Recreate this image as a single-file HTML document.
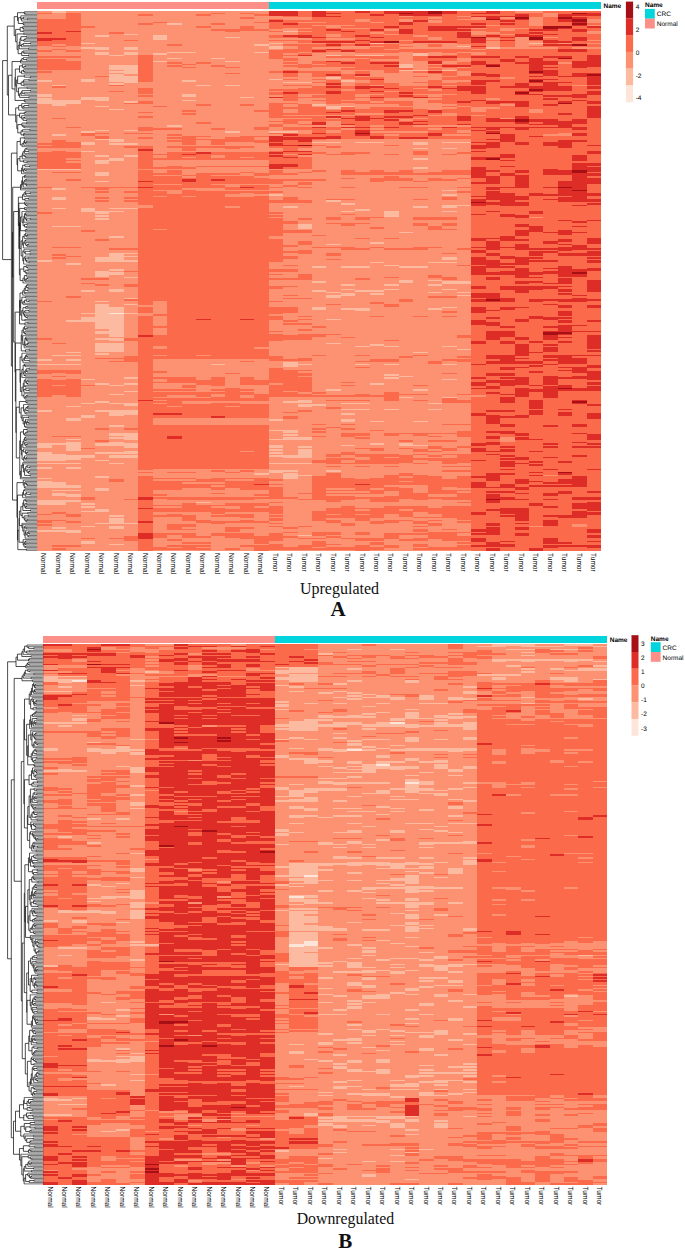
<!DOCTYPE html>
<html lang="en"><head><meta charset="utf-8"><title>Heatmaps: Upregulated / Downregulated</title>
<style>html,body{margin:0;padding:0;background:#fff}svg{display:block}</style></head>
<body>
<svg width="685" height="1250" viewBox="0 0 685 1250" font-family="'Liberation Sans', Arial, sans-serif" shape-rendering="crispEdges">
<rect width="685" height="1250" fill="#fff"/>
<g id="panelA">
<rect x="37.1" y="1.75" width="231.47" height="7" fill="#FD8F89"/><rect x="268.57" y="1.75" width="332.73" height="7" fill="#00D5DD"/>
<rect x="37.1" y="11" width="564.2" height="540" fill="#FC9272"/>
<path fill="#FEE5D9" d="M109.43 312.5h14.47v1.5h-14.47z"/>
<path fill="#FCBBA1" d="M51.57 11h14.47v1.5h-14.47zM167.3 23h14.47v1.5h-14.47zM283.03 30.5h14.47v1.5h-14.47zM123.9 33.5h14.47v1.5h-14.47zM94.97 35h14.47v1.5h-14.47zM152.83 35h14.47v1.5h-14.47zM152.83 36.5h14.47v1.5h-14.47zM225.17 36.5h14.47v1.5h-14.47zM152.83 38h14.47v1.5h-14.47zM80.5 42.5h14.47v1.5h-14.47zM268.57 42.5h14.47v1.5h-14.47zM369.83 42.5h14.47v1.5h-14.47zM528.97 42.5h14.47v1.5h-14.47zM254.1 44h14.47v1.5h-14.47zM268.57 45.5h14.47v1.5h-14.47zM456.63 45.5h14.47v1.5h-14.47zM80.5 47h28.93v1.5h-28.93zM123.9 47h14.47v1.5h-14.47zM268.57 47h14.47v1.5h-14.47zM485.57 47h14.47v1.5h-14.47zM94.97 48.5h14.47v1.5h-14.47zM123.9 48.5h14.47v1.5h-14.47zM94.97 51.5h14.47v1.5h-14.47zM123.9 51.5h14.47v1.5h-14.47zM167.3 51.5h28.93v1.5h-28.93zM254.1 51.5h14.47v1.5h-14.47zM94.97 53h14.47v1.5h-14.47zM123.9 53h14.47v1.5h-14.47zM152.83 53h14.47v1.5h-14.47zM413.23 53h14.47v1.5h-14.47zM109.43 54.5h14.47v1.5h-14.47zM326.43 54.5h14.47v1.5h-14.47zM355.37 54.5h28.93v1.5h-28.93zM413.23 54.5h14.47v1.5h-14.47zM167.3 57.5h14.47v1.5h-14.47zM210.7 57.5h14.47v1.5h-14.47zM152.83 60.5h14.47v1.5h-14.47zM225.17 60.5h14.47v1.5h-14.47zM398.77 63.5h14.47v1.5h-14.47zM109.43 65h28.93v1.5h-28.93zM398.77 65h14.47v1.5h-14.47zM109.43 66.5h28.93v1.5h-28.93zM398.77 66.5h14.47v1.5h-14.47zM109.43 68h28.93v1.5h-28.93zM123.9 69.5h14.47v1.5h-14.47zM398.77 69.5h28.93v1.5h-28.93zM442.17 69.5h14.47v1.5h-14.47zM109.43 71h28.93v1.5h-28.93zM123.9 72.5h14.47v1.5h-14.47zM109.43 74h14.47v1.5h-14.47zM109.43 75.5h28.93v1.5h-28.93zM109.43 77h28.93v1.5h-28.93zM326.43 77h14.47v1.5h-14.47zM80.5 78.5h14.47v1.5h-14.47zM109.43 78.5h28.93v1.5h-28.93zM268.57 78.5h14.47v1.5h-14.47zM37.1 80h14.47v1.5h-14.47zM80.5 80h14.47v1.5h-14.47zM109.43 80h28.93v1.5h-28.93zM181.77 80h14.47v1.5h-14.47zM340.9 80h14.47v1.5h-14.47zM123.9 81.5h14.47v1.5h-14.47zM283.03 81.5h28.93v1.5h-28.93zM109.43 83h14.47v1.5h-14.47zM51.57 84.5h14.47v1.5h-14.47zM196.23 84.5h14.47v1.5h-14.47zM225.17 84.5h14.47v1.5h-14.47zM37.1 93.5h14.47v1.5h-14.47zM181.77 93.5h14.47v1.5h-14.47zM37.1 95h14.47v1.5h-14.47zM181.77 95h14.47v1.5h-14.47zM80.5 96.5h28.93v1.5h-28.93zM239.63 96.5h14.47v1.5h-14.47zM37.1 98h14.47v1.5h-14.47zM80.5 98h28.93v1.5h-28.93zM37.1 99.5h43.4v1.5h-43.4zM94.97 99.5h14.47v1.5h-14.47zM181.77 99.5h14.47v1.5h-14.47zM37.1 101h43.4v1.5h-43.4zM123.9 101h14.47v1.5h-14.47zM37.1 102.5h43.4v1.5h-43.4zM51.57 104h14.47v1.5h-14.47zM311.97 104h14.47v1.5h-14.47zM94.97 105.5h14.47v1.5h-14.47zM326.43 105.5h28.93v1.5h-28.93zM326.43 107h14.47v1.5h-14.47zM109.43 108.5h14.47v1.5h-14.47zM167.3 125h14.47v1.5h-14.47zM94.97 129.5h14.47v1.5h-14.47zM123.9 129.5h14.47v1.5h-14.47zM80.5 131h14.47v1.5h-14.47zM225.17 131h14.47v1.5h-14.47zM268.57 131h28.93v1.5h-28.93zM51.57 134h14.47v1.5h-14.47zM94.97 138.5h28.93v1.5h-28.93zM109.43 140h14.47v1.5h-14.47zM80.5 141.5h14.47v1.5h-14.47zM311.97 141.5h28.93v1.5h-28.93zM355.37 141.5h28.93v1.5h-28.93zM413.23 141.5h14.47v1.5h-14.47zM442.17 141.5h28.93v1.5h-28.93zM80.5 143h14.47v1.5h-14.47zM109.43 143h28.93v1.5h-28.93zM413.23 143h14.47v1.5h-14.47zM413.23 147.5h14.47v1.5h-14.47zM442.17 147.5h14.47v1.5h-14.47zM80.5 150.5h14.47v1.5h-14.47zM94.97 155h14.47v1.5h-14.47zM123.9 155h14.47v1.5h-14.47zM109.43 158h14.47v1.5h-14.47zM413.23 158h14.47v1.5h-14.47zM94.97 159.5h28.93v1.5h-28.93zM94.97 161h14.47v1.5h-14.47zM94.97 162.5h14.47v1.5h-14.47zM413.23 167h14.47v1.5h-14.47zM37.1 168.5h43.4v1.5h-43.4zM94.97 171.5h14.47v1.5h-14.47zM94.97 173h14.47v1.5h-14.47zM94.97 174.5h14.47v1.5h-14.47zM94.97 180.5h14.47v1.5h-14.47zM51.57 188h14.47v1.5h-14.47zM442.17 189.5h14.47v1.5h-14.47zM268.57 194h14.47v1.5h-14.47zM442.17 194h14.47v1.5h-14.47zM51.57 197h14.47v1.5h-14.47zM51.57 198.5h14.47v1.5h-14.47zM326.43 200h14.47v1.5h-14.47zM340.9 203h14.47v1.5h-14.47zM442.17 204.5h28.93v1.5h-28.93zM283.03 206h14.47v1.5h-14.47zM413.23 206h14.47v1.5h-14.47zM442.17 206h14.47v1.5h-14.47zM51.57 207.5h14.47v1.5h-14.47zM80.5 207.5h14.47v1.5h-14.47zM109.43 207.5h28.93v1.5h-28.93zM80.5 209h14.47v1.5h-14.47zM355.37 209h14.47v1.5h-14.47zM80.5 210.5h43.4v1.5h-43.4zM340.9 210.5h14.47v1.5h-14.47zM384.3 210.5h14.47v1.5h-14.47zM442.17 210.5h14.47v1.5h-14.47zM94.97 212h14.47v1.5h-14.47zM384.3 212h14.47v1.5h-14.47zM384.3 213.5h14.47v1.5h-14.47zM94.97 215h14.47v1.5h-14.47zM384.3 215h14.47v1.5h-14.47zM94.97 218h14.47v1.5h-14.47zM297.5 224h14.47v1.5h-14.47zM51.57 225.5h28.93v1.5h-28.93zM297.5 225.5h14.47v1.5h-14.47zM297.5 227h14.47v1.5h-14.47zM398.77 231.5h14.47v1.5h-14.47zM109.43 236h14.47v1.5h-14.47zM369.83 242h14.47v1.5h-14.47zM326.43 243.5h14.47v1.5h-14.47zM109.43 252.5h28.93v1.5h-28.93zM109.43 254h14.47v1.5h-14.47zM109.43 255.5h28.93v1.5h-28.93zM94.97 257h28.93v1.5h-28.93zM442.17 257h14.47v1.5h-14.47zM94.97 258.5h28.93v1.5h-28.93zM442.17 258.5h14.47v1.5h-14.47zM37.1 260h14.47v1.5h-14.47zM94.97 260h43.4v1.5h-43.4zM369.83 261.5h14.47v1.5h-14.47zM427.7 261.5h28.93v1.5h-28.93zM66.03 263h14.47v1.5h-14.47zM384.3 264.5h14.47v1.5h-14.47zM311.97 266h14.47v1.5h-14.47zM340.9 266h28.93v1.5h-28.93zM398.77 266h28.93v1.5h-28.93zM109.43 269h14.47v1.5h-14.47zM94.97 270.5h14.47v1.5h-14.47zM94.97 272h28.93v1.5h-28.93zM94.97 273.5h28.93v1.5h-28.93zM94.97 275h14.47v1.5h-14.47zM123.9 276.5h14.47v1.5h-14.47zM398.77 279.5h14.47v1.5h-14.47zM427.7 279.5h14.47v1.5h-14.47zM311.97 281h14.47v1.5h-14.47zM398.77 281h14.47v1.5h-14.47zM442.17 281h28.93v1.5h-28.93zM442.17 282.5h28.93v1.5h-28.93zM340.9 284h14.47v1.5h-14.47zM384.3 284h14.47v1.5h-14.47zM427.7 284h14.47v1.5h-14.47zM109.43 288.5h14.47v1.5h-14.47zM340.9 288.5h14.47v1.5h-14.47zM384.3 288.5h14.47v1.5h-14.47zM442.17 288.5h14.47v1.5h-14.47zM80.5 290h14.47v1.5h-14.47zM109.43 290h14.47v1.5h-14.47zM311.97 290h14.47v1.5h-14.47zM355.37 290h28.93v1.5h-28.93zM326.43 291.5h14.47v1.5h-14.47zM427.7 291.5h14.47v1.5h-14.47zM456.63 291.5h14.47v1.5h-14.47zM340.9 293h14.47v1.5h-14.47zM369.83 293h14.47v1.5h-14.47zM326.43 294.5h28.93v1.5h-28.93zM456.63 294.5h14.47v1.5h-14.47zM326.43 296h14.47v1.5h-14.47zM123.9 297.5h14.47v1.5h-14.47zM94.97 300.5h14.47v1.5h-14.47zM94.97 303.5h14.47v1.5h-14.47zM123.9 303.5h14.47v1.5h-14.47zM94.97 305h14.47v1.5h-14.47zM94.97 306.5h28.93v1.5h-28.93zM311.97 306.5h14.47v1.5h-14.47zM442.17 306.5h14.47v1.5h-14.47zM94.97 308h28.93v1.5h-28.93zM311.97 308h14.47v1.5h-14.47zM340.9 308h28.93v1.5h-28.93zM427.7 308h14.47v1.5h-14.47zM94.97 309.5h28.93v1.5h-28.93zM355.37 309.5h14.47v1.5h-14.47zM94.97 311h28.93v1.5h-28.93zM80.5 312.5h28.93v1.5h-28.93zM123.9 312.5h14.47v1.5h-14.47zM94.97 314h28.93v1.5h-28.93zM94.97 315.5h28.93v1.5h-28.93zM80.5 317h43.4v1.5h-43.4zM80.5 318.5h43.4v1.5h-43.4zM326.43 318.5h14.47v1.5h-14.47zM66.03 320h57.87v1.5h-57.87zM94.97 321.5h28.93v1.5h-28.93zM94.97 323h28.93v1.5h-28.93zM94.97 324.5h28.93v1.5h-28.93zM94.97 326h28.93v1.5h-28.93zM94.97 327.5h28.93v1.5h-28.93zM109.43 329h14.47v1.5h-14.47zM94.97 330.5h28.93v1.5h-28.93zM94.97 332h28.93v1.5h-28.93zM109.43 333.5h14.47v1.5h-14.47zM109.43 335h14.47v1.5h-14.47zM94.97 338h28.93v1.5h-28.93zM109.43 339.5h14.47v1.5h-14.47zM94.97 342.5h28.93v1.5h-28.93zM326.43 342.5h14.47v1.5h-14.47zM94.97 344h28.93v1.5h-28.93zM369.83 344h14.47v1.5h-14.47zM94.97 345.5h28.93v1.5h-28.93zM355.37 345.5h14.47v1.5h-14.47zM384.3 345.5h14.47v1.5h-14.47zM442.17 345.5h14.47v1.5h-14.47zM94.97 347h28.93v1.5h-28.93zM94.97 348.5h28.93v1.5h-28.93zM456.63 348.5h14.47v1.5h-14.47zM94.97 350h28.93v1.5h-28.93zM66.03 351.5h14.47v1.5h-14.47zM413.23 351.5h14.47v1.5h-14.47zM94.97 353h14.47v1.5h-14.47zM51.57 354.5h28.93v1.5h-28.93zM37.1 359h14.47v1.5h-14.47zM66.03 359h14.47v1.5h-14.47zM283.03 362h14.47v1.5h-14.47zM37.1 363.5h43.4v1.5h-43.4zM210.7 363.5h14.47v1.5h-14.47zM283.03 363.5h28.93v1.5h-28.93zM355.37 363.5h14.47v1.5h-14.47zM384.3 363.5h14.47v1.5h-14.47zM442.17 363.5h14.47v1.5h-14.47zM283.03 365h14.47v1.5h-14.47zM384.3 374h14.47v1.5h-14.47zM398.77 375.5h14.47v1.5h-14.47zM123.9 377h14.47v1.5h-14.47zM384.3 377h14.47v1.5h-14.47zM80.5 378.5h14.47v1.5h-14.47zM442.17 378.5h14.47v1.5h-14.47zM94.97 383h14.47v1.5h-14.47zM123.9 383h14.47v1.5h-14.47zM369.83 383h14.47v1.5h-14.47zM109.43 384.5h14.47v1.5h-14.47zM326.43 389h14.47v1.5h-14.47zM413.23 389h14.47v1.5h-14.47zM123.9 390.5h14.47v1.5h-14.47zM109.43 393.5h14.47v1.5h-14.47zM398.77 396.5h14.47v1.5h-14.47zM442.17 396.5h14.47v1.5h-14.47zM297.5 399.5h14.47v1.5h-14.47zM94.97 401h14.47v1.5h-14.47zM283.03 401h28.93v1.5h-28.93zM80.5 402.5h14.47v1.5h-14.47zM109.43 402.5h28.93v1.5h-28.93zM340.9 402.5h28.93v1.5h-28.93zM427.7 402.5h14.47v1.5h-14.47zM123.9 404h14.47v1.5h-14.47zM297.5 404h28.93v1.5h-28.93zM66.03 405.5h14.47v1.5h-14.47zM297.5 405.5h14.47v1.5h-14.47zM340.9 408.5h28.93v1.5h-28.93zM384.3 408.5h14.47v1.5h-14.47zM427.7 408.5h14.47v1.5h-14.47zM37.1 410h14.47v1.5h-14.47zM94.97 410h43.4v1.5h-43.4zM109.43 411.5h28.93v1.5h-28.93zM109.43 413h28.93v1.5h-28.93zM340.9 413h14.47v1.5h-14.47zM80.5 414.5h14.47v1.5h-14.47zM109.43 414.5h14.47v1.5h-14.47zM80.5 416h14.47v1.5h-14.47zM66.03 417.5h14.47v1.5h-14.47zM66.03 419h14.47v1.5h-14.47zM268.57 419h14.47v1.5h-14.47zM340.9 419h14.47v1.5h-14.47zM340.9 420.5h14.47v1.5h-14.47zM369.83 420.5h14.47v1.5h-14.47zM413.23 420.5h14.47v1.5h-14.47zM109.43 425h14.47v1.5h-14.47zM268.57 429.5h28.93v1.5h-28.93zM283.03 431h14.47v1.5h-14.47zM109.43 432.5h28.93v1.5h-28.93zM109.43 434h28.93v1.5h-28.93zM283.03 434h14.47v1.5h-14.47zM123.9 435.5h14.47v1.5h-14.47zM109.43 437h28.93v1.5h-28.93zM283.03 437h28.93v1.5h-28.93zM66.03 438.5h14.47v1.5h-14.47zM123.9 438.5h14.47v1.5h-14.47zM268.57 438.5h43.4v1.5h-43.4zM66.03 441.5h14.47v1.5h-14.47zM109.43 441.5h14.47v1.5h-14.47zM37.1 443h43.4v1.5h-43.4zM94.97 443h43.4v1.5h-43.4zM369.83 443h14.47v1.5h-14.47zM398.77 443h14.47v1.5h-14.47zM37.1 444.5h14.47v1.5h-14.47zM66.03 444.5h14.47v1.5h-14.47zM94.97 444.5h43.4v1.5h-43.4zM268.57 444.5h14.47v1.5h-14.47zM340.9 444.5h14.47v1.5h-14.47zM398.77 444.5h28.93v1.5h-28.93zM37.1 446h14.47v1.5h-14.47zM66.03 446h14.47v1.5h-14.47zM123.9 446h14.47v1.5h-14.47zM268.57 446h14.47v1.5h-14.47zM297.5 446h14.47v1.5h-14.47zM66.03 447.5h14.47v1.5h-14.47zM66.03 449h14.47v1.5h-14.47zM268.57 449h14.47v1.5h-14.47zM297.5 449h14.47v1.5h-14.47zM123.9 450.5h14.47v1.5h-14.47zM297.5 450.5h14.47v1.5h-14.47zM37.1 452h14.47v1.5h-14.47zM94.97 452h43.4v1.5h-43.4zM268.57 452h14.47v1.5h-14.47zM297.5 452h14.47v1.5h-14.47zM37.1 453.5h28.93v1.5h-28.93zM297.5 453.5h14.47v1.5h-14.47zM37.1 455h57.87v1.5h-57.87zM109.43 455h28.93v1.5h-28.93zM268.57 455h43.4v1.5h-43.4zM37.1 456.5h57.87v1.5h-57.87zM109.43 456.5h28.93v1.5h-28.93zM283.03 456.5h28.93v1.5h-28.93zM37.1 458h43.4v1.5h-43.4zM37.1 459.5h28.93v1.5h-28.93zM94.97 459.5h14.47v1.5h-14.47zM37.1 462.5h43.4v1.5h-43.4zM109.43 462.5h14.47v1.5h-14.47zM268.57 462.5h43.4v1.5h-43.4zM37.1 467h14.47v1.5h-14.47zM66.03 467h14.47v1.5h-14.47zM268.57 470h28.93v1.5h-28.93zM326.43 470h14.47v1.5h-14.47zM268.57 471.5h14.47v1.5h-14.47zM254.1 473h14.47v1.5h-14.47zM283.03 473h14.47v1.5h-14.47zM283.03 474.5h28.93v1.5h-28.93zM94.97 476h14.47v1.5h-14.47zM283.03 476h14.47v1.5h-14.47zM37.1 477.5h14.47v1.5h-14.47zM283.03 477.5h14.47v1.5h-14.47zM37.1 480.5h14.47v1.5h-14.47zM37.1 482h28.93v1.5h-28.93zM37.1 483.5h28.93v1.5h-28.93zM37.1 485h43.4v1.5h-43.4zM37.1 486.5h43.4v1.5h-43.4zM94.97 488h14.47v1.5h-14.47zM51.57 489.5h28.93v1.5h-28.93zM94.97 489.5h14.47v1.5h-14.47zM51.57 492.5h14.47v1.5h-14.47zM51.57 494h28.93v1.5h-28.93zM66.03 495.5h14.47v1.5h-14.47zM37.1 500h43.4v1.5h-43.4zM37.1 501.5h28.93v1.5h-28.93zM196.23 501.5h14.47v1.5h-14.47zM37.1 503h28.93v1.5h-28.93zM80.5 503h14.47v1.5h-14.47zM80.5 506h14.47v1.5h-14.47zM94.97 509h14.47v1.5h-14.47zM80.5 510.5h28.93v1.5h-28.93zM109.43 515h14.47v1.5h-14.47zM109.43 518h14.47v1.5h-14.47zM109.43 519.5h14.47v1.5h-14.47zM109.43 521h14.47v1.5h-14.47zM94.97 522.5h43.4v1.5h-43.4zM80.5 525.5h14.47v1.5h-14.47zM109.43 525.5h14.47v1.5h-14.47zM51.57 527h14.47v1.5h-14.47zM109.43 527h14.47v1.5h-14.47zM37.1 530h43.4v1.5h-43.4zM66.03 531.5h14.47v1.5h-14.47zM297.5 534.5h14.47v1.5h-14.47zM80.5 540.5h14.47v1.5h-14.47zM80.5 542h14.47v1.5h-14.47zM109.43 543.5h14.47v1.5h-14.47z"/>
<path fill="#FB6A4A" d="M297.5 11h14.47v1.5h-14.47zM326.43 11h28.93v1.5h-28.93zM369.83 11h14.47v1.5h-14.47zM456.63 11h28.93v1.5h-28.93zM500.03 11h14.47v1.5h-14.47zM543.43 11h57.87v1.5h-57.87zM37.1 12.5h14.47v1.5h-14.47zM66.03 12.5h14.47v1.5h-14.47zM210.7 12.5h14.47v1.5h-14.47zM239.63 12.5h14.47v1.5h-14.47zM297.5 12.5h14.47v1.5h-14.47zM340.9 12.5h43.4v1.5h-43.4zM456.63 12.5h14.47v1.5h-14.47zM500.03 12.5h43.4v1.5h-43.4zM557.9 12.5h14.47v1.5h-14.47zM66.03 14h14.47v1.5h-14.47zM138.37 14h14.47v1.5h-14.47zM196.23 14h14.47v1.5h-14.47zM254.1 14h14.47v1.5h-14.47zM297.5 14h14.47v1.5h-14.47zM326.43 14h43.4v1.5h-43.4zM384.3 14h14.47v1.5h-14.47zM442.17 14h72.33v1.5h-72.33zM528.97 14h14.47v1.5h-14.47zM66.03 15.5h14.47v1.5h-14.47zM283.03 15.5h28.93v1.5h-28.93zM340.9 15.5h57.87v1.5h-57.87zM413.23 15.5h43.4v1.5h-43.4zM528.97 15.5h14.47v1.5h-14.47zM572.37 15.5h28.93v1.5h-28.93zM66.03 17h14.47v1.5h-14.47zM239.63 17h14.47v1.5h-14.47zM311.97 17h115.73v1.5h-115.73zM442.17 17h28.93v1.5h-28.93zM543.43 17h14.47v1.5h-14.47zM586.83 17h14.47v1.5h-14.47zM37.1 18.5h43.4v1.5h-43.4zM268.57 18.5h14.47v1.5h-14.47zM311.97 18.5h43.4v1.5h-43.4zM369.83 18.5h28.93v1.5h-28.93zM413.23 18.5h43.4v1.5h-43.4zM500.03 18.5h14.47v1.5h-14.47zM543.43 18.5h14.47v1.5h-14.47zM37.1 20h43.4v1.5h-43.4zM283.03 20h72.33v1.5h-72.33zM369.83 20h28.93v1.5h-28.93zM442.17 20h57.87v1.5h-57.87zM514.5 20h14.47v1.5h-14.47zM543.43 20h14.47v1.5h-14.47zM37.1 21.5h43.4v1.5h-43.4zM152.83 21.5h14.47v1.5h-14.47zM254.1 21.5h43.4v1.5h-43.4zM326.43 21.5h43.4v1.5h-43.4zM384.3 21.5h14.47v1.5h-14.47zM413.23 21.5h14.47v1.5h-14.47zM442.17 21.5h86.8v1.5h-86.8zM543.43 21.5h28.93v1.5h-28.93zM37.1 23h43.4v1.5h-43.4zM138.37 23h14.47v1.5h-14.47zM210.7 23h14.47v1.5h-14.47zM268.57 23h14.47v1.5h-14.47zM297.5 23h101.27v1.5h-101.27zM413.23 23h57.87v1.5h-57.87zM485.57 23h14.47v1.5h-14.47zM514.5 23h14.47v1.5h-14.47zM543.43 23h28.93v1.5h-28.93zM586.83 23h14.47v1.5h-14.47zM37.1 24.5h43.4v1.5h-43.4zM268.57 24.5h43.4v1.5h-43.4zM355.37 24.5h130.2v1.5h-130.2zM500.03 24.5h28.93v1.5h-28.93zM543.43 24.5h28.93v1.5h-28.93zM37.1 26h57.87v1.5h-57.87zM196.23 26h14.47v1.5h-14.47zM239.63 26h14.47v1.5h-14.47zM268.57 26h57.87v1.5h-57.87zM340.9 26h43.4v1.5h-43.4zM398.77 26h28.93v1.5h-28.93zM485.57 26h57.87v1.5h-57.87zM572.37 26h14.47v1.5h-14.47zM37.1 27.5h43.4v1.5h-43.4zM239.63 27.5h14.47v1.5h-14.47zM268.57 27.5h14.47v1.5h-14.47zM311.97 27.5h28.93v1.5h-28.93zM369.83 27.5h57.87v1.5h-57.87zM456.63 27.5h14.47v1.5h-14.47zM485.57 27.5h14.47v1.5h-14.47zM528.97 27.5h14.47v1.5h-14.47zM572.37 27.5h28.93v1.5h-28.93zM37.1 29h43.4v1.5h-43.4zM210.7 29h57.87v1.5h-57.87zM297.5 29h28.93v1.5h-28.93zM340.9 29h28.93v1.5h-28.93zM413.23 29h14.47v1.5h-14.47zM471.1 29h28.93v1.5h-28.93zM514.5 29h14.47v1.5h-14.47zM557.9 29h14.47v1.5h-14.47zM586.83 29h14.47v1.5h-14.47zM37.1 30.5h28.93v1.5h-28.93zM225.17 30.5h14.47v1.5h-14.47zM268.57 30.5h14.47v1.5h-14.47zM311.97 30.5h28.93v1.5h-28.93zM355.37 30.5h43.4v1.5h-43.4zM413.23 30.5h57.87v1.5h-57.87zM485.57 30.5h86.8v1.5h-86.8zM51.57 32h28.93v1.5h-28.93zM109.43 32h14.47v1.5h-14.47zM297.5 32h72.33v1.5h-72.33zM384.3 32h14.47v1.5h-14.47zM413.23 32h43.4v1.5h-43.4zM500.03 32h28.93v1.5h-28.93zM543.43 32h43.4v1.5h-43.4zM37.1 33.5h43.4v1.5h-43.4zM297.5 33.5h28.93v1.5h-28.93zM340.9 33.5h43.4v1.5h-43.4zM398.77 33.5h57.87v1.5h-57.87zM485.57 33.5h14.47v1.5h-14.47zM528.97 33.5h14.47v1.5h-14.47zM557.9 33.5h43.4v1.5h-43.4zM37.1 35h43.4v1.5h-43.4zM268.57 35h14.47v1.5h-14.47zM311.97 35h14.47v1.5h-14.47zM340.9 35h14.47v1.5h-14.47zM369.83 35h43.4v1.5h-43.4zM427.7 35h28.93v1.5h-28.93zM471.1 35h14.47v1.5h-14.47zM500.03 35h14.47v1.5h-14.47zM543.43 35h57.87v1.5h-57.87zM37.1 36.5h43.4v1.5h-43.4zM268.57 36.5h28.93v1.5h-28.93zM326.43 36.5h43.4v1.5h-43.4zM384.3 36.5h43.4v1.5h-43.4zM442.17 36.5h14.47v1.5h-14.47zM485.57 36.5h14.47v1.5h-14.47zM557.9 36.5h14.47v1.5h-14.47zM586.83 36.5h14.47v1.5h-14.47zM66.03 38h14.47v1.5h-14.47zM311.97 38h14.47v1.5h-14.47zM355.37 38h72.33v1.5h-72.33zM442.17 38h28.93v1.5h-28.93zM500.03 38h14.47v1.5h-14.47zM543.43 38h28.93v1.5h-28.93zM586.83 38h14.47v1.5h-14.47zM51.57 39.5h28.93v1.5h-28.93zM123.9 39.5h14.47v1.5h-14.47zM268.57 39.5h86.8v1.5h-86.8zM369.83 39.5h28.93v1.5h-28.93zM413.23 39.5h57.87v1.5h-57.87zM485.57 39.5h14.47v1.5h-14.47zM528.97 39.5h14.47v1.5h-14.47zM557.9 39.5h14.47v1.5h-14.47zM37.1 41h43.4v1.5h-43.4zM297.5 41h14.47v1.5h-14.47zM355.37 41h14.47v1.5h-14.47zM398.77 41h14.47v1.5h-14.47zM456.63 41h14.47v1.5h-14.47zM500.03 41h14.47v1.5h-14.47zM572.37 41h28.93v1.5h-28.93zM37.1 42.5h43.4v1.5h-43.4zM326.43 42.5h14.47v1.5h-14.47zM355.37 42.5h14.47v1.5h-14.47zM398.77 42.5h14.47v1.5h-14.47zM456.63 42.5h28.93v1.5h-28.93zM500.03 42.5h14.47v1.5h-14.47zM543.43 42.5h14.47v1.5h-14.47zM572.37 42.5h14.47v1.5h-14.47zM37.1 44h14.47v1.5h-14.47zM66.03 44h14.47v1.5h-14.47zM167.3 44h14.47v1.5h-14.47zM283.03 44h43.4v1.5h-43.4zM340.9 44h14.47v1.5h-14.47zM369.83 44h28.93v1.5h-28.93zM427.7 44h14.47v1.5h-14.47zM471.1 44h14.47v1.5h-14.47zM500.03 44h14.47v1.5h-14.47zM586.83 44h14.47v1.5h-14.47zM51.57 45.5h14.47v1.5h-14.47zM297.5 45.5h43.4v1.5h-43.4zM384.3 45.5h28.93v1.5h-28.93zM427.7 45.5h14.47v1.5h-14.47zM500.03 45.5h14.47v1.5h-14.47zM528.97 45.5h72.33v1.5h-72.33zM297.5 47h14.47v1.5h-14.47zM369.83 47h28.93v1.5h-28.93zM471.1 47h14.47v1.5h-14.47zM557.9 47h14.47v1.5h-14.47zM51.57 48.5h14.47v1.5h-14.47zM283.03 48.5h43.4v1.5h-43.4zM340.9 48.5h43.4v1.5h-43.4zM398.77 48.5h72.33v1.5h-72.33zM485.57 48.5h72.33v1.5h-72.33zM586.83 48.5h14.47v1.5h-14.47zM37.1 50h14.47v1.5h-14.47zM66.03 50h14.47v1.5h-14.47zM268.57 50h43.4v1.5h-43.4zM326.43 50h14.47v1.5h-14.47zM355.37 50h202.53v1.5h-202.53zM586.83 50h14.47v1.5h-14.47zM268.57 51.5h28.93v1.5h-28.93zM311.97 51.5h14.47v1.5h-14.47zM355.37 51.5h43.4v1.5h-43.4zM413.23 51.5h14.47v1.5h-14.47zM442.17 51.5h14.47v1.5h-14.47zM485.57 51.5h115.73v1.5h-115.73zM268.57 53h14.47v1.5h-14.47zM297.5 53h14.47v1.5h-14.47zM456.63 53h14.47v1.5h-14.47zM485.57 53h115.73v1.5h-115.73zM138.37 54.5h14.47v1.5h-14.47zM268.57 54.5h28.93v1.5h-28.93zM442.17 54.5h144.67v1.5h-144.67zM37.1 56h43.4v1.5h-43.4zM138.37 56h14.47v1.5h-14.47zM268.57 56h14.47v1.5h-14.47zM326.43 56h72.33v1.5h-72.33zM413.23 56h14.47v1.5h-14.47zM456.63 56h14.47v1.5h-14.47zM500.03 56h14.47v1.5h-14.47zM528.97 56h14.47v1.5h-14.47zM572.37 56h14.47v1.5h-14.47zM138.37 57.5h14.47v1.5h-14.47zM268.57 57.5h28.93v1.5h-28.93zM369.83 57.5h28.93v1.5h-28.93zM413.23 57.5h43.4v1.5h-43.4zM471.1 57.5h57.87v1.5h-57.87zM543.43 57.5h14.47v1.5h-14.47zM572.37 57.5h14.47v1.5h-14.47zM37.1 59h28.93v1.5h-28.93zM138.37 59h14.47v1.5h-14.47zM283.03 59h14.47v1.5h-14.47zM355.37 59h14.47v1.5h-14.47zM413.23 59h43.4v1.5h-43.4zM471.1 59h28.93v1.5h-28.93zM514.5 59h14.47v1.5h-14.47zM543.43 59h43.4v1.5h-43.4zM37.1 60.5h43.4v1.5h-43.4zM138.37 60.5h14.47v1.5h-14.47zM311.97 60.5h14.47v1.5h-14.47zM340.9 60.5h57.87v1.5h-57.87zM485.57 60.5h14.47v1.5h-14.47zM514.5 60.5h14.47v1.5h-14.47zM557.9 60.5h14.47v1.5h-14.47zM37.1 62h43.4v1.5h-43.4zM138.37 62h14.47v1.5h-14.47zM167.3 62h14.47v1.5h-14.47zM196.23 62h14.47v1.5h-14.47zM283.03 62h14.47v1.5h-14.47zM311.97 62h28.93v1.5h-28.93zM355.37 62h14.47v1.5h-14.47zM456.63 62h14.47v1.5h-14.47zM485.57 62h28.93v1.5h-28.93zM37.1 63.5h43.4v1.5h-43.4zM138.37 63.5h14.47v1.5h-14.47zM181.77 63.5h14.47v1.5h-14.47zM297.5 63.5h14.47v1.5h-14.47zM326.43 63.5h72.33v1.5h-72.33zM442.17 63.5h28.93v1.5h-28.93zM500.03 63.5h28.93v1.5h-28.93zM557.9 63.5h14.47v1.5h-14.47zM37.1 65h43.4v1.5h-43.4zM138.37 65h14.47v1.5h-14.47zM167.3 65h14.47v1.5h-14.47zM210.7 65h14.47v1.5h-14.47zM283.03 65h101.27v1.5h-101.27zM427.7 65h14.47v1.5h-14.47zM471.1 65h14.47v1.5h-14.47zM500.03 65h28.93v1.5h-28.93zM543.43 65h28.93v1.5h-28.93zM37.1 66.5h43.4v1.5h-43.4zM138.37 66.5h14.47v1.5h-14.47zM181.77 66.5h14.47v1.5h-14.47zM225.17 66.5h14.47v1.5h-14.47zM297.5 66.5h14.47v1.5h-14.47zM355.37 66.5h43.4v1.5h-43.4zM442.17 66.5h14.47v1.5h-14.47zM471.1 66.5h57.87v1.5h-57.87zM557.9 66.5h14.47v1.5h-14.47zM586.83 66.5h14.47v1.5h-14.47zM37.1 68h43.4v1.5h-43.4zM138.37 68h14.47v1.5h-14.47zM340.9 68h72.33v1.5h-72.33zM427.7 68h14.47v1.5h-14.47zM456.63 68h72.33v1.5h-72.33zM543.43 68h57.87v1.5h-57.87zM138.37 69.5h14.47v1.5h-14.47zM283.03 69.5h14.47v1.5h-14.47zM384.3 69.5h14.47v1.5h-14.47zM456.63 69.5h72.33v1.5h-72.33zM557.9 69.5h43.4v1.5h-43.4zM37.1 71h14.47v1.5h-14.47zM138.37 71h14.47v1.5h-14.47zM268.57 71h14.47v1.5h-14.47zM297.5 71h43.4v1.5h-43.4zM355.37 71h14.47v1.5h-14.47zM384.3 71h14.47v1.5h-14.47zM413.23 71h14.47v1.5h-14.47zM442.17 71h14.47v1.5h-14.47zM471.1 71h57.87v1.5h-57.87zM557.9 71h43.4v1.5h-43.4zM138.37 72.5h14.47v1.5h-14.47zM225.17 72.5h14.47v1.5h-14.47zM283.03 72.5h14.47v1.5h-14.47zM311.97 72.5h28.93v1.5h-28.93zM355.37 72.5h14.47v1.5h-14.47zM427.7 72.5h28.93v1.5h-28.93zM485.57 72.5h43.4v1.5h-43.4zM557.9 72.5h14.47v1.5h-14.47zM138.37 74h14.47v1.5h-14.47zM283.03 74h14.47v1.5h-14.47zM311.97 74h14.47v1.5h-14.47zM340.9 74h14.47v1.5h-14.47zM442.17 74h14.47v1.5h-14.47zM500.03 74h43.4v1.5h-43.4zM557.9 74h14.47v1.5h-14.47zM94.97 75.5h14.47v1.5h-14.47zM138.37 75.5h14.47v1.5h-14.47zM283.03 75.5h14.47v1.5h-14.47zM311.97 75.5h14.47v1.5h-14.47zM340.9 75.5h14.47v1.5h-14.47zM413.23 75.5h14.47v1.5h-14.47zM456.63 75.5h28.93v1.5h-28.93zM500.03 75.5h28.93v1.5h-28.93zM543.43 75.5h14.47v1.5h-14.47zM138.37 77h14.47v1.5h-14.47zM340.9 77h43.4v1.5h-43.4zM442.17 77h57.87v1.5h-57.87zM514.5 77h72.33v1.5h-72.33zM138.37 78.5h14.47v1.5h-14.47zM283.03 78.5h14.47v1.5h-14.47zM311.97 78.5h14.47v1.5h-14.47zM355.37 78.5h14.47v1.5h-14.47zM442.17 78.5h86.8v1.5h-86.8zM557.9 78.5h28.93v1.5h-28.93zM138.37 80h14.47v1.5h-14.47zM326.43 80h14.47v1.5h-14.47zM369.83 80h14.47v1.5h-14.47zM427.7 80h14.47v1.5h-14.47zM500.03 80h28.93v1.5h-28.93zM543.43 80h43.4v1.5h-43.4zM311.97 81.5h28.93v1.5h-28.93zM369.83 81.5h14.47v1.5h-14.47zM413.23 81.5h28.93v1.5h-28.93zM456.63 81.5h14.47v1.5h-14.47zM485.57 81.5h43.4v1.5h-43.4zM572.37 81.5h14.47v1.5h-14.47zM355.37 83h43.4v1.5h-43.4zM427.7 83h43.4v1.5h-43.4zM485.57 83h28.93v1.5h-28.93zM528.97 83h14.47v1.5h-14.47zM557.9 83h28.93v1.5h-28.93zM109.43 84.5h14.47v1.5h-14.47zM283.03 84.5h28.93v1.5h-28.93zM326.43 84.5h14.47v1.5h-14.47zM355.37 84.5h14.47v1.5h-14.47zM384.3 84.5h14.47v1.5h-14.47zM427.7 84.5h14.47v1.5h-14.47zM456.63 84.5h57.87v1.5h-57.87zM528.97 84.5h14.47v1.5h-14.47zM557.9 84.5h14.47v1.5h-14.47zM586.83 84.5h14.47v1.5h-14.47zM51.57 86h14.47v1.5h-14.47zM311.97 86h14.47v1.5h-14.47zM340.9 86h14.47v1.5h-14.47zM384.3 86h43.4v1.5h-43.4zM442.17 86h14.47v1.5h-14.47zM485.57 86h14.47v1.5h-14.47zM572.37 86h14.47v1.5h-14.47zM138.37 87.5h14.47v1.5h-14.47zM297.5 87.5h57.87v1.5h-57.87zM369.83 87.5h14.47v1.5h-14.47zM398.77 87.5h14.47v1.5h-14.47zM427.7 87.5h14.47v1.5h-14.47zM485.57 87.5h43.4v1.5h-43.4zM572.37 87.5h14.47v1.5h-14.47zM138.37 89h14.47v1.5h-14.47zM268.57 89h72.33v1.5h-72.33zM355.37 89h72.33v1.5h-72.33zM442.17 89h14.47v1.5h-14.47zM485.57 89h43.4v1.5h-43.4zM572.37 89h28.93v1.5h-28.93zM109.43 90.5h14.47v1.5h-14.47zM138.37 90.5h14.47v1.5h-14.47zM283.03 90.5h43.4v1.5h-43.4zM340.9 90.5h28.93v1.5h-28.93zM398.77 90.5h72.33v1.5h-72.33zM485.57 90.5h28.93v1.5h-28.93zM543.43 90.5h43.4v1.5h-43.4zM138.37 92h14.47v1.5h-14.47zM268.57 92h14.47v1.5h-14.47zM297.5 92h28.93v1.5h-28.93zM340.9 92h57.87v1.5h-57.87zM413.23 92h57.87v1.5h-57.87zM485.57 92h28.93v1.5h-28.93zM528.97 92h57.87v1.5h-57.87zM268.57 93.5h28.93v1.5h-28.93zM326.43 93.5h28.93v1.5h-28.93zM384.3 93.5h28.93v1.5h-28.93zM456.63 93.5h57.87v1.5h-57.87zM543.43 93.5h28.93v1.5h-28.93zM138.37 95h14.47v1.5h-14.47zM283.03 95h14.47v1.5h-14.47zM311.97 95h43.4v1.5h-43.4zM369.83 95h28.93v1.5h-28.93zM413.23 95h14.47v1.5h-14.47zM442.17 95h101.27v1.5h-101.27zM586.83 95h14.47v1.5h-14.47zM283.03 96.5h86.8v1.5h-86.8zM384.3 96.5h28.93v1.5h-28.93zM427.7 96.5h144.67v1.5h-144.67zM586.83 96.5h14.47v1.5h-14.47zM283.03 98h14.47v1.5h-14.47zM326.43 98h28.93v1.5h-28.93zM369.83 98h14.47v1.5h-14.47zM442.17 98h43.4v1.5h-43.4zM500.03 98h43.4v1.5h-43.4zM557.9 98h43.4v1.5h-43.4zM283.03 99.5h14.47v1.5h-14.47zM311.97 99.5h28.93v1.5h-28.93zM369.83 99.5h14.47v1.5h-14.47zM427.7 99.5h43.4v1.5h-43.4zM485.57 99.5h86.8v1.5h-86.8zM586.83 99.5h14.47v1.5h-14.47zM138.37 101h14.47v1.5h-14.47zM326.43 101h43.4v1.5h-43.4zM384.3 101h28.93v1.5h-28.93zM427.7 101h28.93v1.5h-28.93zM471.1 101h14.47v1.5h-14.47zM528.97 101h28.93v1.5h-28.93zM572.37 101h14.47v1.5h-14.47zM123.9 102.5h28.93v1.5h-28.93zM268.57 102.5h28.93v1.5h-28.93zM326.43 102.5h14.47v1.5h-14.47zM355.37 102.5h57.87v1.5h-57.87zM442.17 102.5h43.4v1.5h-43.4zM500.03 102.5h14.47v1.5h-14.47zM528.97 102.5h28.93v1.5h-28.93zM572.37 102.5h14.47v1.5h-14.47zM196.23 104h14.47v1.5h-14.47zM239.63 104h14.47v1.5h-14.47zM268.57 104h14.47v1.5h-14.47zM297.5 104h14.47v1.5h-14.47zM398.77 104h14.47v1.5h-14.47zM456.63 104h43.4v1.5h-43.4zM528.97 104h14.47v1.5h-14.47zM557.9 104h43.4v1.5h-43.4zM152.83 105.5h14.47v1.5h-14.47zM268.57 105.5h14.47v1.5h-14.47zM297.5 105.5h14.47v1.5h-14.47zM442.17 105.5h14.47v1.5h-14.47zM471.1 105.5h43.4v1.5h-43.4zM528.97 105.5h57.87v1.5h-57.87zM268.57 107h57.87v1.5h-57.87zM340.9 107h14.47v1.5h-14.47zM369.83 107h43.4v1.5h-43.4zM456.63 107h14.47v1.5h-14.47zM500.03 107h86.8v1.5h-86.8zM268.57 108.5h14.47v1.5h-14.47zM297.5 108.5h28.93v1.5h-28.93zM340.9 108.5h86.8v1.5h-86.8zM442.17 108.5h28.93v1.5h-28.93zM485.57 108.5h43.4v1.5h-43.4zM543.43 108.5h43.4v1.5h-43.4zM181.77 110h14.47v1.5h-14.47zM254.1 110h28.93v1.5h-28.93zM297.5 110h43.4v1.5h-43.4zM355.37 110h28.93v1.5h-28.93zM413.23 110h14.47v1.5h-14.47zM442.17 110h28.93v1.5h-28.93zM485.57 110h43.4v1.5h-43.4zM543.43 110h43.4v1.5h-43.4zM138.37 111.5h14.47v1.5h-14.47zM268.57 111.5h14.47v1.5h-14.47zM297.5 111.5h28.93v1.5h-28.93zM340.9 111.5h43.4v1.5h-43.4zM398.77 111.5h28.93v1.5h-28.93zM442.17 111.5h86.8v1.5h-86.8zM543.43 111.5h43.4v1.5h-43.4zM181.77 113h14.47v1.5h-14.47zM268.57 113h86.8v1.5h-86.8zM384.3 113h57.87v1.5h-57.87zM456.63 113h101.27v1.5h-101.27zM572.37 113h14.47v1.5h-14.47zM268.57 114.5h14.47v1.5h-14.47zM355.37 114.5h57.87v1.5h-57.87zM456.63 114.5h14.47v1.5h-14.47zM485.57 114.5h101.27v1.5h-101.27zM138.37 116h14.47v1.5h-14.47zM268.57 116h57.87v1.5h-57.87zM340.9 116h14.47v1.5h-14.47zM369.83 116h14.47v1.5h-14.47zM413.23 116h43.4v1.5h-43.4zM471.1 116h43.4v1.5h-43.4zM528.97 116h57.87v1.5h-57.87zM51.57 117.5h14.47v1.5h-14.47zM311.97 117.5h14.47v1.5h-14.47zM384.3 117.5h28.93v1.5h-28.93zM427.7 117.5h28.93v1.5h-28.93zM471.1 117.5h14.47v1.5h-14.47zM528.97 117.5h72.33v1.5h-72.33zM283.03 119h72.33v1.5h-72.33zM369.83 119h14.47v1.5h-14.47zM413.23 119h43.4v1.5h-43.4zM471.1 119h14.47v1.5h-14.47zM557.9 119h14.47v1.5h-14.47zM586.83 119h14.47v1.5h-14.47zM268.57 120.5h28.93v1.5h-28.93zM311.97 120.5h14.47v1.5h-14.47zM340.9 120.5h72.33v1.5h-72.33zM427.7 120.5h57.87v1.5h-57.87zM586.83 120.5h14.47v1.5h-14.47zM196.23 122h14.47v1.5h-14.47zM283.03 122h14.47v1.5h-14.47zM340.9 122h57.87v1.5h-57.87zM413.23 122h101.27v1.5h-101.27zM528.97 122h14.47v1.5h-14.47zM586.83 122h14.47v1.5h-14.47zM268.57 123.5h14.47v1.5h-14.47zM297.5 123.5h14.47v1.5h-14.47zM355.37 123.5h43.4v1.5h-43.4zM427.7 123.5h28.93v1.5h-28.93zM471.1 123.5h57.87v1.5h-57.87zM572.37 123.5h28.93v1.5h-28.93zM268.57 125h14.47v1.5h-14.47zM355.37 125h14.47v1.5h-14.47zM384.3 125h28.93v1.5h-28.93zM471.1 125h86.8v1.5h-86.8zM572.37 125h28.93v1.5h-28.93zM66.03 126.5h14.47v1.5h-14.47zM138.37 126.5h14.47v1.5h-14.47zM254.1 126.5h14.47v1.5h-14.47zM283.03 126.5h28.93v1.5h-28.93zM326.43 126.5h14.47v1.5h-14.47zM369.83 126.5h14.47v1.5h-14.47zM398.77 126.5h43.4v1.5h-43.4zM456.63 126.5h14.47v1.5h-14.47zM586.83 126.5h14.47v1.5h-14.47zM138.37 128h43.4v1.5h-43.4zM210.7 128h14.47v1.5h-14.47zM254.1 128h14.47v1.5h-14.47zM283.03 128h57.87v1.5h-57.87zM355.37 128h14.47v1.5h-14.47zM384.3 128h43.4v1.5h-43.4zM442.17 128h43.4v1.5h-43.4zM500.03 128h14.47v1.5h-14.47zM528.97 128h43.4v1.5h-43.4zM586.83 128h14.47v1.5h-14.47zM138.37 129.5h14.47v1.5h-14.47zM311.97 129.5h14.47v1.5h-14.47zM340.9 129.5h14.47v1.5h-14.47zM369.83 129.5h86.8v1.5h-86.8zM485.57 129.5h115.73v1.5h-115.73zM311.97 131h14.47v1.5h-14.47zM340.9 131h14.47v1.5h-14.47zM427.7 131h28.93v1.5h-28.93zM471.1 131h14.47v1.5h-14.47zM500.03 131h101.27v1.5h-101.27zM80.5 132.5h28.93v1.5h-28.93zM123.9 132.5h28.93v1.5h-28.93zM268.57 132.5h28.93v1.5h-28.93zM326.43 132.5h28.93v1.5h-28.93zM369.83 132.5h57.87v1.5h-57.87zM442.17 132.5h43.4v1.5h-43.4zM500.03 132.5h57.87v1.5h-57.87zM586.83 132.5h14.47v1.5h-14.47zM80.5 134h14.47v1.5h-14.47zM167.3 134h14.47v1.5h-14.47zM297.5 134h57.87v1.5h-57.87zM369.83 134h14.47v1.5h-14.47zM398.77 134h28.93v1.5h-28.93zM471.1 134h28.93v1.5h-28.93zM514.5 134h28.93v1.5h-28.93zM586.83 134h14.47v1.5h-14.47zM94.97 135.5h14.47v1.5h-14.47zM181.77 135.5h28.93v1.5h-28.93zM239.63 135.5h28.93v1.5h-28.93zM283.03 135.5h43.4v1.5h-43.4zM340.9 135.5h28.93v1.5h-28.93zM384.3 135.5h115.73v1.5h-115.73zM514.5 135.5h14.47v1.5h-14.47zM543.43 135.5h57.87v1.5h-57.87zM94.97 137h14.47v1.5h-14.47zM138.37 137h14.47v1.5h-14.47zM167.3 137h28.93v1.5h-28.93zM225.17 137h28.93v1.5h-28.93zM340.9 137h28.93v1.5h-28.93zM384.3 137h14.47v1.5h-14.47zM427.7 137h72.33v1.5h-72.33zM514.5 137h86.8v1.5h-86.8zM181.77 138.5h72.33v1.5h-72.33zM311.97 138.5h14.47v1.5h-14.47zM471.1 138.5h14.47v1.5h-14.47zM514.5 138.5h86.8v1.5h-86.8zM51.57 140h14.47v1.5h-14.47zM167.3 140h28.93v1.5h-28.93zM210.7 140h57.87v1.5h-57.87zM283.03 140h14.47v1.5h-14.47zM471.1 140h28.93v1.5h-28.93zM514.5 140h43.4v1.5h-43.4zM586.83 140h14.47v1.5h-14.47zM51.57 141.5h28.93v1.5h-28.93zM181.77 141.5h14.47v1.5h-14.47zM210.7 141.5h14.47v1.5h-14.47zM254.1 141.5h57.87v1.5h-57.87zM500.03 141.5h14.47v1.5h-14.47zM528.97 141.5h14.47v1.5h-14.47zM572.37 141.5h28.93v1.5h-28.93zM37.1 143h43.4v1.5h-43.4zM181.77 143h14.47v1.5h-14.47zM210.7 143h14.47v1.5h-14.47zM283.03 143h28.93v1.5h-28.93zM471.1 143h14.47v1.5h-14.47zM500.03 143h14.47v1.5h-14.47zM528.97 143h14.47v1.5h-14.47zM572.37 143h28.93v1.5h-28.93zM51.57 144.5h28.93v1.5h-28.93zM311.97 144.5h14.47v1.5h-14.47zM384.3 144.5h14.47v1.5h-14.47zM500.03 144.5h43.4v1.5h-43.4zM572.37 144.5h14.47v1.5h-14.47zM37.1 146h43.4v1.5h-43.4zM123.9 146h28.93v1.5h-28.93zM167.3 146h86.8v1.5h-86.8zM268.57 146h43.4v1.5h-43.4zM326.43 146h14.47v1.5h-14.47zM500.03 146h57.87v1.5h-57.87zM572.37 146h28.93v1.5h-28.93zM138.37 147.5h14.47v1.5h-14.47zM181.77 147.5h14.47v1.5h-14.47zM225.17 147.5h14.47v1.5h-14.47zM283.03 147.5h14.47v1.5h-14.47zM485.57 147.5h115.73v1.5h-115.73zM181.77 149h14.47v1.5h-14.47zM283.03 149h14.47v1.5h-14.47zM471.1 149h130.2v1.5h-130.2zM51.57 150.5h14.47v1.5h-14.47zM138.37 150.5h14.47v1.5h-14.47zM268.57 150.5h14.47v1.5h-14.47zM413.23 150.5h14.47v1.5h-14.47zM485.57 150.5h101.27v1.5h-101.27zM37.1 152h43.4v1.5h-43.4zM138.37 152h14.47v1.5h-14.47zM167.3 152h28.93v1.5h-28.93zM210.7 152h57.87v1.5h-57.87zM283.03 152h43.4v1.5h-43.4zM340.9 152h28.93v1.5h-28.93zM413.23 152h14.47v1.5h-14.47zM456.63 152h130.2v1.5h-130.2zM37.1 153.5h43.4v1.5h-43.4zM138.37 153.5h43.4v1.5h-43.4zM196.23 153.5h86.8v1.5h-86.8zM326.43 153.5h28.93v1.5h-28.93zM384.3 153.5h14.47v1.5h-14.47zM413.23 153.5h14.47v1.5h-14.47zM442.17 153.5h14.47v1.5h-14.47zM471.1 153.5h28.93v1.5h-28.93zM514.5 153.5h86.8v1.5h-86.8zM37.1 155h43.4v1.5h-43.4zM138.37 155h14.47v1.5h-14.47zM167.3 155h43.4v1.5h-43.4zM225.17 155h43.4v1.5h-43.4zM283.03 155h14.47v1.5h-14.47zM471.1 155h28.93v1.5h-28.93zM514.5 155h57.87v1.5h-57.87zM586.83 155h14.47v1.5h-14.47zM37.1 156.5h43.4v1.5h-43.4zM138.37 156.5h14.47v1.5h-14.47zM167.3 156.5h14.47v1.5h-14.47zM196.23 156.5h14.47v1.5h-14.47zM225.17 156.5h14.47v1.5h-14.47zM254.1 156.5h28.93v1.5h-28.93zM297.5 156.5h14.47v1.5h-14.47zM514.5 156.5h57.87v1.5h-57.87zM586.83 156.5h14.47v1.5h-14.47zM37.1 158h28.93v1.5h-28.93zM138.37 158h173.6v1.5h-173.6zM500.03 158h72.33v1.5h-72.33zM586.83 158h14.47v1.5h-14.47zM37.1 159.5h43.4v1.5h-43.4zM138.37 159.5h14.47v1.5h-14.47zM268.57 159.5h43.4v1.5h-43.4zM471.1 159.5h28.93v1.5h-28.93zM514.5 159.5h57.87v1.5h-57.87zM586.83 159.5h14.47v1.5h-14.47zM37.1 161h28.93v1.5h-28.93zM138.37 161h14.47v1.5h-14.47zM268.57 161h43.4v1.5h-43.4zM471.1 161h130.2v1.5h-130.2zM37.1 162.5h43.4v1.5h-43.4zM138.37 162.5h14.47v1.5h-14.47zM268.57 162.5h43.4v1.5h-43.4zM471.1 162.5h101.27v1.5h-101.27zM37.1 164h43.4v1.5h-43.4zM138.37 164h14.47v1.5h-14.47zM297.5 164h14.47v1.5h-14.47zM471.1 164h101.27v1.5h-101.27zM37.1 165.5h43.4v1.5h-43.4zM138.37 165.5h14.47v1.5h-14.47zM167.3 165.5h14.47v1.5h-14.47zM196.23 165.5h72.33v1.5h-72.33zM297.5 165.5h14.47v1.5h-14.47zM471.1 165.5h28.93v1.5h-28.93zM514.5 165.5h57.87v1.5h-57.87zM586.83 165.5h14.47v1.5h-14.47zM37.1 167h43.4v1.5h-43.4zM138.37 167h57.87v1.5h-57.87zM283.03 167h28.93v1.5h-28.93zM485.57 167h86.8v1.5h-86.8zM485.57 168.5h57.87v1.5h-57.87zM557.9 168.5h14.47v1.5h-14.47zM138.37 170h14.47v1.5h-14.47zM167.3 170h14.47v1.5h-14.47zM268.57 170h14.47v1.5h-14.47zM311.97 170h14.47v1.5h-14.47zM340.9 170h14.47v1.5h-14.47zM369.83 170h14.47v1.5h-14.47zM398.77 170h14.47v1.5h-14.47zM442.17 170h28.93v1.5h-28.93zM500.03 170h14.47v1.5h-14.47zM528.97 170h14.47v1.5h-14.47zM51.57 171.5h28.93v1.5h-28.93zM138.37 171.5h14.47v1.5h-14.47zM167.3 171.5h14.47v1.5h-14.47zM239.63 171.5h14.47v1.5h-14.47zM268.57 171.5h14.47v1.5h-14.47zM297.5 171.5h14.47v1.5h-14.47zM340.9 171.5h72.33v1.5h-72.33zM427.7 171.5h43.4v1.5h-43.4zM485.57 171.5h28.93v1.5h-28.93zM528.97 171.5h14.47v1.5h-14.47zM586.83 171.5h14.47v1.5h-14.47zM138.37 173h43.4v1.5h-43.4zM196.23 173h43.4v1.5h-43.4zM254.1 173h43.4v1.5h-43.4zM340.9 173h130.2v1.5h-130.2zM485.57 173h14.47v1.5h-14.47zM514.5 173h28.93v1.5h-28.93zM138.37 174.5h14.47v1.5h-14.47zM181.77 174.5h28.93v1.5h-28.93zM254.1 174.5h14.47v1.5h-14.47zM485.57 174.5h14.47v1.5h-14.47zM528.97 174.5h43.4v1.5h-43.4zM138.37 176h43.4v1.5h-43.4zM196.23 176h57.87v1.5h-57.87zM384.3 176h14.47v1.5h-14.47zM500.03 176h14.47v1.5h-14.47zM528.97 176h43.4v1.5h-43.4zM586.83 176h14.47v1.5h-14.47zM138.37 177.5h130.2v1.5h-130.2zM340.9 177.5h14.47v1.5h-14.47zM369.83 177.5h43.4v1.5h-43.4zM427.7 177.5h14.47v1.5h-14.47zM456.63 177.5h28.93v1.5h-28.93zM500.03 177.5h14.47v1.5h-14.47zM528.97 177.5h43.4v1.5h-43.4zM66.03 179h14.47v1.5h-14.47zM138.37 179h43.4v1.5h-43.4zM196.23 179h14.47v1.5h-14.47zM225.17 179h101.27v1.5h-101.27zM369.83 179h43.4v1.5h-43.4zM427.7 179h28.93v1.5h-28.93zM471.1 179h14.47v1.5h-14.47zM500.03 179h14.47v1.5h-14.47zM528.97 179h43.4v1.5h-43.4zM152.83 180.5h28.93v1.5h-28.93zM196.23 180.5h86.8v1.5h-86.8zM369.83 180.5h14.47v1.5h-14.47zM413.23 180.5h14.47v1.5h-14.47zM471.1 180.5h14.47v1.5h-14.47zM500.03 180.5h14.47v1.5h-14.47zM528.97 180.5h28.93v1.5h-28.93zM138.37 182h144.67v1.5h-144.67zM297.5 182h14.47v1.5h-14.47zM500.03 182h14.47v1.5h-14.47zM528.97 182h28.93v1.5h-28.93zM138.37 183.5h14.47v1.5h-14.47zM181.77 183.5h28.93v1.5h-28.93zM297.5 183.5h14.47v1.5h-14.47zM471.1 183.5h43.4v1.5h-43.4zM528.97 183.5h28.93v1.5h-28.93zM586.83 183.5h14.47v1.5h-14.47zM138.37 185h86.8v1.5h-86.8zM239.63 185h28.93v1.5h-28.93zM283.03 185h14.47v1.5h-14.47zM471.1 185h43.4v1.5h-43.4zM528.97 185h28.93v1.5h-28.93zM586.83 185h14.47v1.5h-14.47zM37.1 186.5h14.47v1.5h-14.47zM80.5 186.5h57.87v1.5h-57.87zM152.83 186.5h86.8v1.5h-86.8zM254.1 186.5h28.93v1.5h-28.93zM297.5 186.5h14.47v1.5h-14.47zM340.9 186.5h14.47v1.5h-14.47zM398.77 186.5h28.93v1.5h-28.93zM456.63 186.5h28.93v1.5h-28.93zM528.97 186.5h14.47v1.5h-14.47zM586.83 186.5h14.47v1.5h-14.47zM94.97 188h14.47v1.5h-14.47zM138.37 188h43.4v1.5h-43.4zM225.17 188h43.4v1.5h-43.4zM471.1 188h14.47v1.5h-14.47zM500.03 188h57.87v1.5h-57.87zM586.83 188h14.47v1.5h-14.47zM138.37 189.5h14.47v1.5h-14.47zM181.77 189.5h14.47v1.5h-14.47zM471.1 189.5h86.8v1.5h-86.8zM586.83 189.5h14.47v1.5h-14.47zM94.97 191h14.47v1.5h-14.47zM123.9 191h43.4v1.5h-43.4zM181.77 191h101.27v1.5h-101.27zM456.63 191h28.93v1.5h-28.93zM500.03 191h57.87v1.5h-57.87zM586.83 191h14.47v1.5h-14.47zM138.37 192.5h28.93v1.5h-28.93zM181.77 192.5h57.87v1.5h-57.87zM254.1 192.5h14.47v1.5h-14.47zM471.1 192.5h14.47v1.5h-14.47zM514.5 192.5h14.47v1.5h-14.47zM543.43 192.5h14.47v1.5h-14.47zM138.37 194h86.8v1.5h-86.8zM471.1 194h14.47v1.5h-14.47zM514.5 194h14.47v1.5h-14.47zM138.37 195.5h14.47v1.5h-14.47zM167.3 195.5h14.47v1.5h-14.47zM196.23 195.5h28.93v1.5h-28.93zM254.1 195.5h14.47v1.5h-14.47zM528.97 195.5h43.4v1.5h-43.4zM586.83 195.5h14.47v1.5h-14.47zM94.97 197h14.47v1.5h-14.47zM123.9 197h144.67v1.5h-144.67zM283.03 197h14.47v1.5h-14.47zM442.17 197h14.47v1.5h-14.47zM471.1 197h14.47v1.5h-14.47zM528.97 197h28.93v1.5h-28.93zM586.83 197h14.47v1.5h-14.47zM138.37 198.5h130.2v1.5h-130.2zM283.03 198.5h14.47v1.5h-14.47zM326.43 198.5h28.93v1.5h-28.93zM413.23 198.5h14.47v1.5h-14.47zM442.17 198.5h14.47v1.5h-14.47zM528.97 198.5h14.47v1.5h-14.47zM94.97 200h14.47v1.5h-14.47zM123.9 200h188.07v1.5h-188.07zM485.57 200h14.47v1.5h-14.47zM514.5 200h43.4v1.5h-43.4zM138.37 201.5h173.6v1.5h-173.6zM528.97 201.5h72.33v1.5h-72.33zM138.37 203h130.2v1.5h-130.2zM528.97 203h57.87v1.5h-57.87zM152.83 204.5h115.73v1.5h-115.73zM485.57 204.5h14.47v1.5h-14.47zM528.97 204.5h43.4v1.5h-43.4zM586.83 204.5h14.47v1.5h-14.47zM152.83 206h72.33v1.5h-72.33zM239.63 206h28.93v1.5h-28.93zM471.1 206h130.2v1.5h-130.2zM138.37 207.5h130.2v1.5h-130.2zM471.1 207.5h130.2v1.5h-130.2zM138.37 209h130.2v1.5h-130.2zM471.1 209h130.2v1.5h-130.2zM138.37 210.5h130.2v1.5h-130.2zM471.1 210.5h14.47v1.5h-14.47zM500.03 210.5h28.93v1.5h-28.93zM543.43 210.5h57.87v1.5h-57.87zM37.1 212h14.47v1.5h-14.47zM138.37 212h144.67v1.5h-144.67zM471.1 212h57.87v1.5h-57.87zM543.43 212h57.87v1.5h-57.87zM138.37 213.5h130.2v1.5h-130.2zM340.9 213.5h14.47v1.5h-14.47zM485.57 213.5h14.47v1.5h-14.47zM514.5 213.5h86.8v1.5h-86.8zM138.37 215h144.67v1.5h-144.67zM471.1 215h28.93v1.5h-28.93zM528.97 215h72.33v1.5h-72.33zM138.37 216.5h130.2v1.5h-130.2zM326.43 216.5h14.47v1.5h-14.47zM355.37 216.5h28.93v1.5h-28.93zM413.23 216.5h43.4v1.5h-43.4zM471.1 216.5h43.4v1.5h-43.4zM543.43 216.5h57.87v1.5h-57.87zM138.37 218h144.67v1.5h-144.67zM297.5 218h14.47v1.5h-14.47zM326.43 218h14.47v1.5h-14.47zM355.37 218h14.47v1.5h-14.47zM413.23 218h43.4v1.5h-43.4zM471.1 218h130.2v1.5h-130.2zM138.37 219.5h144.67v1.5h-144.67zM471.1 219.5h86.8v1.5h-86.8zM572.37 219.5h14.47v1.5h-14.47zM138.37 221h159.13v1.5h-159.13zM471.1 221h101.27v1.5h-101.27zM586.83 221h14.47v1.5h-14.47zM138.37 222.5h159.13v1.5h-159.13zM326.43 222.5h43.4v1.5h-43.4zM413.23 222.5h14.47v1.5h-14.47zM442.17 222.5h14.47v1.5h-14.47zM471.1 222.5h130.2v1.5h-130.2zM138.37 224h144.67v1.5h-144.67zM340.9 224h14.47v1.5h-14.47zM413.23 224h14.47v1.5h-14.47zM442.17 224h14.47v1.5h-14.47zM471.1 224h43.4v1.5h-43.4zM528.97 224h72.33v1.5h-72.33zM138.37 225.5h144.67v1.5h-144.67zM427.7 225.5h14.47v1.5h-14.47zM471.1 225.5h43.4v1.5h-43.4zM543.43 225.5h28.93v1.5h-28.93zM586.83 225.5h14.47v1.5h-14.47zM138.37 227h144.67v1.5h-144.67zM369.83 227h14.47v1.5h-14.47zM427.7 227h14.47v1.5h-14.47zM471.1 227h57.87v1.5h-57.87zM543.43 227h57.87v1.5h-57.87zM138.37 228.5h14.47v1.5h-14.47zM167.3 228.5h115.73v1.5h-115.73zM427.7 228.5h28.93v1.5h-28.93zM471.1 228.5h57.87v1.5h-57.87zM543.43 228.5h57.87v1.5h-57.87zM80.5 230h14.47v1.5h-14.47zM138.37 230h173.6v1.5h-173.6zM471.1 230h43.4v1.5h-43.4zM543.43 230h14.47v1.5h-14.47zM572.37 230h28.93v1.5h-28.93zM138.37 231.5h173.6v1.5h-173.6zM471.1 231.5h43.4v1.5h-43.4zM528.97 231.5h14.47v1.5h-14.47zM586.83 231.5h14.47v1.5h-14.47zM138.37 233h144.67v1.5h-144.67zM471.1 233h43.4v1.5h-43.4zM528.97 233h28.93v1.5h-28.93zM572.37 233h28.93v1.5h-28.93zM138.37 234.5h144.67v1.5h-144.67zM311.97 234.5h14.47v1.5h-14.47zM471.1 234.5h43.4v1.5h-43.4zM528.97 234.5h72.33v1.5h-72.33zM138.37 236h130.2v1.5h-130.2zM471.1 236h28.93v1.5h-28.93zM514.5 236h86.8v1.5h-86.8zM138.37 237.5h130.2v1.5h-130.2zM355.37 237.5h14.47v1.5h-14.47zM384.3 237.5h14.47v1.5h-14.47zM514.5 237.5h72.33v1.5h-72.33zM94.97 239h14.47v1.5h-14.47zM138.37 239h144.67v1.5h-144.67zM485.57 239h14.47v1.5h-14.47zM528.97 239h28.93v1.5h-28.93zM572.37 239h14.47v1.5h-14.47zM138.37 240.5h144.67v1.5h-144.67zM297.5 240.5h14.47v1.5h-14.47zM471.1 240.5h14.47v1.5h-14.47zM500.03 240.5h43.4v1.5h-43.4zM572.37 240.5h14.47v1.5h-14.47zM138.37 242h144.67v1.5h-144.67zM297.5 242h14.47v1.5h-14.47zM471.1 242h14.47v1.5h-14.47zM500.03 242h43.4v1.5h-43.4zM557.9 242h28.93v1.5h-28.93zM138.37 243.5h144.67v1.5h-144.67zM297.5 243.5h14.47v1.5h-14.47zM471.1 243.5h14.47v1.5h-14.47zM500.03 243.5h14.47v1.5h-14.47zM528.97 243.5h28.93v1.5h-28.93zM572.37 243.5h28.93v1.5h-28.93zM138.37 245h159.13v1.5h-159.13zM471.1 245h14.47v1.5h-14.47zM500.03 245h14.47v1.5h-14.47zM528.97 245h43.4v1.5h-43.4zM586.83 245h14.47v1.5h-14.47zM51.57 246.5h28.93v1.5h-28.93zM138.37 246.5h144.67v1.5h-144.67zM311.97 246.5h43.4v1.5h-43.4zM369.83 246.5h14.47v1.5h-14.47zM413.23 246.5h28.93v1.5h-28.93zM528.97 246.5h28.93v1.5h-28.93zM586.83 246.5h14.47v1.5h-14.47zM109.43 248h173.6v1.5h-173.6zM340.9 248h28.93v1.5h-28.93zM384.3 248h43.4v1.5h-43.4zM456.63 248h28.93v1.5h-28.93zM500.03 248h14.47v1.5h-14.47zM138.37 249.5h144.67v1.5h-144.67zM297.5 249.5h14.47v1.5h-14.47zM485.57 249.5h72.33v1.5h-72.33zM572.37 249.5h28.93v1.5h-28.93zM138.37 251h173.6v1.5h-173.6zM485.57 251h43.4v1.5h-43.4zM557.9 251h28.93v1.5h-28.93zM138.37 252.5h144.67v1.5h-144.67zM297.5 252.5h14.47v1.5h-14.47zM326.43 252.5h14.47v1.5h-14.47zM442.17 252.5h14.47v1.5h-14.47zM471.1 252.5h14.47v1.5h-14.47zM500.03 252.5h28.93v1.5h-28.93zM543.43 252.5h14.47v1.5h-14.47zM51.57 254h14.47v1.5h-14.47zM138.37 254h144.67v1.5h-144.67zM326.43 254h14.47v1.5h-14.47zM471.1 254h14.47v1.5h-14.47zM500.03 254h28.93v1.5h-28.93zM543.43 254h14.47v1.5h-14.47zM66.03 255.5h14.47v1.5h-14.47zM138.37 255.5h159.13v1.5h-159.13zM471.1 255.5h28.93v1.5h-28.93zM514.5 255.5h86.8v1.5h-86.8zM51.57 257h14.47v1.5h-14.47zM138.37 257h159.13v1.5h-159.13zM485.57 257h14.47v1.5h-14.47zM543.43 257h43.4v1.5h-43.4zM138.37 258.5h144.67v1.5h-144.67zM326.43 258.5h14.47v1.5h-14.47zM485.57 258.5h28.93v1.5h-28.93zM528.97 258.5h72.33v1.5h-72.33zM138.37 260h144.67v1.5h-144.67zM500.03 260h14.47v1.5h-14.47zM557.9 260h28.93v1.5h-28.93zM138.37 261.5h130.2v1.5h-130.2zM500.03 261.5h14.47v1.5h-14.47zM528.97 261.5h57.87v1.5h-57.87zM138.37 263h130.2v1.5h-130.2zM528.97 263h72.33v1.5h-72.33zM138.37 264.5h130.2v1.5h-130.2zM283.03 264.5h14.47v1.5h-14.47zM456.63 264.5h28.93v1.5h-28.93zM500.03 264.5h101.27v1.5h-101.27zM138.37 266h130.2v1.5h-130.2zM514.5 266h43.4v1.5h-43.4zM572.37 266h28.93v1.5h-28.93zM138.37 267.5h130.2v1.5h-130.2zM485.57 267.5h28.93v1.5h-28.93zM528.97 267.5h14.47v1.5h-14.47zM572.37 267.5h14.47v1.5h-14.47zM138.37 269h159.13v1.5h-159.13zM485.57 269h28.93v1.5h-28.93zM528.97 269h28.93v1.5h-28.93zM123.9 270.5h173.6v1.5h-173.6zM485.57 270.5h14.47v1.5h-14.47zM528.97 270.5h14.47v1.5h-14.47zM586.83 270.5h14.47v1.5h-14.47zM138.37 272h130.2v1.5h-130.2zM586.83 272h14.47v1.5h-14.47zM138.37 273.5h144.67v1.5h-144.67zM297.5 273.5h14.47v1.5h-14.47zM543.43 273.5h14.47v1.5h-14.47zM586.83 273.5h14.47v1.5h-14.47zM138.37 275h130.2v1.5h-130.2zM297.5 275h14.47v1.5h-14.47zM427.7 275h14.47v1.5h-14.47zM471.1 275h43.4v1.5h-43.4zM528.97 275h28.93v1.5h-28.93zM586.83 275h14.47v1.5h-14.47zM138.37 276.5h130.2v1.5h-130.2zM297.5 276.5h14.47v1.5h-14.47zM384.3 276.5h14.47v1.5h-14.47zM427.7 276.5h28.93v1.5h-28.93zM471.1 276.5h14.47v1.5h-14.47zM500.03 276.5h14.47v1.5h-14.47zM543.43 276.5h57.87v1.5h-57.87zM80.5 278h28.93v1.5h-28.93zM138.37 278h173.6v1.5h-173.6zM355.37 278h14.47v1.5h-14.47zM442.17 278h14.47v1.5h-14.47zM471.1 278h14.47v1.5h-14.47zM500.03 278h57.87v1.5h-57.87zM572.37 278h28.93v1.5h-28.93zM138.37 279.5h130.2v1.5h-130.2zM471.1 279.5h86.8v1.5h-86.8zM572.37 279.5h14.47v1.5h-14.47zM138.37 281h130.2v1.5h-130.2zM471.1 281h43.4v1.5h-43.4zM543.43 281h14.47v1.5h-14.47zM572.37 281h14.47v1.5h-14.47zM80.5 282.5h14.47v1.5h-14.47zM138.37 282.5h130.2v1.5h-130.2zM471.1 282.5h43.4v1.5h-43.4zM528.97 282.5h14.47v1.5h-14.47zM572.37 282.5h14.47v1.5h-14.47zM94.97 284h14.47v1.5h-14.47zM123.9 284h144.67v1.5h-144.67zM471.1 284h115.73v1.5h-115.73zM123.9 285.5h173.6v1.5h-173.6zM485.57 285.5h14.47v1.5h-14.47zM572.37 285.5h14.47v1.5h-14.47zM138.37 287h144.67v1.5h-144.67zM485.57 287h14.47v1.5h-14.47zM557.9 287h28.93v1.5h-28.93zM138.37 288.5h130.2v1.5h-130.2zM471.1 288.5h28.93v1.5h-28.93zM543.43 288.5h14.47v1.5h-14.47zM572.37 288.5h14.47v1.5h-14.47zM138.37 290h130.2v1.5h-130.2zM471.1 290h43.4v1.5h-43.4zM528.97 290h28.93v1.5h-28.93zM572.37 290h14.47v1.5h-14.47zM138.37 291.5h130.2v1.5h-130.2zM471.1 291.5h43.4v1.5h-43.4zM528.97 291.5h72.33v1.5h-72.33zM138.37 293h130.2v1.5h-130.2zM500.03 293h57.87v1.5h-57.87zM572.37 293h28.93v1.5h-28.93zM138.37 294.5h130.2v1.5h-130.2zM283.03 294.5h14.47v1.5h-14.47zM500.03 294.5h72.33v1.5h-72.33zM586.83 294.5h14.47v1.5h-14.47zM66.03 296h14.47v1.5h-14.47zM138.37 296h130.2v1.5h-130.2zM427.7 296h28.93v1.5h-28.93zM500.03 296h101.27v1.5h-101.27zM138.37 297.5h130.2v1.5h-130.2zM283.03 297.5h28.93v1.5h-28.93zM471.1 297.5h14.47v1.5h-14.47zM514.5 297.5h57.87v1.5h-57.87zM586.83 297.5h14.47v1.5h-14.47zM123.9 299h144.67v1.5h-144.67zM398.77 299h14.47v1.5h-14.47zM514.5 299h14.47v1.5h-14.47zM37.1 300.5h14.47v1.5h-14.47zM138.37 300.5h14.47v1.5h-14.47zM167.3 300.5h115.73v1.5h-115.73zM398.77 300.5h14.47v1.5h-14.47zM514.5 300.5h14.47v1.5h-14.47zM543.43 300.5h14.47v1.5h-14.47zM586.83 300.5h14.47v1.5h-14.47zM138.37 302h14.47v1.5h-14.47zM167.3 302h101.27v1.5h-101.27zM369.83 302h14.47v1.5h-14.47zM471.1 302h130.2v1.5h-130.2zM138.37 303.5h14.47v1.5h-14.47zM167.3 303.5h101.27v1.5h-101.27zM326.43 303.5h14.47v1.5h-14.47zM384.3 303.5h14.47v1.5h-14.47zM471.1 303.5h72.33v1.5h-72.33zM557.9 303.5h43.4v1.5h-43.4zM167.3 305h101.27v1.5h-101.27zM384.3 305h14.47v1.5h-14.47zM471.1 305h86.8v1.5h-86.8zM572.37 305h14.47v1.5h-14.47zM138.37 306.5h14.47v1.5h-14.47zM167.3 306.5h130.2v1.5h-130.2zM485.57 306.5h14.47v1.5h-14.47zM528.97 306.5h28.93v1.5h-28.93zM572.37 306.5h14.47v1.5h-14.47zM138.37 308h14.47v1.5h-14.47zM167.3 308h130.2v1.5h-130.2zM485.57 308h14.47v1.5h-14.47zM514.5 308h86.8v1.5h-86.8zM138.37 309.5h14.47v1.5h-14.47zM167.3 309.5h130.2v1.5h-130.2zM500.03 309.5h101.27v1.5h-101.27zM138.37 311h14.47v1.5h-14.47zM167.3 311h130.2v1.5h-130.2zM442.17 311h14.47v1.5h-14.47zM485.57 311h72.33v1.5h-72.33zM572.37 311h28.93v1.5h-28.93zM167.3 312.5h115.73v1.5h-115.73zM471.1 312.5h86.8v1.5h-86.8zM572.37 312.5h28.93v1.5h-28.93zM152.83 314h115.73v1.5h-115.73zM471.1 314h86.8v1.5h-86.8zM572.37 314h28.93v1.5h-28.93zM138.37 315.5h14.47v1.5h-14.47zM167.3 315.5h115.73v1.5h-115.73zM297.5 315.5h14.47v1.5h-14.47zM369.83 315.5h14.47v1.5h-14.47zM413.23 315.5h14.47v1.5h-14.47zM442.17 315.5h14.47v1.5h-14.47zM471.1 315.5h57.87v1.5h-57.87zM543.43 315.5h57.87v1.5h-57.87zM138.37 317h14.47v1.5h-14.47zM167.3 317h115.73v1.5h-115.73zM471.1 317h14.47v1.5h-14.47zM500.03 317h28.93v1.5h-28.93zM572.37 317h28.93v1.5h-28.93zM138.37 318.5h14.47v1.5h-14.47zM167.3 318.5h28.93v1.5h-28.93zM210.7 318.5h28.93v1.5h-28.93zM254.1 318.5h28.93v1.5h-28.93zM297.5 318.5h14.47v1.5h-14.47zM471.1 318.5h43.4v1.5h-43.4zM528.97 318.5h14.47v1.5h-14.47zM557.9 318.5h43.4v1.5h-43.4zM138.37 320h14.47v1.5h-14.47zM167.3 320h101.27v1.5h-101.27zM283.03 320h14.47v1.5h-14.47zM485.57 320h28.93v1.5h-28.93zM528.97 320h28.93v1.5h-28.93zM572.37 320h14.47v1.5h-14.47zM138.37 321.5h14.47v1.5h-14.47zM167.3 321.5h101.27v1.5h-101.27zM500.03 321.5h57.87v1.5h-57.87zM572.37 321.5h28.93v1.5h-28.93zM138.37 323h14.47v1.5h-14.47zM167.3 323h101.27v1.5h-101.27zM283.03 323h28.93v1.5h-28.93zM500.03 323h101.27v1.5h-101.27zM138.37 324.5h14.47v1.5h-14.47zM167.3 324.5h101.27v1.5h-101.27zM471.1 324.5h14.47v1.5h-14.47zM500.03 324.5h57.87v1.5h-57.87zM586.83 324.5h14.47v1.5h-14.47zM138.37 326h130.2v1.5h-130.2zM311.97 326h14.47v1.5h-14.47zM471.1 326h28.93v1.5h-28.93zM514.5 326h28.93v1.5h-28.93zM572.37 326h28.93v1.5h-28.93zM138.37 327.5h14.47v1.5h-14.47zM167.3 327.5h101.27v1.5h-101.27zM471.1 327.5h86.8v1.5h-86.8zM572.37 327.5h28.93v1.5h-28.93zM138.37 329h14.47v1.5h-14.47zM167.3 329h101.27v1.5h-101.27zM297.5 329h14.47v1.5h-14.47zM471.1 329h86.8v1.5h-86.8zM572.37 329h28.93v1.5h-28.93zM138.37 330.5h14.47v1.5h-14.47zM167.3 330.5h115.73v1.5h-115.73zM471.1 330.5h14.47v1.5h-14.47zM514.5 330.5h28.93v1.5h-28.93zM138.37 332h14.47v1.5h-14.47zM167.3 332h101.27v1.5h-101.27zM471.1 332h14.47v1.5h-14.47zM514.5 332h28.93v1.5h-28.93zM572.37 332h28.93v1.5h-28.93zM138.37 333.5h14.47v1.5h-14.47zM167.3 333.5h115.73v1.5h-115.73zM297.5 333.5h43.4v1.5h-43.4zM471.1 333.5h14.47v1.5h-14.47zM514.5 333.5h28.93v1.5h-28.93zM572.37 333.5h28.93v1.5h-28.93zM152.83 335h173.6v1.5h-173.6zM456.63 335h28.93v1.5h-28.93zM514.5 335h28.93v1.5h-28.93zM557.9 335h28.93v1.5h-28.93zM138.37 336.5h173.6v1.5h-173.6zM340.9 336.5h14.47v1.5h-14.47zM456.63 336.5h28.93v1.5h-28.93zM500.03 336.5h14.47v1.5h-14.47zM528.97 336.5h14.47v1.5h-14.47zM572.37 336.5h14.47v1.5h-14.47zM37.1 338h14.47v1.5h-14.47zM123.9 338h188.07v1.5h-188.07zM471.1 338h14.47v1.5h-14.47zM500.03 338h14.47v1.5h-14.47zM528.97 338h14.47v1.5h-14.47zM557.9 338h28.93v1.5h-28.93zM123.9 339.5h159.13v1.5h-159.13zM384.3 339.5h14.47v1.5h-14.47zM471.1 339.5h115.73v1.5h-115.73zM138.37 341h130.2v1.5h-130.2zM485.57 341h14.47v1.5h-14.47zM514.5 341h14.47v1.5h-14.47zM543.43 341h14.47v1.5h-14.47zM572.37 341h14.47v1.5h-14.47zM51.57 342.5h14.47v1.5h-14.47zM138.37 342.5h130.2v1.5h-130.2zM485.57 342.5h14.47v1.5h-14.47zM514.5 342.5h72.33v1.5h-72.33zM138.37 344h130.2v1.5h-130.2zM471.1 344h43.4v1.5h-43.4zM528.97 344h14.47v1.5h-14.47zM557.9 344h28.93v1.5h-28.93zM138.37 345.5h14.47v1.5h-14.47zM167.3 345.5h101.27v1.5h-101.27zM471.1 345.5h43.4v1.5h-43.4zM528.97 345.5h57.87v1.5h-57.87zM138.37 347h14.47v1.5h-14.47zM167.3 347h86.8v1.5h-86.8zM471.1 347h43.4v1.5h-43.4zM528.97 347h14.47v1.5h-14.47zM557.9 347h28.93v1.5h-28.93zM138.37 348.5h130.2v1.5h-130.2zM471.1 348.5h43.4v1.5h-43.4zM528.97 348.5h14.47v1.5h-14.47zM557.9 348.5h43.4v1.5h-43.4zM138.37 350h130.2v1.5h-130.2zM471.1 350h43.4v1.5h-43.4zM528.97 350h14.47v1.5h-14.47zM557.9 350h28.93v1.5h-28.93zM138.37 351.5h130.2v1.5h-130.2zM471.1 351.5h43.4v1.5h-43.4zM543.43 351.5h57.87v1.5h-57.87zM138.37 353h130.2v1.5h-130.2zM471.1 353h43.4v1.5h-43.4zM528.97 353h72.33v1.5h-72.33zM138.37 354.5h14.47v1.5h-14.47zM167.3 354.5h28.93v1.5h-28.93zM210.7 354.5h57.87v1.5h-57.87zM311.97 354.5h14.47v1.5h-14.47zM355.37 354.5h14.47v1.5h-14.47zM413.23 354.5h14.47v1.5h-14.47zM471.1 354.5h14.47v1.5h-14.47zM528.97 354.5h14.47v1.5h-14.47zM123.9 356h159.13v1.5h-159.13zM398.77 356h14.47v1.5h-14.47zM456.63 356h28.93v1.5h-28.93zM514.5 356h28.93v1.5h-28.93zM572.37 356h28.93v1.5h-28.93zM94.97 357.5h188.07v1.5h-188.07zM297.5 357.5h14.47v1.5h-14.47zM471.1 357.5h14.47v1.5h-14.47zM528.97 357.5h28.93v1.5h-28.93zM586.83 357.5h14.47v1.5h-14.47zM123.9 359h28.93v1.5h-28.93zM268.57 359h43.4v1.5h-43.4zM369.83 359h28.93v1.5h-28.93zM442.17 359h57.87v1.5h-57.87zM514.5 359h28.93v1.5h-28.93zM586.83 359h14.47v1.5h-14.47zM109.43 360.5h43.4v1.5h-43.4zM239.63 360.5h14.47v1.5h-14.47zM355.37 360.5h43.4v1.5h-43.4zM427.7 360.5h14.47v1.5h-14.47zM456.63 360.5h28.93v1.5h-28.93zM543.43 360.5h14.47v1.5h-14.47zM586.83 360.5h14.47v1.5h-14.47zM138.37 362h14.47v1.5h-14.47zM427.7 362h14.47v1.5h-14.47zM471.1 362h14.47v1.5h-14.47zM543.43 362h14.47v1.5h-14.47zM586.83 362h14.47v1.5h-14.47zM138.37 363.5h14.47v1.5h-14.47zM485.57 363.5h57.87v1.5h-57.87zM557.9 363.5h43.4v1.5h-43.4zM138.37 365h14.47v1.5h-14.47zM471.1 365h57.87v1.5h-57.87zM543.43 365h43.4v1.5h-43.4zM138.37 366.5h14.47v1.5h-14.47zM355.37 366.5h14.47v1.5h-14.47zM471.1 366.5h28.93v1.5h-28.93zM528.97 366.5h28.93v1.5h-28.93zM138.37 368h14.47v1.5h-14.47zM268.57 368h14.47v1.5h-14.47zM471.1 368h28.93v1.5h-28.93zM514.5 368h57.87v1.5h-57.87zM586.83 368h14.47v1.5h-14.47zM37.1 369.5h43.4v1.5h-43.4zM138.37 369.5h14.47v1.5h-14.47zM268.57 369.5h43.4v1.5h-43.4zM471.1 369.5h86.8v1.5h-86.8zM586.83 369.5h14.47v1.5h-14.47zM37.1 371h43.4v1.5h-43.4zM138.37 371h28.93v1.5h-28.93zM268.57 371h28.93v1.5h-28.93zM471.1 371h57.87v1.5h-57.87zM543.43 371h28.93v1.5h-28.93zM37.1 372.5h14.47v1.5h-14.47zM66.03 372.5h14.47v1.5h-14.47zM138.37 372.5h14.47v1.5h-14.47zM225.17 372.5h14.47v1.5h-14.47zM268.57 372.5h43.4v1.5h-43.4zM442.17 372.5h14.47v1.5h-14.47zM471.1 372.5h14.47v1.5h-14.47zM514.5 372.5h72.33v1.5h-72.33zM138.37 374h14.47v1.5h-14.47zM268.57 374h43.4v1.5h-43.4zM471.1 374h14.47v1.5h-14.47zM514.5 374h72.33v1.5h-72.33zM51.57 375.5h14.47v1.5h-14.47zM138.37 375.5h14.47v1.5h-14.47zM268.57 375.5h28.93v1.5h-28.93zM471.1 375.5h72.33v1.5h-72.33zM557.9 375.5h14.47v1.5h-14.47zM138.37 377h57.87v1.5h-57.87zM210.7 377h14.47v1.5h-14.47zM239.63 377h14.47v1.5h-14.47zM268.57 377h43.4v1.5h-43.4zM485.57 377h14.47v1.5h-14.47zM528.97 377h14.47v1.5h-14.47zM37.1 378.5h14.47v1.5h-14.47zM66.03 378.5h14.47v1.5h-14.47zM138.37 378.5h14.47v1.5h-14.47zM167.3 378.5h28.93v1.5h-28.93zM210.7 378.5h14.47v1.5h-14.47zM239.63 378.5h14.47v1.5h-14.47zM268.57 378.5h43.4v1.5h-43.4zM471.1 378.5h43.4v1.5h-43.4zM528.97 378.5h14.47v1.5h-14.47zM557.9 378.5h28.93v1.5h-28.93zM37.1 380h43.4v1.5h-43.4zM138.37 380h14.47v1.5h-14.47zM167.3 380h57.87v1.5h-57.87zM239.63 380h72.33v1.5h-72.33zM471.1 380h14.47v1.5h-14.47zM528.97 380h14.47v1.5h-14.47zM557.9 380h43.4v1.5h-43.4zM37.1 381.5h43.4v1.5h-43.4zM138.37 381.5h86.8v1.5h-86.8zM239.63 381.5h72.33v1.5h-72.33zM340.9 381.5h14.47v1.5h-14.47zM528.97 381.5h14.47v1.5h-14.47zM557.9 381.5h28.93v1.5h-28.93zM37.1 383h43.4v1.5h-43.4zM138.37 383h14.47v1.5h-14.47zM196.23 383h28.93v1.5h-28.93zM239.63 383h28.93v1.5h-28.93zM283.03 383h28.93v1.5h-28.93zM485.57 383h14.47v1.5h-14.47zM528.97 383h14.47v1.5h-14.47zM557.9 383h28.93v1.5h-28.93zM37.1 384.5h14.47v1.5h-14.47zM66.03 384.5h28.93v1.5h-28.93zM138.37 384.5h14.47v1.5h-14.47zM181.77 384.5h14.47v1.5h-14.47zM210.7 384.5h14.47v1.5h-14.47zM268.57 384.5h43.4v1.5h-43.4zM340.9 384.5h14.47v1.5h-14.47zM413.23 384.5h14.47v1.5h-14.47zM485.57 384.5h14.47v1.5h-14.47zM514.5 384.5h14.47v1.5h-14.47zM543.43 384.5h14.47v1.5h-14.47zM572.37 384.5h28.93v1.5h-28.93zM37.1 386h43.4v1.5h-43.4zM138.37 386h14.47v1.5h-14.47zM181.77 386h14.47v1.5h-14.47zM268.57 386h43.4v1.5h-43.4zM471.1 386h14.47v1.5h-14.47zM500.03 386h43.4v1.5h-43.4zM572.37 386h14.47v1.5h-14.47zM37.1 387.5h43.4v1.5h-43.4zM138.37 387.5h14.47v1.5h-14.47zM225.17 387.5h14.47v1.5h-14.47zM268.57 387.5h43.4v1.5h-43.4zM500.03 387.5h14.47v1.5h-14.47zM528.97 387.5h14.47v1.5h-14.47zM37.1 389h43.4v1.5h-43.4zM138.37 389h57.87v1.5h-57.87zM210.7 389h43.4v1.5h-43.4zM268.57 389h43.4v1.5h-43.4zM471.1 389h43.4v1.5h-43.4zM37.1 390.5h43.4v1.5h-43.4zM138.37 390.5h14.47v1.5h-14.47zM225.17 390.5h14.47v1.5h-14.47zM268.57 390.5h14.47v1.5h-14.47zM297.5 390.5h14.47v1.5h-14.47zM471.1 390.5h43.4v1.5h-43.4zM557.9 390.5h43.4v1.5h-43.4zM37.1 392h43.4v1.5h-43.4zM138.37 392h115.73v1.5h-115.73zM268.57 392h28.93v1.5h-28.93zM311.97 392h14.47v1.5h-14.47zM384.3 392h14.47v1.5h-14.47zM471.1 392h14.47v1.5h-14.47zM500.03 392h14.47v1.5h-14.47zM528.97 392h14.47v1.5h-14.47zM557.9 392h43.4v1.5h-43.4zM37.1 393.5h43.4v1.5h-43.4zM138.37 393.5h72.33v1.5h-72.33zM225.17 393.5h86.8v1.5h-86.8zM355.37 393.5h14.47v1.5h-14.47zM384.3 393.5h43.4v1.5h-43.4zM456.63 393.5h43.4v1.5h-43.4zM528.97 393.5h14.47v1.5h-14.47zM557.9 393.5h43.4v1.5h-43.4zM37.1 395h14.47v1.5h-14.47zM66.03 395h14.47v1.5h-14.47zM138.37 395h28.93v1.5h-28.93zM196.23 395h14.47v1.5h-14.47zM225.17 395h14.47v1.5h-14.47zM254.1 395h144.67v1.5h-144.67zM485.57 395h28.93v1.5h-28.93zM528.97 395h14.47v1.5h-14.47zM557.9 395h43.4v1.5h-43.4zM138.37 396.5h14.47v1.5h-14.47zM210.7 396.5h28.93v1.5h-28.93zM254.1 396.5h14.47v1.5h-14.47zM384.3 396.5h14.47v1.5h-14.47zM471.1 396.5h28.93v1.5h-28.93zM514.5 396.5h28.93v1.5h-28.93zM557.9 396.5h43.4v1.5h-43.4zM138.37 398h130.2v1.5h-130.2zM384.3 398h14.47v1.5h-14.47zM442.17 398h14.47v1.5h-14.47zM471.1 398h28.93v1.5h-28.93zM514.5 398h86.8v1.5h-86.8zM167.3 399.5h101.27v1.5h-101.27zM326.43 399.5h43.4v1.5h-43.4zM384.3 399.5h14.47v1.5h-14.47zM413.23 399.5h14.47v1.5h-14.47zM442.17 399.5h57.87v1.5h-57.87zM514.5 399.5h14.47v1.5h-14.47zM543.43 399.5h28.93v1.5h-28.93zM586.83 399.5h14.47v1.5h-14.47zM138.37 401h43.4v1.5h-43.4zM442.17 401h57.87v1.5h-57.87zM514.5 401h14.47v1.5h-14.47zM543.43 401h28.93v1.5h-28.93zM586.83 401h14.47v1.5h-14.47zM138.37 402.5h14.47v1.5h-14.47zM167.3 402.5h14.47v1.5h-14.47zM210.7 402.5h28.93v1.5h-28.93zM471.1 402.5h57.87v1.5h-57.87zM543.43 402.5h28.93v1.5h-28.93zM586.83 402.5h14.47v1.5h-14.47zM138.37 404h130.2v1.5h-130.2zM471.1 404h57.87v1.5h-57.87zM543.43 404h43.4v1.5h-43.4zM138.37 405.5h28.93v1.5h-28.93zM181.77 405.5h43.4v1.5h-43.4zM239.63 405.5h28.93v1.5h-28.93zM471.1 405.5h57.87v1.5h-57.87zM543.43 405.5h57.87v1.5h-57.87zM138.37 407h130.2v1.5h-130.2zM326.43 407h14.47v1.5h-14.47zM471.1 407h57.87v1.5h-57.87zM543.43 407h57.87v1.5h-57.87zM138.37 408.5h130.2v1.5h-130.2zM471.1 408.5h86.8v1.5h-86.8zM572.37 408.5h28.93v1.5h-28.93zM138.37 410h130.2v1.5h-130.2zM297.5 410h14.47v1.5h-14.47zM471.1 410h14.47v1.5h-14.47zM514.5 410h14.47v1.5h-14.47zM543.43 410h57.87v1.5h-57.87zM138.37 411.5h130.2v1.5h-130.2zM283.03 411.5h14.47v1.5h-14.47zM471.1 411.5h57.87v1.5h-57.87zM543.43 411.5h14.47v1.5h-14.47zM572.37 411.5h28.93v1.5h-28.93zM138.37 413h14.47v1.5h-14.47zM181.77 413h86.8v1.5h-86.8zM485.57 413h43.4v1.5h-43.4zM543.43 413h14.47v1.5h-14.47zM572.37 413h14.47v1.5h-14.47zM138.37 414.5h130.2v1.5h-130.2zM500.03 414.5h14.47v1.5h-14.47zM528.97 414.5h28.93v1.5h-28.93zM572.37 414.5h14.47v1.5h-14.47zM138.37 416h72.33v1.5h-72.33zM225.17 416h43.4v1.5h-43.4zM283.03 416h14.47v1.5h-14.47zM471.1 416h14.47v1.5h-14.47zM528.97 416h57.87v1.5h-57.87zM138.37 417.5h14.47v1.5h-14.47zM283.03 417.5h14.47v1.5h-14.47zM471.1 417.5h14.47v1.5h-14.47zM500.03 417.5h86.8v1.5h-86.8zM138.37 419h14.47v1.5h-14.47zM471.1 419h14.47v1.5h-14.47zM500.03 419h101.27v1.5h-101.27zM138.37 420.5h14.47v1.5h-14.47zM471.1 420.5h14.47v1.5h-14.47zM500.03 420.5h101.27v1.5h-101.27zM138.37 422h14.47v1.5h-14.47zM471.1 422h14.47v1.5h-14.47zM500.03 422h101.27v1.5h-101.27zM138.37 423.5h14.47v1.5h-14.47zM311.97 423.5h14.47v1.5h-14.47zM340.9 423.5h14.47v1.5h-14.47zM442.17 423.5h57.87v1.5h-57.87zM514.5 423.5h57.87v1.5h-57.87zM586.83 423.5h14.47v1.5h-14.47zM138.37 425h130.2v1.5h-130.2zM471.1 425h28.93v1.5h-28.93zM514.5 425h28.93v1.5h-28.93zM557.9 425h14.47v1.5h-14.47zM586.83 425h14.47v1.5h-14.47zM138.37 426.5h130.2v1.5h-130.2zM326.43 426.5h14.47v1.5h-14.47zM471.1 426.5h130.2v1.5h-130.2zM94.97 428h14.47v1.5h-14.47zM123.9 428h144.67v1.5h-144.67zM311.97 428h14.47v1.5h-14.47zM340.9 428h14.47v1.5h-14.47zM471.1 428h130.2v1.5h-130.2zM138.37 429.5h130.2v1.5h-130.2zM369.83 429.5h14.47v1.5h-14.47zM471.1 429.5h130.2v1.5h-130.2zM138.37 431h130.2v1.5h-130.2zM311.97 431h14.47v1.5h-14.47zM456.63 431h28.93v1.5h-28.93zM514.5 431h86.8v1.5h-86.8zM138.37 432.5h130.2v1.5h-130.2zM340.9 432.5h28.93v1.5h-28.93zM384.3 432.5h115.73v1.5h-115.73zM528.97 432.5h43.4v1.5h-43.4zM586.83 432.5h14.47v1.5h-14.47zM138.37 434h130.2v1.5h-130.2zM340.9 434h28.93v1.5h-28.93zM384.3 434h14.47v1.5h-14.47zM413.23 434h14.47v1.5h-14.47zM456.63 434h57.87v1.5h-57.87zM528.97 434h57.87v1.5h-57.87zM51.57 435.5h28.93v1.5h-28.93zM138.37 435.5h28.93v1.5h-28.93zM181.77 435.5h86.8v1.5h-86.8zM311.97 435.5h14.47v1.5h-14.47zM340.9 435.5h14.47v1.5h-14.47zM427.7 435.5h14.47v1.5h-14.47zM456.63 435.5h28.93v1.5h-28.93zM500.03 435.5h86.8v1.5h-86.8zM138.37 437h28.93v1.5h-28.93zM181.77 437h86.8v1.5h-86.8zM355.37 437h14.47v1.5h-14.47zM471.1 437h14.47v1.5h-14.47zM528.97 437h57.87v1.5h-57.87zM138.37 438.5h130.2v1.5h-130.2zM471.1 438.5h28.93v1.5h-28.93zM543.43 438.5h43.4v1.5h-43.4zM94.97 440h14.47v1.5h-14.47zM138.37 440h130.2v1.5h-130.2zM398.77 440h14.47v1.5h-14.47zM427.7 440h28.93v1.5h-28.93zM471.1 440h28.93v1.5h-28.93zM514.5 440h86.8v1.5h-86.8zM138.37 441.5h130.2v1.5h-130.2zM471.1 441.5h14.47v1.5h-14.47zM500.03 441.5h72.33v1.5h-72.33zM586.83 441.5h14.47v1.5h-14.47zM138.37 443h130.2v1.5h-130.2zM500.03 443h43.4v1.5h-43.4zM557.9 443h28.93v1.5h-28.93zM138.37 444.5h130.2v1.5h-130.2zM485.57 444.5h115.73v1.5h-115.73zM138.37 446h130.2v1.5h-130.2zM427.7 446h14.47v1.5h-14.47zM456.63 446h43.4v1.5h-43.4zM514.5 446h28.93v1.5h-28.93zM557.9 446h14.47v1.5h-14.47zM80.5 447.5h14.47v1.5h-14.47zM138.37 447.5h130.2v1.5h-130.2zM355.37 447.5h28.93v1.5h-28.93zM398.77 447.5h14.47v1.5h-14.47zM427.7 447.5h28.93v1.5h-28.93zM485.57 447.5h115.73v1.5h-115.73zM138.37 449h130.2v1.5h-130.2zM369.83 449h14.47v1.5h-14.47zM413.23 449h14.47v1.5h-14.47zM442.17 449h14.47v1.5h-14.47zM485.57 449h14.47v1.5h-14.47zM514.5 449h86.8v1.5h-86.8zM138.37 450.5h101.27v1.5h-101.27zM254.1 450.5h14.47v1.5h-14.47zM413.23 450.5h28.93v1.5h-28.93zM514.5 450.5h14.47v1.5h-14.47zM543.43 450.5h57.87v1.5h-57.87zM138.37 452h130.2v1.5h-130.2zM340.9 452h14.47v1.5h-14.47zM471.1 452h130.2v1.5h-130.2zM138.37 453.5h130.2v1.5h-130.2zM326.43 453.5h72.33v1.5h-72.33zM413.23 453.5h14.47v1.5h-14.47zM442.17 453.5h43.4v1.5h-43.4zM500.03 453.5h101.27v1.5h-101.27zM138.37 455h130.2v1.5h-130.2zM326.43 455h14.47v1.5h-14.47zM355.37 455h57.87v1.5h-57.87zM427.7 455h14.47v1.5h-14.47zM456.63 455h43.4v1.5h-43.4zM514.5 455h57.87v1.5h-57.87zM586.83 455h14.47v1.5h-14.47zM138.37 456.5h130.2v1.5h-130.2zM369.83 456.5h14.47v1.5h-14.47zM398.77 456.5h14.47v1.5h-14.47zM456.63 456.5h57.87v1.5h-57.87zM528.97 456.5h14.47v1.5h-14.47zM557.9 456.5h43.4v1.5h-43.4zM138.37 458h130.2v1.5h-130.2zM326.43 458h28.93v1.5h-28.93zM369.83 458h130.2v1.5h-130.2zM528.97 458h72.33v1.5h-72.33zM138.37 459.5h130.2v1.5h-130.2zM311.97 459.5h28.93v1.5h-28.93zM355.37 459.5h57.87v1.5h-57.87zM427.7 459.5h43.4v1.5h-43.4zM485.57 459.5h115.73v1.5h-115.73zM138.37 461h130.2v1.5h-130.2zM311.97 461h28.93v1.5h-28.93zM355.37 461h57.87v1.5h-57.87zM442.17 461h57.87v1.5h-57.87zM514.5 461h14.47v1.5h-14.47zM543.43 461h14.47v1.5h-14.47zM572.37 461h28.93v1.5h-28.93zM138.37 462.5h130.2v1.5h-130.2zM326.43 462.5h72.33v1.5h-72.33zM413.23 462.5h14.47v1.5h-14.47zM442.17 462.5h14.47v1.5h-14.47zM471.1 462.5h28.93v1.5h-28.93zM528.97 462.5h72.33v1.5h-72.33zM138.37 464h130.2v1.5h-130.2zM471.1 464h28.93v1.5h-28.93zM514.5 464h14.47v1.5h-14.47zM543.43 464h57.87v1.5h-57.87zM138.37 465.5h130.2v1.5h-130.2zM326.43 465.5h14.47v1.5h-14.47zM355.37 465.5h14.47v1.5h-14.47zM384.3 465.5h14.47v1.5h-14.47zM442.17 465.5h57.87v1.5h-57.87zM514.5 465.5h86.8v1.5h-86.8zM138.37 467h130.2v1.5h-130.2zM471.1 467h130.2v1.5h-130.2zM138.37 468.5h14.47v1.5h-14.47zM471.1 468.5h28.93v1.5h-28.93zM514.5 468.5h28.93v1.5h-28.93zM557.9 468.5h28.93v1.5h-28.93zM210.7 470h14.47v1.5h-14.47zM239.63 470h14.47v1.5h-14.47zM442.17 470h159.13v1.5h-159.13zM138.37 471.5h14.47v1.5h-14.47zM167.3 471.5h28.93v1.5h-28.93zM225.17 471.5h14.47v1.5h-14.47zM471.1 471.5h57.87v1.5h-57.87zM543.43 471.5h14.47v1.5h-14.47zM572.37 471.5h28.93v1.5h-28.93zM326.43 473h14.47v1.5h-14.47zM398.77 473h14.47v1.5h-14.47zM471.1 473h14.47v1.5h-14.47zM514.5 473h43.4v1.5h-43.4zM572.37 473h28.93v1.5h-28.93zM326.43 474.5h14.47v1.5h-14.47zM384.3 474.5h43.4v1.5h-43.4zM471.1 474.5h14.47v1.5h-14.47zM500.03 474.5h28.93v1.5h-28.93zM557.9 474.5h43.4v1.5h-43.4zM138.37 476h14.47v1.5h-14.47zM311.97 476h28.93v1.5h-28.93zM384.3 476h14.47v1.5h-14.47zM413.23 476h28.93v1.5h-28.93zM456.63 476h14.47v1.5h-14.47zM500.03 476h72.33v1.5h-72.33zM586.83 476h14.47v1.5h-14.47zM138.37 477.5h57.87v1.5h-57.87zM210.7 477.5h57.87v1.5h-57.87zM311.97 477.5h43.4v1.5h-43.4zM369.83 477.5h72.33v1.5h-72.33zM456.63 477.5h28.93v1.5h-28.93zM500.03 477.5h72.33v1.5h-72.33zM586.83 477.5h14.47v1.5h-14.47zM109.43 479h14.47v1.5h-14.47zM138.37 479h14.47v1.5h-14.47zM196.23 479h28.93v1.5h-28.93zM254.1 479h28.93v1.5h-28.93zM311.97 479h173.6v1.5h-173.6zM500.03 479h14.47v1.5h-14.47zM528.97 479h28.93v1.5h-28.93zM586.83 479h14.47v1.5h-14.47zM109.43 480.5h14.47v1.5h-14.47zM138.37 480.5h130.2v1.5h-130.2zM311.97 480.5h86.8v1.5h-86.8zM413.23 480.5h101.27v1.5h-101.27zM543.43 480.5h14.47v1.5h-14.47zM586.83 480.5h14.47v1.5h-14.47zM138.37 482h43.4v1.5h-43.4zM225.17 482h43.4v1.5h-43.4zM311.97 482h159.13v1.5h-159.13zM485.57 482h28.93v1.5h-28.93zM528.97 482h14.47v1.5h-14.47zM586.83 482h14.47v1.5h-14.47zM138.37 483.5h115.73v1.5h-115.73zM268.57 483.5h14.47v1.5h-14.47zM311.97 483.5h43.4v1.5h-43.4zM369.83 483.5h101.27v1.5h-101.27zM485.57 483.5h14.47v1.5h-14.47zM514.5 483.5h57.87v1.5h-57.87zM586.83 483.5h14.47v1.5h-14.47zM138.37 485h72.33v1.5h-72.33zM225.17 485h43.4v1.5h-43.4zM311.97 485h72.33v1.5h-72.33zM427.7 485h43.4v1.5h-43.4zM485.57 485h14.47v1.5h-14.47zM514.5 485h14.47v1.5h-14.47zM586.83 485h14.47v1.5h-14.47zM138.37 486.5h144.67v1.5h-144.67zM311.97 486.5h86.8v1.5h-86.8zM427.7 486.5h14.47v1.5h-14.47zM456.63 486.5h14.47v1.5h-14.47zM528.97 486.5h72.33v1.5h-72.33zM138.37 488h43.4v1.5h-43.4zM210.7 488h14.47v1.5h-14.47zM239.63 488h43.4v1.5h-43.4zM311.97 488h14.47v1.5h-14.47zM355.37 488h14.47v1.5h-14.47zM384.3 488h28.93v1.5h-28.93zM427.7 488h14.47v1.5h-14.47zM471.1 488h43.4v1.5h-43.4zM528.97 488h72.33v1.5h-72.33zM138.37 489.5h14.47v1.5h-14.47zM268.57 489.5h14.47v1.5h-14.47zM311.97 489.5h101.27v1.5h-101.27zM427.7 489.5h173.6v1.5h-173.6zM138.37 491h14.47v1.5h-14.47zM268.57 491h14.47v1.5h-14.47zM311.97 491h14.47v1.5h-14.47zM369.83 491h14.47v1.5h-14.47zM398.77 491h14.47v1.5h-14.47zM427.7 491h28.93v1.5h-28.93zM471.1 491h14.47v1.5h-14.47zM514.5 491h43.4v1.5h-43.4zM572.37 491h14.47v1.5h-14.47zM138.37 492.5h14.47v1.5h-14.47zM210.7 492.5h14.47v1.5h-14.47zM268.57 492.5h14.47v1.5h-14.47zM297.5 492.5h86.8v1.5h-86.8zM398.77 492.5h115.73v1.5h-115.73zM528.97 492.5h14.47v1.5h-14.47zM572.37 492.5h28.93v1.5h-28.93zM138.37 494h28.93v1.5h-28.93zM254.1 494h28.93v1.5h-28.93zM311.97 494h14.47v1.5h-14.47zM398.77 494h28.93v1.5h-28.93zM456.63 494h28.93v1.5h-28.93zM500.03 494h43.4v1.5h-43.4zM557.9 494h43.4v1.5h-43.4zM138.37 495.5h14.47v1.5h-14.47zM268.57 495.5h14.47v1.5h-14.47zM311.97 495.5h43.4v1.5h-43.4zM384.3 495.5h43.4v1.5h-43.4zM456.63 495.5h28.93v1.5h-28.93zM500.03 495.5h101.27v1.5h-101.27zM80.5 497h14.47v1.5h-14.47zM152.83 497h144.67v1.5h-144.67zM311.97 497h173.6v1.5h-173.6zM514.5 497h57.87v1.5h-57.87zM80.5 498.5h14.47v1.5h-14.47zM123.9 498.5h14.47v1.5h-14.47zM167.3 498.5h86.8v1.5h-86.8zM297.5 498.5h57.87v1.5h-57.87zM369.83 498.5h28.93v1.5h-28.93zM413.23 498.5h14.47v1.5h-14.47zM442.17 498.5h43.4v1.5h-43.4zM528.97 498.5h14.47v1.5h-14.47zM557.9 498.5h14.47v1.5h-14.47zM138.37 500h14.47v1.5h-14.47zM326.43 500h14.47v1.5h-14.47zM369.83 500h28.93v1.5h-28.93zM471.1 500h14.47v1.5h-14.47zM500.03 500h101.27v1.5h-101.27zM138.37 501.5h14.47v1.5h-14.47zM268.57 501.5h14.47v1.5h-14.47zM456.63 501.5h28.93v1.5h-28.93zM500.03 501.5h86.8v1.5h-86.8zM138.37 503h14.47v1.5h-14.47zM181.77 503h14.47v1.5h-14.47zM225.17 503h43.4v1.5h-43.4zM471.1 503h57.87v1.5h-57.87zM543.43 503h28.93v1.5h-28.93zM138.37 504.5h130.2v1.5h-130.2zM471.1 504.5h57.87v1.5h-57.87zM543.43 504.5h28.93v1.5h-28.93zM138.37 506h14.47v1.5h-14.47zM181.77 506h28.93v1.5h-28.93zM239.63 506h14.47v1.5h-14.47zM268.57 506h14.47v1.5h-14.47zM340.9 506h14.47v1.5h-14.47zM384.3 506h43.4v1.5h-43.4zM442.17 506h101.27v1.5h-101.27zM557.9 506h14.47v1.5h-14.47zM152.83 507.5h72.33v1.5h-72.33zM239.63 507.5h43.4v1.5h-43.4zM326.43 507.5h173.6v1.5h-173.6zM528.97 507.5h43.4v1.5h-43.4zM138.37 509h144.67v1.5h-144.67zM326.43 509h28.93v1.5h-28.93zM369.83 509h28.93v1.5h-28.93zM413.23 509h72.33v1.5h-72.33zM528.97 509h57.87v1.5h-57.87zM138.37 510.5h144.67v1.5h-144.67zM311.97 510.5h188.07v1.5h-188.07zM528.97 510.5h43.4v1.5h-43.4zM586.83 510.5h14.47v1.5h-14.47zM51.57 512h14.47v1.5h-14.47zM138.37 512h14.47v1.5h-14.47zM210.7 512h14.47v1.5h-14.47zM268.57 512h14.47v1.5h-14.47zM311.97 512h101.27v1.5h-101.27zM427.7 512h43.4v1.5h-43.4zM485.57 512h14.47v1.5h-14.47zM528.97 512h43.4v1.5h-43.4zM37.1 513.5h14.47v1.5h-14.47zM66.03 513.5h14.47v1.5h-14.47zM138.37 513.5h14.47v1.5h-14.47zM167.3 513.5h14.47v1.5h-14.47zM225.17 513.5h28.93v1.5h-28.93zM311.97 513.5h14.47v1.5h-14.47zM340.9 513.5h14.47v1.5h-14.47zM369.83 513.5h14.47v1.5h-14.47zM398.77 513.5h14.47v1.5h-14.47zM442.17 513.5h28.93v1.5h-28.93zM485.57 513.5h28.93v1.5h-28.93zM528.97 513.5h43.4v1.5h-43.4zM66.03 515h14.47v1.5h-14.47zM138.37 515h57.87v1.5h-57.87zM210.7 515h43.4v1.5h-43.4zM268.57 515h14.47v1.5h-14.47zM311.97 515h72.33v1.5h-72.33zM398.77 515h14.47v1.5h-14.47zM442.17 515h57.87v1.5h-57.87zM528.97 515h14.47v1.5h-14.47zM586.83 515h14.47v1.5h-14.47zM138.37 516.5h14.47v1.5h-14.47zM181.77 516.5h14.47v1.5h-14.47zM239.63 516.5h14.47v1.5h-14.47zM311.97 516.5h72.33v1.5h-72.33zM413.23 516.5h101.27v1.5h-101.27zM528.97 516.5h28.93v1.5h-28.93zM586.83 516.5h14.47v1.5h-14.47zM138.37 518h14.47v1.5h-14.47zM181.77 518h14.47v1.5h-14.47zM268.57 518h14.47v1.5h-14.47zM311.97 518h14.47v1.5h-14.47zM355.37 518h14.47v1.5h-14.47zM456.63 518h57.87v1.5h-57.87zM528.97 518h72.33v1.5h-72.33zM37.1 519.5h28.93v1.5h-28.93zM138.37 519.5h14.47v1.5h-14.47zM181.77 519.5h28.93v1.5h-28.93zM239.63 519.5h14.47v1.5h-14.47zM268.57 519.5h14.47v1.5h-14.47zM311.97 519.5h28.93v1.5h-28.93zM355.37 519.5h14.47v1.5h-14.47zM384.3 519.5h28.93v1.5h-28.93zM427.7 519.5h14.47v1.5h-14.47zM471.1 519.5h43.4v1.5h-43.4zM528.97 519.5h14.47v1.5h-14.47zM557.9 519.5h43.4v1.5h-43.4zM37.1 521h14.47v1.5h-14.47zM66.03 521h14.47v1.5h-14.47zM196.23 521h72.33v1.5h-72.33zM326.43 521h14.47v1.5h-14.47zM369.83 521h28.93v1.5h-28.93zM413.23 521h14.47v1.5h-14.47zM456.63 521h86.8v1.5h-86.8zM557.9 521h43.4v1.5h-43.4zM138.37 522.5h14.47v1.5h-14.47zM210.7 522.5h14.47v1.5h-14.47zM268.57 522.5h14.47v1.5h-14.47zM340.9 522.5h14.47v1.5h-14.47zM369.83 522.5h14.47v1.5h-14.47zM413.23 522.5h28.93v1.5h-28.93zM471.1 522.5h14.47v1.5h-14.47zM500.03 522.5h14.47v1.5h-14.47zM528.97 522.5h14.47v1.5h-14.47zM557.9 522.5h43.4v1.5h-43.4zM37.1 524h14.47v1.5h-14.47zM138.37 524h14.47v1.5h-14.47zM167.3 524h28.93v1.5h-28.93zM340.9 524h14.47v1.5h-14.47zM427.7 524h14.47v1.5h-14.47zM471.1 524h14.47v1.5h-14.47zM500.03 524h43.4v1.5h-43.4zM557.9 524h14.47v1.5h-14.47zM586.83 524h14.47v1.5h-14.47zM138.37 525.5h14.47v1.5h-14.47zM167.3 525.5h28.93v1.5h-28.93zM268.57 525.5h14.47v1.5h-14.47zM297.5 525.5h14.47v1.5h-14.47zM413.23 525.5h14.47v1.5h-14.47zM471.1 525.5h57.87v1.5h-57.87zM543.43 525.5h28.93v1.5h-28.93zM586.83 525.5h14.47v1.5h-14.47zM138.37 527h14.47v1.5h-14.47zM167.3 527h14.47v1.5h-14.47zM225.17 527h28.93v1.5h-28.93zM283.03 527h14.47v1.5h-14.47zM471.1 527h14.47v1.5h-14.47zM500.03 527h14.47v1.5h-14.47zM528.97 527h72.33v1.5h-72.33zM138.37 528.5h14.47v1.5h-14.47zM167.3 528.5h28.93v1.5h-28.93zM225.17 528.5h14.47v1.5h-14.47zM413.23 528.5h14.47v1.5h-14.47zM442.17 528.5h14.47v1.5h-14.47zM500.03 528.5h14.47v1.5h-14.47zM528.97 528.5h57.87v1.5h-57.87zM138.37 530h14.47v1.5h-14.47zM225.17 530h14.47v1.5h-14.47zM413.23 530h14.47v1.5h-14.47zM500.03 530h86.8v1.5h-86.8zM138.37 531.5h14.47v1.5h-14.47zM283.03 531.5h14.47v1.5h-14.47zM311.97 531.5h28.93v1.5h-28.93zM355.37 531.5h14.47v1.5h-14.47zM427.7 531.5h57.87v1.5h-57.87zM500.03 531.5h86.8v1.5h-86.8zM152.83 533h43.4v1.5h-43.4zM210.7 533h43.4v1.5h-43.4zM268.57 533h14.47v1.5h-14.47zM311.97 533h28.93v1.5h-28.93zM355.37 533h14.47v1.5h-14.47zM384.3 533h72.33v1.5h-72.33zM500.03 533h14.47v1.5h-14.47zM528.97 533h72.33v1.5h-72.33zM152.83 534.5h14.47v1.5h-14.47zM181.77 534.5h14.47v1.5h-14.47zM210.7 534.5h43.4v1.5h-43.4zM268.57 534.5h14.47v1.5h-14.47zM311.97 534.5h14.47v1.5h-14.47zM384.3 534.5h14.47v1.5h-14.47zM427.7 534.5h28.93v1.5h-28.93zM471.1 534.5h43.4v1.5h-43.4zM528.97 534.5h57.87v1.5h-57.87zM123.9 536h14.47v1.5h-14.47zM152.83 536h14.47v1.5h-14.47zM181.77 536h28.93v1.5h-28.93zM225.17 536h72.33v1.5h-72.33zM326.43 536h14.47v1.5h-14.47zM384.3 536h14.47v1.5h-14.47zM427.7 536h159.13v1.5h-159.13zM80.5 537.5h14.47v1.5h-14.47zM109.43 537.5h28.93v1.5h-28.93zM239.63 537.5h43.4v1.5h-43.4zM297.5 537.5h28.93v1.5h-28.93zM340.9 537.5h57.87v1.5h-57.87zM413.23 537.5h57.87v1.5h-57.87zM485.57 537.5h57.87v1.5h-57.87zM557.9 537.5h43.4v1.5h-43.4zM123.9 539h28.93v1.5h-28.93zM167.3 539h14.47v1.5h-14.47zM254.1 539h28.93v1.5h-28.93zM355.37 539h28.93v1.5h-28.93zM398.77 539h28.93v1.5h-28.93zM442.17 539h28.93v1.5h-28.93zM485.57 539h57.87v1.5h-57.87zM557.9 539h43.4v1.5h-43.4zM138.37 540.5h14.47v1.5h-14.47zM254.1 540.5h14.47v1.5h-14.47zM311.97 540.5h14.47v1.5h-14.47zM485.57 540.5h14.47v1.5h-14.47zM514.5 540.5h28.93v1.5h-28.93zM557.9 540.5h28.93v1.5h-28.93zM138.37 542h14.47v1.5h-14.47zM181.77 542h28.93v1.5h-28.93zM254.1 542h14.47v1.5h-14.47zM311.97 542h14.47v1.5h-14.47zM369.83 542h14.47v1.5h-14.47zM456.63 542h28.93v1.5h-28.93zM500.03 542h43.4v1.5h-43.4zM572.37 542h28.93v1.5h-28.93zM138.37 543.5h14.47v1.5h-14.47zM268.57 543.5h14.47v1.5h-14.47zM311.97 543.5h28.93v1.5h-28.93zM369.83 543.5h14.47v1.5h-14.47zM413.23 543.5h14.47v1.5h-14.47zM471.1 543.5h14.47v1.5h-14.47zM514.5 543.5h86.8v1.5h-86.8zM51.57 545h28.93v1.5h-28.93zM138.37 545h14.47v1.5h-14.47zM167.3 545h43.4v1.5h-43.4zM239.63 545h43.4v1.5h-43.4zM297.5 545h28.93v1.5h-28.93zM355.37 545h14.47v1.5h-14.47zM384.3 545h14.47v1.5h-14.47zM413.23 545h14.47v1.5h-14.47zM456.63 545h14.47v1.5h-14.47zM514.5 545h28.93v1.5h-28.93zM138.37 546.5h28.93v1.5h-28.93zM181.77 546.5h14.47v1.5h-14.47zM254.1 546.5h57.87v1.5h-57.87zM326.43 546.5h72.33v1.5h-72.33zM427.7 546.5h115.73v1.5h-115.73zM557.9 546.5h28.93v1.5h-28.93zM51.57 548h14.47v1.5h-14.47zM138.37 548h72.33v1.5h-72.33zM225.17 548h14.47v1.5h-14.47zM254.1 548h130.2v1.5h-130.2zM413.23 548h72.33v1.5h-72.33zM500.03 548h28.93v1.5h-28.93zM543.43 548h57.87v1.5h-57.87zM138.37 549.5h14.47v1.5h-14.47zM254.1 549.5h14.47v1.5h-14.47zM355.37 549.5h14.47v1.5h-14.47zM471.1 549.5h14.47v1.5h-14.47zM500.03 549.5h28.93v1.5h-28.93zM543.43 549.5h57.87v1.5h-57.87z"/>
<path fill="#DE2D26" d="M268.57 11h28.93v1.5h-28.93zM311.97 11h14.47v1.5h-14.47zM355.37 11h14.47v1.5h-14.47zM384.3 11h43.4v1.5h-43.4zM442.17 11h14.47v1.5h-14.47zM485.57 11h14.47v1.5h-14.47zM268.57 12.5h28.93v1.5h-28.93zM311.97 12.5h28.93v1.5h-28.93zM384.3 12.5h14.47v1.5h-14.47zM413.23 12.5h14.47v1.5h-14.47zM442.17 12.5h14.47v1.5h-14.47zM471.1 12.5h28.93v1.5h-28.93zM586.83 12.5h14.47v1.5h-14.47zM268.57 14h28.93v1.5h-28.93zM311.97 14h14.47v1.5h-14.47zM369.83 14h14.47v1.5h-14.47zM398.77 14h43.4v1.5h-43.4zM514.5 14h14.47v1.5h-14.47zM557.9 14h43.4v1.5h-43.4zM311.97 15.5h28.93v1.5h-28.93zM471.1 15.5h57.87v1.5h-57.87zM557.9 15.5h14.47v1.5h-14.47zM485.57 17h14.47v1.5h-14.47zM572.37 17h14.47v1.5h-14.47zM514.5 18.5h14.47v1.5h-14.47zM557.9 18.5h14.47v1.5h-14.47zM268.57 20h14.47v1.5h-14.47zM413.23 20h14.47v1.5h-14.47zM500.03 20h14.47v1.5h-14.47zM557.9 20h14.47v1.5h-14.47zM398.77 21.5h14.47v1.5h-14.47zM572.37 21.5h14.47v1.5h-14.47zM283.03 23h14.47v1.5h-14.47zM398.77 23h14.47v1.5h-14.47zM471.1 23h14.47v1.5h-14.47zM500.03 23h14.47v1.5h-14.47zM572.37 24.5h14.47v1.5h-14.47zM384.3 26h14.47v1.5h-14.47zM427.7 26h57.87v1.5h-57.87zM586.83 26h14.47v1.5h-14.47zM427.7 27.5h28.93v1.5h-28.93zM557.9 27.5h14.47v1.5h-14.47zM326.43 29h14.47v1.5h-14.47zM369.83 29h14.47v1.5h-14.47zM398.77 29h14.47v1.5h-14.47zM427.7 29h43.4v1.5h-43.4zM528.97 29h28.93v1.5h-28.93zM572.37 29h14.47v1.5h-14.47zM66.03 30.5h14.47v1.5h-14.47zM340.9 30.5h14.47v1.5h-14.47zM398.77 30.5h14.47v1.5h-14.47zM572.37 30.5h14.47v1.5h-14.47zM37.1 32h14.47v1.5h-14.47zM398.77 32h14.47v1.5h-14.47zM456.63 32h14.47v1.5h-14.47zM528.97 32h14.47v1.5h-14.47zM456.63 33.5h14.47v1.5h-14.47zM514.5 33.5h14.47v1.5h-14.47zM543.43 33.5h14.47v1.5h-14.47zM283.03 35h28.93v1.5h-28.93zM355.37 35h14.47v1.5h-14.47zM456.63 35h14.47v1.5h-14.47zM485.57 35h14.47v1.5h-14.47zM514.5 35h28.93v1.5h-28.93zM297.5 36.5h28.93v1.5h-28.93zM369.83 36.5h14.47v1.5h-14.47zM456.63 36.5h14.47v1.5h-14.47zM500.03 36.5h14.47v1.5h-14.47zM572.37 36.5h14.47v1.5h-14.47zM37.1 38h28.93v1.5h-28.93zM471.1 38h14.47v1.5h-14.47zM572.37 38h14.47v1.5h-14.47zM37.1 39.5h14.47v1.5h-14.47zM355.37 39.5h14.47v1.5h-14.47zM471.1 39.5h14.47v1.5h-14.47zM500.03 39.5h14.47v1.5h-14.47zM543.43 39.5h14.47v1.5h-14.47zM572.37 39.5h14.47v1.5h-14.47zM311.97 41h43.4v1.5h-43.4zM369.83 41h14.47v1.5h-14.47zM413.23 41h43.4v1.5h-43.4zM471.1 41h14.47v1.5h-14.47zM543.43 41h28.93v1.5h-28.93zM326.43 44h14.47v1.5h-14.47zM355.37 44h14.47v1.5h-14.47zM543.43 44h28.93v1.5h-28.93zM471.1 45.5h14.47v1.5h-14.47zM326.43 48.5h14.47v1.5h-14.47zM557.9 48.5h28.93v1.5h-28.93zM311.97 50h14.47v1.5h-14.47zM340.9 50h14.47v1.5h-14.47zM557.9 50h28.93v1.5h-28.93zM297.5 54.5h14.47v1.5h-14.47zM586.83 54.5h14.47v1.5h-14.47zM427.7 56h28.93v1.5h-28.93zM471.1 56h28.93v1.5h-28.93zM514.5 56h14.47v1.5h-14.47zM543.43 56h28.93v1.5h-28.93zM586.83 56h14.47v1.5h-14.47zM528.97 57.5h14.47v1.5h-14.47zM586.83 57.5h14.47v1.5h-14.47zM500.03 59h14.47v1.5h-14.47zM528.97 59h14.47v1.5h-14.47zM586.83 59h14.47v1.5h-14.47zM326.43 60.5h14.47v1.5h-14.47zM427.7 60.5h14.47v1.5h-14.47zM471.1 60.5h14.47v1.5h-14.47zM500.03 60.5h14.47v1.5h-14.47zM528.97 60.5h28.93v1.5h-28.93zM572.37 60.5h28.93v1.5h-28.93zM340.9 62h14.47v1.5h-14.47zM369.83 62h28.93v1.5h-28.93zM427.7 62h14.47v1.5h-14.47zM471.1 62h14.47v1.5h-14.47zM514.5 62h43.4v1.5h-43.4zM572.37 62h28.93v1.5h-28.93zM471.1 63.5h28.93v1.5h-28.93zM528.97 63.5h28.93v1.5h-28.93zM572.37 63.5h28.93v1.5h-28.93zM384.3 65h14.47v1.5h-14.47zM442.17 65h28.93v1.5h-28.93zM528.97 65h14.47v1.5h-14.47zM572.37 65h28.93v1.5h-28.93zM528.97 66.5h28.93v1.5h-28.93zM572.37 66.5h14.47v1.5h-14.47zM528.97 68h14.47v1.5h-14.47zM528.97 69.5h28.93v1.5h-28.93zM283.03 71h14.47v1.5h-14.47zM427.7 71h14.47v1.5h-14.47zM543.43 71h14.47v1.5h-14.47zM471.1 72.5h14.47v1.5h-14.47zM528.97 72.5h28.93v1.5h-28.93zM572.37 72.5h28.93v1.5h-28.93zM326.43 74h14.47v1.5h-14.47zM355.37 74h14.47v1.5h-14.47zM471.1 74h28.93v1.5h-28.93zM543.43 74h14.47v1.5h-14.47zM572.37 74h14.47v1.5h-14.47zM485.57 75.5h14.47v1.5h-14.47zM528.97 75.5h14.47v1.5h-14.47zM557.9 75.5h43.4v1.5h-43.4zM586.83 77h14.47v1.5h-14.47zM369.83 78.5h14.47v1.5h-14.47zM528.97 78.5h28.93v1.5h-28.93zM586.83 78.5h14.47v1.5h-14.47zM471.1 80h28.93v1.5h-28.93zM586.83 80h14.47v1.5h-14.47zM471.1 81.5h14.47v1.5h-14.47zM528.97 81.5h43.4v1.5h-43.4zM586.83 81.5h14.47v1.5h-14.47zM326.43 83h14.47v1.5h-14.47zM471.1 83h14.47v1.5h-14.47zM514.5 83h14.47v1.5h-14.47zM543.43 83h14.47v1.5h-14.47zM586.83 83h14.47v1.5h-14.47zM514.5 84.5h14.47v1.5h-14.47zM543.43 84.5h14.47v1.5h-14.47zM326.43 86h14.47v1.5h-14.47zM355.37 86h28.93v1.5h-28.93zM427.7 86h14.47v1.5h-14.47zM456.63 86h28.93v1.5h-28.93zM500.03 86h72.33v1.5h-72.33zM586.83 86h14.47v1.5h-14.47zM355.37 87.5h14.47v1.5h-14.47zM384.3 87.5h14.47v1.5h-14.47zM442.17 87.5h43.4v1.5h-43.4zM528.97 87.5h43.4v1.5h-43.4zM586.83 87.5h14.47v1.5h-14.47zM456.63 89h28.93v1.5h-28.93zM543.43 89h28.93v1.5h-28.93zM326.43 90.5h14.47v1.5h-14.47zM369.83 90.5h14.47v1.5h-14.47zM471.1 90.5h14.47v1.5h-14.47zM514.5 90.5h28.93v1.5h-28.93zM586.83 90.5h14.47v1.5h-14.47zM283.03 92h14.47v1.5h-14.47zM326.43 92h14.47v1.5h-14.47zM398.77 92h14.47v1.5h-14.47zM471.1 92h14.47v1.5h-14.47zM586.83 92h14.47v1.5h-14.47zM514.5 93.5h28.93v1.5h-28.93zM572.37 93.5h28.93v1.5h-28.93zM398.77 95h14.47v1.5h-14.47zM543.43 95h43.4v1.5h-43.4zM268.57 96.5h14.47v1.5h-14.47zM369.83 96.5h14.47v1.5h-14.47zM413.23 96.5h14.47v1.5h-14.47zM572.37 96.5h14.47v1.5h-14.47zM543.43 98h14.47v1.5h-14.47zM471.1 99.5h14.47v1.5h-14.47zM572.37 99.5h14.47v1.5h-14.47zM456.63 101h14.47v1.5h-14.47zM485.57 101h43.4v1.5h-43.4zM557.9 101h14.47v1.5h-14.47zM586.83 101h14.47v1.5h-14.47zM485.57 102.5h14.47v1.5h-14.47zM514.5 102.5h14.47v1.5h-14.47zM586.83 102.5h14.47v1.5h-14.47zM514.5 104h14.47v1.5h-14.47zM543.43 104h14.47v1.5h-14.47zM514.5 105.5h14.47v1.5h-14.47zM586.83 105.5h14.47v1.5h-14.47zM586.83 107h14.47v1.5h-14.47zM586.83 108.5h14.47v1.5h-14.47zM340.9 110h14.47v1.5h-14.47zM384.3 110h28.93v1.5h-28.93zM427.7 110h14.47v1.5h-14.47zM586.83 110h14.47v1.5h-14.47zM326.43 111.5h14.47v1.5h-14.47zM384.3 111.5h14.47v1.5h-14.47zM427.7 111.5h14.47v1.5h-14.47zM586.83 111.5h14.47v1.5h-14.47zM557.9 113h14.47v1.5h-14.47zM586.83 113h14.47v1.5h-14.47zM413.23 114.5h14.47v1.5h-14.47zM586.83 114.5h14.47v1.5h-14.47zM326.43 116h14.47v1.5h-14.47zM355.37 116h14.47v1.5h-14.47zM384.3 116h28.93v1.5h-28.93zM456.63 116h14.47v1.5h-14.47zM514.5 116h14.47v1.5h-14.47zM586.83 116h14.47v1.5h-14.47zM340.9 117.5h43.4v1.5h-43.4zM456.63 117.5h14.47v1.5h-14.47zM485.57 117.5h14.47v1.5h-14.47zM514.5 117.5h14.47v1.5h-14.47zM355.37 119h14.47v1.5h-14.47zM384.3 119h14.47v1.5h-14.47zM456.63 119h14.47v1.5h-14.47zM485.57 119h28.93v1.5h-28.93zM528.97 119h28.93v1.5h-28.93zM572.37 119h14.47v1.5h-14.47zM413.23 120.5h14.47v1.5h-14.47zM485.57 120.5h28.93v1.5h-28.93zM528.97 120.5h57.87v1.5h-57.87zM311.97 122h14.47v1.5h-14.47zM398.77 122h14.47v1.5h-14.47zM514.5 122h14.47v1.5h-14.47zM543.43 122h43.4v1.5h-43.4zM311.97 123.5h14.47v1.5h-14.47zM340.9 123.5h14.47v1.5h-14.47zM398.77 123.5h28.93v1.5h-28.93zM456.63 123.5h14.47v1.5h-14.47zM528.97 123.5h43.4v1.5h-43.4zM557.9 125h14.47v1.5h-14.47zM311.97 126.5h14.47v1.5h-14.47zM340.9 126.5h28.93v1.5h-28.93zM384.3 126.5h14.47v1.5h-14.47zM442.17 126.5h14.47v1.5h-14.47zM471.1 126.5h115.73v1.5h-115.73zM485.57 128h14.47v1.5h-14.47zM514.5 128h14.47v1.5h-14.47zM572.37 128h14.47v1.5h-14.47zM355.37 129.5h14.47v1.5h-14.47zM471.1 129.5h14.47v1.5h-14.47zM355.37 131h14.47v1.5h-14.47zM485.57 131h14.47v1.5h-14.47zM311.97 132.5h14.47v1.5h-14.47zM427.7 132.5h14.47v1.5h-14.47zM572.37 132.5h14.47v1.5h-14.47zM283.03 134h14.47v1.5h-14.47zM355.37 134h14.47v1.5h-14.47zM427.7 134h14.47v1.5h-14.47zM500.03 134h14.47v1.5h-14.47zM572.37 134h14.47v1.5h-14.47zM268.57 135.5h14.47v1.5h-14.47zM326.43 135.5h14.47v1.5h-14.47zM369.83 135.5h14.47v1.5h-14.47zM500.03 135.5h14.47v1.5h-14.47zM528.97 135.5h14.47v1.5h-14.47zM268.57 137h72.33v1.5h-72.33zM369.83 137h14.47v1.5h-14.47zM398.77 137h28.93v1.5h-28.93zM500.03 137h14.47v1.5h-14.47zM268.57 138.5h43.4v1.5h-43.4zM485.57 138.5h28.93v1.5h-28.93zM268.57 140h14.47v1.5h-14.47zM297.5 140h14.47v1.5h-14.47zM500.03 140h14.47v1.5h-14.47zM557.9 140h28.93v1.5h-28.93zM471.1 141.5h28.93v1.5h-28.93zM514.5 141.5h14.47v1.5h-14.47zM543.43 141.5h28.93v1.5h-28.93zM268.57 143h14.47v1.5h-14.47zM485.57 143h14.47v1.5h-14.47zM514.5 143h14.47v1.5h-14.47zM543.43 143h28.93v1.5h-28.93zM268.57 144.5h28.93v1.5h-28.93zM471.1 144.5h28.93v1.5h-28.93zM543.43 144.5h28.93v1.5h-28.93zM586.83 144.5h14.47v1.5h-14.47zM471.1 146h28.93v1.5h-28.93zM557.9 146h14.47v1.5h-14.47zM471.1 147.5h14.47v1.5h-14.47zM138.37 149h14.47v1.5h-14.47zM283.03 150.5h28.93v1.5h-28.93zM471.1 150.5h14.47v1.5h-14.47zM586.83 150.5h14.47v1.5h-14.47zM196.23 152h14.47v1.5h-14.47zM268.57 152h14.47v1.5h-14.47zM586.83 152h14.47v1.5h-14.47zM181.77 153.5h14.47v1.5h-14.47zM297.5 153.5h14.47v1.5h-14.47zM500.03 153.5h14.47v1.5h-14.47zM268.57 155h14.47v1.5h-14.47zM500.03 155h14.47v1.5h-14.47zM572.37 155h14.47v1.5h-14.47zM283.03 156.5h14.47v1.5h-14.47zM471.1 156.5h43.4v1.5h-43.4zM572.37 156.5h14.47v1.5h-14.47zM471.1 158h14.47v1.5h-14.47zM572.37 158h14.47v1.5h-14.47zM500.03 159.5h14.47v1.5h-14.47zM572.37 159.5h14.47v1.5h-14.47zM572.37 162.5h28.93v1.5h-28.93zM268.57 164h28.93v1.5h-28.93zM572.37 164h28.93v1.5h-28.93zM268.57 165.5h28.93v1.5h-28.93zM500.03 165.5h14.47v1.5h-14.47zM572.37 165.5h14.47v1.5h-14.47zM268.57 167h14.47v1.5h-14.47zM471.1 167h14.47v1.5h-14.47zM572.37 167h28.93v1.5h-28.93zM471.1 168.5h14.47v1.5h-14.47zM543.43 168.5h14.47v1.5h-14.47zM572.37 168.5h28.93v1.5h-28.93zM471.1 170h28.93v1.5h-28.93zM514.5 170h14.47v1.5h-14.47zM543.43 170h28.93v1.5h-28.93zM586.83 170h14.47v1.5h-14.47zM471.1 171.5h14.47v1.5h-14.47zM514.5 171.5h14.47v1.5h-14.47zM543.43 171.5h28.93v1.5h-28.93zM471.1 173h14.47v1.5h-14.47zM500.03 173h14.47v1.5h-14.47zM543.43 173h57.87v1.5h-57.87zM471.1 174.5h14.47v1.5h-14.47zM500.03 174.5h28.93v1.5h-28.93zM572.37 174.5h28.93v1.5h-28.93zM471.1 176h28.93v1.5h-28.93zM514.5 176h14.47v1.5h-14.47zM572.37 176h14.47v1.5h-14.47zM485.57 177.5h14.47v1.5h-14.47zM514.5 177.5h14.47v1.5h-14.47zM572.37 177.5h28.93v1.5h-28.93zM181.77 179h14.47v1.5h-14.47zM210.7 179h14.47v1.5h-14.47zM485.57 179h14.47v1.5h-14.47zM514.5 179h14.47v1.5h-14.47zM572.37 179h28.93v1.5h-28.93zM138.37 180.5h14.47v1.5h-14.47zM181.77 180.5h14.47v1.5h-14.47zM485.57 180.5h14.47v1.5h-14.47zM514.5 180.5h14.47v1.5h-14.47zM557.9 180.5h43.4v1.5h-43.4zM471.1 182h28.93v1.5h-28.93zM514.5 182h14.47v1.5h-14.47zM557.9 182h43.4v1.5h-43.4zM514.5 183.5h14.47v1.5h-14.47zM557.9 183.5h28.93v1.5h-28.93zM514.5 185h14.47v1.5h-14.47zM557.9 185h28.93v1.5h-28.93zM138.37 186.5h14.47v1.5h-14.47zM239.63 186.5h14.47v1.5h-14.47zM485.57 186.5h43.4v1.5h-43.4zM543.43 186.5h14.47v1.5h-14.47zM572.37 186.5h14.47v1.5h-14.47zM485.57 188h14.47v1.5h-14.47zM557.9 188h28.93v1.5h-28.93zM557.9 189.5h14.47v1.5h-14.47zM485.57 191h14.47v1.5h-14.47zM557.9 191h28.93v1.5h-28.93zM485.57 192.5h28.93v1.5h-28.93zM528.97 192.5h14.47v1.5h-14.47zM557.9 192.5h43.4v1.5h-43.4zM485.57 194h28.93v1.5h-28.93zM528.97 194h72.33v1.5h-72.33zM471.1 195.5h57.87v1.5h-57.87zM572.37 195.5h14.47v1.5h-14.47zM485.57 197h43.4v1.5h-43.4zM557.9 197h28.93v1.5h-28.93zM471.1 198.5h57.87v1.5h-57.87zM543.43 198.5h57.87v1.5h-57.87zM471.1 200h14.47v1.5h-14.47zM500.03 200h14.47v1.5h-14.47zM557.9 200h43.4v1.5h-43.4zM485.57 201.5h43.4v1.5h-43.4zM471.1 203h57.87v1.5h-57.87zM586.83 203h14.47v1.5h-14.47zM471.1 204.5h14.47v1.5h-14.47zM500.03 204.5h28.93v1.5h-28.93zM572.37 204.5h14.47v1.5h-14.47zM485.57 210.5h14.47v1.5h-14.47zM528.97 210.5h14.47v1.5h-14.47zM528.97 212h14.47v1.5h-14.47zM471.1 213.5h14.47v1.5h-14.47zM500.03 213.5h14.47v1.5h-14.47zM500.03 215h28.93v1.5h-28.93zM514.5 216.5h14.47v1.5h-14.47zM557.9 219.5h14.47v1.5h-14.47zM586.83 219.5h14.47v1.5h-14.47zM572.37 221h14.47v1.5h-14.47zM514.5 224h14.47v1.5h-14.47zM514.5 225.5h28.93v1.5h-28.93zM572.37 225.5h14.47v1.5h-14.47zM528.97 227h14.47v1.5h-14.47zM528.97 228.5h14.47v1.5h-14.47zM514.5 230h28.93v1.5h-28.93zM557.9 230h14.47v1.5h-14.47zM514.5 231.5h14.47v1.5h-14.47zM543.43 231.5h43.4v1.5h-43.4zM514.5 233h14.47v1.5h-14.47zM557.9 233h14.47v1.5h-14.47zM514.5 234.5h14.47v1.5h-14.47zM500.03 236h14.47v1.5h-14.47zM471.1 237.5h43.4v1.5h-43.4zM586.83 237.5h14.47v1.5h-14.47zM471.1 239h14.47v1.5h-14.47zM500.03 239h28.93v1.5h-28.93zM557.9 239h14.47v1.5h-14.47zM586.83 239h14.47v1.5h-14.47zM485.57 240.5h14.47v1.5h-14.47zM543.43 240.5h28.93v1.5h-28.93zM586.83 240.5h14.47v1.5h-14.47zM485.57 242h14.47v1.5h-14.47zM543.43 242h14.47v1.5h-14.47zM586.83 242h14.47v1.5h-14.47zM485.57 243.5h14.47v1.5h-14.47zM514.5 243.5h14.47v1.5h-14.47zM557.9 243.5h14.47v1.5h-14.47zM485.57 245h14.47v1.5h-14.47zM514.5 245h14.47v1.5h-14.47zM572.37 245h14.47v1.5h-14.47zM471.1 246.5h57.87v1.5h-57.87zM557.9 246.5h28.93v1.5h-28.93zM485.57 248h14.47v1.5h-14.47zM514.5 248h86.8v1.5h-86.8zM471.1 249.5h14.47v1.5h-14.47zM557.9 249.5h14.47v1.5h-14.47zM471.1 251h14.47v1.5h-14.47zM528.97 251h28.93v1.5h-28.93zM586.83 251h14.47v1.5h-14.47zM485.57 252.5h14.47v1.5h-14.47zM528.97 252.5h14.47v1.5h-14.47zM557.9 252.5h43.4v1.5h-43.4zM485.57 254h14.47v1.5h-14.47zM528.97 254h14.47v1.5h-14.47zM557.9 254h43.4v1.5h-43.4zM500.03 255.5h14.47v1.5h-14.47zM471.1 257h14.47v1.5h-14.47zM500.03 257h43.4v1.5h-43.4zM586.83 257h14.47v1.5h-14.47zM471.1 258.5h14.47v1.5h-14.47zM514.5 258.5h14.47v1.5h-14.47zM471.1 260h28.93v1.5h-28.93zM514.5 260h43.4v1.5h-43.4zM586.83 260h14.47v1.5h-14.47zM471.1 261.5h28.93v1.5h-28.93zM514.5 261.5h14.47v1.5h-14.47zM586.83 261.5h14.47v1.5h-14.47zM471.1 263h57.87v1.5h-57.87zM485.57 264.5h14.47v1.5h-14.47zM471.1 266h43.4v1.5h-43.4zM557.9 266h14.47v1.5h-14.47zM471.1 267.5h14.47v1.5h-14.47zM514.5 267.5h14.47v1.5h-14.47zM543.43 267.5h28.93v1.5h-28.93zM586.83 267.5h14.47v1.5h-14.47zM471.1 269h14.47v1.5h-14.47zM514.5 269h14.47v1.5h-14.47zM557.9 269h43.4v1.5h-43.4zM471.1 270.5h14.47v1.5h-14.47zM500.03 270.5h28.93v1.5h-28.93zM543.43 270.5h43.4v1.5h-43.4zM471.1 272h101.27v1.5h-101.27zM471.1 273.5h72.33v1.5h-72.33zM557.9 273.5h28.93v1.5h-28.93zM514.5 275h14.47v1.5h-14.47zM557.9 275h28.93v1.5h-28.93zM485.57 276.5h14.47v1.5h-14.47zM514.5 276.5h28.93v1.5h-28.93zM485.57 278h14.47v1.5h-14.47zM557.9 278h14.47v1.5h-14.47zM557.9 279.5h14.47v1.5h-14.47zM586.83 279.5h14.47v1.5h-14.47zM514.5 281h28.93v1.5h-28.93zM557.9 281h14.47v1.5h-14.47zM586.83 281h14.47v1.5h-14.47zM514.5 282.5h14.47v1.5h-14.47zM543.43 282.5h28.93v1.5h-28.93zM586.83 282.5h14.47v1.5h-14.47zM586.83 284h14.47v1.5h-14.47zM471.1 285.5h14.47v1.5h-14.47zM500.03 285.5h72.33v1.5h-72.33zM586.83 285.5h14.47v1.5h-14.47zM471.1 287h14.47v1.5h-14.47zM500.03 287h57.87v1.5h-57.87zM586.83 287h14.47v1.5h-14.47zM500.03 288.5h43.4v1.5h-43.4zM557.9 288.5h14.47v1.5h-14.47zM586.83 288.5h14.47v1.5h-14.47zM514.5 290h14.47v1.5h-14.47zM557.9 290h14.47v1.5h-14.47zM586.83 290h14.47v1.5h-14.47zM514.5 291.5h14.47v1.5h-14.47zM471.1 293h28.93v1.5h-28.93zM557.9 293h14.47v1.5h-14.47zM471.1 294.5h28.93v1.5h-28.93zM572.37 294.5h14.47v1.5h-14.47zM471.1 296h28.93v1.5h-28.93zM485.57 297.5h28.93v1.5h-28.93zM572.37 297.5h14.47v1.5h-14.47zM471.1 299h14.47v1.5h-14.47zM500.03 299h14.47v1.5h-14.47zM528.97 299h72.33v1.5h-72.33zM471.1 300.5h43.4v1.5h-43.4zM528.97 300.5h14.47v1.5h-14.47zM557.9 300.5h28.93v1.5h-28.93zM543.43 303.5h14.47v1.5h-14.47zM557.9 305h14.47v1.5h-14.47zM586.83 305h14.47v1.5h-14.47zM471.1 306.5h14.47v1.5h-14.47zM500.03 306.5h28.93v1.5h-28.93zM557.9 306.5h14.47v1.5h-14.47zM586.83 306.5h14.47v1.5h-14.47zM471.1 308h14.47v1.5h-14.47zM500.03 308h14.47v1.5h-14.47zM471.1 309.5h28.93v1.5h-28.93zM471.1 311h14.47v1.5h-14.47zM557.9 311h14.47v1.5h-14.47zM557.9 312.5h14.47v1.5h-14.47zM557.9 314h14.47v1.5h-14.47zM528.97 315.5h14.47v1.5h-14.47zM485.57 317h14.47v1.5h-14.47zM528.97 317h43.4v1.5h-43.4zM196.23 318.5h14.47v1.5h-14.47zM239.63 318.5h14.47v1.5h-14.47zM514.5 318.5h14.47v1.5h-14.47zM543.43 318.5h14.47v1.5h-14.47zM471.1 320h14.47v1.5h-14.47zM514.5 320h14.47v1.5h-14.47zM557.9 320h14.47v1.5h-14.47zM586.83 320h14.47v1.5h-14.47zM471.1 321.5h28.93v1.5h-28.93zM557.9 321.5h14.47v1.5h-14.47zM471.1 323h28.93v1.5h-28.93zM485.57 324.5h14.47v1.5h-14.47zM557.9 324.5h28.93v1.5h-28.93zM500.03 326h14.47v1.5h-14.47zM543.43 326h28.93v1.5h-28.93zM557.9 327.5h14.47v1.5h-14.47zM557.9 329h14.47v1.5h-14.47zM485.57 330.5h28.93v1.5h-28.93zM543.43 330.5h57.87v1.5h-57.87zM485.57 332h28.93v1.5h-28.93zM485.57 333.5h28.93v1.5h-28.93zM557.9 333.5h14.47v1.5h-14.47zM138.37 335h14.47v1.5h-14.47zM485.57 335h28.93v1.5h-28.93zM543.43 335h14.47v1.5h-14.47zM586.83 335h14.47v1.5h-14.47zM485.57 336.5h14.47v1.5h-14.47zM514.5 336.5h14.47v1.5h-14.47zM543.43 336.5h28.93v1.5h-28.93zM586.83 336.5h14.47v1.5h-14.47zM485.57 338h14.47v1.5h-14.47zM514.5 338h14.47v1.5h-14.47zM543.43 338h14.47v1.5h-14.47zM586.83 338h14.47v1.5h-14.47zM586.83 339.5h14.47v1.5h-14.47zM471.1 341h14.47v1.5h-14.47zM500.03 341h14.47v1.5h-14.47zM528.97 341h14.47v1.5h-14.47zM557.9 341h14.47v1.5h-14.47zM586.83 341h14.47v1.5h-14.47zM471.1 342.5h14.47v1.5h-14.47zM500.03 342.5h14.47v1.5h-14.47zM586.83 342.5h14.47v1.5h-14.47zM514.5 344h14.47v1.5h-14.47zM543.43 344h14.47v1.5h-14.47zM586.83 344h14.47v1.5h-14.47zM514.5 345.5h14.47v1.5h-14.47zM586.83 345.5h14.47v1.5h-14.47zM514.5 347h14.47v1.5h-14.47zM543.43 347h14.47v1.5h-14.47zM586.83 347h14.47v1.5h-14.47zM514.5 348.5h14.47v1.5h-14.47zM543.43 348.5h14.47v1.5h-14.47zM514.5 350h14.47v1.5h-14.47zM543.43 350h14.47v1.5h-14.47zM586.83 350h14.47v1.5h-14.47zM514.5 351.5h28.93v1.5h-28.93zM514.5 353h14.47v1.5h-14.47zM485.57 354.5h43.4v1.5h-43.4zM543.43 354.5h57.87v1.5h-57.87zM485.57 356h28.93v1.5h-28.93zM543.43 356h28.93v1.5h-28.93zM485.57 357.5h43.4v1.5h-43.4zM557.9 357.5h28.93v1.5h-28.93zM500.03 359h14.47v1.5h-14.47zM543.43 359h43.4v1.5h-43.4zM485.57 360.5h57.87v1.5h-57.87zM557.9 360.5h28.93v1.5h-28.93zM485.57 362h57.87v1.5h-57.87zM557.9 362h28.93v1.5h-28.93zM471.1 363.5h14.47v1.5h-14.47zM543.43 363.5h14.47v1.5h-14.47zM528.97 365h14.47v1.5h-14.47zM586.83 365h14.47v1.5h-14.47zM500.03 366.5h28.93v1.5h-28.93zM557.9 366.5h43.4v1.5h-43.4zM500.03 368h14.47v1.5h-14.47zM572.37 368h14.47v1.5h-14.47zM557.9 369.5h28.93v1.5h-28.93zM528.97 371h14.47v1.5h-14.47zM572.37 371h28.93v1.5h-28.93zM485.57 372.5h28.93v1.5h-28.93zM586.83 372.5h14.47v1.5h-14.47zM485.57 374h28.93v1.5h-28.93zM586.83 374h14.47v1.5h-14.47zM543.43 375.5h14.47v1.5h-14.47zM572.37 375.5h28.93v1.5h-28.93zM471.1 377h14.47v1.5h-14.47zM500.03 377h28.93v1.5h-28.93zM543.43 377h57.87v1.5h-57.87zM514.5 378.5h14.47v1.5h-14.47zM543.43 378.5h14.47v1.5h-14.47zM586.83 378.5h14.47v1.5h-14.47zM485.57 380h43.4v1.5h-43.4zM543.43 380h14.47v1.5h-14.47zM471.1 381.5h57.87v1.5h-57.87zM543.43 381.5h14.47v1.5h-14.47zM586.83 381.5h14.47v1.5h-14.47zM471.1 383h14.47v1.5h-14.47zM500.03 383h28.93v1.5h-28.93zM543.43 383h14.47v1.5h-14.47zM586.83 383h14.47v1.5h-14.47zM471.1 384.5h14.47v1.5h-14.47zM500.03 384.5h14.47v1.5h-14.47zM528.97 384.5h14.47v1.5h-14.47zM557.9 384.5h14.47v1.5h-14.47zM485.57 386h14.47v1.5h-14.47zM543.43 386h28.93v1.5h-28.93zM586.83 386h14.47v1.5h-14.47zM471.1 387.5h28.93v1.5h-28.93zM514.5 387.5h14.47v1.5h-14.47zM543.43 387.5h14.47v1.5h-14.47zM572.37 387.5h28.93v1.5h-28.93zM514.5 389h86.8v1.5h-86.8zM514.5 390.5h43.4v1.5h-43.4zM485.57 392h14.47v1.5h-14.47zM514.5 392h14.47v1.5h-14.47zM543.43 392h14.47v1.5h-14.47zM500.03 393.5h28.93v1.5h-28.93zM543.43 393.5h14.47v1.5h-14.47zM514.5 395h14.47v1.5h-14.47zM543.43 395h14.47v1.5h-14.47zM500.03 396.5h14.47v1.5h-14.47zM543.43 396.5h14.47v1.5h-14.47zM500.03 398h14.47v1.5h-14.47zM138.37 399.5h14.47v1.5h-14.47zM500.03 399.5h14.47v1.5h-14.47zM528.97 399.5h14.47v1.5h-14.47zM572.37 399.5h14.47v1.5h-14.47zM500.03 401h14.47v1.5h-14.47zM528.97 401h14.47v1.5h-14.47zM528.97 402.5h14.47v1.5h-14.47zM572.37 402.5h14.47v1.5h-14.47zM528.97 404h14.47v1.5h-14.47zM586.83 404h14.47v1.5h-14.47zM528.97 405.5h14.47v1.5h-14.47zM528.97 407h14.47v1.5h-14.47zM557.9 408.5h14.47v1.5h-14.47zM485.57 410h28.93v1.5h-28.93zM528.97 410h14.47v1.5h-14.47zM528.97 411.5h14.47v1.5h-14.47zM557.9 411.5h14.47v1.5h-14.47zM152.83 413h28.93v1.5h-28.93zM471.1 413h14.47v1.5h-14.47zM528.97 413h14.47v1.5h-14.47zM557.9 413h14.47v1.5h-14.47zM586.83 413h14.47v1.5h-14.47zM471.1 414.5h28.93v1.5h-28.93zM514.5 414.5h14.47v1.5h-14.47zM557.9 414.5h14.47v1.5h-14.47zM586.83 414.5h14.47v1.5h-14.47zM210.7 416h14.47v1.5h-14.47zM485.57 416h43.4v1.5h-43.4zM586.83 416h14.47v1.5h-14.47zM485.57 417.5h14.47v1.5h-14.47zM586.83 417.5h14.47v1.5h-14.47zM485.57 419h14.47v1.5h-14.47zM485.57 420.5h14.47v1.5h-14.47zM485.57 422h14.47v1.5h-14.47zM500.03 423.5h14.47v1.5h-14.47zM572.37 423.5h14.47v1.5h-14.47zM500.03 425h14.47v1.5h-14.47zM543.43 425h14.47v1.5h-14.47zM572.37 425h14.47v1.5h-14.47zM485.57 431h28.93v1.5h-28.93zM500.03 432.5h28.93v1.5h-28.93zM572.37 432.5h14.47v1.5h-14.47zM514.5 434h14.47v1.5h-14.47zM586.83 434h14.47v1.5h-14.47zM167.3 435.5h14.47v1.5h-14.47zM485.57 435.5h14.47v1.5h-14.47zM586.83 435.5h14.47v1.5h-14.47zM167.3 437h14.47v1.5h-14.47zM485.57 437h14.47v1.5h-14.47zM514.5 437h14.47v1.5h-14.47zM586.83 437h14.47v1.5h-14.47zM514.5 438.5h28.93v1.5h-28.93zM586.83 438.5h14.47v1.5h-14.47zM485.57 441.5h14.47v1.5h-14.47zM572.37 441.5h14.47v1.5h-14.47zM471.1 443h28.93v1.5h-28.93zM543.43 443h14.47v1.5h-14.47zM586.83 443h14.47v1.5h-14.47zM471.1 444.5h14.47v1.5h-14.47zM500.03 446h14.47v1.5h-14.47zM543.43 446h14.47v1.5h-14.47zM572.37 446h28.93v1.5h-28.93zM471.1 447.5h14.47v1.5h-14.47zM471.1 449h14.47v1.5h-14.47zM500.03 449h14.47v1.5h-14.47zM471.1 450.5h43.4v1.5h-43.4zM528.97 450.5h14.47v1.5h-14.47zM485.57 453.5h14.47v1.5h-14.47zM500.03 455h14.47v1.5h-14.47zM572.37 455h14.47v1.5h-14.47zM514.5 456.5h14.47v1.5h-14.47zM543.43 456.5h14.47v1.5h-14.47zM500.03 458h28.93v1.5h-28.93zM471.1 459.5h14.47v1.5h-14.47zM500.03 461h14.47v1.5h-14.47zM528.97 461h14.47v1.5h-14.47zM557.9 461h14.47v1.5h-14.47zM500.03 462.5h28.93v1.5h-28.93zM500.03 464h14.47v1.5h-14.47zM528.97 464h14.47v1.5h-14.47zM500.03 465.5h14.47v1.5h-14.47zM500.03 468.5h14.47v1.5h-14.47zM543.43 468.5h14.47v1.5h-14.47zM586.83 468.5h14.47v1.5h-14.47zM528.97 471.5h14.47v1.5h-14.47zM485.57 473h28.93v1.5h-28.93zM557.9 473h14.47v1.5h-14.47zM485.57 474.5h14.47v1.5h-14.47zM528.97 474.5h14.47v1.5h-14.47zM471.1 476h28.93v1.5h-28.93zM572.37 476h14.47v1.5h-14.47zM485.57 477.5h14.47v1.5h-14.47zM572.37 477.5h14.47v1.5h-14.47zM485.57 479h14.47v1.5h-14.47zM514.5 479h14.47v1.5h-14.47zM557.9 479h28.93v1.5h-28.93zM514.5 480.5h28.93v1.5h-28.93zM557.9 480.5h28.93v1.5h-28.93zM471.1 482h14.47v1.5h-14.47zM514.5 482h14.47v1.5h-14.47zM543.43 482h43.4v1.5h-43.4zM254.1 483.5h14.47v1.5h-14.47zM355.37 483.5h14.47v1.5h-14.47zM471.1 483.5h14.47v1.5h-14.47zM500.03 483.5h14.47v1.5h-14.47zM572.37 483.5h14.47v1.5h-14.47zM471.1 485h14.47v1.5h-14.47zM500.03 485h14.47v1.5h-14.47zM528.97 485h57.87v1.5h-57.87zM471.1 486.5h57.87v1.5h-57.87zM514.5 488h14.47v1.5h-14.47zM485.57 491h28.93v1.5h-28.93zM557.9 491h14.47v1.5h-14.47zM586.83 491h14.47v1.5h-14.47zM514.5 492.5h14.47v1.5h-14.47zM543.43 492.5h28.93v1.5h-28.93zM485.57 494h14.47v1.5h-14.47zM543.43 494h14.47v1.5h-14.47zM485.57 495.5h14.47v1.5h-14.47zM138.37 497h14.47v1.5h-14.47zM485.57 497h28.93v1.5h-28.93zM572.37 497h28.93v1.5h-28.93zM138.37 498.5h14.47v1.5h-14.47zM500.03 498.5h28.93v1.5h-28.93zM543.43 498.5h14.47v1.5h-14.47zM572.37 498.5h28.93v1.5h-28.93zM485.57 500h14.47v1.5h-14.47zM485.57 501.5h14.47v1.5h-14.47zM586.83 501.5h14.47v1.5h-14.47zM528.97 503h14.47v1.5h-14.47zM572.37 503h28.93v1.5h-28.93zM528.97 504.5h14.47v1.5h-14.47zM572.37 504.5h28.93v1.5h-28.93zM543.43 506h14.47v1.5h-14.47zM572.37 506h28.93v1.5h-28.93zM138.37 507.5h14.47v1.5h-14.47zM500.03 507.5h28.93v1.5h-28.93zM572.37 507.5h28.93v1.5h-28.93zM485.57 509h43.4v1.5h-43.4zM586.83 509h14.47v1.5h-14.47zM500.03 510.5h28.93v1.5h-28.93zM572.37 510.5h14.47v1.5h-14.47zM471.1 512h14.47v1.5h-14.47zM500.03 512h28.93v1.5h-28.93zM572.37 512h28.93v1.5h-28.93zM471.1 513.5h14.47v1.5h-14.47zM514.5 513.5h14.47v1.5h-14.47zM572.37 513.5h28.93v1.5h-28.93zM500.03 515h28.93v1.5h-28.93zM543.43 515h43.4v1.5h-43.4zM514.5 516.5h14.47v1.5h-14.47zM557.9 516.5h28.93v1.5h-28.93zM514.5 518h14.47v1.5h-14.47zM514.5 519.5h14.47v1.5h-14.47zM543.43 519.5h14.47v1.5h-14.47zM138.37 521h14.47v1.5h-14.47zM543.43 521h14.47v1.5h-14.47zM485.57 522.5h14.47v1.5h-14.47zM514.5 522.5h14.47v1.5h-14.47zM543.43 522.5h14.47v1.5h-14.47zM485.57 524h14.47v1.5h-14.47zM543.43 524h14.47v1.5h-14.47zM485.57 527h14.47v1.5h-14.47zM514.5 527h14.47v1.5h-14.47zM471.1 528.5h28.93v1.5h-28.93zM514.5 528.5h14.47v1.5h-14.47zM586.83 528.5h14.47v1.5h-14.47zM471.1 530h28.93v1.5h-28.93zM586.83 530h14.47v1.5h-14.47zM485.57 531.5h14.47v1.5h-14.47zM586.83 531.5h14.47v1.5h-14.47zM138.37 533h14.47v1.5h-14.47zM471.1 533h28.93v1.5h-28.93zM514.5 533h14.47v1.5h-14.47zM138.37 534.5h14.47v1.5h-14.47zM514.5 534.5h14.47v1.5h-14.47zM586.83 534.5h14.47v1.5h-14.47zM138.37 536h14.47v1.5h-14.47zM586.83 536h14.47v1.5h-14.47zM138.37 537.5h14.47v1.5h-14.47zM471.1 537.5h14.47v1.5h-14.47zM543.43 537.5h14.47v1.5h-14.47zM471.1 539h14.47v1.5h-14.47zM543.43 539h14.47v1.5h-14.47zM471.1 540.5h14.47v1.5h-14.47zM500.03 540.5h14.47v1.5h-14.47zM543.43 540.5h14.47v1.5h-14.47zM586.83 540.5h14.47v1.5h-14.47zM485.57 542h14.47v1.5h-14.47zM543.43 542h28.93v1.5h-28.93zM485.57 543.5h28.93v1.5h-28.93zM471.1 545h43.4v1.5h-43.4zM543.43 545h57.87v1.5h-57.87zM543.43 546.5h14.47v1.5h-14.47zM586.83 546.5h14.47v1.5h-14.47zM485.57 548h14.47v1.5h-14.47zM528.97 548h14.47v1.5h-14.47zM485.57 549.5h14.47v1.5h-14.47zM528.97 549.5h14.47v1.5h-14.47z"/>
<path fill="#A50F15" d="M427.7 11h14.47v1.5h-14.47zM398.77 12.5h14.47v1.5h-14.47zM427.7 12.5h14.47v1.5h-14.47zM572.37 12.5h14.47v1.5h-14.47zM514.5 17h14.47v1.5h-14.47zM557.9 17h14.47v1.5h-14.47zM485.57 18.5h14.47v1.5h-14.47zM572.37 18.5h14.47v1.5h-14.47zM572.37 20h14.47v1.5h-14.47zM572.37 23h14.47v1.5h-14.47zM543.43 26h28.93v1.5h-28.93zM543.43 27.5h14.47v1.5h-14.47zM471.1 36.5h14.47v1.5h-14.47zM528.97 36.5h14.47v1.5h-14.47zM528.97 38h14.47v1.5h-14.47zM384.3 41h14.47v1.5h-14.47zM572.37 44h14.47v1.5h-14.47zM557.9 57.5h14.47v1.5h-14.47zM485.57 65h14.47v1.5h-14.47zM528.97 71h14.47v1.5h-14.47zM586.83 74h14.47v1.5h-14.47zM528.97 80h14.47v1.5h-14.47zM528.97 89h14.47v1.5h-14.47zM514.5 92h14.47v1.5h-14.47zM557.9 102.5h14.47v1.5h-14.47zM514.5 119h14.47v1.5h-14.47zM514.5 120.5h14.47v1.5h-14.47zM355.37 132.5h14.47v1.5h-14.47zM485.57 132.5h14.47v1.5h-14.47zM297.5 144.5h14.47v1.5h-14.47zM485.57 158h14.47v1.5h-14.47zM572.37 170h14.47v1.5h-14.47zM572.37 171.5h14.47v1.5h-14.47zM557.9 186.5h14.47v1.5h-14.47zM572.37 189.5h14.47v1.5h-14.47zM471.1 201.5h14.47v1.5h-14.47zM572.37 272h14.47v1.5h-14.47zM485.57 299h14.47v1.5h-14.47zM543.43 332h28.93v1.5h-28.93zM543.43 333.5h14.47v1.5h-14.47zM557.9 387.5h14.47v1.5h-14.47zM572.37 401h14.47v1.5h-14.47zM557.9 471.5h14.47v1.5h-14.47zM485.57 498.5h14.47v1.5h-14.47z"/>
<g fill="none" shape-rendering="geometricPrecision"><path d="M37.1 13.03H24.97M37.1 14.38H24.97M37.1 11.68H24.31M37.1 18.43H27.56M37.1 19.77H27.56M37.1 17.07H23.33M37.1 21.12H21.75M37.1 15.73H20.87M37.1 23.83H23.86M37.1 25.18H23.86M37.1 22.48H23.18M37.1 27.88H23.49M37.1 29.23H23.49M37.1 26.52H22.71M37.1 30.58H23.02M37.1 31.93H23.02M37.1 33.28H23.83M37.1 34.62H23.83M37.1 35.98H26.35M37.1 37.33H26.35M37.1 38.67H25M37.1 40.03H25M37.1 41.38H23.97M37.1 42.73H30.55M37.1 44.08H30.55M37.1 45.43H23.2M37.1 46.78H21.43M37.1 48.12H28.57M37.1 49.48H28.57M37.1 52.18H24.07M37.1 53.53H24.07M37.1 50.83H23.16M37.1 54.88H28.41M37.1 56.23H28.41M37.1 58.93H26.39M37.1 60.28H26.39M37.1 57.58H23.25M37.1 61.62H21.79M37.1 62.98H20.59M37.1 65.68H25.32M37.1 67.03H25.32M37.1 68.38H23.92M37.1 64.33H22.38M37.1 71.08H24.66M37.1 72.43H24.66M37.1 69.72H23.46M37.1 73.78H21.58M37.1 76.48H30.36M37.1 77.83H30.36M37.1 75.12H24.31M37.1 79.18H28.85M37.1 80.53H28.85M37.1 81.88H23.75M37.1 83.23H23.09M37.1 84.58H23.82M37.1 85.93H23.82M37.1 87.28H27.12M37.1 88.62H27.12M37.1 89.98H30.47M37.1 91.33H30.47M37.1 92.68H24.15M37.1 94.03H24.15M37.1 95.38H21.07M37.1 96.73H28.79M37.1 98.08H28.79M37.1 100.78H25.1M37.1 102.12H25.1M37.1 99.43H24.29M37.1 104.83H28.12M37.1 106.18H28.12M37.1 107.53H23.93M37.1 108.88H22.89M37.1 103.48H21.75M37.1 110.23H18.71M37.1 111.58H25.64M37.1 112.93H25.64M37.1 114.28H24.24M37.1 116.98H24.54M37.1 118.33H24.54M37.1 119.68H26.41M37.1 121.03H26.41M37.1 115.62H21.73M37.1 122.38H26.58M37.1 123.73H26.58M37.1 126.43H24.42M37.1 127.78H24.42M37.1 125.08H23.06M37.1 129.12H29.74M37.1 130.48H29.74M37.1 131.82H22.38M37.1 133.18H24.2M37.1 134.53H24.2M37.1 135.88H23.39M37.1 137.23H24.23M37.1 138.57H24.23M37.1 141.28H26.67M37.1 142.62H26.67M37.1 143.98H25.65M37.1 139.93H24.53M37.1 145.33H23.78M37.1 146.68H22.11M37.1 148.03H26.62M37.1 149.38H26.62M37.1 150.73H28.29M37.1 152.08H28.29M37.1 153.43H24.35M37.1 156.12H25.67M37.1 157.48H25.67M37.1 154.78H24.75M37.1 158.83H22.23M37.1 161.53H26.97M37.1 162.88H26.97M37.1 160.18H23.59M37.1 165.58H29.63M37.1 166.93H29.63M37.1 164.23H24.91M37.1 169.62H25.95M37.1 170.98H25.95M37.1 168.28H24.73M37.1 172.33H23.61M37.1 173.68H21.62M37.1 175.03H25.15M37.1 176.38H25.15M37.1 177.73H24.46M37.1 179.08H26.08M37.1 180.43H26.08M37.1 181.78H24.94M37.1 184.48H26.53M37.1 185.83H26.53M37.1 183.12H25.82M37.1 187.18H23.19M37.1 188.53H21.66M37.1 189.88H20.51M37.1 192.58H30.17M37.1 193.93H30.17M37.1 195.28H26.03M37.1 191.23H25.32M37.1 196.62H23.97M37.1 197.98H28.52M37.1 199.33H28.52M37.1 200.68H24.91M37.1 204.73H26.84M37.1 206.08H26.84M37.1 203.38H25.69M37.1 202.03H24.61M37.1 208.78H25.9M37.1 210.12H25.9M37.1 207.43H24.53M37.1 214.18H26.06M37.1 215.53H26.06M37.1 212.83H25.39M37.1 218.23H30.32M37.1 219.58H30.32M37.1 220.93H26.53M37.1 216.88H25.84M37.1 222.28H23.9M37.1 223.62H26.94M37.1 224.98H26.94M37.1 226.33H26.29M37.1 227.68H26.29M37.1 211.48H21.97M37.1 229.03H26.6M37.1 230.38H26.6M37.1 231.73H25.37M37.1 234.43H27.37M37.1 235.78H27.37M37.1 237.13H26.76M37.1 233.08H25.41M37.1 238.48H24.18M37.1 239.83H25.58M37.1 241.18H25.58M37.1 243.88H28.27M37.1 245.23H28.27M37.1 246.58H27.16M37.1 242.53H25.85M37.1 247.93H23.34M37.1 250.63H29.92M37.1 251.98H29.92M37.1 253.33H30.1M37.1 254.68H30.1M37.1 249.28H24.04M37.1 257.38H28.13M37.1 258.73H28.13M37.1 261.43H29M37.1 262.77H29M37.1 260.08H26.62M37.1 256.02H25.01M37.1 264.12H23.65M37.1 266.83H27.56M37.1 268.18H27.56M37.1 265.48H26.21M37.1 269.53H27.88M37.1 270.88H27.88M37.1 272.23H26.34M37.1 273.58H26.34M37.1 274.93H26.11M37.1 276.28H26.11M37.1 277.62H27.57M37.1 278.98H27.57M37.1 280.33H26.27M37.1 281.68H25.16M37.1 283.03H22.98M37.1 284.38H27.19M37.1 285.73H27.19M37.1 287.08H28M37.1 288.43H28M37.1 289.78H27.68M37.1 291.12H27.68M37.1 292.48H25.04M37.1 293.83H25.04M37.1 295.18H22.72M37.1 296.53H25.39M37.1 297.88H25.39M37.1 300.58H28.8M37.1 301.93H28.8M37.1 299.23H26.23M37.1 303.28H24.46M37.1 304.62H23.07M37.1 305.98H27.12M37.1 307.33H27.12M37.1 308.68H25.7M37.1 310.03H28.82M37.1 311.38H28.82M37.1 312.73H24.87M37.1 316.78H27.1M37.1 318.12H27.1M37.1 315.43H25.78M37.1 314.08H24.56M37.1 319.48H24.87M37.1 320.83H24.87M37.1 322.18H27.77M37.1 323.53H27.77M37.1 324.88H24.85M37.1 327.58H27.07M37.1 328.93H27.07M37.1 330.28H25.75M37.1 326.23H24.46M37.1 332.98H25.32M37.1 334.33H25.32M37.1 331.62H24.32M37.1 339.73H27.09M37.1 341.08H27.09M37.1 338.38H26.38M37.1 337.03H25.71M37.1 342.43H28.43M37.1 343.78H28.43M37.1 345.12H27.39M37.1 346.48H25.89M37.1 347.83H24.18M37.1 335.68H22.74M37.1 349.18H29.09M37.1 350.53H29.09M37.1 351.88H25.48M37.1 355.93H27.31M37.1 357.28H27.31M37.1 354.58H26.36M37.1 358.62H25.52M37.1 359.98H29.16M37.1 361.33H29.16M37.1 362.68H23.03M37.1 353.23H21.91M37.1 365.38H25.33M37.1 366.73H25.33M37.1 364.03H24.53M37.1 368.08H29.09M37.1 369.43H29.09M37.1 370.78H26.99M37.1 372.12H26.99M37.1 373.48H25.31M37.1 374.83H25.2M37.1 376.18H25.2M37.1 377.53H21.87M37.1 380.23H27.87M37.1 381.58H27.87M37.1 382.93H27.51M37.1 384.28H27.51M37.1 378.88H25.22M37.1 385.62H25.18M37.1 386.98H25.18M37.1 389.68H28.87M37.1 391.03H28.87M37.1 388.33H25.69M37.1 392.38H23.9M37.1 395.08H27.01M37.1 396.43H27.01M37.1 397.78H26.04M37.1 399.12H25M37.1 393.73H23.95M37.1 401.83H26.88M37.1 403.18H26.88M37.1 400.48H25.93M37.1 405.88H28.08M37.1 407.23H28.08M37.1 408.58H27.37M37.1 409.93H27.95M37.1 411.28H27.95M37.1 412.62H25.86M37.1 413.98H25.86M37.1 404.53H23.57M37.1 416.68H28.38M37.1 418.03H28.38M37.1 422.08H28.68M37.1 423.43H28.68M37.1 420.73H27.39M37.1 424.78H26.61M37.1 419.38H25.52M37.1 426.12H25.67M37.1 427.48H25.67M37.1 415.33H22.11M37.1 428.83H26.86M37.1 430.18H26.86M37.1 431.53H27.11M37.1 432.88H27.11M37.1 434.23H25.84M37.1 435.58H24.78M37.1 436.93H25.5M37.1 438.28H25.5M37.1 439.62H25.89M37.1 440.98H25.89M37.1 443.68H27.09M37.1 445.03H27.09M37.1 446.38H25.98M37.1 442.33H24.94M37.1 447.73H22.83M37.1 451.78H27.43M37.1 453.13H27.43M37.1 454.48H26.48M37.1 450.43H25.46M37.1 449.08H23.33M37.1 457.18H26.54M37.1 458.53H26.54M37.1 459.88H25.89M37.1 455.83H24.56M37.1 461.23H23.69M37.1 466.63H29.75M37.1 467.98H29.75M37.1 465.28H27.14M37.1 470.68H29.57M37.1 472.03H29.57M37.1 473.38H28.53M37.1 469.33H27.13M37.1 474.73H30.11M37.1 476.08H30.11M37.1 463.93H23.43M37.1 462.58H22.75M37.1 477.43H21.34M37.1 478.78H20.36M37.1 484.18H27.27M37.1 485.53H27.27M37.1 482.83H26.47M37.1 481.48H25.25M37.1 486.88H24.91M37.1 488.23H24.91M37.1 480.13H23.25M37.1 489.58H24.35M37.1 490.93H24.35M37.1 493.63H30.17M37.1 494.98H30.17M37.1 492.28H26.46M37.1 496.33H25.26M37.1 497.68H22.64M37.1 500.38H26.4M37.1 501.73H26.4M37.1 499.03H25.27M37.1 503.08H26.26M37.1 504.43H26.26M37.1 505.78H26.6M37.1 507.13H26.6M37.1 508.48H25.62M37.1 509.83H30.47M37.1 511.18H30.47M37.1 512.53H27.69M37.1 513.88H27.69M37.1 515.23H28.22M37.1 516.58H28.22M37.1 519.28H27.43M37.1 520.62H27.43M37.1 521.98H26.24M37.1 517.92H24.98M37.1 527.38H26.27M37.1 528.73H26.27M37.1 526.02H24.95M37.1 532.78H29.2M37.1 534.12H29.2M37.1 531.43H28.19M37.1 535.48H28.56M37.1 536.83H28.56M37.1 530.08H25.78M37.1 538.18H25.12M37.1 524.68H22.79M37.1 523.33H21.97M37.1 540.88H25.63M37.1 542.23H25.63M37.1 543.58H25.74M37.1 544.93H25.74M37.1 546.28H25.49M37.1 547.62H25.49M37.1 539.53H23.18M37.1 548.98H26.3M37.1 550.33H26.3" stroke="#111" stroke-width="0.6"/><path d="M24.97 13.03V14.38M24.31 11.68V13.7H24.97M27.56 18.43V19.77M23.33 17.07V19.1H27.56M23.33 18.09H21.75V21.12M20.87 15.73V19.61H21.75M23.86 23.83V25.18M23.18 22.48V24.5H23.86M20.87 17.67H18.33V23.49H23.18M24.31 12.69H17.53V20.58H18.33M23.49 27.88V29.23M22.71 26.52V28.55H23.49M23.02 30.58V31.93M22.71 27.54H20.17V31.25H23.02M23.83 33.28V34.62M26.35 35.98V37.33M25 38.67V40.03M25 39.35H23.97V41.38M26.35 36.65H20.87V40.36H23.97M30.55 42.73V44.08M30.55 43.4H23.2V45.43M23.2 44.41H21.43V46.78M20.87 38.51H20.04V45.59H21.43M28.57 48.12V49.48M20.04 42.05H19.29V48.8H28.57M24.07 52.18V53.53M23.16 50.83V52.85H24.07M28.41 54.88V56.23M23.16 51.84H21.71V55.55H28.41M19.29 45.42H18.13V53.69H21.71M23.83 33.95H17.09V49.56H18.13M20.17 29.39H15.65V41.75H17.09M17.53 16.63H14.19V35.57H15.65M26.39 58.93V60.28M23.25 57.58V59.6H26.39M23.25 58.59H21.79V61.62M21.79 60.11H20.59V62.98M25.32 65.68V67.03M25.32 66.35H23.92V68.38M22.38 64.33V67.36H23.92M24.66 71.08V72.43M23.46 69.72V71.75H24.66M23.46 70.74H21.58V73.78M22.38 65.84H19.5V72.26H21.58M30.36 76.48V77.83M24.31 75.12V77.15H30.36M28.85 79.18V80.53M28.85 79.85H23.75V81.88M23.75 80.86H23.09V83.23M23.82 84.58V85.93M23.09 82.04H21.19V85.25H23.82M24.31 76.14H17.63V83.65H21.19M27.12 87.28V88.62M30.47 89.98V91.33M24.15 92.68V94.03M30.47 90.65H22.1V93.35H24.15M22.1 92H21.07V95.38M28.79 96.73V98.08M21.07 93.69H19.61V97.4H28.79M27.12 87.95H18.46V95.54H19.61M17.63 79.89H16.66V91.75H18.46M19.5 69.05H15.32V85.82H16.66M25.1 100.78V102.12M24.29 99.43V101.45H25.1M15.32 77.43H15.02V100.44H24.29M20.59 61.54H12.03V88.94H15.02M28.12 104.83V106.18M28.12 105.5H23.93V107.53M23.93 106.51H22.89V108.88M21.75 103.48V107.69H22.89M21.75 105.58H18.71V110.23M25.64 111.58V112.93M25.64 112.25H24.24V114.28M24.54 116.98V118.33M26.41 119.68V121.03M24.54 117.65H23.08V120.35H26.41M21.73 115.62V119H23.08M24.24 113.26H19.6V117.31H21.73M26.58 122.38V123.73M24.42 126.43V127.78M23.06 125.08V127.1H24.42M26.58 123.05H21.98V126.09H23.06M29.74 129.12V130.48M29.74 129.8H22.38V131.82M24.2 133.18V134.53M24.2 133.85H23.39V135.88M22.38 130.81H21.01V134.86H23.39M21.98 124.57H17.75V132.84H21.01M19.6 115.29H16.81V128.7H17.75M18.71 107.9H15.68V122H16.81M12.03 75.24H8.54V114.95H15.68M14.19 26.1H7.3V95.09H8.54M24.23 137.23V138.57M26.67 141.28V142.62M26.67 141.95H25.65V143.98M24.53 139.93V142.96H25.65M24.53 141.44H23.78V145.33M23.78 143.38H22.11V146.68M24.23 137.9H20.37V145.03H22.11M26.62 148.03V149.38M28.29 150.73V152.08M26.62 148.7H25.02V151.4H28.29M25.02 150.05H24.35V153.43M25.67 156.12V157.48M24.75 154.78V156.8H25.67M24.35 151.74H22.97V155.79H24.75M22.97 153.76H22.23V158.83M26.97 161.53V162.88M23.59 160.18V162.2H26.97M22.23 156.29H19.89V161.19H23.59M29.63 165.58V166.93M24.91 164.23V166.25H29.63M25.95 169.62V170.98M24.73 168.28V170.3H25.95M24.73 169.29H23.61V172.33M24.91 165.24H22.63V170.81H23.61M22.63 168.02H21.62V173.68M19.89 158.74H17.61V170.85H21.62M20.37 141.46H17V164.79H17.61M25.15 175.03V176.38M25.15 175.7H24.46V177.73M26.08 179.08V180.43M26.08 179.75H24.94V181.78M26.53 184.48V185.83M25.82 183.12V185.15H26.53M24.94 180.76H24.02V184.14H25.82M24.02 182.45H23.19V187.18M24.46 176.71H22.56V184.81H23.19M22.56 180.76H21.66V188.53M21.66 184.64H20.51V189.88M30.17 192.58V193.93M30.17 193.25H26.03V195.28M25.32 191.23V194.26H26.03M25.32 192.74H23.97V196.62M28.52 197.98V199.33M28.52 198.65H24.91V200.68M23.97 194.68H22.52V199.66H24.91M26.84 204.73V206.08M25.69 203.38V205.4H26.84M24.61 202.03V204.39H25.69M25.9 208.78V210.12M24.53 207.43V209.45H25.9M26.06 214.18V215.53M25.39 212.83V214.85H26.06M30.32 218.23V219.58M30.32 218.9H26.53V220.93M25.84 216.88V219.91H26.53M25.39 213.84H24.52V218.39H25.84M24.52 216.12H23.9V222.28M26.94 223.62V224.98M26.29 226.33V227.68M26.94 224.3H24.56V227H26.29M23.9 219.2H23.09V225.65H24.56M21.97 211.48V222.42H23.09M26.6 229.03V230.38M26.6 229.7H25.37V231.73M21.97 216.95H20.49V230.71H25.37M27.37 234.43V235.78M27.37 235.1H26.76V237.13M25.41 233.08V236.11H26.76M25.41 234.59H24.18V238.48M25.58 239.83V241.18M28.27 243.88V245.23M28.27 244.55H27.16V246.58M25.85 242.53V245.56H27.16M25.58 240.5H24.83V244.04H25.85M24.83 242.27H23.34V247.93M24.18 236.53H22.62V245.1H23.34M29.92 250.63V251.98M30.1 253.33V254.68M29.92 251.3H25.17V254H30.1M24.04 249.28V252.65H25.17M28.13 257.38V258.73M29 261.43V262.77M26.62 260.08V262.1H29M28.13 258.05H25.66V261.09H26.62M25.01 256.02V259.57H25.66M25.01 257.8H23.65V264.12M24.04 250.96H22.8V260.96H23.65M22.62 240.82H21.14V255.96H22.8M20.49 223.83H19.85V248.39H21.14M24.53 208.44H19.63V236.11H19.85M27.56 266.83V268.18M26.21 265.48V267.5H27.56M27.88 269.53V270.88M26.34 272.23V273.58M27.88 270.2H25.23V272.9H26.34M26.21 266.49H23.77V271.55H25.23M26.11 274.93V276.28M27.57 277.62V278.98M27.57 278.3H26.27V280.33M26.27 279.31H25.16V281.68M26.11 275.6H24.4V280.49H25.16M24.4 278.05H22.98V283.03M23.77 269.02H20.13V280.54H22.98M19.63 222.27H19.4V274.78H20.13M24.61 203.21H18.83V248.53H19.4M22.52 197.17H18.38V225.87H18.83M27.19 284.38V285.73M28 287.08V288.43M27.19 285.05H26.54V287.75H28M27.68 289.78V291.12M26.54 286.4H25.3V290.45H27.68M25.04 292.48V293.83M25.3 288.43H24.2V293.15H25.04M24.2 290.79H22.72V295.18M25.39 296.53V297.88M28.8 300.58V301.93M26.23 299.23V301.25H28.8M26.23 300.24H24.46V303.28M24.46 301.76H23.07V304.62M25.39 297.2H21.88V303.19H23.07M27.12 305.98V307.33M27.12 306.65H25.7V308.68M28.82 310.03V311.38M28.82 310.7H24.87V312.73M27.1 316.78V318.12M25.78 315.43V317.45H27.1M24.56 314.08V316.44H25.78M24.87 311.71H23.78V315.26H24.56M25.7 307.66H22.95V313.48H23.78M24.87 319.48V320.83M22.95 310.57H21.76V320.15H24.87M21.88 300.2H20.63V315.36H21.76M22.72 292.98H20.01V307.78H20.63M27.77 322.18V323.53M27.77 322.85H24.85V324.88M20.01 300.38H19.5V323.86H24.85M27.07 327.58V328.93M27.07 328.25H25.75V330.28M24.46 326.23V329.26H25.75M25.32 332.98V334.33M24.32 331.62V333.65H25.32M24.46 327.74H23.3V332.64H24.32M27.09 339.73V341.08M26.38 338.38V340.4H27.09M25.71 337.03V339.39H26.38M28.43 342.43V343.78M28.43 343.1H27.39V345.12M27.39 344.11H25.89V346.48M25.71 338.21H24.88V345.29H25.89M24.88 341.75H24.18V347.83M22.74 335.68V344.79H24.18M23.3 330.19H21.99V340.23H22.74M29.09 349.18V350.53M29.09 349.85H25.48V351.88M21.99 335.21H21.24V350.86H25.48M27.31 355.93V357.28M26.36 354.58V356.6H27.31M26.36 355.59H25.52V358.62M29.16 359.98V361.33M25.52 357.11H24.45V360.65H29.16M24.45 358.88H23.03V362.68M21.91 353.23V360.78H23.03M25.33 365.38V366.73M24.53 364.03V366.05H25.33M29.09 368.08V369.43M26.99 370.78V372.12M29.09 368.75H26.24V371.45H26.99M26.24 370.1H25.31V373.48M25.2 374.83V376.18M25.31 371.79H24.03V375.5H25.2M24.53 365.04H23.13V373.64H24.03M23.13 369.34H21.87V377.53M27.87 380.23V381.58M27.51 382.93V384.28M27.87 380.9H26.4V383.6H27.51M25.22 378.88V382.25H26.4M25.18 385.62V386.98M25.22 380.56H24.12V386.3H25.18M28.87 389.68V391.03M25.69 388.33V390.35H28.87M25.69 389.34H23.9V392.38M24.12 383.43H23.27V390.86H23.9M27.01 395.08V396.43M27.01 395.75H26.04V397.78M26.04 396.76H25V399.12M23.95 393.73V397.94H25M23.27 387.14H21.86V395.83H23.95M21.87 373.43H20.38V391.49H21.86M21.91 357H20.09V382.46H20.38M26.88 401.83V403.18M25.93 400.48V402.5H26.88M28.08 405.88V407.23M28.08 406.55H27.37V408.58M27.95 409.93V411.28M27.37 407.56H25.91V410.6H27.95M25.86 412.62V413.98M25.91 409.08H24.83V413.3H25.86M23.57 404.53V411.19H24.83M28.38 416.68V418.03M28.68 422.08V423.43M27.39 420.73V422.75H28.68M27.39 421.74H26.61V424.78M25.52 419.38V423.26H26.61M25.67 426.12V427.48M25.52 421.32H24.5V426.8H25.67M28.38 417.35H23.22V424.06H24.5M22.11 415.33V420.7H23.22M23.57 407.86H21.09V418.01H22.11M25.93 401.49H19.35V412.94H21.09M26.86 428.83V430.18M27.11 431.53V432.88M27.11 432.2H25.84V434.23M25.84 433.21H24.78V435.58M26.86 429.5H23.51V434.39H24.78M25.5 436.93V438.28M25.89 439.62V440.98M25.5 437.6H24.61V440.3H25.89M27.09 443.68V445.03M27.09 444.35H25.98V446.38M24.94 442.33V445.36H25.98M24.61 438.95H23.97V443.84H24.94M23.97 441.4H22.83V447.73M27.43 451.78V453.13M27.43 452.45H26.48V454.48M25.46 450.43V453.46H26.48M23.33 449.08V451.94H25.46M26.54 457.18V458.53M26.54 457.85H25.89V459.88M24.56 455.83V458.86H25.89M24.56 457.34H23.69V461.23M23.33 450.51H22.07V459.28H23.69M22.83 444.56H21.37V454.9H22.07M23.51 431.95H20.44V449.73H21.37M29.75 466.63V467.98M27.14 465.28V467.3H29.75M29.57 470.68V472.03M29.57 471.35H28.53V473.38M27.13 469.33V472.36H28.53M27.14 466.29H25.82V470.84H27.13M30.11 474.73V476.08M25.82 468.57H24.59V475.4H30.11M23.43 463.93V471.98H24.59M22.75 462.58V467.95H23.43M22.75 465.26H21.34V477.43M21.34 471.34H20.36V478.78M20.44 440.84H19.76V475.06H20.36M19.35 407.21H16.27V457.95H19.76M20.09 369.73H15.88V432.58H16.27M21.24 343.04H15.36V401.16H15.88M19.5 312.12H15.1V372.1H15.36M18.38 211.52H13.67V342.11H15.1M20.51 187.26H12.7V276.81H13.67M27.27 484.18V485.53M26.47 482.83V484.85H27.27M25.25 481.48V483.84H26.47M24.91 486.88V488.23M25.25 482.66H24.28V487.55H24.91M23.25 480.13V485.1H24.28M24.35 489.58V490.93M30.17 493.63V494.98M26.46 492.28V494.3H30.17M26.46 493.29H25.26V496.33M24.35 490.25H23.5V494.81H25.26M23.5 492.53H22.64V497.68M26.4 500.38V501.73M25.27 499.03V501.05H26.4M26.26 503.08V504.43M26.6 505.78V507.13M26.6 506.45H25.62V508.48M26.26 503.75H24.83V507.46H25.62M25.27 500.04H23.68V505.61H24.83M30.47 509.83V511.18M23.68 502.82H22.83V510.5H30.47M27.69 512.53V513.88M28.22 515.23V516.58M27.43 519.28V520.62M27.43 519.95H26.24V521.98M24.98 517.92V520.96H26.24M28.22 515.9H24.08V519.44H24.98M27.69 513.2H22.2V517.67H24.08M22.83 506.66H20.83V515.44H22.2M26.27 527.38V528.73M24.95 526.02V528.05H26.27M29.2 532.78V534.12M28.19 531.43V533.45H29.2M28.56 535.48V536.83M28.19 532.44H27.16V536.15H28.56M25.78 530.08V534.29H27.16M25.78 532.18H25.12V538.18M24.95 527.04H24.05V535.18H25.12M22.79 524.68V531.11H24.05M21.97 523.33V527.89H22.79M20.83 511.05H19.39V525.61H21.97M25.63 540.88V542.23M25.74 543.58V544.93M25.63 541.55H24.93V544.25H25.74M25.49 546.28V547.62M24.93 542.9H24.04V546.95H25.49M23.18 539.53V544.92H24.04M19.39 518.33H19.04V542.23H23.18M26.3 548.98V550.33M19.04 530.28H17.84V549.65H26.3M22.64 495.1H17.47V539.96H17.84M23.25 482.61H16.97V517.53H17.47M12.7 232.04H12.5V500.07H16.97M17 153.13H11.4V366.06H12.5M7.3 60.6H2.6V259.59H11.4" stroke="#111" stroke-width="0.75"/></g>
<g shape-rendering="geometricPrecision" text-rendering="geometricPrecision">
<g font-size="7.4" fill="#000"><text transform="translate(41.23 553) rotate(90) scale(.885 1)">Normal</text><text transform="translate(55.7 553) rotate(90) scale(.885 1)">Normal</text><text transform="translate(70.17 553) rotate(90) scale(.885 1)">Normal</text><text transform="translate(84.63 553) rotate(90) scale(.885 1)">Normal</text><text transform="translate(99.1 553) rotate(90) scale(.885 1)">Normal</text><text transform="translate(113.57 553) rotate(90) scale(.885 1)">Normal</text><text transform="translate(128.03 553) rotate(90) scale(.885 1)">Normal</text><text transform="translate(142.5 553) rotate(90) scale(.885 1)">Normal</text><text transform="translate(156.97 553) rotate(90) scale(.885 1)">Normal</text><text transform="translate(171.43 553) rotate(90) scale(.885 1)">Normal</text><text transform="translate(185.9 553) rotate(90) scale(.885 1)">Normal</text><text transform="translate(200.37 553) rotate(90) scale(.885 1)">Normal</text><text transform="translate(214.83 553) rotate(90) scale(.885 1)">Normal</text><text transform="translate(229.3 553) rotate(90) scale(.885 1)">Normal</text><text transform="translate(243.77 553) rotate(90) scale(.885 1)">Normal</text><text transform="translate(258.23 553) rotate(90) scale(.885 1)">Normal</text><text transform="translate(272.7 553) rotate(90) scale(.885 1)">Tumor</text><text transform="translate(287.17 553) rotate(90) scale(.885 1)">Tumor</text><text transform="translate(301.63 553) rotate(90) scale(.885 1)">Tumor</text><text transform="translate(316.1 553) rotate(90) scale(.885 1)">Tumor</text><text transform="translate(330.57 553) rotate(90) scale(.885 1)">Tumor</text><text transform="translate(345.03 553) rotate(90) scale(.885 1)">Tumor</text><text transform="translate(359.5 553) rotate(90) scale(.885 1)">Tumor</text><text transform="translate(373.97 553) rotate(90) scale(.885 1)">Tumor</text><text transform="translate(388.43 553) rotate(90) scale(.885 1)">Tumor</text><text transform="translate(402.9 553) rotate(90) scale(.885 1)">Tumor</text><text transform="translate(417.37 553) rotate(90) scale(.885 1)">Tumor</text><text transform="translate(431.83 553) rotate(90) scale(.885 1)">Tumor</text><text transform="translate(446.3 553) rotate(90) scale(.885 1)">Tumor</text><text transform="translate(460.77 553) rotate(90) scale(.885 1)">Tumor</text><text transform="translate(475.23 553) rotate(90) scale(.885 1)">Tumor</text><text transform="translate(489.7 553) rotate(90) scale(.885 1)">Tumor</text><text transform="translate(504.17 553) rotate(90) scale(.885 1)">Tumor</text><text transform="translate(518.63 553) rotate(90) scale(.885 1)">Tumor</text><text transform="translate(533.1 553) rotate(90) scale(.885 1)">Tumor</text><text transform="translate(547.57 553) rotate(90) scale(.885 1)">Tumor</text><text transform="translate(562.03 553) rotate(90) scale(.885 1)">Tumor</text><text transform="translate(576.5 553) rotate(90) scale(.885 1)">Tumor</text><text transform="translate(590.97 553) rotate(90) scale(.885 1)">Tumor</text></g>
<text x="603.5" y="8.2" font-size="6.5" font-weight="bold">Name</text>
<rect x="625.9" y="1.6" width="7.2" height="16.82" fill="#A50F15"/><rect x="625.9" y="18.37" width="7.2" height="16.82" fill="#DE2D26"/><rect x="625.9" y="35.13" width="7.2" height="16.82" fill="#FB6A4A"/><rect x="625.9" y="51.9" width="7.2" height="16.82" fill="#FC9272"/><rect x="625.9" y="68.67" width="7.2" height="16.82" fill="#FCBBA1"/><rect x="625.9" y="85.43" width="7.2" height="16.82" fill="#FEE5D9"/><text x="635.7" y="8.5" font-size="6.5">4</text><text x="635.7" y="32.2" font-size="6.5">2</text><text x="635.7" y="54.8" font-size="6.5">0</text><text x="635.7" y="77.8" font-size="6.5">-2</text><text x="635.7" y="100.1" font-size="6.5">-4</text>
<text x="645" y="6.8" font-size="6.5" font-weight="bold">Name</text><rect x="645" y="8.9" width="9.8" height="9.8" fill="#00D5DD"/><rect x="645" y="18.7" width="9.8" height="9.8" fill="#FD8F89"/><text x="656.8" y="16" font-size="6.5">CRC</text><text x="656.8" y="25.8" font-size="6.5">Normal</text>
</g></g>
<g id="panelB">
<rect x="43.4" y="635.5" width="231.38" height="7" fill="#FD8F89"/><rect x="274.78" y="635.5" width="332.62" height="7" fill="#00D5DD"/>
<rect x="43.4" y="644.3" width="564" height="540.3" fill="#FC9272"/>
<path fill="#FEE5D9" d="M72.32 680.32h14.46v1.5h-14.46zM390.48 722.34h14.46v1.5h-14.46zM347.09 749.36h14.46v1.5h-14.46zM376.02 764.37h14.46v1.5h-14.46zM404.94 782.38h14.46v1.5h-14.46zM303.71 875.43h14.46v1.5h-14.46zM289.25 896.44h14.46v1.5h-14.46zM303.71 941.46h14.46v1.5h-14.46zM303.71 942.97h14.46v1.5h-14.46zM289.25 944.47h28.92v1.5h-28.92zM289.25 945.97h14.46v1.5h-14.46z"/>
<path fill="#FCBBA1" d="M491.71 644.3h43.38v1.5h-43.38zM564.02 644.3h28.92v1.5h-28.92zM477.25 645.8h28.92v1.5h-28.92zM520.63 645.8h43.38v1.5h-43.38zM592.94 645.8h14.46v1.5h-14.46zM347.09 648.8h14.46v1.5h-14.46zM390.48 648.8h14.46v1.5h-14.46zM506.17 648.8h28.92v1.5h-28.92zM549.55 648.8h28.92v1.5h-28.92zM520.63 651.8h14.46v1.5h-14.46zM318.17 653.3h14.46v1.5h-14.46zM520.63 654.81h14.46v1.5h-14.46zM491.71 659.31h101.23v1.5h-101.23zM491.71 660.81h14.46v1.5h-14.46zM520.63 660.81h14.46v1.5h-14.46zM564.02 660.81h14.46v1.5h-14.46zM592.94 660.81h14.46v1.5h-14.46zM506.17 665.31h14.46v1.5h-14.46zM592.94 665.31h14.46v1.5h-14.46zM274.78 666.81h43.38v1.5h-43.38zM289.25 668.31h28.92v1.5h-28.92zM347.09 668.31h14.46v1.5h-14.46zM520.63 668.31h14.46v1.5h-14.46zM549.55 668.31h14.46v1.5h-14.46zM578.48 668.31h28.92v1.5h-28.92zM274.78 669.81h43.38v1.5h-43.38zM564.02 669.81h43.38v1.5h-43.38zM144.63 671.31h14.46v1.5h-14.46zM274.78 671.31h43.38v1.5h-43.38zM520.63 671.31h14.46v1.5h-14.46zM274.78 672.82h14.46v1.5h-14.46zM289.25 674.32h28.92v1.5h-28.92zM477.25 674.32h43.38v1.5h-43.38zM43.4 675.82h43.38v1.5h-43.38zM289.25 675.82h28.92v1.5h-28.92zM43.4 677.32h14.46v1.5h-14.46zM274.78 677.32h43.38v1.5h-43.38zM491.71 677.32h14.46v1.5h-14.46zM549.55 677.32h28.92v1.5h-28.92zM43.4 678.82h43.38v1.5h-43.38zM274.78 678.82h43.38v1.5h-43.38zM491.71 678.82h14.46v1.5h-14.46zM549.55 678.82h28.92v1.5h-28.92zM592.94 678.82h14.46v1.5h-14.46zM43.4 680.32h28.92v1.5h-28.92zM130.17 680.32h14.46v1.5h-14.46zM289.25 680.32h28.92v1.5h-28.92zM347.09 680.32h14.46v1.5h-14.46zM404.94 680.32h14.46v1.5h-14.46zM564.02 680.32h14.46v1.5h-14.46zM57.86 681.82h14.46v1.5h-14.46zM404.94 681.82h14.46v1.5h-14.46zM332.63 683.32h14.46v1.5h-14.46zM130.17 684.82h14.46v1.5h-14.46zM274.78 684.82h14.46v1.5h-14.46zM57.86 686.32h14.46v1.5h-14.46zM289.25 686.32h14.46v1.5h-14.46zM462.78 686.32h14.46v1.5h-14.46zM43.4 690.83h28.92v1.5h-28.92zM289.25 690.83h14.46v1.5h-14.46zM332.63 690.83h14.46v1.5h-14.46zM462.78 690.83h14.46v1.5h-14.46zM318.17 692.33h14.46v1.5h-14.46zM347.09 692.33h14.46v1.5h-14.46zM462.78 692.33h14.46v1.5h-14.46zM361.55 693.83h14.46v1.5h-14.46zM347.09 695.33h14.46v1.5h-14.46zM376.02 695.33h14.46v1.5h-14.46zM419.4 695.33h14.46v1.5h-14.46zM332.63 696.83h14.46v1.5h-14.46zM361.55 696.83h43.38v1.5h-43.38zM419.4 696.83h14.46v1.5h-14.46zM448.32 696.83h14.46v1.5h-14.46zM520.63 696.83h14.46v1.5h-14.46zM347.09 698.33h14.46v1.5h-14.46zM390.48 698.33h14.46v1.5h-14.46zM419.4 698.33h14.46v1.5h-14.46zM448.32 698.33h28.92v1.5h-28.92zM578.48 698.33h14.46v1.5h-14.46zM274.78 701.33h14.46v1.5h-14.46zM303.71 702.83h14.46v1.5h-14.46zM332.63 702.83h14.46v1.5h-14.46zM376.02 702.83h14.46v1.5h-14.46zM419.4 702.83h28.92v1.5h-28.92zM520.63 702.83h14.46v1.5h-14.46zM274.78 704.33h14.46v1.5h-14.46zM274.78 705.83h14.46v1.5h-14.46zM361.55 705.83h14.46v1.5h-14.46zM274.78 708.84h14.46v1.5h-14.46zM404.94 708.84h14.46v1.5h-14.46zM376.02 711.84h14.46v1.5h-14.46zM404.94 711.84h14.46v1.5h-14.46zM361.55 713.34h14.46v1.5h-14.46zM404.94 713.34h14.46v1.5h-14.46zM448.32 713.34h14.46v1.5h-14.46zM72.32 714.84h14.46v1.5h-14.46zM318.17 714.84h14.46v1.5h-14.46zM347.09 714.84h14.46v1.5h-14.46zM404.94 714.84h14.46v1.5h-14.46zM433.86 714.84h14.46v1.5h-14.46zM318.17 716.34h57.85v1.5h-57.85zM404.94 716.34h14.46v1.5h-14.46zM433.86 716.34h43.38v1.5h-43.38zM72.32 717.84h14.46v1.5h-14.46zM390.48 717.84h43.38v1.5h-43.38zM448.32 717.84h14.46v1.5h-14.46zM72.32 719.34h14.46v1.5h-14.46zM303.71 719.34h28.92v1.5h-28.92zM390.48 719.34h14.46v1.5h-14.46zM433.86 719.34h14.46v1.5h-14.46zM289.25 720.84h28.92v1.5h-28.92zM43.4 722.34h43.38v1.5h-43.38zM289.25 722.34h28.92v1.5h-28.92zM332.63 722.34h28.92v1.5h-28.92zM376.02 722.34h14.46v1.5h-14.46zM433.86 722.34h14.46v1.5h-14.46zM462.78 722.34h14.46v1.5h-14.46zM274.78 723.84h144.62v1.5h-144.62zM433.86 723.84h43.38v1.5h-43.38zM57.86 725.34h14.46v1.5h-14.46zM274.78 725.34h72.31v1.5h-72.31zM361.55 725.34h115.69v1.5h-115.69zM289.25 726.85h28.92v1.5h-28.92zM404.94 726.85h14.46v1.5h-14.46zM462.78 726.85h14.46v1.5h-14.46zM274.78 728.35h43.38v1.5h-43.38zM361.55 728.35h14.46v1.5h-14.46zM462.78 728.35h14.46v1.5h-14.46zM289.25 729.85h28.92v1.5h-28.92zM332.63 732.85h14.46v1.5h-14.46zM289.25 737.35h14.46v1.5h-14.46zM332.63 737.35h14.46v1.5h-14.46zM404.94 737.35h14.46v1.5h-14.46zM462.78 737.35h14.46v1.5h-14.46zM130.17 738.85h14.46v1.5h-14.46zM274.78 738.85h14.46v1.5h-14.46zM303.71 738.85h14.46v1.5h-14.46zM361.55 738.85h28.92v1.5h-28.92zM404.94 738.85h14.46v1.5h-14.46zM433.86 738.85h14.46v1.5h-14.46zM462.78 738.85h14.46v1.5h-14.46zM347.09 740.35h14.46v1.5h-14.46zM404.94 740.35h14.46v1.5h-14.46zM86.78 741.85h14.46v1.5h-14.46zM347.09 743.35h14.46v1.5h-14.46zM347.09 744.86h14.46v1.5h-14.46zM390.48 744.86h14.46v1.5h-14.46zM115.71 746.36h14.46v1.5h-14.46zM361.55 746.36h14.46v1.5h-14.46zM43.4 747.86h14.46v1.5h-14.46zM86.78 747.86h14.46v1.5h-14.46zM115.71 747.86h14.46v1.5h-14.46zM289.25 747.86h14.46v1.5h-14.46zM318.17 747.86h14.46v1.5h-14.46zM347.09 747.86h14.46v1.5h-14.46zM376.02 747.86h14.46v1.5h-14.46zM404.94 747.86h72.31v1.5h-72.31zM43.4 749.36h14.46v1.5h-14.46zM86.78 749.36h57.85v1.5h-57.85zM318.17 749.36h28.92v1.5h-28.92zM361.55 749.36h14.46v1.5h-14.46zM390.48 749.36h86.77v1.5h-86.77zM86.78 750.86h43.38v1.5h-43.38zM332.63 750.86h14.46v1.5h-14.46zM448.32 750.86h14.46v1.5h-14.46zM101.25 752.36h14.46v1.5h-14.46zM130.17 752.36h14.46v1.5h-14.46zM130.17 753.86h14.46v1.5h-14.46zM274.78 755.36h14.46v1.5h-14.46zM376.02 755.36h14.46v1.5h-14.46zM274.78 756.86h14.46v1.5h-14.46zM376.02 756.86h14.46v1.5h-14.46zM289.25 758.36h28.92v1.5h-28.92zM404.94 758.36h14.46v1.5h-14.46zM303.71 759.86h28.92v1.5h-28.92zM404.94 759.86h14.46v1.5h-14.46zM433.86 759.86h14.46v1.5h-14.46zM303.71 761.37h28.92v1.5h-28.92zM347.09 761.37h14.46v1.5h-14.46zM376.02 761.37h28.92v1.5h-28.92zM419.4 761.37h28.92v1.5h-28.92zM303.71 762.87h14.46v1.5h-14.46zM347.09 762.87h14.46v1.5h-14.46zM376.02 762.87h14.46v1.5h-14.46zM361.55 764.37h14.46v1.5h-14.46zM433.86 764.37h14.46v1.5h-14.46zM115.71 765.87h14.46v1.5h-14.46zM318.17 765.87h14.46v1.5h-14.46zM347.09 765.87h72.31v1.5h-72.31zM433.86 765.87h14.46v1.5h-14.46zM462.78 765.87h14.46v1.5h-14.46zM130.17 767.37h14.46v1.5h-14.46zM332.63 767.37h14.46v1.5h-14.46zM361.55 767.37h57.85v1.5h-57.85zM433.86 767.37h14.46v1.5h-14.46zM462.78 767.37h14.46v1.5h-14.46zM57.86 768.87h14.46v1.5h-14.46zM130.17 768.87h14.46v1.5h-14.46zM347.09 768.87h28.92v1.5h-28.92zM390.48 768.87h14.46v1.5h-14.46zM448.32 768.87h14.46v1.5h-14.46zM43.4 770.37h43.38v1.5h-43.38zM130.17 770.37h14.46v1.5h-14.46zM361.55 770.37h14.46v1.5h-14.46zM448.32 770.37h14.46v1.5h-14.46zM130.17 771.87h14.46v1.5h-14.46zM332.63 771.87h43.38v1.5h-43.38zM419.4 771.87h14.46v1.5h-14.46zM404.94 774.87h14.46v1.5h-14.46zM448.32 774.87h14.46v1.5h-14.46zM347.09 776.37h14.46v1.5h-14.46zM318.17 777.87h28.92v1.5h-28.92zM404.94 779.38h14.46v1.5h-14.46zM318.17 780.88h14.46v1.5h-14.46zM404.94 780.88h28.92v1.5h-28.92zM318.17 782.38h72.31v1.5h-72.31zM419.4 782.38h14.46v1.5h-14.46zM462.78 782.38h14.46v1.5h-14.46zM289.25 783.88h14.46v1.5h-14.46zM332.63 783.88h14.46v1.5h-14.46zM404.94 783.88h28.92v1.5h-28.92zM130.17 785.38h14.46v1.5h-14.46zM404.94 785.38h14.46v1.5h-14.46zM274.78 786.88h14.46v1.5h-14.46zM404.94 786.88h14.46v1.5h-14.46zM462.78 786.88h14.46v1.5h-14.46zM274.78 788.38h14.46v1.5h-14.46zM303.71 788.38h43.38v1.5h-43.38zM390.48 788.38h43.38v1.5h-43.38zM448.32 788.38h14.46v1.5h-14.46zM289.25 789.88h57.85v1.5h-57.85zM376.02 789.88h14.46v1.5h-14.46zM404.94 789.88h43.38v1.5h-43.38zM289.25 791.38h28.92v1.5h-28.92zM376.02 791.38h14.46v1.5h-14.46zM404.94 791.38h14.46v1.5h-14.46zM289.25 792.88h14.46v1.5h-14.46zM361.55 792.88h28.92v1.5h-28.92zM419.4 792.88h28.92v1.5h-28.92zM130.17 794.38h14.46v1.5h-14.46zM289.25 794.38h14.46v1.5h-14.46zM433.86 794.38h14.46v1.5h-14.46zM274.78 795.88h28.92v1.5h-28.92zM347.09 795.88h14.46v1.5h-14.46zM390.48 795.88h14.46v1.5h-14.46zM303.71 797.38h14.46v1.5h-14.46zM289.25 798.89h28.92v1.5h-28.92zM390.48 798.89h28.92v1.5h-28.92zM448.32 798.89h14.46v1.5h-14.46zM274.78 800.39h43.38v1.5h-43.38zM332.63 800.39h14.46v1.5h-14.46zM462.78 800.39h14.46v1.5h-14.46zM130.17 801.89h14.46v1.5h-14.46zM130.17 803.39h14.46v1.5h-14.46zM130.17 804.89h14.46v1.5h-14.46zM289.25 806.39h14.46v1.5h-14.46zM376.02 806.39h14.46v1.5h-14.46zM448.32 806.39h14.46v1.5h-14.46zM130.17 807.89h14.46v1.5h-14.46zM289.25 807.89h28.92v1.5h-28.92zM332.63 807.89h28.92v1.5h-28.92zM390.48 807.89h14.46v1.5h-14.46zM448.32 807.89h14.46v1.5h-14.46zM303.71 809.39h14.46v1.5h-14.46zM419.4 809.39h14.46v1.5h-14.46zM347.09 810.89h28.92v1.5h-28.92zM390.48 810.89h14.46v1.5h-14.46zM376.02 813.89h14.46v1.5h-14.46zM289.25 815.39h28.92v1.5h-28.92zM332.63 815.39h28.92v1.5h-28.92zM448.32 815.39h14.46v1.5h-14.46zM289.25 816.9h14.46v1.5h-14.46zM318.17 816.9h14.46v1.5h-14.46zM86.78 818.4h14.46v1.5h-14.46zM115.71 818.4h14.46v1.5h-14.46zM289.25 822.9h14.46v1.5h-14.46zM347.09 822.9h14.46v1.5h-14.46zM404.94 822.9h28.92v1.5h-28.92zM448.32 822.9h28.92v1.5h-28.92zM361.55 825.9h14.46v1.5h-14.46zM433.86 825.9h14.46v1.5h-14.46zM274.78 828.9h14.46v1.5h-14.46zM419.4 828.9h14.46v1.5h-14.46zM274.78 830.4h14.46v1.5h-14.46zM347.09 830.4h14.46v1.5h-14.46zM390.48 830.4h14.46v1.5h-14.46zM433.86 830.4h14.46v1.5h-14.46zM289.25 831.9h14.46v1.5h-14.46zM332.63 831.9h28.92v1.5h-28.92zM390.48 831.9h14.46v1.5h-14.46zM448.32 831.9h14.46v1.5h-14.46zM274.78 833.4h14.46v1.5h-14.46zM274.78 834.91h14.46v1.5h-14.46zM57.86 836.41h14.46v1.5h-14.46zM376.02 839.41h14.46v1.5h-14.46zM347.09 840.91h14.46v1.5h-14.46zM462.78 840.91h14.46v1.5h-14.46zM86.78 842.41h14.46v1.5h-14.46zM318.17 842.41h14.46v1.5h-14.46zM347.09 842.41h14.46v1.5h-14.46zM419.4 842.41h57.85v1.5h-57.85zM274.78 843.91h14.46v1.5h-14.46zM318.17 843.91h28.92v1.5h-28.92zM361.55 843.91h14.46v1.5h-14.46zM419.4 843.91h14.46v1.5h-14.46zM332.63 846.91h14.46v1.5h-14.46zM361.55 846.91h14.46v1.5h-14.46zM419.4 846.91h14.46v1.5h-14.46zM130.17 852.92h14.46v1.5h-14.46zM332.63 855.92h14.46v1.5h-14.46zM332.63 857.42h28.92v1.5h-28.92zM376.02 857.42h28.92v1.5h-28.92zM419.4 857.42h14.46v1.5h-14.46zM462.78 857.42h14.46v1.5h-14.46zM462.78 860.42h14.46v1.5h-14.46zM347.09 861.92h43.38v1.5h-43.38zM404.94 861.92h14.46v1.5h-14.46zM433.86 861.92h14.46v1.5h-14.46zM462.78 861.92h14.46v1.5h-14.46zM289.25 863.42h144.62v1.5h-144.62zM462.78 863.42h14.46v1.5h-14.46zM289.25 864.92h43.38v1.5h-43.38zM347.09 864.92h14.46v1.5h-14.46zM376.02 864.92h28.92v1.5h-28.92zM274.78 866.42h43.38v1.5h-43.38zM390.48 866.42h14.46v1.5h-14.46zM419.4 866.42h14.46v1.5h-14.46zM130.17 867.92h14.46v1.5h-14.46zM289.25 867.92h28.92v1.5h-28.92zM376.02 867.92h57.85v1.5h-57.85zM448.32 867.92h14.46v1.5h-14.46zM130.17 869.42h14.46v1.5h-14.46zM289.25 869.42h43.38v1.5h-43.38zM448.32 869.42h14.46v1.5h-14.46zM130.17 870.93h14.46v1.5h-14.46zM289.25 870.93h28.92v1.5h-28.92zM404.94 870.93h14.46v1.5h-14.46zM448.32 870.93h14.46v1.5h-14.46zM289.25 872.43h28.92v1.5h-28.92zM347.09 872.43h14.46v1.5h-14.46zM419.4 872.43h14.46v1.5h-14.46zM448.32 872.43h14.46v1.5h-14.46zM289.25 873.93h28.92v1.5h-28.92zM274.78 875.43h28.92v1.5h-28.92zM404.94 875.43h14.46v1.5h-14.46zM130.17 876.93h14.46v1.5h-14.46zM303.71 876.93h14.46v1.5h-14.46zM404.94 876.93h14.46v1.5h-14.46zM433.86 876.93h14.46v1.5h-14.46zM289.25 878.43h28.92v1.5h-28.92zM390.48 878.43h28.92v1.5h-28.92zM289.25 879.93h43.38v1.5h-43.38zM347.09 879.93h14.46v1.5h-14.46zM376.02 879.93h43.38v1.5h-43.38zM303.71 881.43h14.46v1.5h-14.46zM404.94 881.43h14.46v1.5h-14.46zM115.71 882.93h14.46v1.5h-14.46zM289.25 882.93h28.92v1.5h-28.92zM376.02 882.93h14.46v1.5h-14.46zM404.94 882.93h14.46v1.5h-14.46zM86.78 884.43h14.46v1.5h-14.46zM274.78 884.43h14.46v1.5h-14.46zM390.48 884.43h14.46v1.5h-14.46zM101.25 885.93h14.46v1.5h-14.46zM289.25 885.93h14.46v1.5h-14.46zM404.94 885.93h28.92v1.5h-28.92zM361.55 887.43h101.23v1.5h-101.23zM361.55 888.94h14.46v1.5h-14.46zM404.94 888.94h14.46v1.5h-14.46zM130.17 890.44h14.46v1.5h-14.46zM318.17 890.44h14.46v1.5h-14.46zM347.09 890.44h14.46v1.5h-14.46zM404.94 890.44h28.92v1.5h-28.92zM130.17 891.94h14.46v1.5h-14.46zM361.55 891.94h14.46v1.5h-14.46zM404.94 891.94h14.46v1.5h-14.46zM130.17 893.44h14.46v1.5h-14.46zM130.17 894.94h14.46v1.5h-14.46zM289.25 894.94h28.92v1.5h-28.92zM101.25 896.44h43.38v1.5h-43.38zM303.71 896.44h14.46v1.5h-14.46zM86.78 897.94h28.92v1.5h-28.92zM130.17 897.94h14.46v1.5h-14.46zM289.25 897.94h14.46v1.5h-14.46zM361.55 897.94h14.46v1.5h-14.46zM404.94 897.94h14.46v1.5h-14.46zM289.25 899.44h28.92v1.5h-28.92zM376.02 899.44h14.46v1.5h-14.46zM404.94 899.44h14.46v1.5h-14.46zM86.78 900.94h14.46v1.5h-14.46zM289.25 900.94h28.92v1.5h-28.92zM130.17 902.44h14.46v1.5h-14.46zM303.71 902.44h28.92v1.5h-28.92zM376.02 902.44h57.85v1.5h-57.85zM448.32 902.44h14.46v1.5h-14.46zM130.17 903.94h14.46v1.5h-14.46zM289.25 903.94h14.46v1.5h-14.46zM404.94 903.94h28.92v1.5h-28.92zM130.17 905.44h14.46v1.5h-14.46zM404.94 905.44h14.46v1.5h-14.46zM130.17 906.95h14.46v1.5h-14.46zM404.94 906.95h14.46v1.5h-14.46zM289.25 908.45h28.92v1.5h-28.92zM57.86 909.95h14.46v1.5h-14.46zM86.78 909.95h14.46v1.5h-14.46zM130.17 909.95h14.46v1.5h-14.46zM274.78 909.95h14.46v1.5h-14.46zM404.94 909.95h14.46v1.5h-14.46zM57.86 911.45h57.85v1.5h-57.85zM130.17 911.45h14.46v1.5h-14.46zM289.25 911.45h28.92v1.5h-28.92zM101.25 912.95h14.46v1.5h-14.46zM130.17 912.95h14.46v1.5h-14.46zM289.25 912.95h28.92v1.5h-28.92zM390.48 912.95h14.46v1.5h-14.46zM130.17 914.45h14.46v1.5h-14.46zM289.25 914.45h14.46v1.5h-14.46zM404.94 914.45h14.46v1.5h-14.46zM433.86 914.45h14.46v1.5h-14.46zM130.17 915.95h14.46v1.5h-14.46zM289.25 915.95h28.92v1.5h-28.92zM404.94 915.95h14.46v1.5h-14.46zM130.17 917.45h14.46v1.5h-14.46zM289.25 917.45h28.92v1.5h-28.92zM404.94 917.45h14.46v1.5h-14.46zM289.25 918.95h28.92v1.5h-28.92zM43.4 920.45h14.46v1.5h-14.46zM72.32 920.45h14.46v1.5h-14.46zM289.25 920.45h28.92v1.5h-28.92zM72.32 921.95h14.46v1.5h-14.46zM115.71 921.95h14.46v1.5h-14.46zM289.25 921.95h28.92v1.5h-28.92zM347.09 921.95h14.46v1.5h-14.46zM404.94 921.95h14.46v1.5h-14.46zM289.25 923.45h14.46v1.5h-14.46zM404.94 923.45h14.46v1.5h-14.46zM289.25 924.96h28.92v1.5h-28.92zM390.48 924.96h14.46v1.5h-14.46zM419.4 924.96h14.46v1.5h-14.46zM289.25 926.46h43.38v1.5h-43.38zM404.94 926.46h14.46v1.5h-14.46zM289.25 927.96h57.85v1.5h-57.85zM404.94 927.96h28.92v1.5h-28.92zM462.78 927.96h14.46v1.5h-14.46zM289.25 929.46h57.85v1.5h-57.85zM361.55 929.46h28.92v1.5h-28.92zM404.94 929.46h14.46v1.5h-14.46zM462.78 929.46h14.46v1.5h-14.46zM404.94 930.96h14.46v1.5h-14.46zM289.25 932.46h28.92v1.5h-28.92zM289.25 933.96h28.92v1.5h-28.92zM289.25 935.46h28.92v1.5h-28.92zM289.25 936.96h28.92v1.5h-28.92zM404.94 936.96h14.46v1.5h-14.46zM289.25 938.46h28.92v1.5h-28.92zM289.25 939.96h28.92v1.5h-28.92zM376.02 939.96h14.46v1.5h-14.46zM130.17 941.46h14.46v1.5h-14.46zM289.25 941.46h14.46v1.5h-14.46zM289.25 942.97h14.46v1.5h-14.46zM390.48 942.97h14.46v1.5h-14.46zM130.17 944.47h28.92v1.5h-28.92zM347.09 944.47h14.46v1.5h-14.46zM303.71 945.97h14.46v1.5h-14.46zM404.94 945.97h14.46v1.5h-14.46zM57.86 947.47h28.92v1.5h-28.92zM289.25 947.47h43.38v1.5h-43.38zM361.55 947.47h14.46v1.5h-14.46zM289.25 948.97h28.92v1.5h-28.92zM289.25 950.47h28.92v1.5h-28.92zM361.55 950.47h14.46v1.5h-14.46zM289.25 951.97h14.46v1.5h-14.46zM361.55 951.97h14.46v1.5h-14.46zM419.4 951.97h14.46v1.5h-14.46zM289.25 953.47h28.92v1.5h-28.92zM57.86 954.97h14.46v1.5h-14.46zM289.25 954.97h28.92v1.5h-28.92zM361.55 954.97h14.46v1.5h-14.46zM578.48 954.97h14.46v1.5h-14.46zM289.25 956.47h28.92v1.5h-28.92zM433.86 956.47h14.46v1.5h-14.46zM289.25 957.97h28.92v1.5h-28.92zM347.09 957.97h14.46v1.5h-14.46zM390.48 957.97h28.92v1.5h-28.92zM433.86 957.97h14.46v1.5h-14.46zM130.17 959.47h14.46v1.5h-14.46zM289.25 959.47h28.92v1.5h-28.92zM376.02 959.47h14.46v1.5h-14.46zM419.4 959.47h14.46v1.5h-14.46zM289.25 960.98h28.92v1.5h-28.92zM332.63 960.98h14.46v1.5h-14.46zM289.25 962.48h43.38v1.5h-43.38zM347.09 962.48h14.46v1.5h-14.46zM274.78 963.98h43.38v1.5h-43.38zM347.09 963.98h14.46v1.5h-14.46zM390.48 963.98h14.46v1.5h-14.46zM419.4 963.98h14.46v1.5h-14.46zM448.32 963.98h28.92v1.5h-28.92zM43.4 965.48h14.46v1.5h-14.46zM289.25 965.48h43.38v1.5h-43.38zM347.09 965.48h14.46v1.5h-14.46zM419.4 965.48h43.38v1.5h-43.38zM347.09 966.98h28.92v1.5h-28.92zM390.48 966.98h14.46v1.5h-14.46zM433.86 966.98h14.46v1.5h-14.46zM433.86 968.48h14.46v1.5h-14.46zM361.55 969.98h28.92v1.5h-28.92zM404.94 969.98h14.46v1.5h-14.46zM433.86 969.98h14.46v1.5h-14.46zM332.63 971.48h43.38v1.5h-43.38zM390.48 971.48h14.46v1.5h-14.46zM448.32 971.48h14.46v1.5h-14.46zM390.48 972.98h14.46v1.5h-14.46zM318.17 977.48h14.46v1.5h-14.46zM361.55 977.48h14.46v1.5h-14.46zM419.4 977.48h28.92v1.5h-28.92zM361.55 978.99h14.46v1.5h-14.46zM419.4 980.49h14.46v1.5h-14.46zM448.32 980.49h14.46v1.5h-14.46zM347.09 981.99h14.46v1.5h-14.46zM448.32 981.99h14.46v1.5h-14.46zM347.09 983.49h14.46v1.5h-14.46zM347.09 984.99h28.92v1.5h-28.92zM433.86 984.99h28.92v1.5h-28.92zM361.55 986.49h14.46v1.5h-14.46zM419.4 986.49h14.46v1.5h-14.46zM318.17 987.99h14.46v1.5h-14.46zM404.94 987.99h14.46v1.5h-14.46zM404.94 989.49h14.46v1.5h-14.46zM390.48 992.49h14.46v1.5h-14.46zM318.17 993.99h14.46v1.5h-14.46zM376.02 993.99h14.46v1.5h-14.46zM404.94 993.99h14.46v1.5h-14.46zM433.86 993.99h14.46v1.5h-14.46zM462.78 993.99h14.46v1.5h-14.46zM332.63 995.49h14.46v1.5h-14.46zM361.55 995.49h28.92v1.5h-28.92zM433.86 995.49h14.46v1.5h-14.46zM564.02 995.49h14.46v1.5h-14.46zM361.55 997h28.92v1.5h-28.92zM347.09 1000h14.46v1.5h-14.46zM448.32 1000h14.46v1.5h-14.46zM101.25 1001.5h14.46v1.5h-14.46zM318.17 1001.5h14.46v1.5h-14.46zM361.55 1001.5h14.46v1.5h-14.46zM347.09 1003h14.46v1.5h-14.46zM419.4 1003h14.46v1.5h-14.46zM419.4 1004.5h14.46v1.5h-14.46zM347.09 1006h14.46v1.5h-14.46zM462.78 1006h14.46v1.5h-14.46zM347.09 1007.5h14.46v1.5h-14.46zM115.71 1009h14.46v1.5h-14.46zM332.63 1009h14.46v1.5h-14.46zM404.94 1009h14.46v1.5h-14.46zM318.17 1013.5h28.92v1.5h-28.92zM376.02 1013.5h14.46v1.5h-14.46zM419.4 1013.5h14.46v1.5h-14.46zM115.71 1015.01h14.46v1.5h-14.46zM86.78 1016.51h14.46v1.5h-14.46zM86.78 1018.01h28.92v1.5h-28.92zM404.94 1018.01h14.46v1.5h-14.46zM448.32 1018.01h14.46v1.5h-14.46zM448.32 1019.51h14.46v1.5h-14.46zM404.94 1022.51h14.46v1.5h-14.46zM347.09 1024.01h14.46v1.5h-14.46zM347.09 1028.51h14.46v1.5h-14.46zM376.02 1028.51h14.46v1.5h-14.46zM361.55 1030.01h14.46v1.5h-14.46zM390.48 1030.01h14.46v1.5h-14.46zM433.86 1030.01h14.46v1.5h-14.46zM361.55 1031.51h14.46v1.5h-14.46zM404.94 1031.51h43.38v1.5h-43.38zM318.17 1033.02h14.46v1.5h-14.46zM433.86 1033.02h14.46v1.5h-14.46zM462.78 1033.02h14.46v1.5h-14.46zM361.55 1034.52h14.46v1.5h-14.46zM390.48 1034.52h14.46v1.5h-14.46zM419.4 1034.52h14.46v1.5h-14.46zM419.4 1036.02h14.46v1.5h-14.46zM347.09 1037.52h14.46v1.5h-14.46zM332.63 1039.02h28.92v1.5h-28.92zM448.32 1039.02h14.46v1.5h-14.46zM390.48 1040.52h14.46v1.5h-14.46zM318.17 1042.02h14.46v1.5h-14.46zM347.09 1042.02h14.46v1.5h-14.46zM289.25 1043.52h14.46v1.5h-14.46zM318.17 1043.52h14.46v1.5h-14.46zM390.48 1043.52h14.46v1.5h-14.46zM462.78 1043.52h14.46v1.5h-14.46zM361.55 1046.52h14.46v1.5h-14.46zM115.71 1048.02h14.46v1.5h-14.46zM419.4 1048.02h14.46v1.5h-14.46zM376.02 1049.52h14.46v1.5h-14.46zM419.4 1049.52h14.46v1.5h-14.46zM289.25 1051.03h14.46v1.5h-14.46zM130.17 1052.53h14.46v1.5h-14.46zM289.25 1052.53h14.46v1.5h-14.46zM332.63 1054.03h14.46v1.5h-14.46zM433.86 1054.03h14.46v1.5h-14.46zM115.71 1055.53h28.92v1.5h-28.92zM130.17 1057.03h14.46v1.5h-14.46zM86.78 1058.53h14.46v1.5h-14.46zM115.71 1058.53h28.92v1.5h-28.92zM303.71 1058.53h14.46v1.5h-14.46zM376.02 1058.53h14.46v1.5h-14.46zM86.78 1060.03h57.85v1.5h-57.85zM318.17 1060.03h14.46v1.5h-14.46zM347.09 1060.03h14.46v1.5h-14.46zM376.02 1060.03h14.46v1.5h-14.46zM115.71 1061.53h14.46v1.5h-14.46zM347.09 1061.53h14.46v1.5h-14.46zM376.02 1061.53h14.46v1.5h-14.46zM332.63 1063.03h14.46v1.5h-14.46zM462.78 1063.03h14.46v1.5h-14.46zM419.4 1064.53h14.46v1.5h-14.46zM332.63 1066.03h14.46v1.5h-14.46zM448.32 1066.03h28.92v1.5h-28.92zM332.63 1067.53h14.46v1.5h-14.46zM347.09 1069.04h14.46v1.5h-14.46zM376.02 1069.04h14.46v1.5h-14.46zM419.4 1069.04h14.46v1.5h-14.46zM462.78 1069.04h14.46v1.5h-14.46zM347.09 1070.54h43.38v1.5h-43.38zM376.02 1072.04h14.46v1.5h-14.46zM419.4 1072.04h57.85v1.5h-57.85zM130.17 1073.54h14.46v1.5h-14.46zM404.94 1075.04h28.92v1.5h-28.92zM462.78 1075.04h14.46v1.5h-14.46zM404.94 1076.54h14.46v1.5h-14.46zM130.17 1079.54h14.46v1.5h-14.46zM347.09 1079.54h14.46v1.5h-14.46zM390.48 1079.54h14.46v1.5h-14.46zM433.86 1079.54h28.92v1.5h-28.92zM332.63 1081.04h14.46v1.5h-14.46zM419.4 1081.04h28.92v1.5h-28.92zM462.78 1081.04h14.46v1.5h-14.46zM404.94 1082.54h14.46v1.5h-14.46zM101.25 1084.04h14.46v1.5h-14.46zM390.48 1084.04h28.92v1.5h-28.92zM433.86 1084.04h14.46v1.5h-14.46zM289.25 1085.54h14.46v1.5h-14.46zM332.63 1085.54h28.92v1.5h-28.92zM390.48 1085.54h28.92v1.5h-28.92zM332.63 1087.05h14.46v1.5h-14.46zM361.55 1088.55h14.46v1.5h-14.46zM390.48 1088.55h28.92v1.5h-28.92zM433.86 1088.55h14.46v1.5h-14.46zM462.78 1088.55h14.46v1.5h-14.46zM318.17 1091.55h14.46v1.5h-14.46zM419.4 1091.55h14.46v1.5h-14.46zM462.78 1091.55h14.46v1.5h-14.46zM347.09 1093.05h43.38v1.5h-43.38zM419.4 1093.05h14.46v1.5h-14.46zM448.32 1093.05h14.46v1.5h-14.46zM318.17 1094.55h14.46v1.5h-14.46zM361.55 1094.55h28.92v1.5h-28.92zM419.4 1094.55h28.92v1.5h-28.92zM390.48 1096.05h14.46v1.5h-14.46zM43.4 1097.55h14.46v1.5h-14.46zM72.32 1097.55h14.46v1.5h-14.46zM43.4 1099.05h28.92v1.5h-28.92zM57.86 1103.55h28.92v1.5h-28.92zM303.71 1112.56h14.46v1.5h-14.46zM43.4 1114.06h28.92v1.5h-28.92zM303.71 1114.06h14.46v1.5h-14.46zM332.63 1115.56h86.77v1.5h-86.77zM462.78 1115.56h14.46v1.5h-14.46zM318.17 1117.06h28.92v1.5h-28.92zM376.02 1117.06h28.92v1.5h-28.92zM332.63 1118.56h43.38v1.5h-43.38zM404.94 1118.56h14.46v1.5h-14.46zM318.17 1120.06h72.31v1.5h-72.31zM404.94 1120.06h14.46v1.5h-14.46zM433.86 1120.06h14.46v1.5h-14.46zM376.02 1121.57h14.46v1.5h-14.46zM318.17 1123.07h14.46v1.5h-14.46zM390.48 1123.07h14.46v1.5h-14.46zM433.86 1123.07h14.46v1.5h-14.46zM318.17 1124.57h28.92v1.5h-28.92zM361.55 1124.57h14.46v1.5h-14.46zM390.48 1124.57h14.46v1.5h-14.46zM433.86 1124.57h14.46v1.5h-14.46zM332.63 1126.07h14.46v1.5h-14.46zM390.48 1126.07h14.46v1.5h-14.46zM433.86 1126.07h14.46v1.5h-14.46zM115.71 1129.07h14.46v1.5h-14.46zM404.94 1129.07h14.46v1.5h-14.46zM101.25 1130.57h14.46v1.5h-14.46zM404.94 1133.57h14.46v1.5h-14.46zM332.63 1148.58h14.46v1.5h-14.46zM390.48 1148.58h14.46v1.5h-14.46zM419.4 1148.58h14.46v1.5h-14.46zM274.78 1150.08h14.46v1.5h-14.46zM332.63 1151.58h14.46v1.5h-14.46zM404.94 1151.58h14.46v1.5h-14.46zM390.48 1154.58h14.46v1.5h-14.46zM318.17 1157.59h14.46v1.5h-14.46zM361.55 1160.59h14.46v1.5h-14.46zM390.48 1160.59h14.46v1.5h-14.46zM361.55 1174.09h14.46v1.5h-14.46zM361.55 1175.59h14.46v1.5h-14.46zM404.94 1178.6h14.46v1.5h-14.46z"/>
<path fill="#FB6A4A" d="M72.32 644.3h28.92v1.5h-28.92zM130.17 644.3h14.46v1.5h-14.46zM188.02 644.3h43.38v1.5h-43.38zM245.86 644.3h72.31v1.5h-72.31zM361.55 644.3h14.46v1.5h-14.46zM448.32 644.3h14.46v1.5h-14.46zM43.4 645.8h144.62v1.5h-144.62zM216.94 645.8h14.46v1.5h-14.46zM245.86 645.8h14.46v1.5h-14.46zM274.78 645.8h43.38v1.5h-43.38zM448.32 645.8h14.46v1.5h-14.46zM43.4 647.3h43.38v1.5h-43.38zM115.71 647.3h14.46v1.5h-14.46zM144.63 647.3h14.46v1.5h-14.46zM188.02 647.3h14.46v1.5h-14.46zM245.86 647.3h72.31v1.5h-72.31zM448.32 647.3h14.46v1.5h-14.46zM578.48 647.3h14.46v1.5h-14.46zM72.32 648.8h14.46v1.5h-14.46zM173.55 648.8h43.38v1.5h-43.38zM231.4 648.8h14.46v1.5h-14.46zM274.78 648.8h28.92v1.5h-28.92zM535.09 648.8h14.46v1.5h-14.46zM72.32 650.3h14.46v1.5h-14.46zM101.25 650.3h28.92v1.5h-28.92zM159.09 650.3h43.38v1.5h-43.38zM216.94 650.3h14.46v1.5h-14.46zM260.32 650.3h57.85v1.5h-57.85zM477.25 650.3h14.46v1.5h-14.46zM535.09 650.3h28.92v1.5h-28.92zM578.48 650.3h14.46v1.5h-14.46zM43.4 651.8h72.31v1.5h-72.31zM130.17 651.8h14.46v1.5h-14.46zM159.09 651.8h86.77v1.5h-86.77zM260.32 651.8h57.85v1.5h-57.85zM332.63 651.8h14.46v1.5h-14.46zM404.94 651.8h14.46v1.5h-14.46zM448.32 651.8h43.38v1.5h-43.38zM535.09 651.8h14.46v1.5h-14.46zM115.71 653.3h57.85v1.5h-57.85zM231.4 653.3h28.92v1.5h-28.92zM274.78 653.3h43.38v1.5h-43.38zM462.78 653.3h43.38v1.5h-43.38zM549.55 653.3h28.92v1.5h-28.92zM43.4 654.81h14.46v1.5h-14.46zM72.32 654.81h14.46v1.5h-14.46zM115.71 654.81h14.46v1.5h-14.46zM144.63 654.81h14.46v1.5h-14.46zM173.55 654.81h159.08v1.5h-159.08zM347.09 654.81h43.38v1.5h-43.38zM404.94 654.81h28.92v1.5h-28.92zM448.32 654.81h28.92v1.5h-28.92zM86.78 656.31h43.38v1.5h-43.38zM159.09 656.31h28.92v1.5h-28.92zM231.4 656.31h14.46v1.5h-14.46zM260.32 656.31h28.92v1.5h-28.92zM303.71 656.31h14.46v1.5h-14.46zM332.63 656.31h14.46v1.5h-14.46zM361.55 656.31h14.46v1.5h-14.46zM390.48 656.31h14.46v1.5h-14.46zM419.4 656.31h28.92v1.5h-28.92zM462.78 656.31h28.92v1.5h-28.92zM592.94 656.31h14.46v1.5h-14.46zM43.4 657.81h14.46v1.5h-14.46zM72.32 657.81h101.23v1.5h-101.23zM188.02 657.81h14.46v1.5h-14.46zM216.94 657.81h101.23v1.5h-101.23zM347.09 657.81h14.46v1.5h-14.46zM390.48 657.81h28.92v1.5h-28.92zM448.32 657.81h14.46v1.5h-14.46zM477.25 657.81h14.46v1.5h-14.46zM592.94 657.81h14.46v1.5h-14.46zM43.4 659.31h28.92v1.5h-28.92zM86.78 659.31h57.85v1.5h-57.85zM188.02 659.31h14.46v1.5h-14.46zM260.32 659.31h43.38v1.5h-43.38zM448.32 659.31h14.46v1.5h-14.46zM43.4 660.81h28.92v1.5h-28.92zM101.25 660.81h57.85v1.5h-57.85zM173.55 660.81h14.46v1.5h-14.46zM202.48 660.81h14.46v1.5h-14.46zM274.78 660.81h14.46v1.5h-14.46zM303.71 660.81h14.46v1.5h-14.46zM347.09 660.81h28.92v1.5h-28.92zM448.32 660.81h14.46v1.5h-14.46zM43.4 662.31h101.23v1.5h-101.23zM159.09 662.31h14.46v1.5h-14.46zM188.02 662.31h14.46v1.5h-14.46zM216.94 662.31h86.77v1.5h-86.77zM318.17 662.31h14.46v1.5h-14.46zM419.4 662.31h57.85v1.5h-57.85zM57.86 663.81h28.92v1.5h-28.92zM130.17 663.81h43.38v1.5h-43.38zM188.02 663.81h14.46v1.5h-14.46zM231.4 663.81h14.46v1.5h-14.46zM260.32 663.81h14.46v1.5h-14.46zM289.25 663.81h72.31v1.5h-72.31zM376.02 663.81h43.38v1.5h-43.38zM448.32 663.81h28.92v1.5h-28.92zM86.78 665.31h57.85v1.5h-57.85zM159.09 665.31h28.92v1.5h-28.92zM202.48 665.31h14.46v1.5h-14.46zM231.4 665.31h14.46v1.5h-14.46zM260.32 665.31h57.85v1.5h-57.85zM361.55 665.31h14.46v1.5h-14.46zM419.4 665.31h14.46v1.5h-14.46zM578.48 665.31h14.46v1.5h-14.46zM130.17 666.81h57.85v1.5h-57.85zM231.4 666.81h43.38v1.5h-43.38zM404.94 666.81h14.46v1.5h-14.46zM433.86 666.81h28.92v1.5h-28.92zM520.63 666.81h14.46v1.5h-14.46zM564.02 666.81h14.46v1.5h-14.46zM57.86 668.31h43.38v1.5h-43.38zM115.71 668.31h14.46v1.5h-14.46zM144.63 668.31h43.38v1.5h-43.38zM202.48 668.31h43.38v1.5h-43.38zM260.32 668.31h14.46v1.5h-14.46zM390.48 668.31h14.46v1.5h-14.46zM57.86 669.81h43.38v1.5h-43.38zM159.09 669.81h14.46v1.5h-14.46zM188.02 669.81h28.92v1.5h-28.92zM390.48 669.81h14.46v1.5h-14.46zM72.32 671.31h28.92v1.5h-28.92zM115.71 671.31h14.46v1.5h-14.46zM173.55 671.31h28.92v1.5h-28.92zM216.94 671.31h57.85v1.5h-57.85zM361.55 671.31h14.46v1.5h-14.46zM390.48 671.31h14.46v1.5h-14.46zM448.32 671.31h28.92v1.5h-28.92zM43.4 672.82h14.46v1.5h-14.46zM86.78 672.82h28.92v1.5h-28.92zM130.17 672.82h14.46v1.5h-14.46zM173.55 672.82h72.31v1.5h-72.31zM332.63 672.82h43.38v1.5h-43.38zM390.48 672.82h14.46v1.5h-14.46zM419.4 672.82h72.31v1.5h-72.31zM549.55 672.82h14.46v1.5h-14.46zM57.86 674.32h57.85v1.5h-57.85zM144.63 674.32h43.38v1.5h-43.38zM216.94 674.32h28.92v1.5h-28.92zM260.32 674.32h14.46v1.5h-14.46zM376.02 674.32h14.46v1.5h-14.46zM448.32 674.32h28.92v1.5h-28.92zM86.78 675.82h43.38v1.5h-43.38zM245.86 675.82h28.92v1.5h-28.92zM318.17 675.82h28.92v1.5h-28.92zM361.55 675.82h14.46v1.5h-14.46zM390.48 675.82h28.92v1.5h-28.92zM433.86 675.82h28.92v1.5h-28.92zM86.78 677.32h43.38v1.5h-43.38zM159.09 677.32h28.92v1.5h-28.92zM202.48 677.32h57.85v1.5h-57.85zM433.86 677.32h14.46v1.5h-14.46zM86.78 678.82h43.38v1.5h-43.38zM144.63 678.82h43.38v1.5h-43.38zM216.94 678.82h14.46v1.5h-14.46zM245.86 678.82h28.92v1.5h-28.92zM404.94 678.82h14.46v1.5h-14.46zM433.86 678.82h28.92v1.5h-28.92zM101.25 680.32h28.92v1.5h-28.92zM159.09 680.32h28.92v1.5h-28.92zM202.48 680.32h43.38v1.5h-43.38zM535.09 680.32h14.46v1.5h-14.46zM592.94 680.32h14.46v1.5h-14.46zM43.4 681.82h14.46v1.5h-14.46zM115.71 681.82h14.46v1.5h-14.46zM144.63 681.82h28.92v1.5h-28.92zM231.4 681.82h43.38v1.5h-43.38zM477.25 681.82h14.46v1.5h-14.46zM535.09 681.82h14.46v1.5h-14.46zM592.94 681.82h14.46v1.5h-14.46zM43.4 683.32h14.46v1.5h-14.46zM86.78 683.32h43.38v1.5h-43.38zM144.63 683.32h14.46v1.5h-14.46zM231.4 683.32h14.46v1.5h-14.46zM289.25 683.32h14.46v1.5h-14.46zM318.17 683.32h14.46v1.5h-14.46zM448.32 683.32h14.46v1.5h-14.46zM477.25 683.32h57.85v1.5h-57.85zM549.55 683.32h57.85v1.5h-57.85zM86.78 684.82h43.38v1.5h-43.38zM144.63 684.82h14.46v1.5h-14.46zM216.94 684.82h14.46v1.5h-14.46zM477.25 684.82h14.46v1.5h-14.46zM520.63 684.82h28.92v1.5h-28.92zM564.02 684.82h43.38v1.5h-43.38zM86.78 686.32h43.38v1.5h-43.38zM144.63 686.32h28.92v1.5h-28.92zM188.02 686.32h14.46v1.5h-14.46zM245.86 686.32h14.46v1.5h-14.46zM477.25 686.32h14.46v1.5h-14.46zM506.17 686.32h43.38v1.5h-43.38zM115.71 687.82h14.46v1.5h-14.46zM216.94 687.82h14.46v1.5h-14.46zM303.71 687.82h43.38v1.5h-43.38zM491.71 687.82h115.69v1.5h-115.69zM86.78 689.32h43.38v1.5h-43.38zM144.63 689.32h14.46v1.5h-14.46zM202.48 689.32h14.46v1.5h-14.46zM245.86 689.32h14.46v1.5h-14.46zM433.86 689.32h14.46v1.5h-14.46zM477.25 689.32h14.46v1.5h-14.46zM506.17 689.32h72.31v1.5h-72.31zM592.94 689.32h14.46v1.5h-14.46zM86.78 690.83h14.46v1.5h-14.46zM115.71 690.83h14.46v1.5h-14.46zM144.63 690.83h28.92v1.5h-28.92zM245.86 690.83h28.92v1.5h-28.92zM491.71 690.83h28.92v1.5h-28.92zM535.09 690.83h28.92v1.5h-28.92zM72.32 692.33h28.92v1.5h-28.92zM115.71 692.33h14.46v1.5h-14.46zM144.63 692.33h14.46v1.5h-14.46zM245.86 692.33h28.92v1.5h-28.92zM491.71 692.33h14.46v1.5h-14.46zM535.09 692.33h14.46v1.5h-14.46zM43.4 693.83h28.92v1.5h-28.92zM86.78 693.83h43.38v1.5h-43.38zM144.63 693.83h14.46v1.5h-14.46zM260.32 693.83h14.46v1.5h-14.46zM390.48 693.83h28.92v1.5h-28.92zM506.17 693.83h14.46v1.5h-14.46zM535.09 693.83h28.92v1.5h-28.92zM578.48 693.83h28.92v1.5h-28.92zM72.32 695.33h28.92v1.5h-28.92zM115.71 695.33h14.46v1.5h-14.46zM144.63 695.33h14.46v1.5h-14.46zM202.48 695.33h14.46v1.5h-14.46zM245.86 695.33h28.92v1.5h-28.92zM404.94 695.33h14.46v1.5h-14.46zM491.71 695.33h28.92v1.5h-28.92zM535.09 695.33h72.31v1.5h-72.31zM57.86 696.83h144.62v1.5h-144.62zM216.94 696.83h57.85v1.5h-57.85zM535.09 696.83h28.92v1.5h-28.92zM57.86 698.33h72.31v1.5h-72.31zM202.48 698.33h14.46v1.5h-14.46zM477.25 698.33h14.46v1.5h-14.46zM43.4 699.83h86.77v1.5h-86.77zM144.63 699.83h28.92v1.5h-28.92zM188.02 699.83h14.46v1.5h-14.46zM318.17 699.83h14.46v1.5h-14.46zM462.78 699.83h57.85v1.5h-57.85zM535.09 699.83h14.46v1.5h-14.46zM564.02 699.83h14.46v1.5h-14.46zM43.4 701.33h43.38v1.5h-43.38zM448.32 701.33h14.46v1.5h-14.46zM535.09 701.33h72.31v1.5h-72.31zM43.4 702.83h28.92v1.5h-28.92zM115.71 702.83h14.46v1.5h-14.46zM144.63 702.83h28.92v1.5h-28.92zM188.02 702.83h14.46v1.5h-14.46zM216.94 702.83h14.46v1.5h-14.46zM245.86 702.83h14.46v1.5h-14.46zM43.4 704.33h14.46v1.5h-14.46zM72.32 704.33h28.92v1.5h-28.92zM115.71 704.33h14.46v1.5h-14.46zM144.63 704.33h14.46v1.5h-14.46zM477.25 704.33h72.31v1.5h-72.31zM564.02 704.33h14.46v1.5h-14.46zM43.4 705.83h43.38v1.5h-43.38zM144.63 705.83h14.46v1.5h-14.46zM173.55 705.83h14.46v1.5h-14.46zM216.94 705.83h28.92v1.5h-28.92zM506.17 705.83h14.46v1.5h-14.46zM564.02 705.83h14.46v1.5h-14.46zM57.86 707.33h28.92v1.5h-28.92zM115.71 707.33h14.46v1.5h-14.46zM173.55 707.33h43.38v1.5h-43.38zM245.86 707.33h28.92v1.5h-28.92zM491.71 707.33h28.92v1.5h-28.92zM535.09 707.33h14.46v1.5h-14.46zM564.02 707.33h43.38v1.5h-43.38zM43.4 708.84h43.38v1.5h-43.38zM101.25 708.84h28.92v1.5h-28.92zM144.63 708.84h14.46v1.5h-14.46zM173.55 708.84h28.92v1.5h-28.92zM216.94 708.84h14.46v1.5h-14.46zM332.63 708.84h14.46v1.5h-14.46zM462.78 708.84h14.46v1.5h-14.46zM491.71 708.84h28.92v1.5h-28.92zM592.94 708.84h14.46v1.5h-14.46zM43.4 710.34h43.38v1.5h-43.38zM101.25 710.34h28.92v1.5h-28.92zM289.25 710.34h14.46v1.5h-14.46zM332.63 710.34h14.46v1.5h-14.46zM462.78 710.34h43.38v1.5h-43.38zM535.09 710.34h14.46v1.5h-14.46zM578.48 710.34h28.92v1.5h-28.92zM43.4 711.84h14.46v1.5h-14.46zM72.32 711.84h43.38v1.5h-43.38zM188.02 711.84h14.46v1.5h-14.46zM216.94 711.84h14.46v1.5h-14.46zM318.17 711.84h14.46v1.5h-14.46zM462.78 711.84h57.85v1.5h-57.85zM535.09 711.84h14.46v1.5h-14.46zM578.48 711.84h28.92v1.5h-28.92zM101.25 713.34h28.92v1.5h-28.92zM144.63 713.34h14.46v1.5h-14.46zM477.25 713.34h28.92v1.5h-28.92zM535.09 713.34h28.92v1.5h-28.92zM578.48 713.34h28.92v1.5h-28.92zM115.71 714.84h14.46v1.5h-14.46zM144.63 714.84h14.46v1.5h-14.46zM173.55 714.84h14.46v1.5h-14.46zM202.48 714.84h14.46v1.5h-14.46zM231.4 714.84h28.92v1.5h-28.92zM477.25 714.84h14.46v1.5h-14.46zM549.55 714.84h14.46v1.5h-14.46zM592.94 714.84h14.46v1.5h-14.46zM101.25 716.34h28.92v1.5h-28.92zM144.63 716.34h14.46v1.5h-14.46zM477.25 716.34h28.92v1.5h-28.92zM520.63 716.34h14.46v1.5h-14.46zM549.55 716.34h14.46v1.5h-14.46zM592.94 716.34h14.46v1.5h-14.46zM101.25 717.84h28.92v1.5h-28.92zM144.63 717.84h14.46v1.5h-14.46zM173.55 717.84h14.46v1.5h-14.46zM202.48 717.84h14.46v1.5h-14.46zM274.78 717.84h14.46v1.5h-14.46zM477.25 717.84h14.46v1.5h-14.46zM86.78 719.34h14.46v1.5h-14.46zM144.63 719.34h14.46v1.5h-14.46zM477.25 719.34h43.38v1.5h-43.38zM535.09 719.34h72.31v1.5h-72.31zM86.78 720.84h14.46v1.5h-14.46zM115.71 720.84h14.46v1.5h-14.46zM419.4 720.84h14.46v1.5h-14.46zM477.25 720.84h72.31v1.5h-72.31zM564.02 720.84h43.38v1.5h-43.38zM144.63 722.34h14.46v1.5h-14.46zM477.25 722.34h130.15v1.5h-130.15zM144.63 723.84h28.92v1.5h-28.92zM477.25 723.84h28.92v1.5h-28.92zM535.09 723.84h28.92v1.5h-28.92zM592.94 723.84h14.46v1.5h-14.46zM144.63 725.34h43.38v1.5h-43.38zM216.94 725.34h28.92v1.5h-28.92zM260.32 725.34h14.46v1.5h-14.46zM477.25 725.34h101.23v1.5h-101.23zM592.94 725.34h14.46v1.5h-14.46zM144.63 726.85h28.92v1.5h-28.92zM188.02 726.85h14.46v1.5h-14.46zM260.32 726.85h14.46v1.5h-14.46zM477.25 726.85h130.15v1.5h-130.15zM101.25 728.35h28.92v1.5h-28.92zM173.55 728.35h14.46v1.5h-14.46zM231.4 728.35h14.46v1.5h-14.46zM260.32 728.35h14.46v1.5h-14.46zM332.63 728.35h14.46v1.5h-14.46zM477.25 728.35h130.15v1.5h-130.15zM101.25 729.85h28.92v1.5h-28.92zM260.32 729.85h14.46v1.5h-14.46zM433.86 729.85h14.46v1.5h-14.46zM477.25 729.85h130.15v1.5h-130.15zM43.4 731.35h57.85v1.5h-57.85zM115.71 731.35h14.46v1.5h-14.46zM144.63 731.35h14.46v1.5h-14.46zM173.55 731.35h14.46v1.5h-14.46zM231.4 731.35h14.46v1.5h-14.46zM260.32 731.35h14.46v1.5h-14.46zM404.94 731.35h14.46v1.5h-14.46zM477.25 731.35h130.15v1.5h-130.15zM86.78 732.85h43.38v1.5h-43.38zM144.63 732.85h14.46v1.5h-14.46zM376.02 732.85h28.92v1.5h-28.92zM477.25 732.85h130.15v1.5h-130.15zM86.78 734.35h14.46v1.5h-14.46zM115.71 734.35h14.46v1.5h-14.46zM144.63 734.35h14.46v1.5h-14.46zM173.55 734.35h43.38v1.5h-43.38zM245.86 734.35h14.46v1.5h-14.46zM477.25 734.35h130.15v1.5h-130.15zM86.78 735.85h43.38v1.5h-43.38zM144.63 735.85h14.46v1.5h-14.46zM361.55 735.85h14.46v1.5h-14.46zM477.25 735.85h130.15v1.5h-130.15zM101.25 737.35h14.46v1.5h-14.46zM144.63 737.35h14.46v1.5h-14.46zM477.25 737.35h86.77v1.5h-86.77zM578.48 737.35h28.92v1.5h-28.92zM245.86 738.85h14.46v1.5h-14.46zM477.25 738.85h130.15v1.5h-130.15zM144.63 740.35h14.46v1.5h-14.46zM274.78 740.35h14.46v1.5h-14.46zM477.25 740.35h130.15v1.5h-130.15zM144.63 741.85h14.46v1.5h-14.46zM332.63 741.85h14.46v1.5h-14.46zM477.25 741.85h130.15v1.5h-130.15zM86.78 743.35h28.92v1.5h-28.92zM144.63 743.35h14.46v1.5h-14.46zM260.32 743.35h14.46v1.5h-14.46zM491.71 743.35h115.69v1.5h-115.69zM115.71 744.86h14.46v1.5h-14.46zM144.63 744.86h14.46v1.5h-14.46zM477.25 744.86h43.38v1.5h-43.38zM535.09 744.86h72.31v1.5h-72.31zM144.63 746.36h14.46v1.5h-14.46zM173.55 746.36h14.46v1.5h-14.46zM477.25 746.36h130.15v1.5h-130.15zM144.63 747.86h28.92v1.5h-28.92zM202.48 747.86h57.85v1.5h-57.85zM477.25 747.86h43.38v1.5h-43.38zM535.09 747.86h72.31v1.5h-72.31zM159.09 749.36h43.38v1.5h-43.38zM216.94 749.36h57.85v1.5h-57.85zM477.25 749.36h14.46v1.5h-14.46zM506.17 749.36h14.46v1.5h-14.46zM549.55 749.36h14.46v1.5h-14.46zM592.94 749.36h14.46v1.5h-14.46zM231.4 750.86h14.46v1.5h-14.46zM477.25 750.86h14.46v1.5h-14.46zM506.17 750.86h14.46v1.5h-14.46zM549.55 750.86h57.85v1.5h-57.85zM289.25 752.36h28.92v1.5h-28.92zM390.48 752.36h14.46v1.5h-14.46zM477.25 752.36h14.46v1.5h-14.46zM506.17 752.36h14.46v1.5h-14.46zM535.09 752.36h28.92v1.5h-28.92zM578.48 752.36h28.92v1.5h-28.92zM202.48 753.86h14.46v1.5h-14.46zM303.71 753.86h14.46v1.5h-14.46zM433.86 753.86h14.46v1.5h-14.46zM462.78 753.86h28.92v1.5h-28.92zM506.17 753.86h101.23v1.5h-101.23zM144.63 755.36h28.92v1.5h-28.92zM202.48 755.36h14.46v1.5h-14.46zM245.86 755.36h14.46v1.5h-14.46zM477.25 755.36h130.15v1.5h-130.15zM72.32 756.86h14.46v1.5h-14.46zM144.63 756.86h14.46v1.5h-14.46zM202.48 756.86h28.92v1.5h-28.92zM245.86 756.86h28.92v1.5h-28.92zM318.17 756.86h14.46v1.5h-14.46zM433.86 756.86h14.46v1.5h-14.46zM462.78 756.86h144.62v1.5h-144.62zM43.4 758.36h43.38v1.5h-43.38zM202.48 758.36h14.46v1.5h-14.46zM477.25 758.36h130.15v1.5h-130.15zM72.32 759.86h14.46v1.5h-14.46zM144.63 759.86h43.38v1.5h-43.38zM202.48 759.86h28.92v1.5h-28.92zM260.32 759.86h14.46v1.5h-14.46zM477.25 759.86h72.31v1.5h-72.31zM564.02 759.86h43.38v1.5h-43.38zM43.4 761.37h43.38v1.5h-43.38zM144.63 761.37h14.46v1.5h-14.46zM260.32 761.37h14.46v1.5h-14.46zM477.25 761.37h14.46v1.5h-14.46zM506.17 761.37h43.38v1.5h-43.38zM564.02 761.37h14.46v1.5h-14.46zM592.94 761.37h14.46v1.5h-14.46zM57.86 762.87h14.46v1.5h-14.46zM144.63 762.87h28.92v1.5h-28.92zM477.25 762.87h14.46v1.5h-14.46zM506.17 762.87h101.23v1.5h-101.23zM72.32 764.37h14.46v1.5h-14.46zM144.63 764.37h14.46v1.5h-14.46zM202.48 764.37h14.46v1.5h-14.46zM260.32 764.37h14.46v1.5h-14.46zM477.25 764.37h130.15v1.5h-130.15zM144.63 765.87h28.92v1.5h-28.92zM216.94 765.87h14.46v1.5h-14.46zM477.25 765.87h86.77v1.5h-86.77zM578.48 765.87h28.92v1.5h-28.92zM43.4 767.37h14.46v1.5h-14.46zM477.25 767.37h130.15v1.5h-130.15zM477.25 768.87h130.15v1.5h-130.15zM101.25 770.37h28.92v1.5h-28.92zM188.02 770.37h14.46v1.5h-14.46zM477.25 770.37h130.15v1.5h-130.15zM115.71 771.87h14.46v1.5h-14.46zM144.63 771.87h14.46v1.5h-14.46zM477.25 771.87h130.15v1.5h-130.15zM43.4 773.37h14.46v1.5h-14.46zM101.25 773.37h28.92v1.5h-28.92zM144.63 773.37h14.46v1.5h-14.46zM188.02 773.37h14.46v1.5h-14.46zM231.4 773.37h14.46v1.5h-14.46zM477.25 773.37h130.15v1.5h-130.15zM216.94 774.87h14.46v1.5h-14.46zM477.25 774.87h130.15v1.5h-130.15zM86.78 776.37h43.38v1.5h-43.38zM216.94 776.37h14.46v1.5h-14.46zM274.78 776.37h43.38v1.5h-43.38zM477.25 776.37h130.15v1.5h-130.15zM101.25 777.87h14.46v1.5h-14.46zM144.63 777.87h14.46v1.5h-14.46zM188.02 777.87h14.46v1.5h-14.46zM231.4 777.87h14.46v1.5h-14.46zM260.32 777.87h14.46v1.5h-14.46zM477.25 777.87h130.15v1.5h-130.15zM86.78 779.38h28.92v1.5h-28.92zM144.63 779.38h14.46v1.5h-14.46zM477.25 779.38h130.15v1.5h-130.15zM86.78 780.88h14.46v1.5h-14.46zM115.71 780.88h14.46v1.5h-14.46zM144.63 780.88h14.46v1.5h-14.46zM202.48 780.88h14.46v1.5h-14.46zM477.25 780.88h115.69v1.5h-115.69zM101.25 782.38h14.46v1.5h-14.46zM144.63 782.38h14.46v1.5h-14.46zM202.48 782.38h28.92v1.5h-28.92zM260.32 782.38h14.46v1.5h-14.46zM506.17 782.38h14.46v1.5h-14.46zM535.09 782.38h72.31v1.5h-72.31zM86.78 783.88h28.92v1.5h-28.92zM144.63 783.88h14.46v1.5h-14.46zM188.02 783.88h28.92v1.5h-28.92zM477.25 783.88h14.46v1.5h-14.46zM535.09 783.88h28.92v1.5h-28.92zM578.48 783.88h28.92v1.5h-28.92zM86.78 785.38h43.38v1.5h-43.38zM144.63 785.38h14.46v1.5h-14.46zM260.32 785.38h14.46v1.5h-14.46zM477.25 785.38h14.46v1.5h-14.46zM506.17 785.38h101.23v1.5h-101.23zM43.4 786.88h14.46v1.5h-14.46zM86.78 786.88h43.38v1.5h-43.38zM159.09 786.88h14.46v1.5h-14.46zM260.32 786.88h14.46v1.5h-14.46zM347.09 786.88h14.46v1.5h-14.46zM477.25 786.88h14.46v1.5h-14.46zM506.17 786.88h14.46v1.5h-14.46zM535.09 786.88h57.85v1.5h-57.85zM43.4 788.38h28.92v1.5h-28.92zM86.78 788.38h28.92v1.5h-28.92zM144.63 788.38h14.46v1.5h-14.46zM245.86 788.38h14.46v1.5h-14.46zM477.25 788.38h86.77v1.5h-86.77zM578.48 788.38h28.92v1.5h-28.92zM43.4 789.88h14.46v1.5h-14.46zM86.78 789.88h28.92v1.5h-28.92zM231.4 789.88h14.46v1.5h-14.46zM477.25 789.88h130.15v1.5h-130.15zM57.86 791.38h14.46v1.5h-14.46zM86.78 791.38h28.92v1.5h-28.92zM144.63 791.38h14.46v1.5h-14.46zM173.55 791.38h14.46v1.5h-14.46zM216.94 791.38h14.46v1.5h-14.46zM245.86 791.38h14.46v1.5h-14.46zM477.25 791.38h130.15v1.5h-130.15zM72.32 792.88h28.92v1.5h-28.92zM144.63 792.88h14.46v1.5h-14.46zM216.94 792.88h28.92v1.5h-28.92zM477.25 792.88h130.15v1.5h-130.15zM43.4 794.38h28.92v1.5h-28.92zM86.78 794.38h14.46v1.5h-14.46zM115.71 794.38h14.46v1.5h-14.46zM144.63 794.38h28.92v1.5h-28.92zM477.25 794.38h14.46v1.5h-14.46zM520.63 794.38h28.92v1.5h-28.92zM578.48 794.38h28.92v1.5h-28.92zM86.78 795.88h28.92v1.5h-28.92zM144.63 795.88h14.46v1.5h-14.46zM173.55 795.88h43.38v1.5h-43.38zM231.4 795.88h28.92v1.5h-28.92zM477.25 795.88h130.15v1.5h-130.15zM86.78 797.38h43.38v1.5h-43.38zM144.63 797.38h14.46v1.5h-14.46zM477.25 797.38h130.15v1.5h-130.15zM57.86 798.89h14.46v1.5h-14.46zM101.25 798.89h28.92v1.5h-28.92zM144.63 798.89h28.92v1.5h-28.92zM188.02 798.89h14.46v1.5h-14.46zM231.4 798.89h14.46v1.5h-14.46zM477.25 798.89h130.15v1.5h-130.15zM43.4 800.39h28.92v1.5h-28.92zM86.78 800.39h28.92v1.5h-28.92zM144.63 800.39h14.46v1.5h-14.46zM173.55 800.39h14.46v1.5h-14.46zM216.94 800.39h14.46v1.5h-14.46zM477.25 800.39h130.15v1.5h-130.15zM43.4 801.89h28.92v1.5h-28.92zM144.63 801.89h28.92v1.5h-28.92zM448.32 801.89h14.46v1.5h-14.46zM477.25 801.89h130.15v1.5h-130.15zM57.86 803.39h14.46v1.5h-14.46zM86.78 803.39h28.92v1.5h-28.92zM144.63 803.39h57.85v1.5h-57.85zM245.86 803.39h14.46v1.5h-14.46zM448.32 803.39h14.46v1.5h-14.46zM477.25 803.39h130.15v1.5h-130.15zM86.78 804.89h28.92v1.5h-28.92zM159.09 804.89h14.46v1.5h-14.46zM188.02 804.89h14.46v1.5h-14.46zM245.86 804.89h14.46v1.5h-14.46zM361.55 804.89h14.46v1.5h-14.46zM477.25 804.89h130.15v1.5h-130.15zM57.86 806.39h14.46v1.5h-14.46zM101.25 806.39h14.46v1.5h-14.46zM173.55 806.39h14.46v1.5h-14.46zM216.94 806.39h28.92v1.5h-28.92zM260.32 806.39h14.46v1.5h-14.46zM477.25 806.39h130.15v1.5h-130.15zM43.4 807.89h43.38v1.5h-43.38zM101.25 807.89h14.46v1.5h-14.46zM144.63 807.89h14.46v1.5h-14.46zM260.32 807.89h14.46v1.5h-14.46zM477.25 807.89h130.15v1.5h-130.15zM101.25 809.39h14.46v1.5h-14.46zM144.63 809.39h43.38v1.5h-43.38zM202.48 809.39h14.46v1.5h-14.46zM260.32 809.39h14.46v1.5h-14.46zM477.25 809.39h130.15v1.5h-130.15zM101.25 810.89h14.46v1.5h-14.46zM144.63 810.89h14.46v1.5h-14.46zM188.02 810.89h28.92v1.5h-28.92zM245.86 810.89h14.46v1.5h-14.46zM477.25 810.89h86.77v1.5h-86.77zM578.48 810.89h28.92v1.5h-28.92zM115.71 812.39h14.46v1.5h-14.46zM144.63 812.39h14.46v1.5h-14.46zM173.55 812.39h14.46v1.5h-14.46zM462.78 812.39h57.85v1.5h-57.85zM535.09 812.39h72.31v1.5h-72.31zM86.78 813.89h43.38v1.5h-43.38zM144.63 813.89h14.46v1.5h-14.46zM173.55 813.89h28.92v1.5h-28.92zM491.71 813.89h115.69v1.5h-115.69zM57.86 815.39h14.46v1.5h-14.46zM144.63 815.39h14.46v1.5h-14.46zM477.25 815.39h115.69v1.5h-115.69zM72.32 816.9h14.46v1.5h-14.46zM188.02 816.9h14.46v1.5h-14.46zM231.4 816.9h14.46v1.5h-14.46zM477.25 816.9h101.23v1.5h-101.23zM592.94 816.9h14.46v1.5h-14.46zM144.63 818.4h14.46v1.5h-14.46zM231.4 818.4h14.46v1.5h-14.46zM376.02 818.4h14.46v1.5h-14.46zM477.25 818.4h101.23v1.5h-101.23zM592.94 818.4h14.46v1.5h-14.46zM57.86 819.9h14.46v1.5h-14.46zM144.63 819.9h57.85v1.5h-57.85zM231.4 819.9h28.92v1.5h-28.92zM448.32 819.9h14.46v1.5h-14.46zM477.25 819.9h130.15v1.5h-130.15zM57.86 821.4h28.92v1.5h-28.92zM144.63 821.4h28.92v1.5h-28.92zM216.94 821.4h43.38v1.5h-43.38zM477.25 821.4h130.15v1.5h-130.15zM57.86 822.9h14.46v1.5h-14.46zM101.25 822.9h14.46v1.5h-14.46zM144.63 822.9h14.46v1.5h-14.46zM477.25 822.9h130.15v1.5h-130.15zM43.4 824.4h43.38v1.5h-43.38zM491.71 824.4h115.69v1.5h-115.69zM43.4 825.9h115.69v1.5h-115.69zM231.4 825.9h14.46v1.5h-14.46zM477.25 825.9h130.15v1.5h-130.15zM43.4 827.4h28.92v1.5h-28.92zM144.63 827.4h14.46v1.5h-14.46zM477.25 827.4h130.15v1.5h-130.15zM57.86 828.9h28.92v1.5h-28.92zM188.02 828.9h14.46v1.5h-14.46zM477.25 828.9h130.15v1.5h-130.15zM57.86 830.4h57.85v1.5h-57.85zM477.25 830.4h130.15v1.5h-130.15zM72.32 831.9h14.46v1.5h-14.46zM188.02 831.9h14.46v1.5h-14.46zM245.86 831.9h14.46v1.5h-14.46zM477.25 831.9h130.15v1.5h-130.15zM43.4 833.4h43.38v1.5h-43.38zM115.71 833.4h14.46v1.5h-14.46zM188.02 833.4h14.46v1.5h-14.46zM216.94 833.4h14.46v1.5h-14.46zM477.25 833.4h130.15v1.5h-130.15zM86.78 834.91h14.46v1.5h-14.46zM144.63 834.91h14.46v1.5h-14.46zM188.02 834.91h14.46v1.5h-14.46zM231.4 834.91h28.92v1.5h-28.92zM376.02 834.91h14.46v1.5h-14.46zM448.32 834.91h14.46v1.5h-14.46zM477.25 834.91h86.77v1.5h-86.77zM578.48 834.91h28.92v1.5h-28.92zM115.71 836.41h14.46v1.5h-14.46zM231.4 836.41h14.46v1.5h-14.46zM260.32 836.41h14.46v1.5h-14.46zM477.25 836.41h101.23v1.5h-101.23zM592.94 836.41h14.46v1.5h-14.46zM43.4 837.91h14.46v1.5h-14.46zM86.78 837.91h14.46v1.5h-14.46zM332.63 837.91h28.92v1.5h-28.92zM390.48 837.91h14.46v1.5h-14.46zM419.4 837.91h14.46v1.5h-14.46zM477.25 837.91h57.85v1.5h-57.85zM549.55 837.91h57.85v1.5h-57.85zM43.4 839.41h28.92v1.5h-28.92zM216.94 839.41h14.46v1.5h-14.46zM390.48 839.41h14.46v1.5h-14.46zM477.25 839.41h43.38v1.5h-43.38zM535.09 839.41h72.31v1.5h-72.31zM43.4 840.91h43.38v1.5h-43.38zM144.63 840.91h14.46v1.5h-14.46zM216.94 840.91h14.46v1.5h-14.46zM245.86 840.91h28.92v1.5h-28.92zM289.25 840.91h28.92v1.5h-28.92zM477.25 840.91h130.15v1.5h-130.15zM43.4 842.41h43.38v1.5h-43.38zM144.63 842.41h14.46v1.5h-14.46zM188.02 842.41h14.46v1.5h-14.46zM231.4 842.41h43.38v1.5h-43.38zM491.71 842.41h115.69v1.5h-115.69zM43.4 843.91h43.38v1.5h-43.38zM144.63 843.91h14.46v1.5h-14.46zM188.02 843.91h14.46v1.5h-14.46zM477.25 843.91h130.15v1.5h-130.15zM43.4 845.41h14.46v1.5h-14.46zM86.78 845.41h14.46v1.5h-14.46zM144.63 845.41h14.46v1.5h-14.46zM477.25 845.41h43.38v1.5h-43.38zM535.09 845.41h72.31v1.5h-72.31zM43.4 846.91h14.46v1.5h-14.46zM144.63 846.91h28.92v1.5h-28.92zM477.25 846.91h43.38v1.5h-43.38zM535.09 846.91h72.31v1.5h-72.31zM43.4 848.41h28.92v1.5h-28.92zM130.17 848.41h28.92v1.5h-28.92zM260.32 848.41h14.46v1.5h-14.46zM477.25 848.41h130.15v1.5h-130.15zM216.94 849.91h14.46v1.5h-14.46zM390.48 849.91h14.46v1.5h-14.46zM477.25 849.91h130.15v1.5h-130.15zM216.94 851.41h28.92v1.5h-28.92zM303.71 851.41h14.46v1.5h-14.46zM347.09 851.41h14.46v1.5h-14.46zM477.25 851.41h130.15v1.5h-130.15zM115.71 852.92h14.46v1.5h-14.46zM448.32 852.92h14.46v1.5h-14.46zM491.71 852.92h72.31v1.5h-72.31zM592.94 852.92h14.46v1.5h-14.46zM477.25 854.42h72.31v1.5h-72.31zM564.02 854.42h43.38v1.5h-43.38zM86.78 855.92h14.46v1.5h-14.46zM144.63 855.92h14.46v1.5h-14.46zM361.55 855.92h14.46v1.5h-14.46zM477.25 855.92h28.92v1.5h-28.92zM520.63 855.92h86.77v1.5h-86.77zM43.4 857.42h43.38v1.5h-43.38zM144.63 857.42h14.46v1.5h-14.46zM202.48 857.42h14.46v1.5h-14.46zM477.25 857.42h101.23v1.5h-101.23zM592.94 857.42h14.46v1.5h-14.46zM57.86 858.92h28.92v1.5h-28.92zM491.71 858.92h28.92v1.5h-28.92zM535.09 858.92h72.31v1.5h-72.31zM86.78 860.42h43.38v1.5h-43.38zM144.63 860.42h14.46v1.5h-14.46zM231.4 860.42h14.46v1.5h-14.46zM289.25 860.42h14.46v1.5h-14.46zM491.71 860.42h115.69v1.5h-115.69zM43.4 861.92h28.92v1.5h-28.92zM115.71 861.92h14.46v1.5h-14.46zM144.63 861.92h14.46v1.5h-14.46zM188.02 861.92h14.46v1.5h-14.46zM245.86 861.92h14.46v1.5h-14.46zM477.25 861.92h14.46v1.5h-14.46zM506.17 861.92h72.31v1.5h-72.31zM592.94 861.92h14.46v1.5h-14.46zM115.71 863.42h14.46v1.5h-14.46zM173.55 863.42h14.46v1.5h-14.46zM245.86 863.42h28.92v1.5h-28.92zM477.25 863.42h130.15v1.5h-130.15zM43.4 864.92h57.85v1.5h-57.85zM216.94 864.92h14.46v1.5h-14.46zM477.25 864.92h130.15v1.5h-130.15zM43.4 866.42h43.38v1.5h-43.38zM115.71 866.42h14.46v1.5h-14.46zM144.63 866.42h28.92v1.5h-28.92zM231.4 866.42h43.38v1.5h-43.38zM477.25 866.42h130.15v1.5h-130.15zM43.4 867.92h14.46v1.5h-14.46zM72.32 867.92h14.46v1.5h-14.46zM144.63 867.92h14.46v1.5h-14.46zM173.55 867.92h28.92v1.5h-28.92zM260.32 867.92h14.46v1.5h-14.46zM477.25 867.92h130.15v1.5h-130.15zM43.4 869.42h57.85v1.5h-57.85zM144.63 869.42h14.46v1.5h-14.46zM202.48 869.42h14.46v1.5h-14.46zM231.4 869.42h14.46v1.5h-14.46zM260.32 869.42h14.46v1.5h-14.46zM477.25 869.42h130.15v1.5h-130.15zM57.86 870.93h14.46v1.5h-14.46zM86.78 870.93h43.38v1.5h-43.38zM144.63 870.93h14.46v1.5h-14.46zM188.02 870.93h14.46v1.5h-14.46zM477.25 870.93h14.46v1.5h-14.46zM506.17 870.93h101.23v1.5h-101.23zM57.86 872.43h14.46v1.5h-14.46zM86.78 872.43h14.46v1.5h-14.46zM115.71 872.43h14.46v1.5h-14.46zM144.63 872.43h28.92v1.5h-28.92zM202.48 872.43h14.46v1.5h-14.46zM477.25 872.43h130.15v1.5h-130.15zM43.4 873.93h57.85v1.5h-57.85zM144.63 873.93h28.92v1.5h-28.92zM188.02 873.93h14.46v1.5h-14.46zM231.4 873.93h14.46v1.5h-14.46zM390.48 873.93h14.46v1.5h-14.46zM433.86 873.93h14.46v1.5h-14.46zM477.25 873.93h130.15v1.5h-130.15zM57.86 875.43h14.46v1.5h-14.46zM144.63 875.43h14.46v1.5h-14.46zM188.02 875.43h14.46v1.5h-14.46zM231.4 875.43h14.46v1.5h-14.46zM260.32 875.43h14.46v1.5h-14.46zM477.25 875.43h130.15v1.5h-130.15zM43.4 876.93h43.38v1.5h-43.38zM101.25 876.93h28.92v1.5h-28.92zM144.63 876.93h43.38v1.5h-43.38zM231.4 876.93h14.46v1.5h-14.46zM260.32 876.93h14.46v1.5h-14.46zM477.25 876.93h130.15v1.5h-130.15zM43.4 878.43h86.77v1.5h-86.77zM144.63 878.43h43.38v1.5h-43.38zM202.48 878.43h43.38v1.5h-43.38zM260.32 878.43h14.46v1.5h-14.46zM477.25 878.43h130.15v1.5h-130.15zM43.4 879.93h43.38v1.5h-43.38zM101.25 879.93h28.92v1.5h-28.92zM144.63 879.93h28.92v1.5h-28.92zM188.02 879.93h86.77v1.5h-86.77zM477.25 879.93h130.15v1.5h-130.15zM43.4 881.43h43.38v1.5h-43.38zM144.63 881.43h14.46v1.5h-14.46zM202.48 881.43h14.46v1.5h-14.46zM260.32 881.43h28.92v1.5h-28.92zM477.25 881.43h130.15v1.5h-130.15zM43.4 882.93h43.38v1.5h-43.38zM173.55 882.93h14.46v1.5h-14.46zM216.94 882.93h14.46v1.5h-14.46zM274.78 882.93h14.46v1.5h-14.46zM477.25 882.93h130.15v1.5h-130.15zM57.86 884.43h14.46v1.5h-14.46zM144.63 884.43h43.38v1.5h-43.38zM202.48 884.43h14.46v1.5h-14.46zM231.4 884.43h43.38v1.5h-43.38zM477.25 884.43h130.15v1.5h-130.15zM43.4 885.93h43.38v1.5h-43.38zM202.48 885.93h43.38v1.5h-43.38zM477.25 885.93h130.15v1.5h-130.15zM43.4 887.43h43.38v1.5h-43.38zM144.63 887.43h14.46v1.5h-14.46zM216.94 887.43h28.92v1.5h-28.92zM477.25 887.43h14.46v1.5h-14.46zM520.63 887.43h43.38v1.5h-43.38zM578.48 887.43h28.92v1.5h-28.92zM43.4 888.94h43.38v1.5h-43.38zM115.71 888.94h14.46v1.5h-14.46zM144.63 888.94h14.46v1.5h-14.46zM216.94 888.94h14.46v1.5h-14.46zM260.32 888.94h28.92v1.5h-28.92zM477.25 888.94h28.92v1.5h-28.92zM520.63 888.94h86.77v1.5h-86.77zM57.86 890.44h28.92v1.5h-28.92zM144.63 890.44h14.46v1.5h-14.46zM216.94 890.44h14.46v1.5h-14.46zM260.32 890.44h14.46v1.5h-14.46zM477.25 890.44h43.38v1.5h-43.38zM535.09 890.44h72.31v1.5h-72.31zM43.4 891.94h43.38v1.5h-43.38zM115.71 891.94h14.46v1.5h-14.46zM144.63 891.94h14.46v1.5h-14.46zM231.4 891.94h14.46v1.5h-14.46zM477.25 891.94h130.15v1.5h-130.15zM57.86 893.44h14.46v1.5h-14.46zM144.63 893.44h14.46v1.5h-14.46zM231.4 893.44h14.46v1.5h-14.46zM260.32 893.44h14.46v1.5h-14.46zM477.25 893.44h130.15v1.5h-130.15zM57.86 894.94h28.92v1.5h-28.92zM144.63 894.94h14.46v1.5h-14.46zM173.55 894.94h14.46v1.5h-14.46zM231.4 894.94h28.92v1.5h-28.92zM376.02 894.94h14.46v1.5h-14.46zM477.25 894.94h130.15v1.5h-130.15zM43.4 896.44h43.38v1.5h-43.38zM144.63 896.44h14.46v1.5h-14.46zM173.55 896.44h28.92v1.5h-28.92zM231.4 896.44h14.46v1.5h-14.46zM477.25 896.44h130.15v1.5h-130.15zM43.4 897.94h14.46v1.5h-14.46zM72.32 897.94h14.46v1.5h-14.46zM144.63 897.94h14.46v1.5h-14.46zM188.02 897.94h14.46v1.5h-14.46zM260.32 897.94h14.46v1.5h-14.46zM433.86 897.94h14.46v1.5h-14.46zM477.25 897.94h130.15v1.5h-130.15zM43.4 899.44h43.38v1.5h-43.38zM144.63 899.44h43.38v1.5h-43.38zM216.94 899.44h28.92v1.5h-28.92zM477.25 899.44h14.46v1.5h-14.46zM506.17 899.44h14.46v1.5h-14.46zM535.09 899.44h72.31v1.5h-72.31zM43.4 900.94h43.38v1.5h-43.38zM144.63 900.94h14.46v1.5h-14.46zM231.4 900.94h14.46v1.5h-14.46zM477.25 900.94h130.15v1.5h-130.15zM43.4 902.44h43.38v1.5h-43.38zM231.4 902.44h28.92v1.5h-28.92zM477.25 902.44h130.15v1.5h-130.15zM43.4 903.94h57.85v1.5h-57.85zM115.71 903.94h14.46v1.5h-14.46zM144.63 903.94h28.92v1.5h-28.92zM216.94 903.94h14.46v1.5h-14.46zM245.86 903.94h14.46v1.5h-14.46zM477.25 903.94h14.46v1.5h-14.46zM506.17 903.94h101.23v1.5h-101.23zM57.86 905.44h14.46v1.5h-14.46zM86.78 905.44h28.92v1.5h-28.92zM144.63 905.44h28.92v1.5h-28.92zM202.48 905.44h28.92v1.5h-28.92zM245.86 905.44h14.46v1.5h-14.46zM274.78 905.44h14.46v1.5h-14.46zM477.25 905.44h130.15v1.5h-130.15zM43.4 906.95h43.38v1.5h-43.38zM144.63 906.95h14.46v1.5h-14.46zM188.02 906.95h72.31v1.5h-72.31zM274.78 906.95h14.46v1.5h-14.46zM318.17 906.95h43.38v1.5h-43.38zM376.02 906.95h14.46v1.5h-14.46zM477.25 906.95h130.15v1.5h-130.15zM57.86 908.45h28.92v1.5h-28.92zM202.48 908.45h14.46v1.5h-14.46zM332.63 908.45h14.46v1.5h-14.46zM433.86 908.45h14.46v1.5h-14.46zM477.25 908.45h130.15v1.5h-130.15zM144.63 909.95h14.46v1.5h-14.46zM202.48 909.95h43.38v1.5h-43.38zM260.32 909.95h14.46v1.5h-14.46zM347.09 909.95h14.46v1.5h-14.46zM433.86 909.95h14.46v1.5h-14.46zM477.25 909.95h130.15v1.5h-130.15zM144.63 911.45h28.92v1.5h-28.92zM188.02 911.45h14.46v1.5h-14.46zM216.94 911.45h14.46v1.5h-14.46zM245.86 911.45h14.46v1.5h-14.46zM477.25 911.45h130.15v1.5h-130.15zM173.55 912.95h14.46v1.5h-14.46zM231.4 912.95h14.46v1.5h-14.46zM477.25 912.95h130.15v1.5h-130.15zM144.63 914.45h14.46v1.5h-14.46zM245.86 914.45h14.46v1.5h-14.46zM361.55 914.45h14.46v1.5h-14.46zM477.25 914.45h14.46v1.5h-14.46zM506.17 914.45h101.23v1.5h-101.23zM216.94 915.95h14.46v1.5h-14.46zM448.32 915.95h14.46v1.5h-14.46zM477.25 915.95h57.85v1.5h-57.85zM549.55 915.95h57.85v1.5h-57.85zM72.32 917.45h14.46v1.5h-14.46zM202.48 917.45h14.46v1.5h-14.46zM231.4 917.45h28.92v1.5h-28.92zM477.25 917.45h130.15v1.5h-130.15zM115.71 918.95h14.46v1.5h-14.46zM144.63 918.95h14.46v1.5h-14.46zM202.48 918.95h14.46v1.5h-14.46zM245.86 918.95h14.46v1.5h-14.46zM361.55 918.95h14.46v1.5h-14.46zM419.4 918.95h14.46v1.5h-14.46zM477.25 918.95h130.15v1.5h-130.15zM144.63 920.45h14.46v1.5h-14.46zM202.48 920.45h14.46v1.5h-14.46zM260.32 920.45h14.46v1.5h-14.46zM477.25 920.45h130.15v1.5h-130.15zM144.63 921.95h28.92v1.5h-28.92zM188.02 921.95h28.92v1.5h-28.92zM231.4 921.95h14.46v1.5h-14.46zM260.32 921.95h14.46v1.5h-14.46zM477.25 921.95h130.15v1.5h-130.15zM43.4 923.45h14.46v1.5h-14.46zM86.78 923.45h28.92v1.5h-28.92zM144.63 923.45h28.92v1.5h-28.92zM216.94 923.45h28.92v1.5h-28.92zM477.25 923.45h130.15v1.5h-130.15zM43.4 924.96h14.46v1.5h-14.46zM101.25 924.96h14.46v1.5h-14.46zM144.63 924.96h57.85v1.5h-57.85zM274.78 924.96h14.46v1.5h-14.46zM477.25 924.96h130.15v1.5h-130.15zM43.4 926.46h14.46v1.5h-14.46zM72.32 926.46h14.46v1.5h-14.46zM144.63 926.46h43.38v1.5h-43.38zM477.25 926.46h130.15v1.5h-130.15zM57.86 927.96h28.92v1.5h-28.92zM159.09 927.96h14.46v1.5h-14.46zM477.25 927.96h130.15v1.5h-130.15zM57.86 929.46h14.46v1.5h-14.46zM101.25 929.46h14.46v1.5h-14.46zM144.63 929.46h14.46v1.5h-14.46zM477.25 929.46h130.15v1.5h-130.15zM57.86 930.96h28.92v1.5h-28.92zM101.25 930.96h28.92v1.5h-28.92zM159.09 930.96h28.92v1.5h-28.92zM245.86 930.96h43.38v1.5h-43.38zM491.71 930.96h14.46v1.5h-14.46zM520.63 930.96h86.77v1.5h-86.77zM57.86 932.46h14.46v1.5h-14.46zM86.78 932.46h28.92v1.5h-28.92zM144.63 932.46h14.46v1.5h-14.46zM274.78 932.46h14.46v1.5h-14.46zM462.78 932.46h43.38v1.5h-43.38zM520.63 932.46h86.77v1.5h-86.77zM86.78 933.96h43.38v1.5h-43.38zM188.02 933.96h14.46v1.5h-14.46zM274.78 933.96h14.46v1.5h-14.46zM332.63 933.96h14.46v1.5h-14.46zM448.32 933.96h14.46v1.5h-14.46zM477.25 933.96h28.92v1.5h-28.92zM520.63 933.96h14.46v1.5h-14.46zM549.55 933.96h57.85v1.5h-57.85zM43.4 935.46h86.77v1.5h-86.77zM144.63 935.46h14.46v1.5h-14.46zM173.55 935.46h14.46v1.5h-14.46zM231.4 935.46h14.46v1.5h-14.46zM274.78 935.46h14.46v1.5h-14.46zM448.32 935.46h14.46v1.5h-14.46zM477.25 935.46h130.15v1.5h-130.15zM43.4 936.96h43.38v1.5h-43.38zM115.71 936.96h14.46v1.5h-14.46zM144.63 936.96h14.46v1.5h-14.46zM188.02 936.96h14.46v1.5h-14.46zM231.4 936.96h14.46v1.5h-14.46zM361.55 936.96h14.46v1.5h-14.46zM491.71 936.96h86.77v1.5h-86.77zM592.94 936.96h14.46v1.5h-14.46zM43.4 938.46h57.85v1.5h-57.85zM115.71 938.46h14.46v1.5h-14.46zM144.63 938.46h14.46v1.5h-14.46zM188.02 938.46h28.92v1.5h-28.92zM332.63 938.46h14.46v1.5h-14.46zM477.25 938.46h130.15v1.5h-130.15zM57.86 939.96h72.31v1.5h-72.31zM144.63 939.96h14.46v1.5h-14.46zM332.63 939.96h14.46v1.5h-14.46zM361.55 939.96h14.46v1.5h-14.46zM477.25 939.96h130.15v1.5h-130.15zM43.4 941.46h43.38v1.5h-43.38zM101.25 941.46h14.46v1.5h-14.46zM144.63 941.46h14.46v1.5h-14.46zM231.4 941.46h14.46v1.5h-14.46zM477.25 941.46h86.77v1.5h-86.77zM578.48 941.46h14.46v1.5h-14.46zM43.4 942.97h43.38v1.5h-43.38zM101.25 942.97h14.46v1.5h-14.46zM144.63 942.97h28.92v1.5h-28.92zM477.25 942.97h14.46v1.5h-14.46zM506.17 942.97h14.46v1.5h-14.46zM535.09 942.97h14.46v1.5h-14.46zM43.4 944.47h28.92v1.5h-28.92zM86.78 944.47h14.46v1.5h-14.46zM231.4 944.47h14.46v1.5h-14.46zM43.4 945.97h14.46v1.5h-14.46zM462.78 945.97h28.92v1.5h-28.92zM506.17 945.97h28.92v1.5h-28.92zM549.55 945.97h14.46v1.5h-14.46zM101.25 947.47h28.92v1.5h-28.92zM144.63 947.47h14.46v1.5h-14.46zM419.4 947.47h14.46v1.5h-14.46zM477.25 947.47h14.46v1.5h-14.46zM506.17 947.47h14.46v1.5h-14.46zM101.25 948.97h28.92v1.5h-28.92zM144.63 948.97h14.46v1.5h-14.46zM173.55 948.97h28.92v1.5h-28.92zM216.94 948.97h14.46v1.5h-14.46zM245.86 948.97h14.46v1.5h-14.46zM477.25 948.97h14.46v1.5h-14.46zM506.17 948.97h14.46v1.5h-14.46zM535.09 948.97h43.38v1.5h-43.38zM592.94 948.97h14.46v1.5h-14.46zM86.78 950.47h14.46v1.5h-14.46zM115.71 950.47h14.46v1.5h-14.46zM144.63 950.47h14.46v1.5h-14.46zM173.55 950.47h43.38v1.5h-43.38zM260.32 950.47h14.46v1.5h-14.46zM448.32 950.47h43.38v1.5h-43.38zM506.17 950.47h14.46v1.5h-14.46zM535.09 950.47h14.46v1.5h-14.46zM578.48 950.47h14.46v1.5h-14.46zM86.78 951.97h43.38v1.5h-43.38zM144.63 951.97h14.46v1.5h-14.46zM202.48 951.97h14.46v1.5h-14.46zM260.32 951.97h14.46v1.5h-14.46zM448.32 951.97h159.08v1.5h-159.08zM86.78 953.47h43.38v1.5h-43.38zM202.48 953.47h14.46v1.5h-14.46zM231.4 953.47h14.46v1.5h-14.46zM260.32 953.47h28.92v1.5h-28.92zM477.25 953.47h72.31v1.5h-72.31zM564.02 953.47h43.38v1.5h-43.38zM86.78 954.97h43.38v1.5h-43.38zM144.63 954.97h72.31v1.5h-72.31zM245.86 954.97h14.46v1.5h-14.46zM274.78 954.97h14.46v1.5h-14.46zM491.71 954.97h14.46v1.5h-14.46zM86.78 956.47h28.92v1.5h-28.92zM144.63 956.47h14.46v1.5h-14.46zM274.78 956.47h14.46v1.5h-14.46zM462.78 956.47h43.38v1.5h-43.38zM520.63 956.47h28.92v1.5h-28.92zM592.94 956.47h14.46v1.5h-14.46zM144.63 957.97h14.46v1.5h-14.46zM188.02 957.97h14.46v1.5h-14.46zM274.78 957.97h14.46v1.5h-14.46zM506.17 957.97h72.31v1.5h-72.31zM144.63 959.47h14.46v1.5h-14.46zM260.32 959.47h28.92v1.5h-28.92zM448.32 959.47h14.46v1.5h-14.46zM477.25 959.47h28.92v1.5h-28.92zM520.63 959.47h14.46v1.5h-14.46zM549.55 959.47h57.85v1.5h-57.85zM86.78 960.98h14.46v1.5h-14.46zM144.63 960.98h14.46v1.5h-14.46zM274.78 960.98h14.46v1.5h-14.46zM491.71 960.98h43.38v1.5h-43.38zM549.55 960.98h57.85v1.5h-57.85zM86.78 962.48h43.38v1.5h-43.38zM144.63 962.48h101.23v1.5h-101.23zM260.32 962.48h14.46v1.5h-14.46zM477.25 962.48h130.15v1.5h-130.15zM86.78 963.98h43.38v1.5h-43.38zM144.63 963.98h14.46v1.5h-14.46zM188.02 963.98h14.46v1.5h-14.46zM216.94 963.98h14.46v1.5h-14.46zM260.32 963.98h14.46v1.5h-14.46zM506.17 963.98h43.38v1.5h-43.38zM564.02 963.98h43.38v1.5h-43.38zM57.86 965.48h14.46v1.5h-14.46zM86.78 965.48h43.38v1.5h-43.38zM144.63 965.48h14.46v1.5h-14.46zM202.48 965.48h43.38v1.5h-43.38zM260.32 965.48h14.46v1.5h-14.46zM477.25 965.48h14.46v1.5h-14.46zM520.63 965.48h28.92v1.5h-28.92zM578.48 965.48h14.46v1.5h-14.46zM43.4 966.98h115.69v1.5h-115.69zM173.55 966.98h14.46v1.5h-14.46zM231.4 966.98h14.46v1.5h-14.46zM289.25 966.98h28.92v1.5h-28.92zM520.63 966.98h28.92v1.5h-28.92zM564.02 966.98h43.38v1.5h-43.38zM43.4 968.48h86.77v1.5h-86.77zM144.63 968.48h28.92v1.5h-28.92zM289.25 968.48h28.92v1.5h-28.92zM535.09 968.48h14.46v1.5h-14.46zM564.02 968.48h14.46v1.5h-14.46zM57.86 969.98h43.38v1.5h-43.38zM144.63 969.98h43.38v1.5h-43.38zM202.48 969.98h43.38v1.5h-43.38zM289.25 969.98h14.46v1.5h-14.46zM535.09 969.98h14.46v1.5h-14.46zM72.32 971.48h28.92v1.5h-28.92zM115.71 971.48h14.46v1.5h-14.46zM144.63 971.48h14.46v1.5h-14.46zM202.48 971.48h43.38v1.5h-43.38zM274.78 971.48h14.46v1.5h-14.46zM506.17 971.48h14.46v1.5h-14.46zM578.48 971.48h14.46v1.5h-14.46zM43.4 972.98h57.85v1.5h-57.85zM115.71 972.98h43.38v1.5h-43.38zM202.48 972.98h43.38v1.5h-43.38zM260.32 972.98h28.92v1.5h-28.92zM303.71 972.98h14.46v1.5h-14.46zM477.25 972.98h28.92v1.5h-28.92zM535.09 972.98h43.38v1.5h-43.38zM592.94 972.98h14.46v1.5h-14.46zM43.4 974.48h28.92v1.5h-28.92zM86.78 974.48h14.46v1.5h-14.46zM130.17 974.48h14.46v1.5h-14.46zM173.55 974.48h144.62v1.5h-144.62zM347.09 974.48h14.46v1.5h-14.46zM477.25 974.48h43.38v1.5h-43.38zM535.09 974.48h14.46v1.5h-14.46zM564.02 974.48h28.92v1.5h-28.92zM43.4 975.98h43.38v1.5h-43.38zM173.55 975.98h14.46v1.5h-14.46zM260.32 975.98h28.92v1.5h-28.92zM303.71 975.98h14.46v1.5h-14.46zM361.55 975.98h28.92v1.5h-28.92zM477.25 975.98h57.85v1.5h-57.85zM564.02 975.98h14.46v1.5h-14.46zM592.94 975.98h14.46v1.5h-14.46zM43.4 977.48h14.46v1.5h-14.46zM72.32 977.48h43.38v1.5h-43.38zM274.78 977.48h14.46v1.5h-14.46zM303.71 977.48h14.46v1.5h-14.46zM477.25 977.48h115.69v1.5h-115.69zM43.4 978.99h43.38v1.5h-43.38zM101.25 978.99h14.46v1.5h-14.46zM144.63 978.99h14.46v1.5h-14.46zM245.86 978.99h14.46v1.5h-14.46zM274.78 978.99h43.38v1.5h-43.38zM477.25 978.99h14.46v1.5h-14.46zM506.17 978.99h14.46v1.5h-14.46zM535.09 978.99h43.38v1.5h-43.38zM592.94 978.99h14.46v1.5h-14.46zM43.4 980.49h43.38v1.5h-43.38zM231.4 980.49h14.46v1.5h-14.46zM274.78 980.49h43.38v1.5h-43.38zM477.25 980.49h14.46v1.5h-14.46zM506.17 980.49h14.46v1.5h-14.46zM535.09 980.49h57.85v1.5h-57.85zM43.4 981.99h43.38v1.5h-43.38zM231.4 981.99h14.46v1.5h-14.46zM274.78 981.99h43.38v1.5h-43.38zM477.25 981.99h14.46v1.5h-14.46zM506.17 981.99h101.23v1.5h-101.23zM43.4 983.49h43.38v1.5h-43.38zM159.09 983.49h14.46v1.5h-14.46zM188.02 983.49h14.46v1.5h-14.46zM289.25 983.49h14.46v1.5h-14.46zM390.48 983.49h14.46v1.5h-14.46zM477.25 983.49h14.46v1.5h-14.46zM535.09 983.49h72.31v1.5h-72.31zM43.4 984.99h43.38v1.5h-43.38zM173.55 984.99h14.46v1.5h-14.46zM202.48 984.99h14.46v1.5h-14.46zM260.32 984.99h14.46v1.5h-14.46zM303.71 984.99h14.46v1.5h-14.46zM491.71 984.99h28.92v1.5h-28.92zM535.09 984.99h14.46v1.5h-14.46zM564.02 984.99h28.92v1.5h-28.92zM57.86 986.49h28.92v1.5h-28.92zM130.17 986.49h28.92v1.5h-28.92zM173.55 986.49h14.46v1.5h-14.46zM216.94 986.49h28.92v1.5h-28.92zM260.32 986.49h14.46v1.5h-14.46zM303.71 986.49h14.46v1.5h-14.46zM477.25 986.49h130.15v1.5h-130.15zM43.4 987.99h43.38v1.5h-43.38zM130.17 987.99h86.77v1.5h-86.77zM231.4 987.99h43.38v1.5h-43.38zM289.25 987.99h28.92v1.5h-28.92zM477.25 987.99h115.69v1.5h-115.69zM72.32 989.49h14.46v1.5h-14.46zM159.09 989.49h14.46v1.5h-14.46zM188.02 989.49h28.92v1.5h-28.92zM289.25 989.49h28.92v1.5h-28.92zM347.09 989.49h14.46v1.5h-14.46zM448.32 989.49h14.46v1.5h-14.46zM477.25 989.49h72.31v1.5h-72.31zM564.02 989.49h14.46v1.5h-14.46zM592.94 989.49h14.46v1.5h-14.46zM72.32 990.99h14.46v1.5h-14.46zM115.71 990.99h28.92v1.5h-28.92zM188.02 990.99h14.46v1.5h-14.46zM260.32 990.99h14.46v1.5h-14.46zM289.25 990.99h28.92v1.5h-28.92zM347.09 990.99h28.92v1.5h-28.92zM448.32 990.99h14.46v1.5h-14.46zM477.25 990.99h14.46v1.5h-14.46zM506.17 990.99h86.77v1.5h-86.77zM43.4 992.49h57.85v1.5h-57.85zM115.71 992.49h28.92v1.5h-28.92zM274.78 992.49h28.92v1.5h-28.92zM477.25 992.49h43.38v1.5h-43.38zM535.09 992.49h72.31v1.5h-72.31zM43.4 993.99h43.38v1.5h-43.38zM101.25 993.99h14.46v1.5h-14.46zM130.17 993.99h14.46v1.5h-14.46zM289.25 993.99h28.92v1.5h-28.92zM477.25 993.99h14.46v1.5h-14.46zM506.17 993.99h14.46v1.5h-14.46zM535.09 993.99h28.92v1.5h-28.92zM578.48 993.99h28.92v1.5h-28.92zM43.4 995.49h43.38v1.5h-43.38zM130.17 995.49h14.46v1.5h-14.46zM188.02 995.49h14.46v1.5h-14.46zM216.94 995.49h14.46v1.5h-14.46zM289.25 995.49h28.92v1.5h-28.92zM506.17 995.49h14.46v1.5h-14.46zM549.55 995.49h14.46v1.5h-14.46zM592.94 995.49h14.46v1.5h-14.46zM43.4 997h43.38v1.5h-43.38zM115.71 997h28.92v1.5h-28.92zM173.55 997h28.92v1.5h-28.92zM231.4 997h14.46v1.5h-14.46zM289.25 997h28.92v1.5h-28.92zM506.17 997h57.85v1.5h-57.85zM592.94 997h14.46v1.5h-14.46zM43.4 998.5h43.38v1.5h-43.38zM115.71 998.5h14.46v1.5h-14.46zM173.55 998.5h14.46v1.5h-14.46zM231.4 998.5h14.46v1.5h-14.46zM260.32 998.5h14.46v1.5h-14.46zM506.17 998.5h43.38v1.5h-43.38zM592.94 998.5h14.46v1.5h-14.46zM43.4 1000h43.38v1.5h-43.38zM159.09 1000h14.46v1.5h-14.46zM231.4 1000h14.46v1.5h-14.46zM260.32 1000h14.46v1.5h-14.46zM289.25 1000h28.92v1.5h-28.92zM43.4 1001.5h43.38v1.5h-43.38zM130.17 1001.5h43.38v1.5h-43.38zM188.02 1001.5h57.85v1.5h-57.85zM289.25 1001.5h28.92v1.5h-28.92zM477.25 1001.5h14.46v1.5h-14.46zM506.17 1001.5h14.46v1.5h-14.46zM549.55 1001.5h14.46v1.5h-14.46zM592.94 1001.5h14.46v1.5h-14.46zM72.32 1003h14.46v1.5h-14.46zM173.55 1003h28.92v1.5h-28.92zM216.94 1003h14.46v1.5h-14.46zM289.25 1003h28.92v1.5h-28.92zM592.94 1003h14.46v1.5h-14.46zM159.09 1004.5h28.92v1.5h-28.92zM274.78 1004.5h43.38v1.5h-43.38zM549.55 1004.5h14.46v1.5h-14.46zM578.48 1004.5h28.92v1.5h-28.92zM159.09 1006h43.38v1.5h-43.38zM216.94 1006h43.38v1.5h-43.38zM289.25 1006h28.92v1.5h-28.92zM477.25 1006h14.46v1.5h-14.46zM578.48 1006h28.92v1.5h-28.92zM57.86 1007.5h14.46v1.5h-14.46zM130.17 1007.5h14.46v1.5h-14.46zM231.4 1007.5h14.46v1.5h-14.46zM274.78 1007.5h14.46v1.5h-14.46zM477.25 1007.5h86.77v1.5h-86.77zM578.48 1007.5h28.92v1.5h-28.92zM43.4 1009h43.38v1.5h-43.38zM260.32 1009h14.46v1.5h-14.46zM289.25 1009h28.92v1.5h-28.92zM477.25 1009h86.77v1.5h-86.77zM578.48 1009h28.92v1.5h-28.92zM43.4 1010.5h14.46v1.5h-14.46zM188.02 1010.5h14.46v1.5h-14.46zM289.25 1010.5h28.92v1.5h-28.92zM477.25 1010.5h14.46v1.5h-14.46zM506.17 1010.5h72.31v1.5h-72.31zM43.4 1012h57.85v1.5h-57.85zM130.17 1012h14.46v1.5h-14.46zM289.25 1012h14.46v1.5h-14.46zM477.25 1012h28.92v1.5h-28.92zM520.63 1012h86.77v1.5h-86.77zM43.4 1013.5h43.38v1.5h-43.38zM101.25 1013.5h14.46v1.5h-14.46zM216.94 1013.5h43.38v1.5h-43.38zM274.78 1013.5h14.46v1.5h-14.46zM303.71 1013.5h14.46v1.5h-14.46zM477.25 1013.5h28.92v1.5h-28.92zM520.63 1013.5h43.38v1.5h-43.38zM578.48 1013.5h14.46v1.5h-14.46zM43.4 1015.01h43.38v1.5h-43.38zM173.55 1015.01h14.46v1.5h-14.46zM231.4 1015.01h28.92v1.5h-28.92zM274.78 1015.01h28.92v1.5h-28.92zM477.25 1015.01h86.77v1.5h-86.77zM578.48 1015.01h28.92v1.5h-28.92zM43.4 1016.51h43.38v1.5h-43.38zM274.78 1016.51h43.38v1.5h-43.38zM477.25 1016.51h14.46v1.5h-14.46zM520.63 1016.51h86.77v1.5h-86.77zM43.4 1018.01h14.46v1.5h-14.46zM72.32 1018.01h14.46v1.5h-14.46zM130.17 1018.01h14.46v1.5h-14.46zM245.86 1018.01h14.46v1.5h-14.46zM289.25 1018.01h28.92v1.5h-28.92zM477.25 1018.01h14.46v1.5h-14.46zM520.63 1018.01h86.77v1.5h-86.77zM72.32 1019.51h14.46v1.5h-14.46zM130.17 1019.51h14.46v1.5h-14.46zM188.02 1019.51h14.46v1.5h-14.46zM274.78 1019.51h43.38v1.5h-43.38zM433.86 1019.51h14.46v1.5h-14.46zM520.63 1019.51h57.85v1.5h-57.85zM592.94 1019.51h14.46v1.5h-14.46zM43.4 1021.01h43.38v1.5h-43.38zM130.17 1021.01h14.46v1.5h-14.46zM289.25 1021.01h28.92v1.5h-28.92zM347.09 1021.01h14.46v1.5h-14.46zM477.25 1021.01h72.31v1.5h-72.31zM564.02 1021.01h43.38v1.5h-43.38zM43.4 1022.51h28.92v1.5h-28.92zM86.78 1022.51h43.38v1.5h-43.38zM274.78 1022.51h43.38v1.5h-43.38zM477.25 1022.51h86.77v1.5h-86.77zM578.48 1022.51h28.92v1.5h-28.92zM43.4 1024.01h14.46v1.5h-14.46zM72.32 1024.01h14.46v1.5h-14.46zM173.55 1024.01h14.46v1.5h-14.46zM216.94 1024.01h14.46v1.5h-14.46zM289.25 1024.01h28.92v1.5h-28.92zM390.48 1024.01h14.46v1.5h-14.46zM477.25 1024.01h86.77v1.5h-86.77zM578.48 1024.01h28.92v1.5h-28.92zM43.4 1025.51h43.38v1.5h-43.38zM216.94 1025.51h14.46v1.5h-14.46zM289.25 1025.51h28.92v1.5h-28.92zM404.94 1025.51h14.46v1.5h-14.46zM462.78 1025.51h14.46v1.5h-14.46zM491.71 1025.51h28.92v1.5h-28.92zM535.09 1025.51h72.31v1.5h-72.31zM43.4 1027.01h43.38v1.5h-43.38zM289.25 1027.01h28.92v1.5h-28.92zM477.25 1027.01h101.23v1.5h-101.23zM43.4 1028.51h14.46v1.5h-14.46zM86.78 1028.51h28.92v1.5h-28.92zM144.63 1028.51h14.46v1.5h-14.46zM231.4 1028.51h14.46v1.5h-14.46zM274.78 1028.51h14.46v1.5h-14.46zM477.25 1028.51h115.69v1.5h-115.69zM43.4 1030.01h14.46v1.5h-14.46zM86.78 1030.01h43.38v1.5h-43.38zM144.63 1030.01h14.46v1.5h-14.46zM173.55 1030.01h14.46v1.5h-14.46zM202.48 1030.01h14.46v1.5h-14.46zM260.32 1030.01h14.46v1.5h-14.46zM289.25 1030.01h28.92v1.5h-28.92zM477.25 1030.01h14.46v1.5h-14.46zM506.17 1030.01h14.46v1.5h-14.46zM535.09 1030.01h28.92v1.5h-28.92zM86.78 1031.51h28.92v1.5h-28.92zM144.63 1031.51h14.46v1.5h-14.46zM274.78 1031.51h14.46v1.5h-14.46zM477.25 1031.51h43.38v1.5h-43.38zM535.09 1031.51h28.92v1.5h-28.92zM578.48 1031.51h28.92v1.5h-28.92zM43.4 1033.02h101.23v1.5h-101.23zM216.94 1033.02h57.85v1.5h-57.85zM477.25 1033.02h14.46v1.5h-14.46zM506.17 1033.02h14.46v1.5h-14.46zM535.09 1033.02h28.92v1.5h-28.92zM592.94 1033.02h14.46v1.5h-14.46zM43.4 1034.52h14.46v1.5h-14.46zM72.32 1034.52h14.46v1.5h-14.46zM144.63 1034.52h14.46v1.5h-14.46zM173.55 1034.52h14.46v1.5h-14.46zM231.4 1034.52h14.46v1.5h-14.46zM564.02 1034.52h14.46v1.5h-14.46zM592.94 1034.52h14.46v1.5h-14.46zM43.4 1036.02h43.38v1.5h-43.38zM101.25 1036.02h14.46v1.5h-14.46zM144.63 1036.02h14.46v1.5h-14.46zM564.02 1036.02h14.46v1.5h-14.46zM592.94 1036.02h14.46v1.5h-14.46zM43.4 1037.52h86.77v1.5h-86.77zM144.63 1037.52h28.92v1.5h-28.92zM216.94 1037.52h14.46v1.5h-14.46zM260.32 1037.52h14.46v1.5h-14.46zM390.48 1037.52h14.46v1.5h-14.46zM477.25 1037.52h14.46v1.5h-14.46zM506.17 1037.52h28.92v1.5h-28.92zM549.55 1037.52h28.92v1.5h-28.92zM592.94 1037.52h14.46v1.5h-14.46zM43.4 1039.02h28.92v1.5h-28.92zM86.78 1039.02h14.46v1.5h-14.46zM115.71 1039.02h43.38v1.5h-43.38zM477.25 1039.02h14.46v1.5h-14.46zM506.17 1039.02h14.46v1.5h-14.46zM578.48 1039.02h28.92v1.5h-28.92zM43.4 1040.52h57.85v1.5h-57.85zM202.48 1040.52h14.46v1.5h-14.46zM477.25 1040.52h14.46v1.5h-14.46zM535.09 1040.52h14.46v1.5h-14.46zM43.4 1042.02h86.77v1.5h-86.77zM144.63 1042.02h14.46v1.5h-14.46zM173.55 1042.02h28.92v1.5h-28.92zM216.94 1042.02h28.92v1.5h-28.92zM260.32 1042.02h14.46v1.5h-14.46zM477.25 1042.02h14.46v1.5h-14.46zM43.4 1043.52h57.85v1.5h-57.85zM144.63 1043.52h14.46v1.5h-14.46zM173.55 1043.52h14.46v1.5h-14.46zM231.4 1043.52h14.46v1.5h-14.46zM477.25 1043.52h28.92v1.5h-28.92zM535.09 1043.52h28.92v1.5h-28.92zM43.4 1045.02h14.46v1.5h-14.46zM72.32 1045.02h28.92v1.5h-28.92zM144.63 1045.02h14.46v1.5h-14.46zM376.02 1045.02h14.46v1.5h-14.46zM477.25 1045.02h57.85v1.5h-57.85zM549.55 1045.02h14.46v1.5h-14.46zM578.48 1045.02h14.46v1.5h-14.46zM43.4 1046.52h43.38v1.5h-43.38zM144.63 1046.52h14.46v1.5h-14.46zM318.17 1046.52h14.46v1.5h-14.46zM491.71 1046.52h43.38v1.5h-43.38zM549.55 1046.52h14.46v1.5h-14.46zM578.48 1046.52h28.92v1.5h-28.92zM43.4 1048.02h14.46v1.5h-14.46zM144.63 1048.02h14.46v1.5h-14.46zM332.63 1048.02h14.46v1.5h-14.46zM448.32 1048.02h14.46v1.5h-14.46zM477.25 1048.02h43.38v1.5h-43.38zM535.09 1048.02h72.31v1.5h-72.31zM43.4 1049.52h43.38v1.5h-43.38zM115.71 1049.52h14.46v1.5h-14.46zM477.25 1049.52h14.46v1.5h-14.46zM506.17 1049.52h14.46v1.5h-14.46zM535.09 1049.52h72.31v1.5h-72.31zM43.4 1051.03h43.38v1.5h-43.38zM144.63 1051.03h14.46v1.5h-14.46zM318.17 1051.03h14.46v1.5h-14.46zM404.94 1051.03h14.46v1.5h-14.46zM477.25 1051.03h14.46v1.5h-14.46zM506.17 1051.03h14.46v1.5h-14.46zM535.09 1051.03h72.31v1.5h-72.31zM43.4 1052.53h43.38v1.5h-43.38zM115.71 1052.53h14.46v1.5h-14.46zM260.32 1052.53h14.46v1.5h-14.46zM361.55 1052.53h14.46v1.5h-14.46zM477.25 1052.53h130.15v1.5h-130.15zM43.4 1054.03h43.38v1.5h-43.38zM144.63 1054.03h14.46v1.5h-14.46zM202.48 1054.03h28.92v1.5h-28.92zM260.32 1054.03h14.46v1.5h-14.46zM491.71 1054.03h115.69v1.5h-115.69zM57.86 1055.53h28.92v1.5h-28.92zM144.63 1055.53h14.46v1.5h-14.46zM216.94 1055.53h14.46v1.5h-14.46zM260.32 1055.53h14.46v1.5h-14.46zM477.25 1055.53h130.15v1.5h-130.15zM43.4 1057.03h43.38v1.5h-43.38zM144.63 1057.03h14.46v1.5h-14.46zM216.94 1057.03h28.92v1.5h-28.92zM477.25 1057.03h130.15v1.5h-130.15zM43.4 1058.53h43.38v1.5h-43.38zM144.63 1058.53h14.46v1.5h-14.46zM245.86 1058.53h14.46v1.5h-14.46zM477.25 1058.53h130.15v1.5h-130.15zM43.4 1060.03h43.38v1.5h-43.38zM144.63 1060.03h14.46v1.5h-14.46zM173.55 1060.03h28.92v1.5h-28.92zM216.94 1060.03h14.46v1.5h-14.46zM477.25 1060.03h130.15v1.5h-130.15zM43.4 1061.53h43.38v1.5h-43.38zM144.63 1061.53h14.46v1.5h-14.46zM188.02 1061.53h43.38v1.5h-43.38zM245.86 1061.53h14.46v1.5h-14.46zM477.25 1061.53h130.15v1.5h-130.15zM57.86 1063.03h28.92v1.5h-28.92zM144.63 1063.03h14.46v1.5h-14.46zM216.94 1063.03h14.46v1.5h-14.46zM245.86 1063.03h14.46v1.5h-14.46zM477.25 1063.03h130.15v1.5h-130.15zM144.63 1064.53h14.46v1.5h-14.46zM202.48 1064.53h14.46v1.5h-14.46zM231.4 1064.53h28.92v1.5h-28.92zM289.25 1064.53h14.46v1.5h-14.46zM477.25 1064.53h130.15v1.5h-130.15zM57.86 1066.03h28.92v1.5h-28.92zM144.63 1066.03h14.46v1.5h-14.46zM188.02 1066.03h14.46v1.5h-14.46zM289.25 1066.03h14.46v1.5h-14.46zM477.25 1066.03h130.15v1.5h-130.15zM43.4 1067.53h43.38v1.5h-43.38zM144.63 1067.53h28.92v1.5h-28.92zM318.17 1067.53h14.46v1.5h-14.46zM477.25 1067.53h130.15v1.5h-130.15zM43.4 1069.04h14.46v1.5h-14.46zM72.32 1069.04h14.46v1.5h-14.46zM144.63 1069.04h14.46v1.5h-14.46zM188.02 1069.04h14.46v1.5h-14.46zM216.94 1069.04h28.92v1.5h-28.92zM260.32 1069.04h14.46v1.5h-14.46zM477.25 1069.04h130.15v1.5h-130.15zM43.4 1070.54h57.85v1.5h-57.85zM115.71 1070.54h14.46v1.5h-14.46zM144.63 1070.54h14.46v1.5h-14.46zM477.25 1070.54h130.15v1.5h-130.15zM144.63 1072.04h14.46v1.5h-14.46zM173.55 1072.04h28.92v1.5h-28.92zM216.94 1072.04h28.92v1.5h-28.92zM260.32 1072.04h14.46v1.5h-14.46zM318.17 1072.04h14.46v1.5h-14.46zM477.25 1072.04h130.15v1.5h-130.15zM43.4 1073.54h28.92v1.5h-28.92zM231.4 1073.54h14.46v1.5h-14.46zM477.25 1073.54h72.31v1.5h-72.31zM564.02 1073.54h43.38v1.5h-43.38zM43.4 1075.04h43.38v1.5h-43.38zM144.63 1075.04h14.46v1.5h-14.46zM216.94 1075.04h14.46v1.5h-14.46zM260.32 1075.04h14.46v1.5h-14.46zM477.25 1075.04h14.46v1.5h-14.46zM506.17 1075.04h101.23v1.5h-101.23zM43.4 1076.54h28.92v1.5h-28.92zM144.63 1076.54h14.46v1.5h-14.46zM274.78 1076.54h14.46v1.5h-14.46zM303.71 1076.54h14.46v1.5h-14.46zM477.25 1076.54h28.92v1.5h-28.92zM520.63 1076.54h86.77v1.5h-86.77zM43.4 1078.04h14.46v1.5h-14.46zM144.63 1078.04h28.92v1.5h-28.92zM274.78 1078.04h28.92v1.5h-28.92zM462.78 1078.04h144.62v1.5h-144.62zM43.4 1079.54h14.46v1.5h-14.46zM72.32 1079.54h14.46v1.5h-14.46zM144.63 1079.54h43.38v1.5h-43.38zM245.86 1079.54h14.46v1.5h-14.46zM477.25 1079.54h130.15v1.5h-130.15zM43.4 1081.04h43.38v1.5h-43.38zM144.63 1081.04h130.15v1.5h-130.15zM477.25 1081.04h14.46v1.5h-14.46zM506.17 1081.04h101.23v1.5h-101.23zM43.4 1082.54h57.85v1.5h-57.85zM144.63 1082.54h43.38v1.5h-43.38zM202.48 1082.54h14.46v1.5h-14.46zM231.4 1082.54h14.46v1.5h-14.46zM260.32 1082.54h43.38v1.5h-43.38zM477.25 1082.54h130.15v1.5h-130.15zM43.4 1084.04h43.38v1.5h-43.38zM144.63 1084.04h14.46v1.5h-14.46zM231.4 1084.04h14.46v1.5h-14.46zM477.25 1084.04h130.15v1.5h-130.15zM144.63 1085.54h43.38v1.5h-43.38zM477.25 1085.54h130.15v1.5h-130.15zM43.4 1087.05h43.38v1.5h-43.38zM144.63 1087.05h14.46v1.5h-14.46zM376.02 1087.05h14.46v1.5h-14.46zM477.25 1087.05h130.15v1.5h-130.15zM43.4 1088.55h43.38v1.5h-43.38zM231.4 1088.55h14.46v1.5h-14.46zM274.78 1088.55h43.38v1.5h-43.38zM477.25 1088.55h130.15v1.5h-130.15zM43.4 1090.05h86.77v1.5h-86.77zM231.4 1090.05h14.46v1.5h-14.46zM433.86 1090.05h14.46v1.5h-14.46zM477.25 1090.05h130.15v1.5h-130.15zM43.4 1091.55h72.31v1.5h-72.31zM144.63 1091.55h43.38v1.5h-43.38zM477.25 1091.55h130.15v1.5h-130.15zM57.86 1093.05h57.85v1.5h-57.85zM144.63 1093.05h14.46v1.5h-14.46zM274.78 1093.05h14.46v1.5h-14.46zM477.25 1093.05h101.23v1.5h-101.23zM592.94 1093.05h14.46v1.5h-14.46zM57.86 1094.55h72.31v1.5h-72.31zM144.63 1094.55h72.31v1.5h-72.31zM231.4 1094.55h14.46v1.5h-14.46zM535.09 1094.55h14.46v1.5h-14.46zM564.02 1094.55h28.92v1.5h-28.92zM86.78 1096.05h43.38v1.5h-43.38zM144.63 1096.05h14.46v1.5h-14.46zM173.55 1096.05h14.46v1.5h-14.46zM274.78 1096.05h14.46v1.5h-14.46zM506.17 1096.05h43.38v1.5h-43.38zM564.02 1096.05h28.92v1.5h-28.92zM86.78 1097.55h14.46v1.5h-14.46zM115.71 1097.55h43.38v1.5h-43.38zM245.86 1097.55h43.38v1.5h-43.38zM506.17 1097.55h28.92v1.5h-28.92zM549.55 1097.55h14.46v1.5h-14.46zM578.48 1097.55h28.92v1.5h-28.92zM86.78 1099.05h43.38v1.5h-43.38zM144.63 1099.05h14.46v1.5h-14.46zM188.02 1099.05h14.46v1.5h-14.46zM274.78 1099.05h14.46v1.5h-14.46zM332.63 1099.05h14.46v1.5h-14.46zM433.86 1099.05h14.46v1.5h-14.46zM477.25 1099.05h14.46v1.5h-14.46zM506.17 1099.05h28.92v1.5h-28.92zM564.02 1099.05h43.38v1.5h-43.38zM86.78 1100.55h43.38v1.5h-43.38zM144.63 1100.55h14.46v1.5h-14.46zM173.55 1100.55h28.92v1.5h-28.92zM216.94 1100.55h28.92v1.5h-28.92zM260.32 1100.55h28.92v1.5h-28.92zM318.17 1100.55h14.46v1.5h-14.46zM347.09 1100.55h14.46v1.5h-14.46zM376.02 1100.55h28.92v1.5h-28.92zM448.32 1100.55h14.46v1.5h-14.46zM535.09 1100.55h14.46v1.5h-14.46zM86.78 1102.05h43.38v1.5h-43.38zM144.63 1102.05h14.46v1.5h-14.46zM188.02 1102.05h57.85v1.5h-57.85zM303.71 1102.05h28.92v1.5h-28.92zM361.55 1102.05h57.85v1.5h-57.85zM448.32 1102.05h14.46v1.5h-14.46zM86.78 1103.55h43.38v1.5h-43.38zM144.63 1103.55h14.46v1.5h-14.46zM188.02 1103.55h43.38v1.5h-43.38zM289.25 1103.55h43.38v1.5h-43.38zM347.09 1103.55h14.46v1.5h-14.46zM376.02 1103.55h14.46v1.5h-14.46zM404.94 1103.55h28.92v1.5h-28.92zM477.25 1103.55h14.46v1.5h-14.46zM535.09 1103.55h28.92v1.5h-28.92zM578.48 1103.55h28.92v1.5h-28.92zM86.78 1105.06h43.38v1.5h-43.38zM144.63 1105.06h14.46v1.5h-14.46zM188.02 1105.06h14.46v1.5h-14.46zM245.86 1105.06h14.46v1.5h-14.46zM274.78 1105.06h43.38v1.5h-43.38zM347.09 1105.06h14.46v1.5h-14.46zM376.02 1105.06h14.46v1.5h-14.46zM433.86 1105.06h14.46v1.5h-14.46zM592.94 1105.06h14.46v1.5h-14.46zM86.78 1106.56h43.38v1.5h-43.38zM144.63 1106.56h14.46v1.5h-14.46zM274.78 1106.56h57.85v1.5h-57.85zM347.09 1106.56h14.46v1.5h-14.46zM390.48 1106.56h14.46v1.5h-14.46zM448.32 1106.56h28.92v1.5h-28.92zM506.17 1106.56h14.46v1.5h-14.46zM535.09 1106.56h28.92v1.5h-28.92zM578.48 1106.56h28.92v1.5h-28.92zM72.32 1108.06h57.85v1.5h-57.85zM144.63 1108.06h14.46v1.5h-14.46zM318.17 1108.06h14.46v1.5h-14.46zM347.09 1108.06h28.92v1.5h-28.92zM448.32 1108.06h43.38v1.5h-43.38zM506.17 1108.06h14.46v1.5h-14.46zM535.09 1108.06h14.46v1.5h-14.46zM564.02 1108.06h43.38v1.5h-43.38zM86.78 1109.56h57.85v1.5h-57.85zM173.55 1109.56h14.46v1.5h-14.46zM202.48 1109.56h14.46v1.5h-14.46zM274.78 1109.56h14.46v1.5h-14.46zM433.86 1109.56h28.92v1.5h-28.92zM477.25 1109.56h14.46v1.5h-14.46zM86.78 1111.06h28.92v1.5h-28.92zM144.63 1111.06h14.46v1.5h-14.46zM202.48 1111.06h14.46v1.5h-14.46zM231.4 1111.06h14.46v1.5h-14.46zM260.32 1111.06h28.92v1.5h-28.92zM390.48 1111.06h14.46v1.5h-14.46zM506.17 1111.06h14.46v1.5h-14.46zM86.78 1112.56h14.46v1.5h-14.46zM115.71 1112.56h14.46v1.5h-14.46zM144.63 1112.56h57.85v1.5h-57.85zM216.94 1112.56h14.46v1.5h-14.46zM318.17 1112.56h14.46v1.5h-14.46zM433.86 1112.56h14.46v1.5h-14.46zM477.25 1112.56h14.46v1.5h-14.46zM506.17 1112.56h14.46v1.5h-14.46zM578.48 1112.56h14.46v1.5h-14.46zM86.78 1114.06h43.38v1.5h-43.38zM144.63 1114.06h28.92v1.5h-28.92zM231.4 1114.06h43.38v1.5h-43.38zM318.17 1114.06h14.46v1.5h-14.46zM433.86 1114.06h14.46v1.5h-14.46zM506.17 1114.06h14.46v1.5h-14.46zM535.09 1114.06h14.46v1.5h-14.46zM564.02 1114.06h14.46v1.5h-14.46zM86.78 1115.56h28.92v1.5h-28.92zM144.63 1115.56h14.46v1.5h-14.46zM202.48 1115.56h28.92v1.5h-28.92zM289.25 1115.56h14.46v1.5h-14.46zM477.25 1115.56h14.46v1.5h-14.46zM43.4 1117.06h43.38v1.5h-43.38zM101.25 1117.06h14.46v1.5h-14.46zM130.17 1117.06h43.38v1.5h-43.38zM202.48 1117.06h14.46v1.5h-14.46zM231.4 1117.06h43.38v1.5h-43.38zM303.71 1117.06h14.46v1.5h-14.46zM57.86 1118.56h28.92v1.5h-28.92zM144.63 1118.56h14.46v1.5h-14.46zM188.02 1118.56h14.46v1.5h-14.46zM231.4 1118.56h43.38v1.5h-43.38zM289.25 1118.56h28.92v1.5h-28.92zM535.09 1118.56h14.46v1.5h-14.46zM43.4 1120.06h14.46v1.5h-14.46zM72.32 1120.06h86.77v1.5h-86.77zM173.55 1120.06h14.46v1.5h-14.46zM231.4 1120.06h14.46v1.5h-14.46zM260.32 1120.06h57.85v1.5h-57.85zM535.09 1120.06h14.46v1.5h-14.46zM43.4 1121.57h115.69v1.5h-115.69zM260.32 1121.57h57.85v1.5h-57.85zM491.71 1121.57h14.46v1.5h-14.46zM43.4 1123.07h57.85v1.5h-57.85zM130.17 1123.07h43.38v1.5h-43.38zM188.02 1123.07h130.15v1.5h-130.15zM477.25 1123.07h14.46v1.5h-14.46zM592.94 1123.07h14.46v1.5h-14.46zM43.4 1124.57h43.38v1.5h-43.38zM144.63 1124.57h43.38v1.5h-43.38zM202.48 1124.57h43.38v1.5h-43.38zM260.32 1124.57h43.38v1.5h-43.38zM578.48 1124.57h28.92v1.5h-28.92zM57.86 1126.07h14.46v1.5h-14.46zM144.63 1126.07h14.46v1.5h-14.46zM188.02 1126.07h115.69v1.5h-115.69zM506.17 1126.07h14.46v1.5h-14.46zM578.48 1126.07h14.46v1.5h-14.46zM57.86 1127.57h28.92v1.5h-28.92zM144.63 1127.57h14.46v1.5h-14.46zM173.55 1127.57h14.46v1.5h-14.46zM202.48 1127.57h14.46v1.5h-14.46zM274.78 1127.57h14.46v1.5h-14.46zM303.71 1127.57h14.46v1.5h-14.46zM448.32 1127.57h14.46v1.5h-14.46zM506.17 1127.57h14.46v1.5h-14.46zM549.55 1127.57h28.92v1.5h-28.92zM592.94 1127.57h14.46v1.5h-14.46zM57.86 1129.07h14.46v1.5h-14.46zM130.17 1129.07h72.31v1.5h-72.31zM216.94 1129.07h14.46v1.5h-14.46zM245.86 1129.07h28.92v1.5h-28.92zM303.71 1129.07h14.46v1.5h-14.46zM332.63 1129.07h14.46v1.5h-14.46zM506.17 1129.07h14.46v1.5h-14.46zM592.94 1129.07h14.46v1.5h-14.46zM43.4 1130.57h43.38v1.5h-43.38zM130.17 1130.57h14.46v1.5h-14.46zM159.09 1130.57h14.46v1.5h-14.46zM216.94 1130.57h28.92v1.5h-28.92zM274.78 1130.57h14.46v1.5h-14.46zM303.71 1130.57h14.46v1.5h-14.46zM347.09 1130.57h28.92v1.5h-28.92zM535.09 1130.57h14.46v1.5h-14.46zM592.94 1130.57h14.46v1.5h-14.46zM57.86 1132.07h28.92v1.5h-28.92zM130.17 1132.07h57.85v1.5h-57.85zM216.94 1132.07h28.92v1.5h-28.92zM274.78 1132.07h14.46v1.5h-14.46zM303.71 1132.07h14.46v1.5h-14.46zM477.25 1132.07h72.31v1.5h-72.31zM43.4 1133.57h28.92v1.5h-28.92zM130.17 1133.57h14.46v1.5h-14.46zM159.09 1133.57h101.23v1.5h-101.23zM274.78 1133.57h43.38v1.5h-43.38zM477.25 1133.57h14.46v1.5h-14.46zM506.17 1133.57h14.46v1.5h-14.46zM535.09 1133.57h28.92v1.5h-28.92zM43.4 1135.07h43.38v1.5h-43.38zM130.17 1135.07h43.38v1.5h-43.38zM188.02 1135.07h14.46v1.5h-14.46zM245.86 1135.07h14.46v1.5h-14.46zM274.78 1135.07h43.38v1.5h-43.38zM390.48 1135.07h14.46v1.5h-14.46zM462.78 1135.07h28.92v1.5h-28.92zM549.55 1135.07h14.46v1.5h-14.46zM43.4 1136.57h86.77v1.5h-86.77zM144.63 1136.57h28.92v1.5h-28.92zM188.02 1136.57h28.92v1.5h-28.92zM231.4 1136.57h14.46v1.5h-14.46zM274.78 1136.57h43.38v1.5h-43.38zM448.32 1136.57h14.46v1.5h-14.46zM477.25 1136.57h14.46v1.5h-14.46zM506.17 1136.57h14.46v1.5h-14.46zM549.55 1136.57h14.46v1.5h-14.46zM43.4 1138.07h86.77v1.5h-86.77zM144.63 1138.07h14.46v1.5h-14.46zM188.02 1138.07h72.31v1.5h-72.31zM274.78 1138.07h14.46v1.5h-14.46zM477.25 1138.07h14.46v1.5h-14.46zM506.17 1138.07h14.46v1.5h-14.46zM549.55 1138.07h28.92v1.5h-28.92zM43.4 1139.57h86.77v1.5h-86.77zM144.63 1139.57h43.38v1.5h-43.38zM202.48 1139.57h28.92v1.5h-28.92zM245.86 1139.57h72.31v1.5h-72.31zM491.71 1139.57h14.46v1.5h-14.46zM549.55 1139.57h14.46v1.5h-14.46zM57.86 1141.08h72.31v1.5h-72.31zM274.78 1141.08h14.46v1.5h-14.46zM332.63 1141.08h14.46v1.5h-14.46zM462.78 1141.08h101.23v1.5h-101.23zM578.48 1141.08h28.92v1.5h-28.92zM43.4 1142.58h86.77v1.5h-86.77zM144.63 1142.58h14.46v1.5h-14.46zM274.78 1142.58h14.46v1.5h-14.46zM390.48 1142.58h28.92v1.5h-28.92zM448.32 1142.58h14.46v1.5h-14.46zM477.25 1142.58h28.92v1.5h-28.92zM535.09 1142.58h14.46v1.5h-14.46zM57.86 1144.08h72.31v1.5h-72.31zM144.63 1144.08h14.46v1.5h-14.46zM202.48 1144.08h14.46v1.5h-14.46zM231.4 1144.08h14.46v1.5h-14.46zM260.32 1144.08h72.31v1.5h-72.31zM361.55 1144.08h57.85v1.5h-57.85zM448.32 1144.08h28.92v1.5h-28.92zM520.63 1144.08h14.46v1.5h-14.46zM564.02 1144.08h14.46v1.5h-14.46zM72.32 1145.58h14.46v1.5h-14.46zM101.25 1145.58h28.92v1.5h-28.92zM245.86 1145.58h14.46v1.5h-14.46zM274.78 1145.58h57.85v1.5h-57.85zM462.78 1145.58h43.38v1.5h-43.38zM520.63 1145.58h43.38v1.5h-43.38zM578.48 1145.58h28.92v1.5h-28.92zM43.4 1147.08h86.77v1.5h-86.77zM144.63 1147.08h14.46v1.5h-14.46zM188.02 1147.08h28.92v1.5h-28.92zM289.25 1147.08h28.92v1.5h-28.92zM404.94 1147.08h14.46v1.5h-14.46zM477.25 1147.08h14.46v1.5h-14.46zM535.09 1147.08h43.38v1.5h-43.38zM43.4 1148.58h86.77v1.5h-86.77zM144.63 1148.58h28.92v1.5h-28.92zM188.02 1148.58h28.92v1.5h-28.92zM231.4 1148.58h14.46v1.5h-14.46zM260.32 1148.58h14.46v1.5h-14.46zM43.4 1150.08h28.92v1.5h-28.92zM101.25 1150.08h14.46v1.5h-14.46zM130.17 1150.08h28.92v1.5h-28.92zM202.48 1150.08h14.46v1.5h-14.46zM245.86 1150.08h14.46v1.5h-14.46zM404.94 1150.08h14.46v1.5h-14.46zM43.4 1151.58h86.77v1.5h-86.77zM144.63 1151.58h14.46v1.5h-14.46zM202.48 1151.58h28.92v1.5h-28.92zM260.32 1151.58h14.46v1.5h-14.46zM43.4 1153.08h14.46v1.5h-14.46zM72.32 1153.08h57.85v1.5h-57.85zM144.63 1153.08h14.46v1.5h-14.46zM173.55 1153.08h28.92v1.5h-28.92zM231.4 1153.08h14.46v1.5h-14.46zM260.32 1153.08h14.46v1.5h-14.46zM318.17 1153.08h14.46v1.5h-14.46zM404.94 1153.08h14.46v1.5h-14.46zM549.55 1153.08h14.46v1.5h-14.46zM43.4 1154.58h115.69v1.5h-115.69zM202.48 1154.58h28.92v1.5h-28.92zM404.94 1154.58h14.46v1.5h-14.46zM477.25 1154.58h28.92v1.5h-28.92zM549.55 1154.58h57.85v1.5h-57.85zM57.86 1156.08h14.46v1.5h-14.46zM86.78 1156.08h14.46v1.5h-14.46zM115.71 1156.08h28.92v1.5h-28.92zM202.48 1156.08h14.46v1.5h-14.46zM231.4 1156.08h28.92v1.5h-28.92zM289.25 1156.08h28.92v1.5h-28.92zM433.86 1156.08h28.92v1.5h-28.92zM535.09 1156.08h14.46v1.5h-14.46zM578.48 1156.08h14.46v1.5h-14.46zM57.86 1157.59h43.38v1.5h-43.38zM173.55 1157.59h28.92v1.5h-28.92zM289.25 1157.59h28.92v1.5h-28.92zM433.86 1157.59h28.92v1.5h-28.92zM535.09 1157.59h14.46v1.5h-14.46zM578.48 1157.59h14.46v1.5h-14.46zM57.86 1159.09h14.46v1.5h-14.46zM86.78 1159.09h14.46v1.5h-14.46zM115.71 1159.09h28.92v1.5h-28.92zM202.48 1159.09h14.46v1.5h-14.46zM245.86 1159.09h72.31v1.5h-72.31zM419.4 1159.09h14.46v1.5h-14.46zM448.32 1159.09h72.31v1.5h-72.31zM535.09 1159.09h28.92v1.5h-28.92zM592.94 1159.09h14.46v1.5h-14.46zM43.4 1160.59h86.77v1.5h-86.77zM159.09 1160.59h14.46v1.5h-14.46zM245.86 1160.59h14.46v1.5h-14.46zM274.78 1160.59h43.38v1.5h-43.38zM462.78 1160.59h115.69v1.5h-115.69zM592.94 1160.59h14.46v1.5h-14.46zM43.4 1162.09h14.46v1.5h-14.46zM86.78 1162.09h57.85v1.5h-57.85zM188.02 1162.09h14.46v1.5h-14.46zM260.32 1162.09h28.92v1.5h-28.92zM303.71 1162.09h14.46v1.5h-14.46zM404.94 1162.09h14.46v1.5h-14.46zM477.25 1162.09h86.77v1.5h-86.77zM578.48 1162.09h14.46v1.5h-14.46zM57.86 1163.59h14.46v1.5h-14.46zM86.78 1163.59h57.85v1.5h-57.85zM159.09 1163.59h43.38v1.5h-43.38zM216.94 1163.59h14.46v1.5h-14.46zM245.86 1163.59h28.92v1.5h-28.92zM289.25 1163.59h14.46v1.5h-14.46zM318.17 1163.59h14.46v1.5h-14.46zM347.09 1163.59h14.46v1.5h-14.46zM491.71 1163.59h86.77v1.5h-86.77zM43.4 1165.09h28.92v1.5h-28.92zM86.78 1165.09h14.46v1.5h-14.46zM130.17 1165.09h14.46v1.5h-14.46zM159.09 1165.09h14.46v1.5h-14.46zM188.02 1165.09h43.38v1.5h-43.38zM245.86 1165.09h14.46v1.5h-14.46zM274.78 1165.09h57.85v1.5h-57.85zM376.02 1165.09h14.46v1.5h-14.46zM433.86 1165.09h14.46v1.5h-14.46zM462.78 1165.09h14.46v1.5h-14.46zM506.17 1165.09h14.46v1.5h-14.46zM535.09 1165.09h14.46v1.5h-14.46zM43.4 1166.59h43.38v1.5h-43.38zM101.25 1166.59h28.92v1.5h-28.92zM159.09 1166.59h28.92v1.5h-28.92zM202.48 1166.59h14.46v1.5h-14.46zM245.86 1166.59h14.46v1.5h-14.46zM274.78 1166.59h14.46v1.5h-14.46zM303.71 1166.59h14.46v1.5h-14.46zM404.94 1166.59h14.46v1.5h-14.46zM462.78 1166.59h28.92v1.5h-28.92zM506.17 1166.59h28.92v1.5h-28.92zM549.55 1166.59h14.46v1.5h-14.46zM43.4 1168.09h28.92v1.5h-28.92zM159.09 1168.09h28.92v1.5h-28.92zM202.48 1168.09h43.38v1.5h-43.38zM260.32 1168.09h14.46v1.5h-14.46zM289.25 1168.09h28.92v1.5h-28.92zM332.63 1168.09h14.46v1.5h-14.46zM376.02 1168.09h14.46v1.5h-14.46zM433.86 1168.09h28.92v1.5h-28.92zM57.86 1169.59h28.92v1.5h-28.92zM159.09 1169.59h72.31v1.5h-72.31zM289.25 1169.59h28.92v1.5h-28.92zM361.55 1169.59h28.92v1.5h-28.92zM404.94 1169.59h14.46v1.5h-14.46zM448.32 1169.59h14.46v1.5h-14.46zM520.63 1169.59h14.46v1.5h-14.46zM57.86 1171.09h28.92v1.5h-28.92zM101.25 1171.09h14.46v1.5h-14.46zM130.17 1171.09h14.46v1.5h-14.46zM159.09 1171.09h72.31v1.5h-72.31zM245.86 1171.09h72.31v1.5h-72.31zM376.02 1171.09h14.46v1.5h-14.46zM448.32 1171.09h57.85v1.5h-57.85zM520.63 1171.09h57.85v1.5h-57.85zM43.4 1172.59h43.38v1.5h-43.38zM173.55 1172.59h14.46v1.5h-14.46zM202.48 1172.59h14.46v1.5h-14.46zM318.17 1172.59h14.46v1.5h-14.46zM419.4 1172.59h28.92v1.5h-28.92zM535.09 1172.59h28.92v1.5h-28.92zM57.86 1174.09h14.46v1.5h-14.46zM86.78 1174.09h14.46v1.5h-14.46zM130.17 1174.09h14.46v1.5h-14.46zM303.71 1174.09h14.46v1.5h-14.46zM477.25 1174.09h14.46v1.5h-14.46zM535.09 1174.09h14.46v1.5h-14.46zM43.4 1175.59h28.92v1.5h-28.92zM130.17 1175.59h14.46v1.5h-14.46zM173.55 1175.59h14.46v1.5h-14.46zM202.48 1175.59h14.46v1.5h-14.46zM231.4 1175.59h43.38v1.5h-43.38zM477.25 1175.59h28.92v1.5h-28.92zM535.09 1175.59h14.46v1.5h-14.46zM592.94 1175.59h14.46v1.5h-14.46zM43.4 1177.1h14.46v1.5h-14.46zM72.32 1177.1h14.46v1.5h-14.46zM130.17 1177.1h14.46v1.5h-14.46zM159.09 1177.1h28.92v1.5h-28.92zM231.4 1177.1h14.46v1.5h-14.46zM260.32 1177.1h14.46v1.5h-14.46zM289.25 1177.1h28.92v1.5h-28.92zM462.78 1177.1h57.85v1.5h-57.85zM535.09 1177.1h14.46v1.5h-14.46zM564.02 1177.1h14.46v1.5h-14.46zM592.94 1177.1h14.46v1.5h-14.46zM43.4 1178.6h43.38v1.5h-43.38zM101.25 1178.6h14.46v1.5h-14.46zM159.09 1178.6h14.46v1.5h-14.46zM188.02 1178.6h28.92v1.5h-28.92zM245.86 1178.6h28.92v1.5h-28.92zM477.25 1178.6h14.46v1.5h-14.46zM506.17 1178.6h14.46v1.5h-14.46zM535.09 1178.6h14.46v1.5h-14.46zM564.02 1178.6h14.46v1.5h-14.46zM43.4 1180.1h28.92v1.5h-28.92zM101.25 1180.1h14.46v1.5h-14.46zM159.09 1180.1h14.46v1.5h-14.46zM202.48 1180.1h43.38v1.5h-43.38zM274.78 1180.1h43.38v1.5h-43.38zM506.17 1180.1h14.46v1.5h-14.46zM535.09 1180.1h14.46v1.5h-14.46zM564.02 1180.1h28.92v1.5h-28.92zM57.86 1181.6h14.46v1.5h-14.46zM86.78 1181.6h28.92v1.5h-28.92zM130.17 1181.6h14.46v1.5h-14.46zM188.02 1181.6h14.46v1.5h-14.46zM245.86 1181.6h14.46v1.5h-14.46zM274.78 1181.6h28.92v1.5h-28.92zM506.17 1181.6h28.92v1.5h-28.92zM578.48 1181.6h28.92v1.5h-28.92zM57.86 1183.1h14.46v1.5h-14.46zM86.78 1183.1h43.38v1.5h-43.38zM173.55 1183.1h14.46v1.5h-14.46zM289.25 1183.1h14.46v1.5h-14.46zM318.17 1183.1h14.46v1.5h-14.46zM390.48 1183.1h28.92v1.5h-28.92zM448.32 1183.1h14.46v1.5h-14.46zM506.17 1183.1h28.92v1.5h-28.92zM549.55 1183.1h43.38v1.5h-43.38z"/>
<path fill="#DE2D26" d="M43.4 644.3h28.92v1.5h-28.92zM101.25 644.3h28.92v1.5h-28.92zM173.55 644.3h14.46v1.5h-14.46zM188.02 645.8h28.92v1.5h-28.92zM231.4 645.8h14.46v1.5h-14.46zM260.32 645.8h14.46v1.5h-14.46zM86.78 647.3h14.46v1.5h-14.46zM173.55 647.3h14.46v1.5h-14.46zM245.86 648.8h14.46v1.5h-14.46zM86.78 650.3h14.46v1.5h-14.46zM202.48 650.3h14.46v1.5h-14.46zM231.4 650.3h28.92v1.5h-28.92zM245.86 651.8h14.46v1.5h-14.46zM43.4 653.3h72.31v1.5h-72.31zM173.55 653.3h14.46v1.5h-14.46zM202.48 653.3h28.92v1.5h-28.92zM260.32 653.3h14.46v1.5h-14.46zM57.86 654.81h14.46v1.5h-14.46zM86.78 654.81h28.92v1.5h-28.92zM130.17 654.81h14.46v1.5h-14.46zM159.09 654.81h14.46v1.5h-14.46zM43.4 656.31h43.38v1.5h-43.38zM130.17 656.31h14.46v1.5h-14.46zM188.02 656.31h43.38v1.5h-43.38zM245.86 656.31h14.46v1.5h-14.46zM289.25 656.31h14.46v1.5h-14.46zM57.86 657.81h14.46v1.5h-14.46zM173.55 657.81h14.46v1.5h-14.46zM202.48 657.81h14.46v1.5h-14.46zM159.09 659.31h28.92v1.5h-28.92zM202.48 659.31h57.85v1.5h-57.85zM303.71 659.31h14.46v1.5h-14.46zM86.78 660.81h14.46v1.5h-14.46zM159.09 660.81h14.46v1.5h-14.46zM188.02 660.81h14.46v1.5h-14.46zM216.94 660.81h57.85v1.5h-57.85zM289.25 660.81h14.46v1.5h-14.46zM173.55 662.31h14.46v1.5h-14.46zM202.48 662.31h14.46v1.5h-14.46zM303.71 662.31h14.46v1.5h-14.46zM43.4 663.81h14.46v1.5h-14.46zM101.25 663.81h28.92v1.5h-28.92zM173.55 663.81h14.46v1.5h-14.46zM202.48 663.81h28.92v1.5h-28.92zM245.86 663.81h14.46v1.5h-14.46zM274.78 663.81h14.46v1.5h-14.46zM216.94 665.31h14.46v1.5h-14.46zM245.86 665.31h14.46v1.5h-14.46zM86.78 666.81h43.38v1.5h-43.38zM202.48 666.81h28.92v1.5h-28.92zM101.25 668.31h14.46v1.5h-14.46zM43.4 669.81h14.46v1.5h-14.46zM101.25 669.81h14.46v1.5h-14.46zM173.55 669.81h14.46v1.5h-14.46zM216.94 669.81h28.92v1.5h-28.92zM101.25 671.31h14.46v1.5h-14.46zM202.48 671.31h14.46v1.5h-14.46zM57.86 672.82h28.92v1.5h-28.92zM115.71 672.82h14.46v1.5h-14.46zM245.86 672.82h28.92v1.5h-28.92zM245.86 674.32h14.46v1.5h-14.46zM202.48 675.82h14.46v1.5h-14.46zM188.02 677.32h14.46v1.5h-14.46zM260.32 677.32h14.46v1.5h-14.46zM188.02 678.82h28.92v1.5h-28.92zM231.4 678.82h14.46v1.5h-14.46zM86.78 680.32h14.46v1.5h-14.46zM188.02 680.32h14.46v1.5h-14.46zM245.86 680.32h28.92v1.5h-28.92zM86.78 681.82h28.92v1.5h-28.92zM173.55 681.82h57.85v1.5h-57.85zM159.09 683.32h72.31v1.5h-72.31zM245.86 683.32h28.92v1.5h-28.92zM535.09 683.32h14.46v1.5h-14.46zM159.09 684.82h57.85v1.5h-57.85zM231.4 684.82h43.38v1.5h-43.38zM173.55 686.32h14.46v1.5h-14.46zM202.48 686.32h43.38v1.5h-43.38zM260.32 686.32h14.46v1.5h-14.46zM144.63 687.82h72.31v1.5h-72.31zM231.4 687.82h43.38v1.5h-43.38zM477.25 687.82h14.46v1.5h-14.46zM159.09 689.32h43.38v1.5h-43.38zM216.94 689.32h28.92v1.5h-28.92zM260.32 689.32h14.46v1.5h-14.46zM173.55 690.83h72.31v1.5h-72.31zM159.09 692.33h86.77v1.5h-86.77zM72.32 693.83h14.46v1.5h-14.46zM159.09 693.83h101.23v1.5h-101.23zM43.4 695.33h28.92v1.5h-28.92zM159.09 695.33h43.38v1.5h-43.38zM216.94 695.33h28.92v1.5h-28.92zM477.25 695.33h14.46v1.5h-14.46zM43.4 696.83h14.46v1.5h-14.46zM202.48 696.83h14.46v1.5h-14.46zM43.4 698.33h14.46v1.5h-14.46zM144.63 698.33h57.85v1.5h-57.85zM216.94 698.33h57.85v1.5h-57.85zM173.55 699.83h14.46v1.5h-14.46zM202.48 699.83h72.31v1.5h-72.31zM144.63 701.33h130.15v1.5h-130.15zM173.55 702.83h14.46v1.5h-14.46zM202.48 702.83h14.46v1.5h-14.46zM231.4 702.83h14.46v1.5h-14.46zM260.32 702.83h14.46v1.5h-14.46zM57.86 704.33h14.46v1.5h-14.46zM159.09 704.33h115.69v1.5h-115.69zM159.09 705.83h14.46v1.5h-14.46zM188.02 705.83h28.92v1.5h-28.92zM245.86 705.83h28.92v1.5h-28.92zM144.63 707.33h28.92v1.5h-28.92zM216.94 707.33h28.92v1.5h-28.92zM159.09 708.84h14.46v1.5h-14.46zM202.48 708.84h14.46v1.5h-14.46zM231.4 708.84h43.38v1.5h-43.38zM144.63 710.34h130.15v1.5h-130.15zM506.17 710.34h14.46v1.5h-14.46zM144.63 711.84h43.38v1.5h-43.38zM202.48 711.84h14.46v1.5h-14.46zM231.4 711.84h43.38v1.5h-43.38zM159.09 713.34h115.69v1.5h-115.69zM159.09 714.84h14.46v1.5h-14.46zM188.02 714.84h14.46v1.5h-14.46zM216.94 714.84h14.46v1.5h-14.46zM260.32 714.84h14.46v1.5h-14.46zM159.09 716.34h115.69v1.5h-115.69zM159.09 717.84h14.46v1.5h-14.46zM188.02 717.84h14.46v1.5h-14.46zM216.94 717.84h57.85v1.5h-57.85zM159.09 719.34h115.69v1.5h-115.69zM144.63 720.84h130.15v1.5h-130.15zM173.55 722.34h101.23v1.5h-101.23zM173.55 723.84h101.23v1.5h-101.23zM188.02 725.34h14.46v1.5h-14.46zM245.86 725.34h14.46v1.5h-14.46zM173.55 726.85h14.46v1.5h-14.46zM202.48 726.85h57.85v1.5h-57.85zM144.63 728.35h28.92v1.5h-28.92zM188.02 728.35h43.38v1.5h-43.38zM245.86 728.35h14.46v1.5h-14.46zM144.63 729.85h115.69v1.5h-115.69zM159.09 731.35h14.46v1.5h-14.46zM188.02 731.35h43.38v1.5h-43.38zM245.86 731.35h14.46v1.5h-14.46zM159.09 732.85h115.69v1.5h-115.69zM159.09 734.35h14.46v1.5h-14.46zM216.94 734.35h28.92v1.5h-28.92zM260.32 734.35h14.46v1.5h-14.46zM159.09 735.85h115.69v1.5h-115.69zM159.09 737.35h14.46v1.5h-14.46zM188.02 737.35h28.92v1.5h-28.92zM231.4 737.35h43.38v1.5h-43.38zM159.09 738.85h86.77v1.5h-86.77zM260.32 738.85h14.46v1.5h-14.46zM159.09 740.35h57.85v1.5h-57.85zM231.4 740.35h43.38v1.5h-43.38zM159.09 741.85h14.46v1.5h-14.46zM188.02 741.85h86.77v1.5h-86.77zM159.09 743.35h101.23v1.5h-101.23zM477.25 743.35h14.46v1.5h-14.46zM159.09 744.86h115.69v1.5h-115.69zM159.09 746.36h14.46v1.5h-14.46zM188.02 746.36h86.77v1.5h-86.77zM188.02 747.86h14.46v1.5h-14.46zM260.32 747.86h14.46v1.5h-14.46zM144.63 749.36h14.46v1.5h-14.46zM202.48 749.36h14.46v1.5h-14.46zM144.63 750.86h86.77v1.5h-86.77zM245.86 750.86h28.92v1.5h-28.92zM144.63 752.36h130.15v1.5h-130.15zM144.63 753.86h57.85v1.5h-57.85zM216.94 753.86h57.85v1.5h-57.85zM173.55 755.36h28.92v1.5h-28.92zM216.94 755.36h28.92v1.5h-28.92zM260.32 755.36h14.46v1.5h-14.46zM159.09 756.86h43.38v1.5h-43.38zM231.4 756.86h14.46v1.5h-14.46zM144.63 758.36h57.85v1.5h-57.85zM216.94 758.36h57.85v1.5h-57.85zM231.4 759.86h28.92v1.5h-28.92zM159.09 761.37h101.23v1.5h-101.23zM173.55 762.87h101.23v1.5h-101.23zM159.09 764.37h43.38v1.5h-43.38zM216.94 764.37h43.38v1.5h-43.38zM173.55 765.87h43.38v1.5h-43.38zM231.4 765.87h43.38v1.5h-43.38zM144.63 767.37h130.15v1.5h-130.15zM144.63 768.87h130.15v1.5h-130.15zM144.63 770.37h43.38v1.5h-43.38zM202.48 770.37h72.31v1.5h-72.31zM159.09 771.87h115.69v1.5h-115.69zM159.09 773.37h28.92v1.5h-28.92zM202.48 773.37h28.92v1.5h-28.92zM245.86 773.37h28.92v1.5h-28.92zM144.63 774.87h72.31v1.5h-72.31zM231.4 774.87h43.38v1.5h-43.38zM144.63 776.37h72.31v1.5h-72.31zM231.4 776.37h43.38v1.5h-43.38zM159.09 777.87h28.92v1.5h-28.92zM202.48 777.87h28.92v1.5h-28.92zM245.86 777.87h14.46v1.5h-14.46zM159.09 779.38h115.69v1.5h-115.69zM159.09 780.88h43.38v1.5h-43.38zM216.94 780.88h57.85v1.5h-57.85zM159.09 782.38h43.38v1.5h-43.38zM231.4 782.38h28.92v1.5h-28.92zM159.09 783.88h28.92v1.5h-28.92zM216.94 783.88h57.85v1.5h-57.85zM159.09 785.38h101.23v1.5h-101.23zM144.63 786.88h14.46v1.5h-14.46zM173.55 786.88h86.77v1.5h-86.77zM159.09 788.38h86.77v1.5h-86.77zM260.32 788.38h14.46v1.5h-14.46zM159.09 789.88h72.31v1.5h-72.31zM245.86 789.88h28.92v1.5h-28.92zM159.09 791.38h14.46v1.5h-14.46zM188.02 791.38h28.92v1.5h-28.92zM231.4 791.38h14.46v1.5h-14.46zM260.32 791.38h14.46v1.5h-14.46zM159.09 792.88h57.85v1.5h-57.85zM245.86 792.88h28.92v1.5h-28.92zM173.55 794.38h101.23v1.5h-101.23zM491.71 794.38h14.46v1.5h-14.46zM159.09 795.88h14.46v1.5h-14.46zM216.94 795.88h14.46v1.5h-14.46zM260.32 795.88h14.46v1.5h-14.46zM159.09 797.38h115.69v1.5h-115.69zM173.55 798.89h14.46v1.5h-14.46zM202.48 798.89h28.92v1.5h-28.92zM245.86 798.89h28.92v1.5h-28.92zM159.09 800.39h14.46v1.5h-14.46zM188.02 800.39h28.92v1.5h-28.92zM231.4 800.39h43.38v1.5h-43.38zM173.55 801.89h101.23v1.5h-101.23zM202.48 803.39h43.38v1.5h-43.38zM260.32 803.39h14.46v1.5h-14.46zM144.63 804.89h14.46v1.5h-14.46zM173.55 804.89h14.46v1.5h-14.46zM202.48 804.89h43.38v1.5h-43.38zM260.32 804.89h14.46v1.5h-14.46zM144.63 806.39h28.92v1.5h-28.92zM188.02 806.39h28.92v1.5h-28.92zM245.86 806.39h14.46v1.5h-14.46zM159.09 807.89h101.23v1.5h-101.23zM188.02 809.39h14.46v1.5h-14.46zM216.94 809.39h43.38v1.5h-43.38zM159.09 810.89h14.46v1.5h-14.46zM216.94 810.89h28.92v1.5h-28.92zM260.32 810.89h14.46v1.5h-14.46zM159.09 812.39h14.46v1.5h-14.46zM188.02 812.39h86.77v1.5h-86.77zM159.09 813.89h14.46v1.5h-14.46zM202.48 813.89h72.31v1.5h-72.31zM477.25 813.89h14.46v1.5h-14.46zM159.09 815.39h115.69v1.5h-115.69zM592.94 815.39h14.46v1.5h-14.46zM144.63 816.9h43.38v1.5h-43.38zM202.48 816.9h28.92v1.5h-28.92zM245.86 816.9h28.92v1.5h-28.92zM578.48 816.9h14.46v1.5h-14.46zM159.09 818.4h72.31v1.5h-72.31zM245.86 818.4h28.92v1.5h-28.92zM578.48 818.4h14.46v1.5h-14.46zM202.48 819.9h28.92v1.5h-28.92zM260.32 819.9h14.46v1.5h-14.46zM173.55 821.4h43.38v1.5h-43.38zM260.32 821.4h14.46v1.5h-14.46zM159.09 822.9h115.69v1.5h-115.69zM144.63 824.4h130.15v1.5h-130.15zM477.25 824.4h14.46v1.5h-14.46zM159.09 825.9h14.46v1.5h-14.46zM188.02 825.9h43.38v1.5h-43.38zM245.86 825.9h28.92v1.5h-28.92zM159.09 827.4h115.69v1.5h-115.69zM144.63 828.9h43.38v1.5h-43.38zM202.48 828.9h72.31v1.5h-72.31zM144.63 830.4h57.85v1.5h-57.85zM216.94 830.4h57.85v1.5h-57.85zM144.63 831.9h43.38v1.5h-43.38zM202.48 831.9h43.38v1.5h-43.38zM260.32 831.9h14.46v1.5h-14.46zM144.63 833.4h43.38v1.5h-43.38zM202.48 833.4h14.46v1.5h-14.46zM231.4 833.4h43.38v1.5h-43.38zM159.09 834.91h28.92v1.5h-28.92zM202.48 834.91h28.92v1.5h-28.92zM260.32 834.91h14.46v1.5h-14.46zM144.63 836.41h86.77v1.5h-86.77zM245.86 836.41h14.46v1.5h-14.46zM578.48 836.41h14.46v1.5h-14.46zM144.63 837.91h130.15v1.5h-130.15zM535.09 837.91h14.46v1.5h-14.46zM144.63 839.41h72.31v1.5h-72.31zM231.4 839.41h43.38v1.5h-43.38zM159.09 840.91h57.85v1.5h-57.85zM231.4 840.91h14.46v1.5h-14.46zM159.09 842.41h28.92v1.5h-28.92zM202.48 842.41h28.92v1.5h-28.92zM477.25 842.41h14.46v1.5h-14.46zM159.09 843.91h28.92v1.5h-28.92zM202.48 843.91h72.31v1.5h-72.31zM173.55 845.41h101.23v1.5h-101.23zM173.55 846.91h101.23v1.5h-101.23zM159.09 848.41h101.23v1.5h-101.23zM144.63 849.91h72.31v1.5h-72.31zM231.4 849.91h43.38v1.5h-43.38zM144.63 851.41h72.31v1.5h-72.31zM245.86 851.41h14.46v1.5h-14.46zM144.63 852.92h130.15v1.5h-130.15zM144.63 854.42h130.15v1.5h-130.15zM549.55 854.42h14.46v1.5h-14.46zM159.09 855.92h115.69v1.5h-115.69zM159.09 857.42h43.38v1.5h-43.38zM216.94 857.42h57.85v1.5h-57.85zM43.4 858.92h14.46v1.5h-14.46zM159.09 858.92h115.69v1.5h-115.69zM477.25 858.92h14.46v1.5h-14.46zM43.4 860.42h43.38v1.5h-43.38zM159.09 860.42h72.31v1.5h-72.31zM245.86 860.42h28.92v1.5h-28.92zM477.25 860.42h14.46v1.5h-14.46zM72.32 861.92h14.46v1.5h-14.46zM159.09 861.92h28.92v1.5h-28.92zM202.48 861.92h43.38v1.5h-43.38zM260.32 861.92h14.46v1.5h-14.46zM144.63 863.42h28.92v1.5h-28.92zM188.02 863.42h57.85v1.5h-57.85zM144.63 864.92h72.31v1.5h-72.31zM231.4 864.92h43.38v1.5h-43.38zM173.55 866.42h57.85v1.5h-57.85zM159.09 867.92h14.46v1.5h-14.46zM202.48 867.92h57.85v1.5h-57.85zM159.09 869.42h28.92v1.5h-28.92zM216.94 869.42h14.46v1.5h-14.46zM245.86 869.42h14.46v1.5h-14.46zM159.09 870.93h28.92v1.5h-28.92zM202.48 870.93h72.31v1.5h-72.31zM173.55 872.43h28.92v1.5h-28.92zM216.94 872.43h57.85v1.5h-57.85zM173.55 873.93h14.46v1.5h-14.46zM202.48 873.93h28.92v1.5h-28.92zM245.86 873.93h28.92v1.5h-28.92zM159.09 875.43h28.92v1.5h-28.92zM202.48 875.43h28.92v1.5h-28.92zM245.86 875.43h14.46v1.5h-14.46zM188.02 876.93h43.38v1.5h-43.38zM245.86 876.93h14.46v1.5h-14.46zM188.02 878.43h14.46v1.5h-14.46zM245.86 878.43h14.46v1.5h-14.46zM173.55 879.93h14.46v1.5h-14.46zM159.09 881.43h43.38v1.5h-43.38zM231.4 881.43h28.92v1.5h-28.92zM144.63 882.93h28.92v1.5h-28.92zM188.02 882.93h28.92v1.5h-28.92zM231.4 882.93h43.38v1.5h-43.38zM43.4 884.43h14.46v1.5h-14.46zM72.32 884.43h14.46v1.5h-14.46zM188.02 884.43h14.46v1.5h-14.46zM216.94 884.43h14.46v1.5h-14.46zM144.63 885.93h57.85v1.5h-57.85zM245.86 885.93h28.92v1.5h-28.92zM159.09 887.43h57.85v1.5h-57.85zM245.86 887.43h28.92v1.5h-28.92zM159.09 888.94h57.85v1.5h-57.85zM231.4 888.94h28.92v1.5h-28.92zM159.09 890.44h57.85v1.5h-57.85zM231.4 890.44h28.92v1.5h-28.92zM159.09 891.94h72.31v1.5h-72.31zM245.86 891.94h28.92v1.5h-28.92zM159.09 893.44h72.31v1.5h-72.31zM245.86 893.44h14.46v1.5h-14.46zM159.09 894.94h14.46v1.5h-14.46zM188.02 894.94h43.38v1.5h-43.38zM260.32 894.94h14.46v1.5h-14.46zM159.09 896.44h14.46v1.5h-14.46zM202.48 896.44h14.46v1.5h-14.46zM245.86 896.44h28.92v1.5h-28.92zM159.09 897.94h28.92v1.5h-28.92zM202.48 897.94h57.85v1.5h-57.85zM188.02 899.44h28.92v1.5h-28.92zM245.86 899.44h28.92v1.5h-28.92zM159.09 900.94h72.31v1.5h-72.31zM245.86 900.94h28.92v1.5h-28.92zM159.09 902.44h28.92v1.5h-28.92zM202.48 902.44h28.92v1.5h-28.92zM260.32 902.44h14.46v1.5h-14.46zM173.55 903.94h43.38v1.5h-43.38zM231.4 903.94h14.46v1.5h-14.46zM260.32 903.94h14.46v1.5h-14.46zM43.4 905.44h14.46v1.5h-14.46zM72.32 905.44h14.46v1.5h-14.46zM173.55 905.44h28.92v1.5h-28.92zM231.4 905.44h14.46v1.5h-14.46zM260.32 905.44h14.46v1.5h-14.46zM159.09 906.95h28.92v1.5h-28.92zM260.32 906.95h14.46v1.5h-14.46zM144.63 908.45h57.85v1.5h-57.85zM216.94 908.45h57.85v1.5h-57.85zM159.09 909.95h43.38v1.5h-43.38zM245.86 909.95h14.46v1.5h-14.46zM173.55 911.45h14.46v1.5h-14.46zM202.48 911.45h14.46v1.5h-14.46zM231.4 911.45h14.46v1.5h-14.46zM260.32 911.45h14.46v1.5h-14.46zM144.63 912.95h28.92v1.5h-28.92zM188.02 912.95h43.38v1.5h-43.38zM245.86 912.95h28.92v1.5h-28.92zM159.09 914.45h86.77v1.5h-86.77zM260.32 914.45h14.46v1.5h-14.46zM144.63 915.95h72.31v1.5h-72.31zM231.4 915.95h43.38v1.5h-43.38zM535.09 915.95h14.46v1.5h-14.46zM144.63 917.45h57.85v1.5h-57.85zM216.94 917.45h14.46v1.5h-14.46zM260.32 917.45h14.46v1.5h-14.46zM159.09 918.95h43.38v1.5h-43.38zM216.94 918.95h28.92v1.5h-28.92zM260.32 918.95h14.46v1.5h-14.46zM159.09 920.45h43.38v1.5h-43.38zM216.94 920.45h43.38v1.5h-43.38zM173.55 921.95h14.46v1.5h-14.46zM216.94 921.95h14.46v1.5h-14.46zM245.86 921.95h14.46v1.5h-14.46zM173.55 923.45h43.38v1.5h-43.38zM245.86 923.45h28.92v1.5h-28.92zM202.48 924.96h72.31v1.5h-72.31zM188.02 926.46h86.77v1.5h-86.77zM144.63 927.96h14.46v1.5h-14.46zM173.55 927.96h101.23v1.5h-101.23zM159.09 929.46h115.69v1.5h-115.69zM144.63 930.96h14.46v1.5h-14.46zM188.02 930.96h57.85v1.5h-57.85zM477.25 930.96h14.46v1.5h-14.46zM506.17 930.96h14.46v1.5h-14.46zM159.09 932.46h115.69v1.5h-115.69zM506.17 932.46h14.46v1.5h-14.46zM144.63 933.96h43.38v1.5h-43.38zM202.48 933.96h72.31v1.5h-72.31zM506.17 933.96h14.46v1.5h-14.46zM535.09 933.96h14.46v1.5h-14.46zM159.09 935.46h14.46v1.5h-14.46zM188.02 935.46h43.38v1.5h-43.38zM245.86 935.46h28.92v1.5h-28.92zM159.09 936.96h28.92v1.5h-28.92zM202.48 936.96h28.92v1.5h-28.92zM245.86 936.96h28.92v1.5h-28.92zM159.09 938.46h28.92v1.5h-28.92zM216.94 938.46h57.85v1.5h-57.85zM43.4 939.96h14.46v1.5h-14.46zM159.09 939.96h115.69v1.5h-115.69zM159.09 941.46h72.31v1.5h-72.31zM245.86 941.46h28.92v1.5h-28.92zM173.55 942.97h101.23v1.5h-101.23zM159.09 944.47h72.31v1.5h-72.31zM245.86 944.47h28.92v1.5h-28.92zM159.09 945.97h115.69v1.5h-115.69zM159.09 947.47h115.69v1.5h-115.69zM159.09 948.97h14.46v1.5h-14.46zM202.48 948.97h14.46v1.5h-14.46zM231.4 948.97h14.46v1.5h-14.46zM260.32 948.97h14.46v1.5h-14.46zM159.09 950.47h14.46v1.5h-14.46zM216.94 950.47h43.38v1.5h-43.38zM159.09 951.97h43.38v1.5h-43.38zM216.94 951.97h43.38v1.5h-43.38zM144.63 953.47h57.85v1.5h-57.85zM216.94 953.47h14.46v1.5h-14.46zM245.86 953.47h14.46v1.5h-14.46zM216.94 954.97h28.92v1.5h-28.92zM260.32 954.97h14.46v1.5h-14.46zM159.09 956.47h115.69v1.5h-115.69zM159.09 957.97h28.92v1.5h-28.92zM202.48 957.97h72.31v1.5h-72.31zM159.09 959.47h101.23v1.5h-101.23zM173.55 960.98h101.23v1.5h-101.23zM477.25 960.98h14.46v1.5h-14.46zM535.09 960.98h14.46v1.5h-14.46zM245.86 962.48h14.46v1.5h-14.46zM159.09 963.98h28.92v1.5h-28.92zM202.48 963.98h14.46v1.5h-14.46zM231.4 963.98h28.92v1.5h-28.92zM159.09 965.48h43.38v1.5h-43.38zM245.86 965.48h14.46v1.5h-14.46zM159.09 966.98h14.46v1.5h-14.46zM188.02 966.98h43.38v1.5h-43.38zM245.86 966.98h28.92v1.5h-28.92zM173.55 968.48h101.23v1.5h-101.23zM188.02 969.98h14.46v1.5h-14.46zM245.86 969.98h28.92v1.5h-28.92zM159.09 971.48h43.38v1.5h-43.38zM245.86 971.48h28.92v1.5h-28.92zM159.09 972.98h43.38v1.5h-43.38zM245.86 972.98h14.46v1.5h-14.46zM506.17 972.98h14.46v1.5h-14.46zM72.32 974.48h14.46v1.5h-14.46zM144.63 974.48h28.92v1.5h-28.92zM592.94 974.48h14.46v1.5h-14.46zM144.63 975.98h28.92v1.5h-28.92zM188.02 975.98h72.31v1.5h-72.31zM535.09 975.98h14.46v1.5h-14.46zM144.63 977.48h130.15v1.5h-130.15zM592.94 977.48h14.46v1.5h-14.46zM159.09 978.99h86.77v1.5h-86.77zM260.32 978.99h14.46v1.5h-14.46zM144.63 980.49h86.77v1.5h-86.77zM245.86 980.49h28.92v1.5h-28.92zM592.94 980.49h14.46v1.5h-14.46zM144.63 981.99h86.77v1.5h-86.77zM245.86 981.99h28.92v1.5h-28.92zM144.63 983.49h14.46v1.5h-14.46zM173.55 983.49h14.46v1.5h-14.46zM202.48 983.49h72.31v1.5h-72.31zM506.17 983.49h14.46v1.5h-14.46zM144.63 984.99h28.92v1.5h-28.92zM188.02 984.99h14.46v1.5h-14.46zM216.94 984.99h43.38v1.5h-43.38zM289.25 984.99h14.46v1.5h-14.46zM43.4 986.49h14.46v1.5h-14.46zM159.09 986.49h14.46v1.5h-14.46zM188.02 986.49h28.92v1.5h-28.92zM245.86 986.49h14.46v1.5h-14.46zM289.25 986.49h14.46v1.5h-14.46zM216.94 987.99h14.46v1.5h-14.46zM144.63 989.49h14.46v1.5h-14.46zM173.55 989.49h14.46v1.5h-14.46zM216.94 989.49h57.85v1.5h-57.85zM549.55 989.49h14.46v1.5h-14.46zM144.63 990.99h43.38v1.5h-43.38zM202.48 990.99h57.85v1.5h-57.85zM144.63 992.49h130.15v1.5h-130.15zM303.71 992.49h14.46v1.5h-14.46zM144.63 993.99h130.15v1.5h-130.15zM144.63 995.49h43.38v1.5h-43.38zM202.48 995.49h14.46v1.5h-14.46zM231.4 995.49h43.38v1.5h-43.38zM144.63 997h28.92v1.5h-28.92zM202.48 997h28.92v1.5h-28.92zM245.86 997h28.92v1.5h-28.92zM144.63 998.5h28.92v1.5h-28.92zM188.02 998.5h43.38v1.5h-43.38zM245.86 998.5h14.46v1.5h-14.46zM289.25 998.5h28.92v1.5h-28.92zM144.63 1000h14.46v1.5h-14.46zM173.55 1000h57.85v1.5h-57.85zM245.86 1000h14.46v1.5h-14.46zM173.55 1001.5h14.46v1.5h-14.46zM245.86 1001.5h28.92v1.5h-28.92zM144.63 1003h28.92v1.5h-28.92zM202.48 1003h14.46v1.5h-14.46zM231.4 1003h43.38v1.5h-43.38zM144.63 1004.5h14.46v1.5h-14.46zM188.02 1004.5h86.77v1.5h-86.77zM144.63 1006h14.46v1.5h-14.46zM202.48 1006h14.46v1.5h-14.46zM260.32 1006h14.46v1.5h-14.46zM144.63 1007.5h86.77v1.5h-86.77zM245.86 1007.5h28.92v1.5h-28.92zM144.63 1009h115.69v1.5h-115.69zM144.63 1010.5h43.38v1.5h-43.38zM202.48 1010.5h72.31v1.5h-72.31zM578.48 1010.5h14.46v1.5h-14.46zM144.63 1012h130.15v1.5h-130.15zM303.71 1012h14.46v1.5h-14.46zM506.17 1012h14.46v1.5h-14.46zM144.63 1013.5h14.46v1.5h-14.46zM173.55 1013.5h43.38v1.5h-43.38zM260.32 1013.5h14.46v1.5h-14.46zM564.02 1013.5h14.46v1.5h-14.46zM592.94 1013.5h14.46v1.5h-14.46zM144.63 1015.01h28.92v1.5h-28.92zM188.02 1015.01h43.38v1.5h-43.38zM260.32 1015.01h14.46v1.5h-14.46zM144.63 1016.51h130.15v1.5h-130.15zM57.86 1018.01h14.46v1.5h-14.46zM144.63 1018.01h101.23v1.5h-101.23zM260.32 1018.01h14.46v1.5h-14.46zM43.4 1019.51h28.92v1.5h-28.92zM144.63 1019.51h43.38v1.5h-43.38zM202.48 1019.51h72.31v1.5h-72.31zM477.25 1019.51h14.46v1.5h-14.46zM144.63 1021.01h14.46v1.5h-14.46zM188.02 1021.01h86.77v1.5h-86.77zM549.55 1021.01h14.46v1.5h-14.46zM144.63 1022.51h14.46v1.5h-14.46zM173.55 1022.51h101.23v1.5h-101.23zM144.63 1024.01h28.92v1.5h-28.92zM188.02 1024.01h28.92v1.5h-28.92zM231.4 1024.01h43.38v1.5h-43.38zM144.63 1025.51h72.31v1.5h-72.31zM231.4 1025.51h43.38v1.5h-43.38zM477.25 1025.51h14.46v1.5h-14.46zM520.63 1025.51h14.46v1.5h-14.46zM144.63 1027.01h130.15v1.5h-130.15zM159.09 1028.51h72.31v1.5h-72.31zM245.86 1028.51h28.92v1.5h-28.92zM159.09 1030.01h14.46v1.5h-14.46zM188.02 1030.01h14.46v1.5h-14.46zM216.94 1030.01h43.38v1.5h-43.38zM115.71 1031.51h14.46v1.5h-14.46zM159.09 1031.51h115.69v1.5h-115.69zM144.63 1033.02h72.31v1.5h-72.31zM159.09 1034.52h14.46v1.5h-14.46zM202.48 1034.52h28.92v1.5h-28.92zM245.86 1034.52h28.92v1.5h-28.92zM159.09 1036.02h115.69v1.5h-115.69zM173.55 1037.52h43.38v1.5h-43.38zM231.4 1037.52h28.92v1.5h-28.92zM72.32 1039.02h14.46v1.5h-14.46zM159.09 1039.02h14.46v1.5h-14.46zM188.02 1039.02h86.77v1.5h-86.77zM159.09 1040.52h43.38v1.5h-43.38zM216.94 1040.52h57.85v1.5h-57.85zM159.09 1042.02h14.46v1.5h-14.46zM202.48 1042.02h14.46v1.5h-14.46zM245.86 1042.02h14.46v1.5h-14.46zM159.09 1043.52h14.46v1.5h-14.46zM188.02 1043.52h43.38v1.5h-43.38zM245.86 1043.52h28.92v1.5h-28.92zM57.86 1045.02h14.46v1.5h-14.46zM173.55 1045.02h28.92v1.5h-28.92zM216.94 1045.02h57.85v1.5h-57.85zM535.09 1045.02h14.46v1.5h-14.46zM159.09 1046.52h115.69v1.5h-115.69zM477.25 1046.52h14.46v1.5h-14.46zM535.09 1046.52h14.46v1.5h-14.46zM57.86 1048.02h28.92v1.5h-28.92zM159.09 1048.02h115.69v1.5h-115.69zM144.63 1049.52h130.15v1.5h-130.15zM159.09 1051.03h115.69v1.5h-115.69zM144.63 1052.53h115.69v1.5h-115.69zM159.09 1054.03h43.38v1.5h-43.38zM231.4 1054.03h28.92v1.5h-28.92zM477.25 1054.03h14.46v1.5h-14.46zM159.09 1055.53h57.85v1.5h-57.85zM231.4 1055.53h28.92v1.5h-28.92zM159.09 1057.03h57.85v1.5h-57.85zM245.86 1057.03h28.92v1.5h-28.92zM159.09 1058.53h86.77v1.5h-86.77zM260.32 1058.53h14.46v1.5h-14.46zM159.09 1060.03h14.46v1.5h-14.46zM202.48 1060.03h14.46v1.5h-14.46zM231.4 1060.03h43.38v1.5h-43.38zM159.09 1061.53h28.92v1.5h-28.92zM231.4 1061.53h14.46v1.5h-14.46zM260.32 1061.53h14.46v1.5h-14.46zM43.4 1063.03h14.46v1.5h-14.46zM159.09 1063.03h57.85v1.5h-57.85zM231.4 1063.03h14.46v1.5h-14.46zM260.32 1063.03h14.46v1.5h-14.46zM43.4 1064.53h43.38v1.5h-43.38zM159.09 1064.53h43.38v1.5h-43.38zM216.94 1064.53h14.46v1.5h-14.46zM260.32 1064.53h14.46v1.5h-14.46zM43.4 1066.03h14.46v1.5h-14.46zM159.09 1066.03h28.92v1.5h-28.92zM202.48 1066.03h72.31v1.5h-72.31zM173.55 1067.53h101.23v1.5h-101.23zM159.09 1069.04h28.92v1.5h-28.92zM202.48 1069.04h14.46v1.5h-14.46zM245.86 1069.04h14.46v1.5h-14.46zM159.09 1070.54h115.69v1.5h-115.69zM159.09 1072.04h14.46v1.5h-14.46zM202.48 1072.04h14.46v1.5h-14.46zM245.86 1072.04h14.46v1.5h-14.46zM159.09 1073.54h72.31v1.5h-72.31zM245.86 1073.54h28.92v1.5h-28.92zM549.55 1073.54h14.46v1.5h-14.46zM159.09 1075.04h57.85v1.5h-57.85zM231.4 1075.04h28.92v1.5h-28.92zM72.32 1076.54h14.46v1.5h-14.46zM159.09 1076.54h115.69v1.5h-115.69zM506.17 1076.54h14.46v1.5h-14.46zM173.55 1078.04h101.23v1.5h-101.23zM188.02 1079.54h57.85v1.5h-57.85zM260.32 1079.54h14.46v1.5h-14.46zM188.02 1082.54h14.46v1.5h-14.46zM216.94 1082.54h14.46v1.5h-14.46zM245.86 1082.54h14.46v1.5h-14.46zM159.09 1084.04h72.31v1.5h-72.31zM245.86 1084.04h28.92v1.5h-28.92zM43.4 1085.54h43.38v1.5h-43.38zM188.02 1085.54h86.77v1.5h-86.77zM159.09 1087.05h115.69v1.5h-115.69zM144.63 1088.55h86.77v1.5h-86.77zM245.86 1088.55h28.92v1.5h-28.92zM144.63 1090.05h86.77v1.5h-86.77zM245.86 1090.05h28.92v1.5h-28.92zM115.71 1091.55h14.46v1.5h-14.46zM188.02 1091.55h86.77v1.5h-86.77zM43.4 1093.05h14.46v1.5h-14.46zM115.71 1093.05h14.46v1.5h-14.46zM159.09 1093.05h115.69v1.5h-115.69zM578.48 1093.05h14.46v1.5h-14.46zM43.4 1094.55h14.46v1.5h-14.46zM216.94 1094.55h14.46v1.5h-14.46zM245.86 1094.55h28.92v1.5h-28.92zM130.17 1096.05h14.46v1.5h-14.46zM159.09 1096.05h14.46v1.5h-14.46zM188.02 1096.05h86.77v1.5h-86.77zM159.09 1097.55h86.77v1.5h-86.77zM404.94 1097.55h14.46v1.5h-14.46zM130.17 1099.05h14.46v1.5h-14.46zM159.09 1099.05h28.92v1.5h-28.92zM202.48 1099.05h72.31v1.5h-72.31zM404.94 1099.05h14.46v1.5h-14.46zM130.17 1100.55h14.46v1.5h-14.46zM159.09 1100.55h14.46v1.5h-14.46zM202.48 1100.55h14.46v1.5h-14.46zM245.86 1100.55h14.46v1.5h-14.46zM404.94 1100.55h14.46v1.5h-14.46zM130.17 1102.05h14.46v1.5h-14.46zM159.09 1102.05h28.92v1.5h-28.92zM245.86 1102.05h28.92v1.5h-28.92zM130.17 1103.55h14.46v1.5h-14.46zM159.09 1103.55h28.92v1.5h-28.92zM231.4 1103.55h43.38v1.5h-43.38zM159.09 1105.06h28.92v1.5h-28.92zM202.48 1105.06h43.38v1.5h-43.38zM260.32 1105.06h14.46v1.5h-14.46zM404.94 1105.06h14.46v1.5h-14.46zM159.09 1106.56h72.31v1.5h-72.31zM245.86 1106.56h28.92v1.5h-28.92zM404.94 1106.56h14.46v1.5h-14.46zM159.09 1108.06h115.69v1.5h-115.69zM404.94 1108.06h14.46v1.5h-14.46zM159.09 1109.56h14.46v1.5h-14.46zM188.02 1109.56h14.46v1.5h-14.46zM216.94 1109.56h57.85v1.5h-57.85zM404.94 1109.56h14.46v1.5h-14.46zM115.71 1111.06h14.46v1.5h-14.46zM188.02 1111.06h14.46v1.5h-14.46zM216.94 1111.06h14.46v1.5h-14.46zM245.86 1111.06h14.46v1.5h-14.46zM404.94 1111.06h14.46v1.5h-14.46zM101.25 1112.56h14.46v1.5h-14.46zM202.48 1112.56h14.46v1.5h-14.46zM245.86 1112.56h28.92v1.5h-28.92zM404.94 1112.56h14.46v1.5h-14.46zM202.48 1114.06h28.92v1.5h-28.92zM404.94 1114.06h14.46v1.5h-14.46zM188.02 1117.06h14.46v1.5h-14.46zM216.94 1117.06h14.46v1.5h-14.46zM289.25 1117.06h14.46v1.5h-14.46zM159.09 1118.56h14.46v1.5h-14.46zM57.86 1120.06h14.46v1.5h-14.46zM159.09 1120.06h14.46v1.5h-14.46zM188.02 1120.06h14.46v1.5h-14.46zM216.94 1120.06h14.46v1.5h-14.46zM245.86 1120.06h14.46v1.5h-14.46zM159.09 1121.57h101.23v1.5h-101.23zM173.55 1123.07h14.46v1.5h-14.46zM43.4 1126.07h14.46v1.5h-14.46zM72.32 1126.07h14.46v1.5h-14.46zM159.09 1126.07h28.92v1.5h-28.92zM43.4 1127.57h14.46v1.5h-14.46zM159.09 1127.57h14.46v1.5h-14.46zM188.02 1127.57h14.46v1.5h-14.46zM216.94 1127.57h14.46v1.5h-14.46zM245.86 1127.57h28.92v1.5h-28.92zM43.4 1129.07h14.46v1.5h-14.46zM72.32 1129.07h14.46v1.5h-14.46zM202.48 1129.07h14.46v1.5h-14.46zM173.55 1130.57h43.38v1.5h-43.38zM245.86 1130.57h28.92v1.5h-28.92zM43.4 1132.07h14.46v1.5h-14.46zM188.02 1132.07h28.92v1.5h-28.92zM245.86 1132.07h28.92v1.5h-28.92zM144.63 1133.57h14.46v1.5h-14.46zM260.32 1133.57h14.46v1.5h-14.46zM173.55 1135.07h14.46v1.5h-14.46zM202.48 1135.07h43.38v1.5h-43.38zM260.32 1135.07h14.46v1.5h-14.46zM173.55 1136.57h14.46v1.5h-14.46zM245.86 1136.57h28.92v1.5h-28.92zM173.55 1138.07h14.46v1.5h-14.46zM289.25 1138.07h28.92v1.5h-28.92zM188.02 1139.57h14.46v1.5h-14.46zM231.4 1139.57h14.46v1.5h-14.46zM43.4 1141.08h14.46v1.5h-14.46zM144.63 1141.08h130.15v1.5h-130.15zM289.25 1141.08h28.92v1.5h-28.92zM159.09 1142.58h115.69v1.5h-115.69zM289.25 1142.58h28.92v1.5h-28.92zM43.4 1144.08h14.46v1.5h-14.46zM159.09 1144.08h43.38v1.5h-43.38zM216.94 1144.08h14.46v1.5h-14.46zM245.86 1144.08h14.46v1.5h-14.46zM43.4 1145.58h28.92v1.5h-28.92zM86.78 1145.58h14.46v1.5h-14.46zM144.63 1145.58h101.23v1.5h-101.23zM260.32 1145.58h14.46v1.5h-14.46zM159.09 1147.08h28.92v1.5h-28.92zM216.94 1147.08h72.31v1.5h-72.31zM173.55 1148.58h14.46v1.5h-14.46zM216.94 1148.58h14.46v1.5h-14.46zM245.86 1148.58h14.46v1.5h-14.46zM72.32 1150.08h28.92v1.5h-28.92zM115.71 1150.08h14.46v1.5h-14.46zM159.09 1150.08h43.38v1.5h-43.38zM216.94 1150.08h28.92v1.5h-28.92zM260.32 1150.08h14.46v1.5h-14.46zM159.09 1151.58h43.38v1.5h-43.38zM231.4 1151.58h28.92v1.5h-28.92zM57.86 1153.08h14.46v1.5h-14.46zM159.09 1153.08h14.46v1.5h-14.46zM245.86 1153.08h14.46v1.5h-14.46zM159.09 1154.58h43.38v1.5h-43.38zM231.4 1154.58h43.38v1.5h-43.38zM43.4 1156.08h14.46v1.5h-14.46zM72.32 1156.08h14.46v1.5h-14.46zM144.63 1156.08h57.85v1.5h-57.85zM216.94 1156.08h14.46v1.5h-14.46zM260.32 1156.08h14.46v1.5h-14.46zM43.4 1157.59h14.46v1.5h-14.46zM144.63 1157.59h28.92v1.5h-28.92zM202.48 1157.59h72.31v1.5h-72.31zM43.4 1159.09h14.46v1.5h-14.46zM72.32 1159.09h14.46v1.5h-14.46zM144.63 1159.09h28.92v1.5h-28.92zM231.4 1159.09h14.46v1.5h-14.46zM578.48 1159.09h14.46v1.5h-14.46zM144.63 1160.59h14.46v1.5h-14.46zM173.55 1160.59h72.31v1.5h-72.31zM260.32 1160.59h14.46v1.5h-14.46zM578.48 1160.59h14.46v1.5h-14.46zM57.86 1162.09h28.92v1.5h-28.92zM144.63 1162.09h43.38v1.5h-43.38zM231.4 1162.09h14.46v1.5h-14.46zM43.4 1163.59h14.46v1.5h-14.46zM72.32 1163.59h14.46v1.5h-14.46zM231.4 1163.59h14.46v1.5h-14.46zM72.32 1165.09h14.46v1.5h-14.46zM144.63 1165.09h14.46v1.5h-14.46zM144.63 1166.59h14.46v1.5h-14.46zM188.02 1166.59h14.46v1.5h-14.46zM216.94 1166.59h28.92v1.5h-28.92zM260.32 1166.59h14.46v1.5h-14.46zM188.02 1168.09h14.46v1.5h-14.46zM245.86 1168.09h14.46v1.5h-14.46zM144.63 1169.59h14.46v1.5h-14.46zM231.4 1169.59h14.46v1.5h-14.46zM260.32 1169.59h14.46v1.5h-14.46zM43.4 1171.09h14.46v1.5h-14.46zM231.4 1171.09h14.46v1.5h-14.46zM144.63 1172.59h28.92v1.5h-28.92zM188.02 1172.59h14.46v1.5h-14.46zM216.94 1172.59h57.85v1.5h-57.85zM43.4 1174.09h14.46v1.5h-14.46zM72.32 1174.09h14.46v1.5h-14.46zM144.63 1174.09h130.15v1.5h-130.15zM72.32 1175.59h14.46v1.5h-14.46zM144.63 1175.59h28.92v1.5h-28.92zM188.02 1175.59h14.46v1.5h-14.46zM216.94 1175.59h14.46v1.5h-14.46zM57.86 1177.1h14.46v1.5h-14.46zM144.63 1177.1h14.46v1.5h-14.46zM188.02 1177.1h43.38v1.5h-43.38zM245.86 1177.1h14.46v1.5h-14.46zM144.63 1178.6h14.46v1.5h-14.46zM173.55 1178.6h14.46v1.5h-14.46zM216.94 1178.6h14.46v1.5h-14.46zM72.32 1180.1h14.46v1.5h-14.46zM144.63 1180.1h14.46v1.5h-14.46zM173.55 1180.1h14.46v1.5h-14.46zM245.86 1180.1h28.92v1.5h-28.92zM43.4 1181.6h14.46v1.5h-14.46zM72.32 1181.6h14.46v1.5h-14.46zM144.63 1181.6h43.38v1.5h-43.38zM202.48 1181.6h43.38v1.5h-43.38zM260.32 1181.6h14.46v1.5h-14.46zM43.4 1183.1h14.46v1.5h-14.46zM72.32 1183.1h14.46v1.5h-14.46zM144.63 1183.1h28.92v1.5h-28.92zM188.02 1183.1h86.77v1.5h-86.77z"/>
<path fill="#A50F15" d="M86.78 648.8h14.46v1.5h-14.46zM86.78 663.81h14.46v1.5h-14.46zM159.09 722.34h14.46v1.5h-14.46zM173.55 737.35h14.46v1.5h-14.46zM216.94 737.35h14.46v1.5h-14.46zM216.94 740.35h14.46v1.5h-14.46zM173.55 741.85h14.46v1.5h-14.46zM173.55 825.9h14.46v1.5h-14.46zM202.48 830.4h14.46v1.5h-14.46zM159.09 845.41h14.46v1.5h-14.46zM260.32 851.41h14.46v1.5h-14.46zM159.09 960.98h14.46v1.5h-14.46zM159.09 1021.01h28.92v1.5h-28.92zM159.09 1022.51h14.46v1.5h-14.46zM173.55 1039.02h14.46v1.5h-14.46zM159.09 1045.02h14.46v1.5h-14.46zM202.48 1045.02h14.46v1.5h-14.46zM231.4 1106.56h14.46v1.5h-14.46zM144.63 1163.59h14.46v1.5h-14.46zM144.63 1168.09h14.46v1.5h-14.46zM144.63 1171.09h14.46v1.5h-14.46z"/>
<g fill="none" shape-rendering="geometricPrecision"><path d="M43.4 647.68H33.7M43.4 649.03H33.7M43.4 646.33H28.64M43.4 644.98H27.07M43.4 650.38H29.68M43.4 651.73H29.68M43.4 653.08H26.75M43.4 654.43H23.1M43.4 655.78H30.93M43.4 657.13H30.93M43.4 658.48H29.4M43.4 659.83H29.4M43.4 661.18H28.52M43.4 663.89H29.06M43.4 665.24H29.06M43.4 662.54H27.92M43.4 666.59H26.98M43.4 667.94H25.82M43.4 670.64H29.65M43.4 671.99H29.65M43.4 669.29H27.72M43.4 673.34H33.93M43.4 674.69H33.93M43.4 676.04H24.42M43.4 677.39H31.21M43.4 678.74H31.21M43.4 680.09H32.46M43.4 681.45H32.46M43.4 684.15H35.59M43.4 685.5H35.59M43.4 686.85H35.36M43.4 688.2H35.36M43.4 682.8H33.54M43.4 690.9H35.3M43.4 692.25H35.3M43.4 689.55H34.47M43.4 693.6H33.74M43.4 694.95H31.49M43.4 696.3H30.27M43.4 700.36H36.53M43.4 701.71H36.53M43.4 703.06H36.02M43.4 704.41H36.02M43.4 705.76H34.19M43.4 699.01H33.43M43.4 697.65H32.14M43.4 707.11H36.2M43.4 708.46H36.2M43.4 709.81H33.06M43.4 711.16H36.4M43.4 712.51H36.4M43.4 713.86H35.31M43.4 715.21H34.01M43.4 716.57H32.57M43.4 717.92H36.62M43.4 719.27H36.62M43.4 721.97H35.93M43.4 723.32H35.93M43.4 724.67H35.23M43.4 720.62H34.33M43.4 726.02H33.24M43.4 727.37H31.54M43.4 728.72H29.67M43.4 732.77H35.9M43.4 734.12H35.9M43.4 735.48H35.12M43.4 738.18H35.64M43.4 739.53H35.64M43.4 736.83H34.71M43.4 731.42H32.74M43.4 743.58H37.5M43.4 744.93H37.5M43.4 742.23H36.04M43.4 740.88H35.14M43.4 746.28H34.09M43.4 747.63H33.18M43.4 730.07H30.79M43.4 750.33H36.4M43.4 751.68H36.4M43.4 748.98H35.14M43.4 753.04H36.05M43.4 754.39H36.05M43.4 755.74H32.42M43.4 757.09H36.6M43.4 758.44H36.6M43.4 759.79H35.15M43.4 761.14H35.15M43.4 762.49H33.73M43.4 765.19H34.61M43.4 766.54H34.61M43.4 763.84H33.98M43.4 771.95H36.67M43.4 773.3H36.67M43.4 770.6H36.02M43.4 769.24H34.77M43.4 774.65H35.8M43.4 776H35.8M43.4 777.35H35.1M43.4 767.89H32.53M43.4 778.7H36.61M43.4 780.05H36.61M43.4 781.4H37.51M43.4 782.75H37.51M43.4 784.1H33.3M43.4 785.45H37.62M43.4 786.8H37.62M43.4 789.51H36.43M43.4 790.86H36.43M43.4 788.15H34.13M43.4 793.56H36.74M43.4 794.91H36.74M43.4 792.21H34.2M43.4 797.61H36.24M43.4 798.96H36.24M43.4 796.26H34.98M43.4 800.31H34.09M43.4 801.66H37.09M43.4 803.01H37.09M43.4 807.07H35.3M43.4 808.42H35.3M43.4 809.77H33.93M43.4 805.71H32.92M43.4 804.36H31.94M43.4 813.82H36.72M43.4 815.17H36.72M43.4 812.47H34.24M43.4 811.12H33.49M43.4 816.52H35.3M43.4 817.87H35.3M43.4 819.22H37.17M43.4 820.57H37.17M43.4 825.98H35.59M43.4 827.33H35.59M43.4 824.63H34.79M43.4 823.27H33.4M43.4 828.68H35.08M43.4 830.03H35.08M43.4 821.92H30.79M43.4 838.13H37.65M43.4 839.48H37.65M43.4 840.83H36.28M43.4 836.78H35.43M43.4 835.43H34.09M43.4 834.08H33.32M43.4 832.73H32.45M43.4 831.38H30.53M43.4 842.18H33.87M43.4 843.54H33.87M43.4 846.24H37.53M43.4 847.59H37.53M43.4 844.89H34.29M43.4 848.94H33.46M43.4 850.29H36.14M43.4 851.64H36.14M43.4 854.34H36.88M43.4 855.69H36.88M43.4 857.04H34.98M43.4 858.39H34.98M43.4 859.74H37.14M43.4 861.1H37.14M43.4 862.45H33.34M43.4 863.8H33.34M43.4 866.5H34.55M43.4 867.85H34.55M43.4 865.15H33.77M43.4 852.99H29.52M43.4 869.2H37.2M43.4 870.55H37.2M43.4 871.9H36.99M43.4 873.25H36.99M43.4 874.6H33.5M43.4 878.66H34.69M43.4 880.01H34.69M43.4 877.3H33.69M43.4 875.95H32.98M43.4 881.36H37.87M43.4 882.71H37.87M43.4 884.06H35.62M43.4 885.41H35.62M43.4 886.76H36.36M43.4 888.11H36.36M43.4 889.46H33.81M43.4 890.81H35.8M43.4 892.16H35.8M43.4 893.51H34.98M43.4 894.86H34.96M43.4 896.21H34.96M43.4 897.57H33.3M43.4 898.92H31.44M43.4 900.27H34.1M43.4 901.62H34.1M43.4 902.97H35.74M43.4 904.32H35.74M43.4 905.67H37.74M43.4 907.02H37.74M43.4 912.42H35.74M43.4 913.77H35.74M43.4 911.07H34.59M43.4 909.72H33.95M43.4 915.13H36.8M43.4 916.48H36.8M43.4 908.37H31.98M43.4 917.83H35.64M43.4 919.18H35.64M43.4 920.53H34.3M43.4 921.88H32.64M43.4 924.58H35.81M43.4 925.93H35.81M43.4 927.28H34.94M43.4 923.23H34.04M43.4 928.63H32.73M43.4 929.98H31.85M43.4 932.69H34.92M43.4 934.04H34.92M43.4 931.33H33.58M43.4 942.14H38.63M43.4 943.49H38.63M43.4 940.79H37.3M43.4 946.19H38.76M43.4 947.54H38.76M43.4 944.84H37.39M43.4 939.44H35.23M43.4 950.24H38.91M43.4 951.6H38.91M43.4 952.95H38.05M43.4 954.3H36.6M43.4 948.89H35.32M43.4 938.09H32.87M43.4 936.74H31.83M43.4 935.39H30.38M43.4 957H36.64M43.4 958.35H36.64M43.4 955.65H33.88M43.4 959.7H32.38M43.4 961.05H35.84M43.4 962.4H35.84M43.4 966.45H36.84M43.4 967.8H36.84M43.4 969.16H37.7M43.4 970.51H37.7M43.4 971.86H36.4M43.4 973.21H35.04M43.4 965.1H34.1M43.4 963.75H33.24M43.4 974.56H37.65M43.4 975.91H37.65M43.4 978.61H35.48M43.4 979.96H35.48M43.4 977.26H34.33M43.4 981.31H35.79M43.4 982.66H35.79M43.4 985.36H37.31M43.4 986.72H37.31M43.4 984.01H36.17M43.4 988.07H34.38M43.4 989.42H37.33M43.4 990.77H37.33M43.4 992.12H36.88M43.4 993.47H36.88M43.4 996.17H35.72M43.4 997.52H35.72M43.4 998.87H35.44M43.4 1000.22H35.44M43.4 1001.57H33.09M43.4 1002.92H35.15M43.4 1004.27H35.15M43.4 1005.63H33.75M43.4 1006.98H36.46M43.4 1008.33H36.46M43.4 1011.03H37.11M43.4 1012.38H37.11M43.4 1013.73H33.96M43.4 1009.68H32.78M43.4 994.82H30.19M43.4 1019.13H37.01M43.4 1020.48H37.01M43.4 1021.83H37.6M43.4 1023.19H37.6M43.4 1024.54H36.45M43.4 1017.78H35.03M43.4 1016.43H34.04M43.4 1015.08H33.14M43.4 1025.89H32.49M43.4 1027.24H31.38M43.4 1029.94H34.56M43.4 1031.29H34.56M43.4 1032.64H35.41M43.4 1033.99H35.41M43.4 1028.59H32.26M43.4 1035.34H32.99M43.4 1036.69H32.99M43.4 1039.39H35.23M43.4 1040.75H35.23M43.4 1038.04H34.2M43.4 1042.1H36.71M43.4 1043.45H36.71M43.4 1044.8H31.29M43.4 1047.5H37.3M43.4 1048.85H37.3M43.4 1046.15H33.81M43.4 1050.2H36.12M43.4 1051.55H36.12M43.4 1052.9H34.88M43.4 1054.25H33.99M43.4 1055.6H33.1M43.4 1061.01H36.14M43.4 1062.36H36.14M43.4 1059.66H35.01M43.4 1058.3H33.54M43.4 1056.95H31.84M43.4 1063.71H33.88M43.4 1065.06H33.88M43.4 1067.76H36.76M43.4 1069.11H36.76M43.4 1070.46H33.97M43.4 1066.41H33.07M43.4 1073.16H38.9M43.4 1074.51H38.9M43.4 1071.81H37.81M43.4 1075.86H37.15M43.4 1077.22H37.15M43.4 1079.92H37.46M43.4 1081.27H37.46M43.4 1078.57H36.11M43.4 1082.62H33.71M43.4 1083.97H31.27M43.4 1085.32H30.57M43.4 1088.02H34.54M43.4 1089.37H34.54M43.4 1086.67H33.14M43.4 1090.72H36.28M43.4 1092.07H36.28M43.4 1093.42H34.62M43.4 1094.78H34.62M43.4 1096.13H32.69M43.4 1098.83H32.73M43.4 1100.18H32.73M43.4 1101.53H30.51M43.4 1102.88H30.51M43.4 1104.23H29.86M43.4 1105.58H27.05M43.4 1097.48H24.24M43.4 1106.93H29.78M43.4 1108.28H29.78M43.4 1109.63H32.13M43.4 1110.98H32.13M43.4 1112.33H30.64M43.4 1113.69H30.64M43.4 1115.04H32.71M43.4 1116.39H32.71M43.4 1117.74H33.41M43.4 1119.09H33.41M43.4 1120.44H23.76M43.4 1121.79H34.28M43.4 1123.14H34.28M43.4 1124.49H30.19M43.4 1127.19H35M43.4 1128.54H35M43.4 1125.84H30.05M43.4 1129.89H30.96M43.4 1131.25H30.96M43.4 1132.6H29.85M43.4 1135.3H33.37M43.4 1136.65H33.37M43.4 1138H33.25M43.4 1139.35H33.25M43.4 1140.7H30.59M43.4 1142.05H30.59M43.4 1143.4H29.8M43.4 1133.95H23.94M43.4 1146.1H34.66M43.4 1147.45H34.66M43.4 1144.75H29.12M43.4 1150.16H30.92M43.4 1151.51H30.92M43.4 1148.81H29.83M43.4 1152.86H28.57M43.4 1158.26H31.77M43.4 1159.61H31.77M43.4 1156.91H30.25M43.4 1155.56H28.18M43.4 1162.31H31.49M43.4 1163.66H31.49M43.4 1165.01H30.01M43.4 1160.96H28.88M43.4 1166.36H27.9M43.4 1167.72H33.48M43.4 1169.07H33.48M43.4 1170.42H31.49M43.4 1171.77H31.49M43.4 1175.82H31.35M43.4 1177.17H31.35M43.4 1178.52H30.69M43.4 1174.47H29.41M43.4 1173.12H27.91M43.4 1179.87H33.94M43.4 1181.22H33.94M43.4 1182.57H29.28M43.4 1183.92H24.11M43.4 1154.21H20.89" stroke="#111" stroke-width="0.6"/><path d="M33.7 647.68V649.03M28.64 646.33V648.35H33.7M27.07 644.98V647.34H28.64M29.68 650.38V651.73M29.68 651.05H26.75V653.08M27.07 646.16H24.58V652.07H26.75M24.58 649.11H23.1V654.43M30.93 655.78V657.13M23.1 651.77H21.83V656.46H30.93M29.4 658.48V659.83M29.4 659.16H28.52V661.18M21.83 654.11H17.42V660.17H28.52M29.06 663.89V665.24M27.92 662.54V664.56H29.06M27.92 663.55H26.98V666.59M26.98 665.07H25.82V667.94M17.42 657.14H16V666.5H25.82M29.65 670.64V671.99M27.72 669.29V671.31H29.65M33.93 673.34V674.69M27.72 670.3H25.32V674.02H33.93M25.32 672.16H24.42V676.04M31.21 677.39V678.74M24.42 674.1H23.2V678.07H31.21M32.46 680.09V681.45M23.2 676.08H22V680.77H32.46M35.59 684.15V685.5M35.36 686.85V688.2M35.59 684.82H34.51V687.52H35.36M33.54 682.8V686.17H34.51M35.3 690.9V692.25M34.47 689.55V691.58H35.3M34.47 690.56H33.74V693.6M33.54 684.48H32.43V692.08H33.74M32.43 688.28H31.49V694.95M31.49 691.62H30.27V696.3M36.53 700.36V701.71M36.02 703.06V704.41M36.53 701.03H35.06V703.73H36.02M35.06 702.38H34.19V705.76M33.43 699.01V704.07H34.19M32.14 697.65V701.54H33.43M36.2 707.11V708.46M36.2 707.79H33.06V709.81M32.14 699.6H30.66V708.8H33.06M30.27 693.96H29.24V704.2H30.66M36.4 711.16V712.51M36.4 711.84H35.31V713.86M35.31 712.85H34.01V715.21M34.01 714.03H32.57V716.57M36.62 717.92V719.27M35.93 721.97V723.32M35.93 722.64H35.23V724.67M34.33 720.62V723.66H35.23M34.33 722.14H33.24V726.02M36.62 718.59H32.22V724.08H33.24M32.22 721.33H31.54V727.37M32.57 715.3H30.67V724.35H31.54M30.67 719.83H29.67V728.72M35.9 732.77V734.12M35.9 733.45H35.12V735.48M35.64 738.18V739.53M34.71 736.83V738.85H35.64M35.12 734.46H34.02V737.84H34.71M32.74 731.42V736.15H34.02M37.5 743.58V744.93M36.04 742.23V744.26H37.5M35.14 740.88V743.24H36.04M35.14 742.06H34.09V746.28M34.09 744.17H33.18V747.63M32.74 733.79H31.96V745.9H33.18M30.79 730.07V739.84H31.96M36.4 750.33V751.68M35.14 748.98V751.01H36.4M36.05 753.04V754.39M35.14 750H33.86V753.71H36.05M33.86 751.85H32.42V755.74M36.6 757.09V758.44M35.15 759.79V761.14M35.15 760.46H33.73V762.49M36.6 757.76H32.42V761.48H33.73M32.42 753.8H31.26V759.62H32.42M30.79 734.96H28.32V756.71H31.26M34.61 765.19V766.54M33.98 763.84V765.87H34.61M28.32 745.83H27.71V764.85H33.98M29.67 724.27H26.61V755.34H27.71M29.24 699.08H24.53V739.81H26.61M36.67 771.95V773.3M36.02 770.6V772.62H36.67M34.77 769.24V771.61H36.02M35.8 774.65V776M35.8 775.32H35.1V777.35M34.77 770.43H33.92V776.34H35.1M32.53 767.89V773.38H33.92M36.61 778.7V780.05M32.53 770.64H31.49V779.38H36.61M37.51 781.4V782.75M37.51 782.08H33.3V784.1M37.62 785.45V786.8M33.3 783.09H31.88V786.13H37.62M31.49 775.01H29.04V784.61H31.88M36.43 789.51V790.86M34.13 788.15V790.18H36.43M36.74 793.56V794.91M34.2 792.21V794.23H36.74M36.24 797.61V798.96M34.98 796.26V798.29H36.24M34.98 797.27H34.09V800.31M34.2 793.22H33.13V798.79H34.09M37.09 801.66V803.01M33.13 796.01H32.23V802.34H37.09M35.3 807.07V808.42M35.3 807.74H33.93V809.77M32.92 805.71V808.75H33.93M31.94 804.36V807.23H32.92M32.23 799.17H31.01V805.8H31.94M34.13 789.17H30.39V802.49H31.01M36.72 813.82V815.17M34.24 812.47V814.49H36.72M33.49 811.12V813.48H34.24M35.3 816.52V817.87M33.49 812.3H32.1V817.2H35.3M37.17 819.22V820.57M32.1 814.75H30.99V819.9H37.17M30.39 795.83H29.12V817.32H30.99M35.59 825.98V827.33M34.79 824.63V826.65H35.59M33.4 823.27V825.64H34.79M35.08 828.68V830.03M33.4 824.46H31.49V829.35H35.08M30.79 821.92V826.9H31.49M29.12 806.57H27.83V824.41H30.79M37.65 838.13V839.48M37.65 838.81H36.28V840.83M35.43 836.78V839.82H36.28M34.09 835.43V838.3H35.43M33.32 834.08V836.87H34.09M32.45 832.73V835.47H33.32M30.53 831.38V834.1H32.45M33.87 842.18V843.54M37.53 846.24V847.59M34.29 844.89V846.91H37.53M34.29 845.9H33.46V848.94M33.87 842.86H32.84V847.42H33.46M36.14 850.29V851.64M32.84 845.14H31.78V850.96H36.14M30.53 832.74H29.68V848.05H31.78M27.83 815.49H27.38V840.4H29.68M29.04 779.81H24.39V827.95H27.38M24.53 719.44H23.88V803.88H24.39M36.88 854.34V855.69M34.98 857.04V858.39M36.88 855.02H33.75V857.72H34.98M37.14 859.74V861.1M33.34 862.45V863.8M37.14 860.42H32.38V863.12H33.34M33.75 856.37H31.6V861.77H32.38M34.55 866.5V867.85M33.77 865.15V867.17H34.55M31.6 859.07H30.44V866.16H33.77M29.52 852.99V862.61H30.44M37.2 869.2V870.55M36.99 871.9V873.25M36.99 872.58H33.5V874.6M37.2 869.88H32.39V873.59H33.5M29.52 857.8H28.46V871.73H32.39M34.69 878.66V880.01M33.69 877.3V879.33H34.69M32.98 875.95V878.32H33.69M37.87 881.36V882.71M32.98 877.14H31.8V882.03H37.87M35.62 884.06V885.41M36.36 886.76V888.11M35.62 884.73H34.87V887.43H36.36M34.87 886.08H33.81V889.46M35.8 890.81V892.16M35.8 891.49H34.98V893.51M34.96 894.86V896.21M34.98 892.5H34.18V895.54H34.96M34.18 894.02H33.3V897.57M33.81 887.77H32.37V895.79H33.3M32.37 891.78H31.44V898.92M34.1 900.27V901.62M35.74 902.97V904.32M34.1 900.94H33.46V903.64H35.74M37.74 905.67V907.02M33.46 902.29H31.1V906.35H37.74M31.44 895.35H30.18V904.32H31.1M31.8 879.58H29.26V899.83H30.18M35.74 912.42V913.77M34.59 911.07V913.1H35.74M33.95 909.72V912.09H34.59M36.8 915.13V916.48M33.95 910.9H32.92V915.8H36.8M31.98 908.37V913.35H32.92M35.64 917.83V919.18M35.64 918.5H34.3V920.53M34.3 919.52H32.64V921.88M31.98 910.86H30.01V920.7H32.64M35.81 924.58V925.93M35.81 925.26H34.94V927.28M34.04 923.23V926.27H34.94M34.04 924.75H32.73V928.63M32.73 926.69H31.85V929.98M34.92 932.69V934.04M33.58 931.33V933.36H34.92M31.85 928.34H30.11V932.35H33.58M30.01 915.78H28.78V930.34H30.11M29.26 889.71H27.83V923.06H28.78M38.63 942.14V943.49M37.3 940.79V942.82H38.63M38.76 946.19V947.54M37.39 944.84V946.87H38.76M37.3 941.8H36.04V945.85H37.39M35.23 939.44V943.83H36.04M38.91 950.24V951.6M38.91 950.92H38.05V952.95M38.05 951.93H36.6V954.3M35.32 948.89V953.12H36.6M35.23 941.63H34.06V951H35.32M32.87 938.09V946.32H34.06M31.83 936.74V942.2H32.87M30.38 935.39V939.47H31.83M27.83 906.39H25.52V937.43H30.38M28.46 864.77H24.86V921.91H25.52M36.64 957V958.35M33.88 955.65V957.67H36.64M33.88 956.66H32.38V959.7M35.84 961.05V962.4M36.84 966.45V967.8M37.7 969.16V970.51M37.7 969.83H36.4V971.86M36.84 967.13H35.78V970.84H36.4M35.78 968.99H35.04V973.21M34.1 965.1V971.1H35.04M33.24 963.75V968.1H34.1M35.84 961.73H32V965.93H33.24M32.38 958.18H30.66V963.83H32M37.65 974.56V975.91M35.48 978.61V979.96M34.33 977.26V979.29H35.48M35.79 981.31V982.66M37.31 985.36V986.72M36.17 984.01V986.04H37.31M35.79 981.99H35.15V985.03H36.17M35.15 983.51H34.38V988.07M34.33 978.27H32.94V985.79H34.38M37.65 975.23H31.5V982.03H32.94M37.33 989.42V990.77M36.88 992.12V993.47M37.33 990.09H31.9V992.79H36.88M31.5 978.63H30.16V991.44H31.9M30.66 961H28.53V985.04H30.16M35.72 996.17V997.52M35.44 998.87V1000.22M35.72 996.85H34.25V999.55H35.44M34.25 998.2H33.09V1001.57M35.15 1002.92V1004.27M35.15 1003.6H33.75V1005.63M33.09 999.88H32.47V1004.61H33.75M36.46 1006.98V1008.33M37.11 1011.03V1012.38M37.11 1011.7H33.96V1013.73M32.78 1009.68V1012.72H33.96M36.46 1007.65H32.08V1011.2H32.78M32.47 1002.25H31.12V1009.42H32.08M30.19 994.82V1005.84H31.12M37.01 1019.13V1020.48M37.6 1021.83V1023.19M37.6 1022.51H36.45V1024.54M37.01 1019.81H35.68V1023.52H36.45M35.03 1017.78V1021.67H35.68M34.04 1016.43V1019.72H35.03M33.14 1015.08V1018.08H34.04M33.14 1016.58H32.49V1025.89M32.49 1021.23H31.38V1027.24M30.19 1000.33H27.03V1024.24H31.38M28.53 973.02H26.71V1012.28H27.03M24.86 893.34H24.3V992.65H26.71M34.56 1029.94V1031.29M35.41 1032.64V1033.99M34.56 1030.61H33.2V1033.32H35.41M32.26 1028.59V1031.97H33.2M32.99 1035.34V1036.69M35.23 1039.39V1040.75M34.2 1038.04V1040.07H35.23M36.71 1042.1V1043.45M34.2 1039.06H32.81V1042.77H36.71M32.99 1036.02H32.07V1040.91H32.81M32.07 1038.47H31.29V1044.8M32.26 1030.28H29.65V1041.63H31.29M37.3 1047.5V1048.85M33.81 1046.15V1048.17H37.3M36.12 1050.2V1051.55M36.12 1050.88H34.88V1052.9M34.88 1051.89H33.99V1054.25M33.99 1053.07H33.1V1055.6M33.81 1047.16H32.02V1054.34H33.1M29.65 1035.95H28.79V1050.75H32.02M36.14 1061.01V1062.36M35.01 1059.66V1061.68H36.14M33.54 1058.3V1060.67H35.01M31.84 1056.95V1059.49H33.54M33.88 1063.71V1065.06M31.84 1058.22H31.06V1064.38H33.88M36.76 1067.76V1069.11M36.76 1068.44H33.97V1070.46M33.07 1066.41V1069.45H33.97M38.9 1073.16V1074.51M37.81 1071.81V1073.84H38.9M37.15 1075.86V1077.22M37.81 1072.83H36.36V1076.54H37.15M37.46 1079.92V1081.27M36.11 1078.57V1080.59H37.46M36.36 1074.68H35.07V1079.58H36.11M35.07 1077.13H33.71V1082.62M33.07 1067.93H32.22V1079.87H33.71M32.22 1073.9H31.27V1083.97M31.27 1078.94H30.57V1085.32M34.54 1088.02V1089.37M33.14 1086.67V1088.7H34.54M36.28 1090.72V1092.07M34.62 1093.42V1094.78M36.28 1091.4H33.78V1094.1H34.62M33.78 1092.75H32.69V1096.13M33.14 1087.68H31.18V1094.44H32.69M30.57 1082.13H29.09V1091.06H31.18M31.06 1061.3H27.38V1086.59H29.09M28.79 1043.35H25.31V1073.95H27.38M24.3 942.99H22.24V1058.65H25.31M23.88 761.66H21.3V1000.82H22.24M22 678.43H14.2V881.24H21.3M32.73 1098.83V1100.18M30.51 1101.53V1102.88M30.51 1102.2H29.86V1104.23M32.73 1099.5H28.44V1103.22H29.86M28.44 1101.36H27.05V1105.58M24.24 1097.48V1103.47H27.05M29.78 1106.93V1108.28M32.13 1109.63V1110.98M29.78 1107.61H27.15V1110.31H32.13M24.24 1100.47H23.56V1108.96H27.15M30.64 1112.33V1113.69M32.71 1115.04V1116.39M33.41 1117.74V1119.09M32.71 1115.71H27.91V1118.41H33.41M30.64 1113.01H26.46V1117.06H27.91M26.46 1115.04H23.76V1120.44M23.56 1104.72H19.49V1117.74H23.76M34.28 1121.79V1123.14M34.28 1122.47H30.19V1124.49M35 1127.19V1128.54M30.05 1125.84V1127.87H35M30.96 1129.89V1131.25M30.96 1130.57H29.85V1132.6M30.05 1126.86H25.72V1131.58H29.85M30.19 1123.48H24.26V1129.22H25.72M33.37 1135.3V1136.65M33.25 1138V1139.35M30.59 1140.7V1142.05M30.59 1141.38H29.8V1143.4M33.25 1138.67H26.7V1142.39H29.8M33.37 1135.97H25.13V1140.53H26.7M23.94 1133.95V1138.25H25.13M24.26 1126.35H20.77V1136.1H23.94M19.49 1111.23H15.51V1131.22H20.77M34.66 1146.1V1147.45M29.12 1144.75V1146.78H34.66M30.92 1150.16V1151.51M29.83 1148.81V1150.83H30.92M29.83 1149.82H28.57V1152.86M29.12 1145.77H23.38V1151.34H28.57M31.77 1158.26V1159.61M30.25 1156.91V1158.94H31.77M28.18 1155.56V1157.92H30.25M31.49 1162.31V1163.66M31.49 1162.99H30.01V1165.01M28.88 1160.96V1164H30.01M28.88 1162.48H27.9V1166.36M33.48 1167.72V1169.07M27.9 1164.42H25.75V1168.39H33.48M31.49 1170.42V1171.77M25.75 1166.41H24.28V1171.09H31.49M31.35 1175.82V1177.17M31.35 1176.5H30.69V1178.52M29.41 1174.47V1177.51H30.69M27.91 1173.12V1175.99H29.41M33.94 1179.87V1181.22M33.94 1180.55H29.28V1182.57M27.91 1174.55H25.63V1181.56H29.28M25.63 1178.06H24.11V1183.92M24.28 1168.75H23.31V1180.99H24.11M28.18 1156.74H21.83V1174.87H23.31M20.89 1154.21V1165.81H21.83M23.38 1148.55H19.46V1160.01H20.89M15.51 1121.23H13.5V1154.28H19.46M14.2 779.83H11.3V1137.75H13.5M16 661.82H7.6V958.79H11.3" stroke="#111" stroke-width="0.75"/></g>
<g shape-rendering="geometricPrecision" text-rendering="geometricPrecision">
<g font-size="7.4" fill="#000"><text transform="translate(47.53 1186.6) rotate(90) scale(.885 1)">Normal</text><text transform="translate(61.99 1186.6) rotate(90) scale(.885 1)">Normal</text><text transform="translate(76.45 1186.6) rotate(90) scale(.885 1)">Normal</text><text transform="translate(90.92 1186.6) rotate(90) scale(.885 1)">Normal</text><text transform="translate(105.38 1186.6) rotate(90) scale(.885 1)">Normal</text><text transform="translate(119.84 1186.6) rotate(90) scale(.885 1)">Normal</text><text transform="translate(134.3 1186.6) rotate(90) scale(.885 1)">Normal</text><text transform="translate(148.76 1186.6) rotate(90) scale(.885 1)">Normal</text><text transform="translate(163.22 1186.6) rotate(90) scale(.885 1)">Normal</text><text transform="translate(177.68 1186.6) rotate(90) scale(.885 1)">Normal</text><text transform="translate(192.15 1186.6) rotate(90) scale(.885 1)">Normal</text><text transform="translate(206.61 1186.6) rotate(90) scale(.885 1)">Normal</text><text transform="translate(221.07 1186.6) rotate(90) scale(.885 1)">Normal</text><text transform="translate(235.53 1186.6) rotate(90) scale(.885 1)">Normal</text><text transform="translate(249.99 1186.6) rotate(90) scale(.885 1)">Normal</text><text transform="translate(264.45 1186.6) rotate(90) scale(.885 1)">Normal</text><text transform="translate(278.92 1186.6) rotate(90) scale(.885 1)">Tumor</text><text transform="translate(293.38 1186.6) rotate(90) scale(.885 1)">Tumor</text><text transform="translate(307.84 1186.6) rotate(90) scale(.885 1)">Tumor</text><text transform="translate(322.3 1186.6) rotate(90) scale(.885 1)">Tumor</text><text transform="translate(336.76 1186.6) rotate(90) scale(.885 1)">Tumor</text><text transform="translate(351.22 1186.6) rotate(90) scale(.885 1)">Tumor</text><text transform="translate(365.68 1186.6) rotate(90) scale(.885 1)">Tumor</text><text transform="translate(380.15 1186.6) rotate(90) scale(.885 1)">Tumor</text><text transform="translate(394.61 1186.6) rotate(90) scale(.885 1)">Tumor</text><text transform="translate(409.07 1186.6) rotate(90) scale(.885 1)">Tumor</text><text transform="translate(423.53 1186.6) rotate(90) scale(.885 1)">Tumor</text><text transform="translate(437.99 1186.6) rotate(90) scale(.885 1)">Tumor</text><text transform="translate(452.45 1186.6) rotate(90) scale(.885 1)">Tumor</text><text transform="translate(466.92 1186.6) rotate(90) scale(.885 1)">Tumor</text><text transform="translate(481.38 1186.6) rotate(90) scale(.885 1)">Tumor</text><text transform="translate(495.84 1186.6) rotate(90) scale(.885 1)">Tumor</text><text transform="translate(510.3 1186.6) rotate(90) scale(.885 1)">Tumor</text><text transform="translate(524.76 1186.6) rotate(90) scale(.885 1)">Tumor</text><text transform="translate(539.22 1186.6) rotate(90) scale(.885 1)">Tumor</text><text transform="translate(553.68 1186.6) rotate(90) scale(.885 1)">Tumor</text><text transform="translate(568.15 1186.6) rotate(90) scale(.885 1)">Tumor</text><text transform="translate(582.61 1186.6) rotate(90) scale(.885 1)">Tumor</text><text transform="translate(597.07 1186.6) rotate(90) scale(.885 1)">Tumor</text></g>
<text x="609.7" y="641.7" font-size="6.5" font-weight="bold">Name</text>
<rect x="631.5" y="635.2" width="7" height="16.8" fill="#A50F15"/><rect x="631.5" y="651.95" width="7" height="16.8" fill="#DE2D26"/><rect x="631.5" y="668.7" width="7" height="16.8" fill="#FB6A4A"/><rect x="631.5" y="685.45" width="7" height="16.8" fill="#FC9272"/><rect x="631.5" y="702.2" width="7" height="16.8" fill="#FCBBA1"/><rect x="631.5" y="718.95" width="7" height="16.8" fill="#FEE5D9"/><text x="641.1" y="645.6" font-size="6.5">3</text><text x="641.1" y="659.6" font-size="6.5">2</text><text x="641.1" y="673.7" font-size="6.5">1</text><text x="641.1" y="688" font-size="6.5">0</text><text x="641.1" y="702.1" font-size="6.5">-1</text><text x="641.1" y="716.2" font-size="6.5">-2</text><text x="641.1" y="730.5" font-size="6.5">-3</text>
<text x="650.8" y="640.6" font-size="6.5" font-weight="bold">Name</text><rect x="650.8" y="642.2" width="9.8" height="9.8" fill="#00D5DD"/><rect x="650.8" y="652" width="9.8" height="9.8" fill="#FD8F89"/><text x="662.6" y="650" font-size="6.5">CRC</text><text x="662.6" y="659.8" font-size="6.5">Normal</text>
</g></g>
<g font-family="'Liberation Serif', 'Times New Roman', serif" text-anchor="middle" fill="#111" shape-rendering="geometricPrecision">
<text x="339.5" y="593.6" font-size="16">Upregulated</text>
<text x="338" y="615.6" font-size="21" font-weight="bold">A</text>
<text x="345.4" y="1223.9" font-size="15.8">Downregulated</text>
<text x="345.3" y="1248" font-size="21" font-weight="bold">B</text>
</g>
</svg>
</body></html>
